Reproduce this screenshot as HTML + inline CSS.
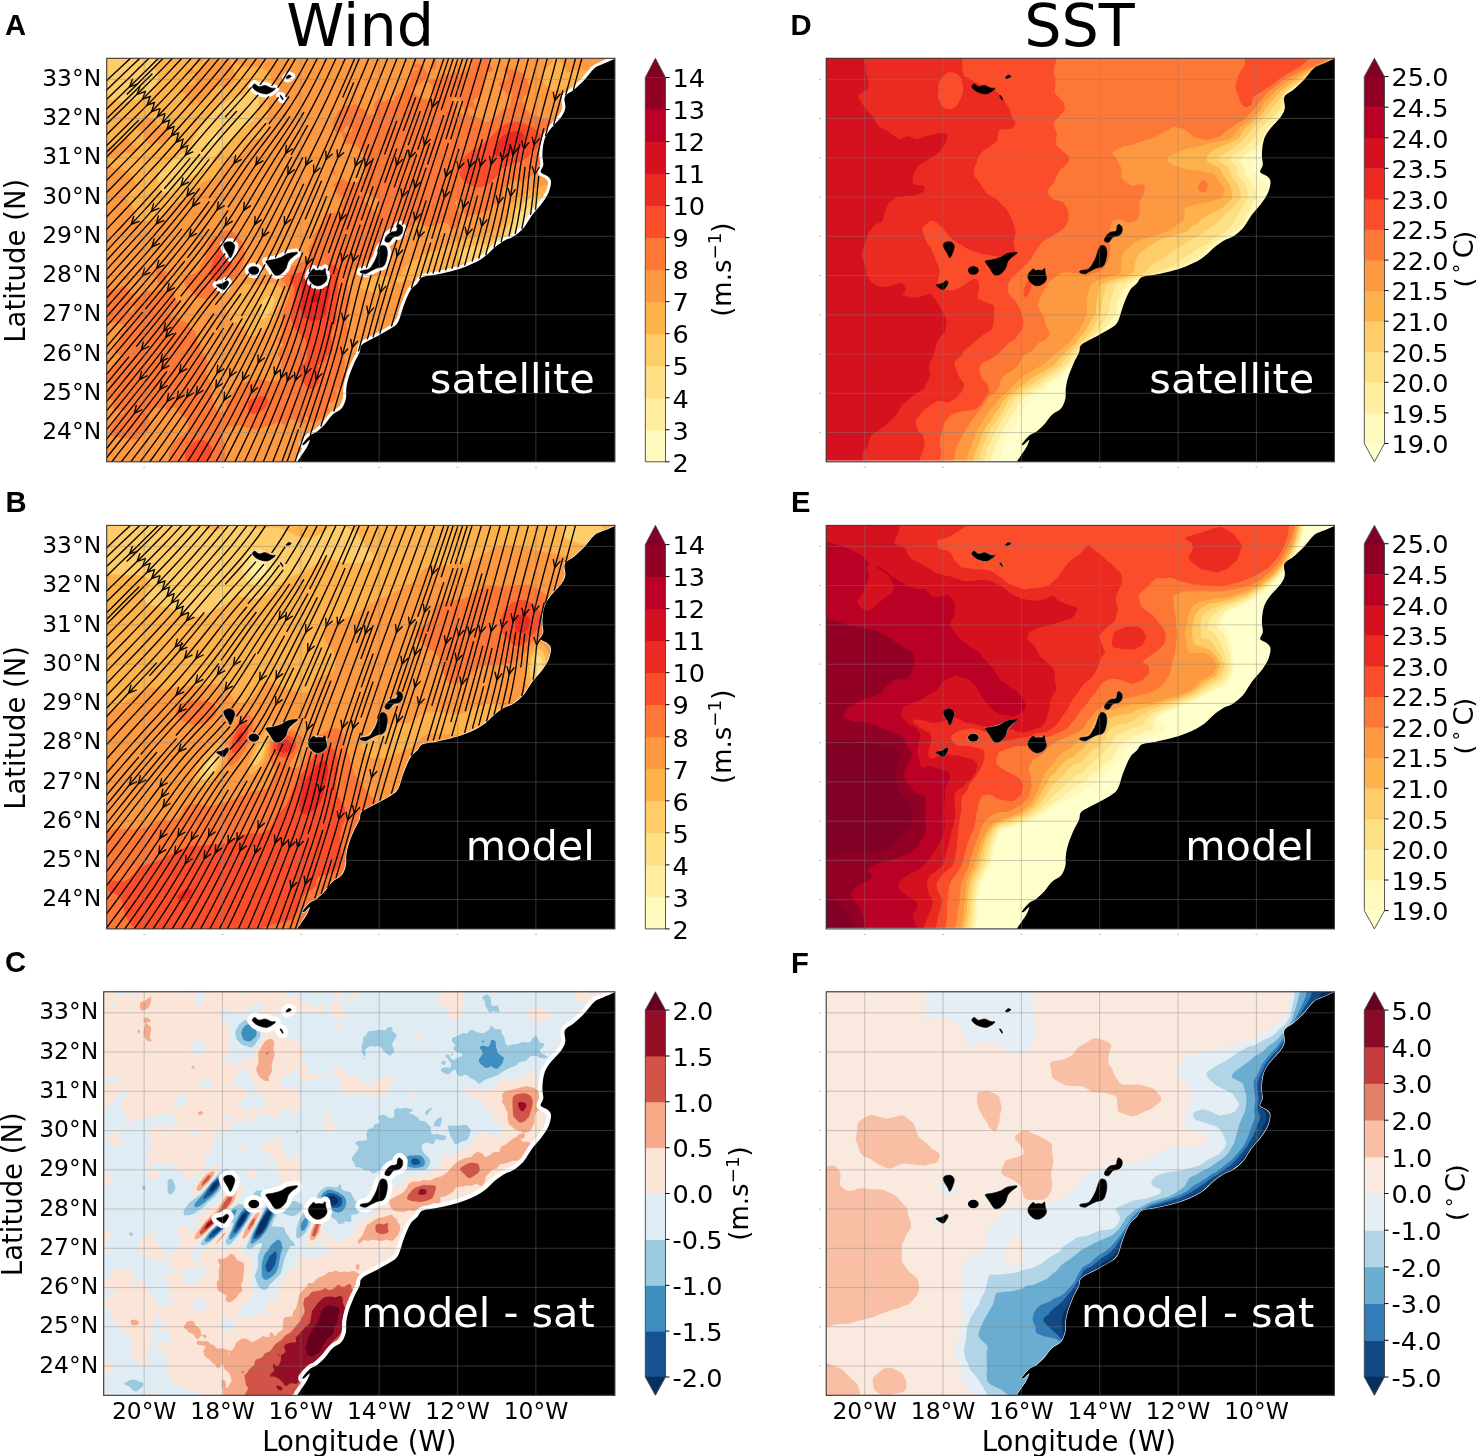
<!DOCTYPE html><html><head><meta charset="utf-8"><title>Wind and SST</title><style>html,body{margin:0;padding:0;background:#fff}svg{display:block}</style></head><body><svg width="1476" height="1456" viewBox="0 0 1476 1456">
<rect width="1476" height="1456" fill="#fff"/>
<clipPath id="cpA"><rect x="0.0" y="0" width="508.2" height="403.5"/></clipPath>
<g transform="translate(106.7,58.3)">
<g clip-path="url(#cpA)">
<rect x="0.0" y="0" width="508.2" height="403.5" fill="#fff9be"/>
<path fill="#ffeda0" fill-rule="evenodd" d="M-8.5 -5.5L514.5 -5.5L514.5 409.5L-8.5 409.5Z"/><path fill="#fee084" fill-rule="evenodd" d="M-8.5 -5.5L514.5 -5.5L514.5 409.5L-8.5 409.5Z"/><path fill="#fecc68" fill-rule="evenodd" d="M-8.5 -5.5L514.5 -5.5L514.5 409.5L-8.5 409.5ZM110.1 74.5L108.5 73.8L106.4 74.5L103.8 79.5L101.0 82.5L100.5 83.5L100.8 84.5L102.5 85.0L105.3 84.5L107.7 83.5L110.3 81.5L111.3 79.5ZM426.5 148.8L423.5 148.1L420.5 149.2L415.3 153.5L412.5 156.6L409.4 161.5L406.3 170.5L401.3 177.5L400.8 179.5L401.6 181.5L403.5 181.9L406.5 180.7L410.5 177.2L416.5 172.9L421.5 168.0L423.0 165.5L427.8 154.5L428.0 151.5Z"/><path fill="#feb24c" fill-rule="evenodd" d="M-8.5 38.0L-2.5 38.0L0.5 40.7L5.5 41.7L9.5 43.2L13.5 42.8L18.5 43.5L30.5 41.6L34.5 39.0L38.5 40.2L40.9 39.5L48.0 31.5L50.4 24.5L51.6 16.5L51.0 14.5L48.2 11.5L47.7 9.5L48.5 7.7L51.5 4.5L51.3 -5.5L514.5 -5.5L514.5 409.5L-8.5 409.5ZM148.5 30.5L146.5 29.6L140.7 31.5L135.5 36.4L125.5 39.9L113.5 47.1L109.5 51.2L104.5 54.3L101.3 59.5L97.2 63.5L95.0 68.5L91.7 72.5L89.5 77.4L86.8 80.5L84.5 86.7L81.5 89.4L79.5 92.5L65.5 101.9L58.5 104.9L51.9 111.5L50.8 113.5L51.5 117.5L50.9 121.5L52.7 125.5L53.2 129.5L55.5 133.5L57.5 134.5L63.7 134.5L65.3 133.5L67.5 130.7L74.5 127.6L78.2 123.5L83.0 119.5L100.5 109.0L102.5 107.0L108.5 97.6L111.5 94.6L114.2 90.5L123.2 83.5L126.7 78.5L131.2 74.5L133.5 71.4L138.5 69.3L141.6 65.5L146.6 62.5L147.9 60.5L149.2 54.5L151.5 49.1L152.5 41.5L151.5 38.6L147.4 36.5L146.9 35.5L148.5 32.4ZM165.5 237.5L163.5 237.3L160.0 238.5L157.5 240.7L155.7 243.5L154.0 248.5L152.9 256.5L153.4 259.5L154.5 260.6L156.5 260.6L159.5 259.0L164.5 252.5L167.6 242.5L167.3 239.5ZM434.8 138.5L432.5 136.8L429.5 137.2L419.5 142.0L414.5 146.1L410.5 148.5L408.8 150.5L405.9 157.5L400.5 168.2L397.5 172.5L392.5 177.8L381.5 185.9L372.5 186.3L362.5 188.6L357.3 190.5L350.2 196.5L349.5 198.5L350.5 202.2L352.0 203.5L358.5 206.0L364.5 206.2L370.5 204.7L374.5 205.2L376.1 204.5L386.5 196.1L398.5 194.4L404.5 192.1L407.5 190.3L410.7 187.5L415.8 181.5L421.5 176.5L426.9 169.5L429.5 163.6L433.0 158.5L435.2 153.5L436.1 149.5L436.4 143.5Z"/><path fill="#fd9941" fill-rule="evenodd" d="M96.0 -5.5L96.4 2.5L91.5 5.7L89.5 6.1L88.6 4.5L89.9 0.5L89.9 -5.5ZM-8.5 88.4L-2.5 88.4L0.5 89.3L2.5 88.7L6.5 86.1L7.5 86.1L9.5 88.6L10.5 89.4L11.5 89.3L12.5 88.5L13.6 84.5L20.5 79.2L21.5 79.6L24.5 85.8L28.5 87.9L29.5 89.0L30.3 91.5L29.8 92.5L24.5 94.9L18.5 94.2L15.1 96.5L12.5 100.1L11.5 100.4L7.5 98.5L2.5 98.6L1.1 100.5L1.1 102.5L2.6 106.5L6.5 109.9L8.5 110.0L11.5 108.0L12.5 108.6L14.5 111.6L15.5 112.1L20.5 111.9L27.2 119.5L28.0 123.5L29.5 126.5L29.3 127.5L27.4 129.5L20.8 133.5L19.3 135.5L19.1 137.5L19.7 139.5L23.0 145.5L26.5 149.5L28.9 153.5L29.2 155.5L27.7 160.5L29.5 162.3L31.5 162.9L44.5 162.4L53.5 158.7L62.9 150.5L65.5 145.4L77.5 141.6L84.5 136.9L86.5 135.0L89.5 129.7L94.5 125.3L98.5 122.5L101.5 121.3L106.5 120.9L109.0 119.5L113.5 114.7L115.5 106.5L120.1 100.5L124.5 98.0L130.5 97.7L137.6 94.5L137.5 93.5L135.7 90.5L136.4 88.5L141.5 84.7L145.5 83.1L148.5 80.8L153.5 79.9L155.5 78.9L160.8 72.5L159.8 67.5L161.3 53.5L161.7 43.5L162.5 38.5L164.1 34.5L164.0 30.5L165.5 25.8L165.6 23.5L164.5 19.4L161.5 14.3L155.5 9.6L149.5 8.2L137.5 9.0L133.5 6.2L129.5 4.9L125.5 1.1L124.5 1.5L123.9 4.5L124.5 6.0L126.8 8.5L126.9 13.5L128.9 16.5L129.6 18.5L128.9 20.5L122.5 28.3L121.5 28.5L117.5 27.7L110.5 28.3L107.5 31.0L102.5 33.3L98.8 40.5L95.5 44.2L92.5 45.0L91.5 44.5L90.5 42.1L89.5 41.3L88.2 42.5L88.0 45.5L86.5 46.8L84.5 46.0L80.8 42.5L79.5 37.1L78.5 35.1L77.5 34.3L74.5 34.7L73.5 34.3L73.5 32.7L76.5 31.0L77.9 28.5L79.5 27.1L86.5 26.8L88.5 25.5L88.5 20.5L89.1 18.5L88.5 15.8L87.5 15.0L81.5 16.2L80.5 15.9L78.9 14.5L78.8 13.5L79.5 12.5L84.5 10.6L86.5 11.4L88.5 14.5L91.8 13.5L92.8 12.5L94.6 7.5L97.5 4.4L100.5 3.2L102.3 1.5L102.7 -5.5L445.9 -5.5L445.8 3.5L444.3 5.5L439.5 9.6L435.1 16.5L435.1 18.5L437.0 24.5L439.0 27.5L445.5 32.4L446.5 32.7L450.5 32.0L453.5 32.6L456.8 30.5L459.5 29.8L461.5 30.5L462.5 33.8L463.5 34.1L469.5 32.9L471.9 31.5L474.4 27.5L478.5 23.0L482.0 20.5L482.6 19.5L482.4 16.5L481.5 14.5L479.5 12.5L476.5 11.2L472.5 11.7L468.5 11.5L463.5 13.9L461.5 14.0L460.0 13.5L457.5 10.6L457.1 6.5L452.3 0.5L452.3 -5.5L514.5 -5.5L514.5 409.5L-8.5 409.5L-8.5 149.6L-2.5 149.6L-1.5 148.6L0.5 148.5L0.2 147.5L-0.9 147.5L-1.5 148.1L-2.5 143.0L-8.5 143.0ZM155.0 6.5L155.5 8.0L156.5 7.9L157.1 6.5L156.5 6.0ZM284.3 226.5L282.3 223.5L281.5 218.5L280.8 217.5L277.5 216.5L271.5 217.2L267.5 218.3L263.5 217.9L261.5 218.5L255.3 223.5L254.0 226.5L253.8 228.5L255.1 230.5L257.5 232.3L263.5 233.2L268.5 234.8L270.5 234.5L281.5 230.0L283.6 228.5ZM284.5 276.5L282.6 279.5L282.1 281.5L284.5 283.6L286.7 286.5L288.2 287.5L290.5 287.9L293.5 287.0L294.7 285.5L295.0 283.5L292.1 278.5L286.5 275.8ZM444.6 128.5L442.8 127.5L438.5 126.4L433.5 128.0L429.5 128.5L416.8 136.5L410.6 139.5L404.1 146.5L399.8 155.5L398.9 160.5L397.0 164.5L393.5 168.9L389.5 171.7L376.5 176.7L372.5 177.3L367.5 179.3L356.5 181.3L351.5 183.2L346.5 184.3L330.5 192.4L324.5 193.1L319.5 195.2L315.5 195.8L311.0 200.5L304.7 203.5L298.5 208.1L297.3 209.5L295.5 214.7L294.5 215.8L290.5 217.9L286.4 216.5L286.2 217.5L288.5 220.1L289.2 224.5L293.5 224.6L299.5 221.9L301.5 221.7L307.5 223.2L313.5 226.8L315.5 227.2L318.5 225.5L323.1 220.5L327.5 218.7L332.5 215.1L339.5 212.9L346.5 213.7L351.5 213.5L356.5 214.3L367.5 213.3L375.5 214.9L378.5 214.9L380.5 213.9L383.5 211.0L389.1 207.5L395.5 205.2L405.5 200.5L415.5 192.3L420.5 185.5L427.5 181.4L431.6 175.5L434.5 168.1L440.5 159.9L442.1 155.5L443.5 148.5L443.5 143.5L445.2 133.5L445.3 130.5ZM170.5 226.4L165.5 224.6L158.5 226.4L146.5 227.3L144.5 226.9L141.5 225.1L138.5 225.6L134.5 227.7L132.6 229.5L129.5 235.8L123.0 244.5L119.5 248.3L119.0 250.5L119.5 252.5L122.5 259.0L126.5 263.8L129.5 264.7L131.5 267.7L137.8 269.5L138.5 270.6L139.5 274.5L142.5 277.9L144.5 278.5L146.5 278.1L158.1 271.5L165.5 263.2L167.5 260.2L170.9 251.5L174.9 243.5L176.7 235.5L176.4 232.5L175.4 230.5L173.5 228.5ZM275.5 281.1L268.5 283.2L267.0 284.5L266.4 286.5L267.2 288.5L269.1 290.5L271.5 295.4L272.6 296.5L274.5 297.1L280.5 294.8L281.5 293.8L281.8 292.5L281.5 288.5L280.2 283.5L279.4 282.5ZM305.5 253.0L302.7 254.5L301.4 256.5L301.3 257.5L303.5 259.6L306.5 260.1L308.5 258.5L308.7 256.5L307.5 253.5ZM374.5 259.5L373.8 261.5L374.8 264.5L374.9 268.5L375.8 269.5L381.5 271.4L386.5 274.5L390.5 274.9L392.5 273.9L393.5 271.5L394.4 265.5L393.5 263.5L390.5 260.3L383.2 258.5L378.5 258.1L376.5 258.4ZM276.5 307.1L275.4 307.5L275.5 309.7L276.5 309.6L277.2 308.5ZM33.1 62.5L34.5 61.7L38.5 61.1L42.5 59.1L48.5 61.3L49.4 62.5L49.5 65.8L50.5 67.1L53.5 68.1L57.5 67.7L59.5 68.9L61.5 71.0L62.8 73.5L63.2 75.5L61.9 80.5L55.5 86.0L53.5 85.9L51.5 84.2L49.5 83.5L43.5 86.5L40.5 85.5L37.8 80.5L37.8 76.5L37.2 74.5L35.5 72.9L31.5 71.9L30.4 70.5Z"/><path fill="#fd7836" fill-rule="evenodd" d="M329.7 -5.5L329.3 2.5L329.7 6.5L328.4 10.5L326.5 11.1L324.5 9.6L324.0 7.5L326.4 0.5L326.4 -5.5ZM416.5 15.1L420.3 21.5L423.1 30.5L422.4 33.5L420.6 35.5L416.5 38.3L415.1 41.5L415.2 42.5L417.5 44.9L418.2 48.5L420.1 52.5L425.5 56.8L429.5 57.4L434.5 60.1L441.5 61.3L443.5 62.5L447.5 67.9L450.9 69.5L453.4 73.5L458.4 77.5L462.5 84.5L466.5 86.4L467.5 87.4L468.7 90.5L468.5 93.7L467.5 94.8L466.5 95.0L463.5 94.4L460.6 92.5L458.5 89.0L453.9 86.5L451.5 86.7L449.1 89.5L449.5 94.6L445.5 98.1L442.5 99.0L441.5 99.9L438.5 108.3L435.5 110.7L432.3 114.5L429.5 116.2L424.5 118.0L417.5 122.7L413.5 123.1L408.5 121.9L405.5 122.9L402.5 126.5L398.5 128.4L396.7 130.5L396.2 132.5L396.3 138.5L395.4 140.5L389.5 145.4L385.5 147.2L381.5 152.0L372.5 155.9L366.5 156.0L361.5 158.9L359.5 157.8L356.5 153.9L355.5 153.2L354.9 153.5L355.5 155.5L353.3 160.5L353.3 165.5L351.5 168.2L349.5 169.5L345.5 170.7L343.6 170.5L341.5 165.7L337.5 164.2L335.5 164.2L327.5 167.7L323.5 168.3L318.5 167.4L312.5 163.8L310.5 163.4L308.5 163.9L305.9 165.5L302.6 169.5L301.5 170.1L297.5 169.5L294.5 171.7L280.5 175.3L278.4 176.5L275.5 182.3L273.2 184.5L269.4 190.5L268.9 192.5L269.1 195.5L268.4 197.5L265.0 199.5L257.5 202.1L253.5 207.0L245.5 211.4L240.6 222.5L240.4 227.5L241.5 234.8L243.1 239.5L243.6 246.5L241.5 251.5L240.2 256.5L240.7 263.5L239.5 267.5L240.9 274.5L237.8 282.5L237.0 289.5L236.9 297.5L238.6 305.5L236.8 314.5L237.5 316.6L241.5 318.2L241.5 319.5L236.9 323.5L233.5 329.2L230.5 330.5L229.6 332.5L229.9 337.5L229.1 340.5L226.5 343.5L222.5 344.4L221.6 345.5L221.3 347.5L222.0 350.5L221.8 352.5L215.8 359.5L206.5 365.1L203.8 364.5L201.2 359.5L199.5 357.9L198.5 357.9L197.7 358.5L197.7 359.5L199.2 363.5L198.5 365.3L191.5 364.3L187.5 361.8L184.5 361.2L182.5 362.0L180.5 365.1L178.5 366.5L176.5 366.2L173.5 363.4L171.5 363.3L166.5 366.8L161.5 366.8L154.5 370.4L147.5 371.0L136.5 368.1L130.5 367.3L125.5 368.3L121.5 368.4L118.7 369.5L117.7 370.5L115.4 378.5L117.8 384.5L118.9 391.5L118.5 396.5L119.0 409.5L64.2 409.5L64.2 403.5L62.3 399.5L62.0 397.5L64.3 388.5L69.5 381.7L78.5 374.5L81.3 370.5L81.7 368.5L81.0 364.5L78.5 359.8L72.3 354.5L70.8 350.5L68.5 349.2L66.5 349.3L63.5 351.9L61.5 352.4L57.5 349.6L56.5 349.5L53.5 350.5L48.5 349.5L46.5 350.1L43.5 353.0L41.5 353.0L40.7 354.5L42.6 362.5L41.2 367.5L41.5 371.9L40.2 373.5L34.5 376.5L32.5 379.6L30.5 381.0L26.5 381.4L20.5 379.5L15.5 379.7L11.5 378.6L6.5 378.2L4.5 376.7L3.4 374.5L3.2 371.5L8.1 362.5L9.5 360.8L11.7 359.5L14.2 356.5L17.5 354.6L18.0 353.5L17.5 352.4L13.5 350.7L9.5 352.1L7.5 351.4L6.5 349.5L6.4 347.5L8.6 342.5L5.5 341.9L2.5 340.4L-0.1 338.5L-1.1 336.5L-0.2 330.5L3.0 326.5L3.3 323.5L2.5 322.0L0.5 320.8L-0.5 321.0L-2.5 322.8L-8.5 322.8L-8.5 314.3L-0.5 314.5L1.5 313.6L7.9 308.5L9.2 306.5L10.3 302.5L14.2 300.5L14.6 298.5L13.7 296.5L12.5 295.6L9.5 294.9L8.0 293.5L6.8 287.5L7.5 285.8L10.5 284.1L12.5 281.6L13.3 278.5L12.5 275.5L16.9 273.5L18.3 270.5L18.5 268.5L17.5 267.1L15.5 265.7L8.5 263.9L4.5 265.0L-8.5 264.8L-8.5 227.2L-2.5 227.2L1.5 230.1L8.5 231.4L11.5 230.8L14.5 227.6L19.5 228.0L20.5 229.0L20.8 232.5L21.5 234.1L25.7 235.5L26.7 236.5L26.4 237.5L22.9 240.5L22.9 242.5L24.5 243.8L26.4 242.5L29.2 239.5L32.8 237.5L36.5 232.9L48.5 233.0L52.5 231.3L61.5 232.8L66.5 231.1L68.4 237.5L68.5 241.1L70.7 244.5L71.0 247.5L70.3 249.5L69.4 250.5L63.5 252.7L62.7 254.5L63.3 256.5L65.5 258.9L68.5 258.5L71.5 259.1L75.5 262.9L80.9 264.5L81.8 267.5L83.2 269.5L89.0 273.5L89.8 282.5L91.5 284.8L94.2 286.5L93.1 291.5L96.8 295.5L97.8 298.5L100.2 301.5L100.3 311.5L99.2 315.5L103.2 324.5L106.4 328.5L106.4 329.5L104.2 332.5L104.1 333.5L106.5 340.5L106.1 346.5L111.5 353.8L119.5 353.1L120.5 351.5L118.7 346.5L118.9 343.5L120.1 342.5L123.5 341.1L125.2 339.5L128.4 329.5L130.5 327.6L137.5 323.9L145.5 322.5L151.5 319.9L161.5 323.5L162.5 323.5L165.5 321.5L168.5 323.0L170.5 323.2L172.5 322.1L177.1 317.5L177.9 314.5L177.5 313.2L175.0 310.5L174.4 301.5L171.8 298.5L171.0 296.5L172.9 290.5L174.5 288.8L176.5 287.7L176.6 286.5L175.5 285.1L172.2 283.5L171.2 281.5L171.5 280.5L174.1 277.5L175.1 274.5L174.7 262.5L175.6 254.5L180.6 243.5L182.7 236.5L183.0 233.5L181.6 229.5L175.5 222.5L171.9 216.5L172.5 215.5L174.5 214.4L177.5 211.3L183.5 208.0L190.5 206.6L192.8 205.5L199.5 200.5L201.3 198.5L202.5 195.5L201.9 191.5L202.3 188.5L205.9 183.5L207.0 177.5L213.5 166.8L219.5 162.5L218.8 158.5L219.3 156.5L220.1 155.5L227.5 154.1L229.5 154.5L232.5 156.3L233.5 156.5L234.8 155.5L235.4 152.5L234.1 147.5L237.0 144.5L237.3 140.5L235.5 138.2L231.5 136.8L229.9 135.5L229.4 131.5L228.5 129.7L226.1 127.5L226.6 126.5L232.5 121.8L235.5 120.6L237.5 121.3L241.5 124.4L245.5 124.3L249.5 125.1L252.6 121.5L258.7 116.5L257.3 109.5L258.3 101.5L255.5 93.5L251.5 89.0L247.8 86.5L242.5 85.6L237.4 85.5L236.5 83.9L236.6 79.5L235.5 75.5L234.5 74.8L229.5 74.2L228.3 72.5L226.4 67.5L226.3 63.5L230.3 55.5L232.5 52.1L237.0 49.5L238.5 47.1L239.5 46.7L242.5 48.2L244.5 48.1L248.5 45.0L253.5 49.8L258.5 51.2L259.3 52.5L259.8 55.5L260.5 56.0L264.5 56.4L267.7 55.5L268.6 54.5L268.6 53.5L267.4 50.5L267.2 47.5L268.2 44.5L269.5 42.6L271.5 41.5L275.5 43.1L277.5 43.1L282.5 40.6L285.1 42.5L286.6 42.5L288.7 40.5L289.2 37.5L293.8 34.5L296.9 29.5L303.6 23.5L304.2 22.5L303.8 17.5L304.5 14.5L307.5 11.7L310.8 11.5L312.0 10.5L311.5 9.1L307.5 10.1L306.5 9.3L306.5 7.5L307.5 6.3L309.5 5.4L312.0 5.5L316.0 7.5L320.2 14.5L320.9 16.5L316.5 23.5L306.0 29.5L304.3 33.5L304.4 34.5L309.5 36.4L313.5 39.2L316.5 40.4L324.5 41.4L325.5 41.1L326.6 39.5L325.3 32.5L326.1 28.5L323.5 24.8L322.5 24.3L319.5 24.3L318.3 23.5L318.8 22.5L320.5 21.7L324.5 21.9L329.8 20.5L332.0 19.5L335.2 16.5L336.5 15.9L342.5 16.8L345.5 14.4L347.5 13.5L353.5 14.4L362.5 11.7L364.8 9.5L365.5 5.5L364.7 0.5L364.7 -5.5L382.2 -5.5L382.2 0.5L381.5 2.5L381.5 4.5L382.5 6.5L386.4 9.5L386.5 11.5L384.5 13.0L380.5 14.2L378.6 16.5L377.7 18.5L378.6 22.5L375.3 28.5L374.5 33.5L371.5 39.2L368.0 40.5L367.1 41.5L366.7 43.5L369.3 51.5L368.5 52.3L367.5 52.1L365.3 49.5L363.5 48.9L361.5 50.5L361.1 55.5L361.5 56.5L368.5 58.5L374.7 61.5L377.5 63.7L379.5 64.1L383.2 62.5L386.0 59.5L390.5 57.1L393.3 54.5L395.5 51.5L401.5 49.5L402.7 48.5L403.7 46.5L404.2 40.5L405.8 36.5L405.5 34.7L404.5 34.2L401.5 36.0L400.5 35.8L391.6 26.5L391.8 25.5L392.8 24.5L397.5 22.4L400.5 22.3L401.5 20.8L401.1 18.5L397.6 11.5L397.5 9.0L398.5 8.8L401.5 11.0L406.5 11.3L412.5 13.1ZM408.1 42.5L408.5 43.6L410.5 44.1L412.7 43.5L413.4 42.5L412.3 41.5L410.5 41.0L408.7 41.5ZM26.5 246.7L24.5 247.0L23.1 249.5L23.5 253.6L24.5 254.3L25.5 253.5L27.9 248.5L27.9 247.5ZM39.5 293.5L39.4 294.5L40.4 295.5L41.5 295.1L41.3 293.5L40.5 293.1ZM257.5 135.1L256.9 136.5L257.0 139.5L255.5 142.6L259.5 143.5L261.5 145.5L263.5 149.2L268.5 152.9L270.5 153.2L271.5 152.6L272.5 150.8L273.5 146.5L273.5 143.1L272.5 141.0L266.5 138.6L261.5 135.3ZM244.5 68.6L242.5 67.1L240.5 67.2L239.5 67.8L236.5 72.5L236.5 74.1L241.5 74.9L244.5 73.6L245.6 71.5ZM345.7 40.5L344.9 41.5L344.7 43.5L348.5 45.5L349.1 47.5L346.6 52.5L346.9 53.5L355.0 55.5L357.0 56.5L357.5 57.4L358.1 56.5L357.6 55.5L357.8 52.5L355.5 47.5L354.5 43.5L352.6 41.5L349.5 39.8L347.5 39.7ZM351.5 141.3L349.5 142.5L348.7 144.5L349.6 150.5L350.5 151.9L354.5 153.1L354.8 152.5L351.6 149.5L351.8 148.5L356.5 145.6L357.3 143.5L356.5 142.1ZM257.2 36.5L257.6 37.5L256.2 39.5L254.5 40.1L253.4 39.5L253.0 38.5L253.5 37.2L255.5 36.2ZM245.9 41.5L246.5 41.3L247.5 41.9L247.5 44.0L245.5 42.6ZM224.5 111.5L225.5 110.8L227.5 111.3L229.0 115.5L227.5 115.8L225.1 114.5L224.3 113.5ZM474.5 121.1L476.1 121.5L478.3 124.5L480.5 126.1L481.1 127.5L481.4 135.5L480.5 137.0L479.5 137.5L477.5 137.5L475.5 136.8L473.6 134.5L473.6 130.5L471.9 125.5L472.5 123.2ZM479.5 141.9L480.8 143.5L480.6 146.5L477.1 150.5L473.9 159.5L472.5 160.6L470.5 160.5L469.0 158.5L468.5 155.5L470.9 151.5L471.1 148.5L476.5 145.0ZM468.5 148.7L469.1 149.5L466.1 153.5L464.5 154.2L463.6 153.5L463.4 151.5L464.5 149.9ZM125.5 173.2L127.5 174.5L135.5 183.5L137.5 193.5L137.9 200.5L134.9 208.5L132.5 212.4L131.5 215.6L130.2 217.5L124.7 222.5L121.5 227.0L115.5 233.1L108.6 235.5L104.5 239.1L102.5 240.1L95.5 240.3L90.5 238.7L87.6 236.5L81.5 229.7L78.5 227.5L77.9 224.5L78.5 220.4L80.1 218.5L87.5 215.4L90.6 213.5L92.4 211.5L94.4 206.5L97.8 200.5L101.2 185.5L105.9 180.5L107.5 178.0L111.5 176.8L115.5 173.8L118.7 172.5L121.5 172.1ZM49.5 209.9L50.5 209.7L54.3 211.5L57.5 212.0L59.7 213.5L60.2 214.5L59.1 218.5L59.5 223.5L58.9 225.5L57.5 226.6L54.5 226.1L51.6 224.5L50.8 223.5L50.3 216.5L48.1 211.5ZM17.4 218.5L18.5 217.6L20.5 217.5L21.9 218.5L22.2 220.5L20.5 221.8L18.5 221.7L17.1 220.5Z"/><path fill="#fc4d2a" fill-rule="evenodd" d="M433.5 75.6L434.2 77.5L431.5 88.3L429.5 90.4L425.5 92.5L421.7 98.5L414.5 103.0L403.5 106.5L396.1 109.5L392.7 112.5L390.2 117.5L388.6 119.5L382.5 125.2L379.5 127.3L373.5 129.2L369.5 129.0L360.3 125.5L356.7 122.5L353.6 118.5L352.6 114.5L353.9 111.5L354.2 107.5L356.1 101.5L357.5 98.5L362.5 94.5L365.5 91.2L370.5 90.3L373.7 86.5L379.5 82.6L389.5 73.8L394.5 67.8L396.3 66.5L406.5 63.1L409.5 62.9L419.5 65.9L426.5 69.1ZM125.5 189.8L127.0 192.5L127.5 196.5L125.9 203.5L123.2 209.5L120.1 213.5L113.5 219.0L108.5 221.7L106.5 221.6L103.8 217.5L103.2 214.5L106.3 201.5L112.5 191.0L114.5 189.2L117.5 188.5ZM226.5 206.8L228.7 207.5L230.5 208.9L231.9 211.5L232.5 214.5L231.4 222.5L231.6 232.5L229.7 242.5L229.6 261.5L224.7 273.5L224.1 276.5L226.5 291.5L224.5 295.0L219.5 298.2L218.5 301.5L216.5 304.1L213.5 306.3L211.4 306.5L211.0 307.5L211.8 311.5L211.5 316.5L212.7 321.5L212.5 323.1L211.5 325.3L208.7 328.5L206.5 330.3L204.5 330.9L200.2 328.5L196.5 324.5L195.5 322.5L194.0 316.5L191.8 312.5L192.2 309.5L193.3 307.5L197.7 304.5L199.9 301.5L200.7 293.5L199.8 289.5L199.2 281.5L198.5 280.1L195.5 277.9L188.1 269.5L185.9 265.5L184.3 259.5L184.1 256.5L184.7 249.5L188.2 235.5L187.2 228.5L183.2 222.5L183.2 219.5L184.0 217.5L185.5 216.5L193.5 214.0L206.5 211.2L217.5 206.4L220.5 206.1ZM158.6 338.5L160.8 341.5L161.3 343.5L160.1 347.5L157.5 351.4L152.2 354.5L149.5 355.5L145.5 355.8L143.1 354.5L141.6 352.5L141.1 350.5L141.3 345.5L142.5 342.3L144.5 341.0L149.5 340.2L153.5 337.4L156.5 337.4ZM101.7 384.5L104.9 388.5L105.7 393.5L104.6 399.5L100.5 403.5L100.5 409.5L80.2 409.5L80.2 403.5L78.5 400.5L78.2 395.5L79.1 392.5L81.8 387.5L86.5 383.9L91.5 381.7L97.5 382.0Z"/><path fill="#eb2b21" fill-rule="evenodd" d="M417.5 76.4L417.9 79.5L416.2 86.5L413.8 89.5L407.5 94.8L402.5 97.6L397.5 98.9L390.5 98.1L387.8 96.5L386.6 92.5L387.6 88.5L396.0 77.5L403.5 73.9L409.5 72.5L413.9 73.5ZM213.5 218.3L220.5 220.5L221.9 221.5L222.8 223.5L223.3 230.5L222.7 237.5L219.8 249.5L219.7 255.5L218.6 257.5L212.5 261.7L205.5 262.5L202.5 262.2L199.5 260.6L196.5 257.5L193.6 249.5L195.1 232.5L194.4 222.5L196.3 220.5L198.5 219.9Z"/><path fill="#d6111f" fill-rule="evenodd" d="M210.5 234.6L211.5 236.5L211.1 241.5L210.5 242.6L207.5 244.8L205.5 244.7L203.8 242.5L204.4 238.5L207.5 235.4L209.5 234.5Z"/>
<path d="M509.3 0.0C506.0 1.8 499.8 4.0 496.2 5.7C492.6 7.4 490.7 7.3 487.5 10.1C484.3 12.8 480.6 18.6 477.2 22.2C473.8 25.8 470.0 29.0 466.8 31.7C463.6 34.4 459.6 35.6 458.2 38.6C456.8 41.6 459.2 46.5 458.6 49.8C458.0 53.1 457.4 54.6 454.7 58.4C452.0 62.1 445.5 68.3 442.6 72.3C439.7 76.3 438.5 78.6 437.4 82.6C436.2 86.6 435.8 92.5 435.7 96.5C435.6 100.5 436.9 103.9 436.6 106.8C436.3 109.7 433.3 111.8 434.0 113.7C434.7 115.6 439.2 116.4 440.9 118.0C442.6 119.6 444.1 120.5 444.3 123.2C444.5 126.0 443.5 130.6 441.8 134.5C440.1 138.4 436.8 142.9 434.0 146.6C431.2 150.3 428.2 153.0 425.3 156.9C422.4 160.8 419.9 166.3 416.7 169.9C413.5 173.5 409.3 176.5 406.3 178.5C403.3 180.5 401.9 180.0 398.9 181.7C395.9 183.4 392.5 185.4 388.5 188.6C384.5 191.8 380.4 197.1 374.7 200.7C368.9 204.3 361.5 207.6 354.0 210.2C346.5 212.8 336.1 214.9 329.8 216.3C323.5 217.7 319.2 217.4 316.0 218.8C312.8 220.2 312.8 222.7 310.8 224.9C308.8 227.1 306.2 228.1 303.9 231.8C301.6 235.6 299.0 242.2 297.0 247.4C295.0 252.6 293.8 259.2 291.8 262.9C289.8 266.6 288.4 267.4 284.9 269.8C281.4 272.2 275.9 274.9 271.0 277.6C266.1 280.3 258.5 283.5 255.5 286.2C252.5 288.9 254.3 290.7 252.9 294.0C251.5 297.3 248.8 301.8 246.9 306.1C245.0 310.4 242.9 315.9 241.7 319.9C240.5 323.9 240.0 326.9 239.6 330.3C239.2 333.8 239.9 337.3 239.1 340.6C238.3 343.9 237.0 347.6 234.8 350.2C232.6 352.8 229.0 353.5 226.1 356.2C223.2 358.9 220.4 363.6 217.5 366.6C214.6 369.6 211.2 372.6 208.9 374.3C206.6 376.0 205.7 375.1 203.5 377.0C201.3 378.9 197.0 383.9 196.0 385.5C195.0 387.1 196.3 387.2 197.5 386.5C198.7 385.8 202.6 381.1 203.0 381.5C203.4 381.9 201.8 386.0 200.2 389.0C198.6 392.0 194.9 396.8 193.3 399.4C191.7 402.0 191.9 400.2 190.7 404.5C189.5 408.8 124.4 421.6 186.0 425.0C247.6 428.4 497.7 500.0 560.0 425.0C622.3 350.0 567.3 46.7 560.0 -25.0C552.7 -96.7 524.5 -9.2 516.0 -5.0C507.6 -0.8 512.6 -1.8 509.3 0.0Z" fill="#fff" stroke="#fff" stroke-width="6.1" stroke-linejoin="round"/><polygon points="159.3,202.7 166.0,201.5 174.5,199.0 180.6,195.4 189.2,193.9 190.6,195.1 185.5,199.0 181.3,203.9 179.4,210.0 174.5,215.5 169.7,217.1 166.6,214.9 163.6,210.0 160.5,205.7" fill="#fff" stroke="#fff" stroke-width="7.6" stroke-linejoin="round"/><polygon points="206.9,210.6 209.0,212.2 212.3,211.8 216.0,212.0 218.4,210.0 219.1,214.9 220.3,219.7 218.4,224.0 213.6,227.1 208.7,227.1 203.8,223.4 201.7,218.5 203.2,214.3" fill="#fff" stroke="#fff" stroke-width="7.6" stroke-linejoin="round"/><polygon points="274.5,187.4 278.8,188.0 280.6,192.9 280.0,200.2 277.0,207.6 269.7,210.0 263.6,213.0 258.7,215.5 253.8,214.3 254.4,212.4 262.3,210.6 266.6,205.1 269.7,199.0 272.1,191.7" fill="#fff" stroke="#fff" stroke-width="7.6" stroke-linejoin="round"/><polygon points="292.8,166.1 295.9,169.1 295.3,174.6 291.6,177.7 286.7,178.9 282.5,183.8 278.2,182.6 280.0,177.7 284.3,174.0 289.8,172.8 291.0,167.9" fill="#fff" stroke="#fff" stroke-width="7.6" stroke-linejoin="round"/><polygon points="117.0,186.2 120.0,183.8 124.9,183.8 128.0,187.4 127.0,192.9 123.7,199.6 121.3,195.4 118.2,190.5" fill="#fff" stroke="#fff" stroke-width="7.6" stroke-linejoin="round"/><polygon points="109.9,226.5 115.8,225.2 120.0,222.4 121.9,224.6 118.8,230.1 116.4,231.3 112.1,228.9" fill="#fff" stroke="#fff" stroke-width="7.6" stroke-linejoin="round"/><polygon points="145.6,28.4 148.1,25.6 152.3,28.4 158.4,27.1 164.5,29.6 168.8,30.2 164.5,33.8 159.7,35.7 153.6,34.5 148.7,32.0" fill="#fff" stroke="#fff" stroke-width="7.6" stroke-linejoin="round"/><polygon points="179.4,19.2 182.2,16.8 184.7,18.0 182.8,19.5 180.4,20.2" fill="#fff" stroke="#fff" stroke-width="7.6" stroke-linejoin="round"/><polygon points="173.3,37.3 174.9,37.7 176.5,41.2 175.3,40.9" fill="#fff" stroke="#fff" stroke-width="7.6" stroke-linejoin="round"/><ellipse cx="147.1" cy="212.2" rx="8.9" ry="7.7" fill="#fff"/>
<path d="M24.1 -0.4L13.9 9.2L3.7 18.8L-0.6 23.0M33.5 -0.4L23.4 9.3L13.2 18.9L3.1 28.6L-1.2 32.7M42.8 -0.5L32.8 9.3L22.8 19.1L12.7 28.8L2.6 38.5L-0.3 41.2M52.2 -0.5L42.3 9.4L32.4 19.2L22.3 29.0L12.3 38.7L2.2 48.5L-0.7 51.3M56.9 -0.5L47.1 9.5L37.2 19.3L27.2 29.2L20.0 36.1M66.3 -0.6L56.6 9.6L46.8 19.6L36.9 29.5L27.0 39.3L17.0 49.1L7.0 58.9L-0.2 65.9M75.6 -0.6L66.1 9.7L56.5 19.8L46.7 29.9L36.9 39.8L27.0 49.7L17.0 59.5L7.0 69.4L-0.1 76.4M85.0 -0.6L75.7 9.8L66.2 20.1L56.5 30.2L46.8 40.3L37.0 50.3L27.1 60.2L17.2 70.1L7.3 80.0L-1.2 88.5M94.4 -0.7L85.2 9.9L75.8 20.3L66.4 30.6L56.8 40.8L47.1 50.9L37.4 61.0L27.5 71.0L17.7 80.9L7.8 90.8L-0.7 99.3M103.7 -0.7L94.7 10.0L85.5 20.5L76.2 31.0L66.7 41.3L57.2 51.5L47.5 61.7L37.8 71.8L28.1 81.8L18.2 91.8L8.4 101.7L-0.0 110.3M113.1 -0.8L104.2 10.1L95.2 20.7L85.9 31.3L76.6 41.7L67.2 52.1L57.7 62.3L48.1 72.5L38.4 82.7L28.7 92.7L18.9 102.8L9.1 112.8L-0.6 122.8M122.5 -0.8L113.7 10.2L104.8 20.9L95.7 31.5L86.4 42.0L77.1 52.5L67.7 62.9L58.2 73.2L48.7 83.5L39.1 93.6L29.4 103.8L19.7 113.8L10.0 123.9L0.2 133.9L-1.2 135.4M131.8 -0.8L123.3 10.2L114.4 21.1L105.3 31.7L96.1 42.3L86.9 52.8L77.6 63.2L68.2 73.7L58.8 84.1L49.4 94.4L39.8 104.6L30.2 114.8L20.5 124.9L10.8 135.0L1.1 145.1L-0.2 146.6M141.2 -0.9L132.8 10.3L124.1 21.3L115.0 32.0L105.8 42.5L96.6 53.0L87.3 63.5L78.1 74.0L68.8 84.5L59.5 95.0L50.1 105.4L40.6 115.6L31.0 125.9L21.4 136.0L11.8 146.2L2.1 156.3L-0.6 159.2M150.5 -0.9L142.4 10.4L133.8 21.5L124.8 32.2L115.6 42.8L106.3 53.2L97.0 63.7L87.8 74.3L78.7 84.9L69.5 95.5L60.2 106.0L50.9 116.4L41.5 126.8L32.0 137.0L22.4 147.2L12.8 157.4L3.2 167.6L-0.9 172.0M159.8 -1.0L151.9 10.6L143.5 21.8L134.7 32.6L125.5 43.1L116.1 53.6L106.8 64.0L97.6 74.6L88.5 85.2L79.5 95.9L70.4 106.6L61.2 117.1L52.0 127.6L42.6 138.0L33.1 148.4L23.6 158.6L14.1 168.9L4.5 179.1L-0.9 185.0M183.2 -1.1L176.0 10.9L168.4 22.6L164.9 27.5M201.8 -1.2L195.3 11.2L188.4 23.3L181.0 35.2L178.8 38.6M211.2 -1.2L204.9 11.3L198.3 23.6L191.4 35.8L184.0 47.7L176.1 59.2L167.8 70.5L159.3 81.7L150.9 92.8L142.6 104.1L134.6 115.6L126.8 127.2L119.0 138.9L111.1 150.4L103.1 161.9L94.9 173.2L86.5 184.4L77.8 195.5L69.1 206.4L60.2 217.2L51.3 228.0L42.3 238.8L33.3 249.4L24.2 260.1L15.1 270.7L6.0 281.3L-0.5 288.9M220.5 -1.3L214.5 11.4L208.2 23.9L201.8 36.3L194.9 48.5L187.6 60.5L180.0 72.2L172.2 83.8L164.3 95.4L156.5 107.0L149.0 118.8L141.6 130.7L134.2 142.6L126.7 154.5L119.2 166.2L111.3 177.8L103.1 189.2L94.6 200.3L85.9 211.2L77.1 222.1L68.3 233.0L59.6 244.0L50.8 254.9L41.9 265.7L33.0 276.5L24.0 287.2L15.0 298.0L6.0 308.7L-0.4 316.3M229.9 -1.3L224.0 11.4L218.1 24.1L211.9 36.7L205.5 49.1L198.8 61.4L191.9 73.6L184.7 85.6L177.5 97.6L170.3 109.6L163.3 121.7L156.3 133.9L149.4 146.0L142.4 158.2L135.2 170.2L127.8 182.1L126.7 183.7M239.2 -1.3L233.6 11.5L227.8 24.3L222.0 37.0L216.0 49.6L209.7 62.2L203.3 74.6L196.8 87.0L190.1 99.3L183.5 111.6L177.0 124.0L170.5 136.4L164.0 148.8L157.5 161.2L150.8 173.5L143.9 185.7L136.5 197.6L128.5 209.1L119.9 220.1L118.6 221.6M248.6 -1.3L243.1 11.5L237.5 24.4L231.9 37.2L226.2 50.0L220.3 62.7L214.4 75.4L208.3 88.0L202.2 100.6L196.0 113.2L189.9 125.7L183.8 138.4L177.7 151.0L171.6 163.5L165.4 176.1L159.0 188.5L152.3 200.8L149.3 206.0M253.3 -1.3L247.8 11.6L242.3 24.4L236.8 37.3L236.0 39.1M262.7 -1.3L257.3 11.6L252.0 24.5L246.6 37.4L241.2 50.4L235.7 63.3L230.2 76.1L224.7 89.0L219.1 101.8L213.5 114.7L207.9 127.5L202.3 140.3L196.7 153.1L191.0 166.0L185.4 178.7L179.7 191.5L178.0 195.2M272.1 -1.4L266.8 11.6L261.5 24.6L256.3 37.6L251.0 50.5L245.8 63.5L240.5 76.5L235.2 89.4L229.8 102.4L224.5 115.3L219.2 128.3L213.8 141.2L208.4 154.1L203.1 167.1L197.7 180.0L192.4 192.9M281.5 -1.4L276.3 11.6L271.1 24.6L266.0 37.7L260.8 50.7L255.7 63.7L250.5 76.7L245.4 89.8L240.3 102.8L235.1 115.8L230.0 128.8L224.8 141.8L219.7 154.9L214.6 167.9L209.4 180.9L204.4 194.0L199.6 207.1L195.0 220.4L190.7 233.7L186.5 247.0L182.1 260.3L177.4 273.5L172.4 286.6L167.0 299.5L161.5 312.4L155.8 325.2L150.0 337.9L144.1 350.6L138.0 363.2L131.9 375.8L125.6 388.3L119.2 400.8L117.3 404.3M290.9 -1.4L285.7 11.7L280.6 24.7L275.6 37.7L270.5 50.8L265.5 63.9L260.4 76.9L255.4 90.0L250.4 103.1L245.5 116.2L240.5 129.2L235.5 142.3L230.6 155.4L225.6 168.5L220.7 181.6L215.9 194.8L211.4 208.0L210.8 209.9M300.2 -1.4L295.2 11.7L290.2 24.7L285.1 37.8L280.2 50.9L275.2 64.0L270.3 77.1L265.3 90.2L260.4 103.3L255.6 116.4L250.7 129.6L245.9 142.7L241.1 155.9L236.3 169.0L231.6 182.2L226.9 195.4L222.6 208.7L221.4 212.5M309.6 -1.4L304.7 11.7L299.7 24.8L294.8 37.9L289.9 51.0L284.9 64.1L280.1 77.2L275.2 90.4L270.4 103.5L265.6 116.7L260.9 129.8L256.1 143.0L251.4 156.2L246.8 169.4L242.2 182.6L237.7 195.9L233.5 209.2L229.7 222.7L226.4 236.3L223.5 250.0L220.7 263.7L217.6 277.4L214.0 290.9L210.0 304.3L205.6 317.6L201.1 330.9L196.5 344.1L191.9 357.3L187.2 370.5L182.4 383.7L177.7 396.8L174.9 404.3M319.0 -1.4L314.2 11.7L309.4 24.9L304.6 38.0L299.7 51.2L294.9 64.3L290.1 77.4L285.3 90.6L280.5 103.8L275.8 116.9L271.1 130.1L266.4 143.3L261.8 156.6L257.2 169.8L252.7 183.0L248.3 196.3L244.1 209.7L240.3 223.2L237.0 236.7L234.0 250.4L231.1 264.1L228.0 277.8L224.5 291.3L220.7 304.8L216.5 318.2L212.3 331.5L207.9 344.8L203.5 358.1L199.1 371.4L194.6 384.7L190.1 397.9L188.2 403.6M328.4 -1.4L323.7 11.8L319.1 25.0L314.4 38.2L309.7 51.4L305.0 64.5L300.2 77.7L295.5 90.9L290.8 104.1L286.1 117.3L281.4 130.5L276.8 143.7L272.3 156.9L267.8 170.2L263.3 183.5L258.9 196.8L254.8 210.1M337.7 -1.4L333.2 11.8L328.7 25.1L324.2 38.3L319.6 51.5L315.0 64.8L310.4 78.0L305.8 91.2L301.2 104.4L296.6 117.6L292.0 130.9L287.4 144.1L282.9 157.4L278.4 170.6L274.0 183.9L270.9 193.4M342.4 -1.5L338.0 11.8L333.5 25.1L329.1 38.4L324.6 51.6L320.1 64.9L315.5 78.1L311.0 91.4M347.1 -1.5L342.7 11.8L338.4 25.1L334.0 38.4L329.5 51.7L325.1 65.0L320.6 78.3L316.2 91.5L311.7 104.8L307.2 118.1L302.7 131.3L298.2 144.6L293.7 157.8L289.9 169.2M351.8 -1.5L347.5 11.9L343.2 25.2L338.8 38.5L334.5 51.8M356.5 -1.5L352.2 11.9L348.0 25.2L343.7 38.5M361.2 -1.5L357.0 11.9L352.8 25.3L348.6 38.6M365.9 -1.5L361.7 11.9L357.6 25.3L353.5 38.7M375.2 -1.5L371.2 11.9L367.2 25.3L363.2 38.8L359.2 52.2L355.1 65.6L351.0 79.0L347.0 92.3L342.9 105.7L338.8 119.1L334.6 132.5L330.5 145.9L326.4 159.3L322.3 172.6L318.2 186.0L314.0 199.4L309.9 212.8L305.8 226.2L304.6 230.0M384.6 -1.5L380.7 12.0L376.9 25.4L373.0 38.9L369.0 52.3L365.1 65.7L361.1 79.2L357.2 92.6L353.2 106.0L349.2 119.4L345.2 132.9L341.2 146.3L337.2 159.7L333.2 173.1L329.2 186.5L325.2 199.9L321.2 213.3L320.6 215.3M394.0 -1.5L390.2 12.0L386.5 25.5L382.7 38.9L378.9 52.4L375.1 65.9L371.2 79.4L367.4 92.8L363.6 106.3L359.7 119.7L355.9 133.2L352.0 146.7L348.1 160.1L344.2 173.6L340.3 187.0L336.4 200.5L332.5 213.9M403.4 -1.5L399.7 12.0L396.1 25.5L392.4 39.0L388.7 52.5L385.0 66.0L381.3 79.5L377.6 93.0L374.0 106.6L370.3 120.1L366.7 133.6L362.9 147.1L359.2 160.6L355.4 174.1L351.6 187.5L347.8 201.0L345.1 210.6M412.8 -1.5L409.1 12.0L405.5 25.5L401.9 39.1L398.3 52.6L394.7 66.1L391.2 79.7L387.7 93.2L384.2 106.8L380.9 120.4L377.5 134.0L374.0 147.5L370.5 161.1L366.8 174.6L363.1 188.1L359.4 201.6L357.9 207.4M422.2 -1.5L418.6 12.0L414.9 25.5L411.3 39.1L407.7 52.6L404.2 66.1L400.7 79.7L397.4 93.3L394.3 107.0L391.4 120.6L388.5 134.3L385.4 148.0L382.1 161.6L378.6 175.1L375.0 188.7L372.0 200.3M431.6 -1.5L428.0 12.0L424.3 25.5L420.7 39.1L417.1 52.6L413.6 66.1L410.2 79.7L407.0 93.3L404.2 107.1L401.8 120.8L399.4 134.6L396.9 148.4L394.0 162.1L390.7 175.7L387.3 189.3M441.0 -1.5L437.4 12.0L433.8 25.5L430.1 39.1L426.5 52.6L423.0 66.1L419.6 79.7L416.5 93.4L413.9 107.1L412.0 121.0L410.2 134.9L408.2 148.7L405.7 162.5L402.7 176.2L402.2 178.1M450.4 -1.5L446.8 12.0L443.2 25.5L439.5 39.0L435.9 52.6L432.4 66.1L429.0 79.7L425.9 93.4L423.5 107.1L421.8 121.0L420.5 135.0L419.0 148.9L416.7 162.7L415.1 170.6M459.8 -1.5L456.2 12.0L452.6 25.5L448.9 39.0L445.3 52.6L441.7 66.1L438.8 77.7M469.2 -1.5L465.6 12.0L462.0 25.5L458.9 37.1M191.8 371.0L187.2 384.2L182.5 397.4L179.8 404.9M224.7 216.3L221.1 229.8L218.1 243.5L215.2 257.2L212.2 270.8L208.7 284.4L204.7 297.8L200.3 311.1L195.7 324.3L191.0 337.5L186.1 350.6L181.3 363.8L176.4 376.9L171.4 390.0L166.3 403.0L165.6 404.9M214.4 230.7L211.2 244.3L208.2 258.0L205.0 271.6L201.3 285.1L197.0 298.5L192.4 311.7L187.6 324.8L182.7 337.9L177.6 351.0L172.6 364.0L167.4 377.1L162.2 390.0L156.9 403.0L156.1 404.9M208.6 229.8L205.3 243.4L202.0 257.0L198.5 270.6L194.5 284.0L190.1 297.3L185.3 310.4L180.3 323.5L175.1 336.5L169.9 349.5L164.6 362.5L159.2 375.4L153.8 388.3L148.2 401.2L146.6 404.8M204.3 225.3L200.6 238.8L197.1 252.3L193.4 265.8L189.2 279.2L184.7 292.5L179.7 305.6L174.6 318.6L169.3 331.5L163.9 344.4L158.4 357.3L152.8 370.2L147.1 383.0L141.3 395.7L137.1 404.8M200.9 219.0L196.9 232.4L193.0 245.9L189.1 259.3L184.8 272.7L180.2 285.9L175.1 298.9L169.8 311.9L164.4 324.8L158.8 337.6L153.1 350.4L147.4 363.2L141.5 375.9L135.5 388.6L129.4 401.2L127.6 404.7M178.3 256.3L173.4 269.4L168.2 282.4L162.6 295.3L156.9 308.1L151.1 320.8L145.1 333.5L139.0 346.1L132.8 358.6L126.5 371.1L120.0 383.5L113.4 395.9L108.7 404.7M196.0 194.2L190.9 207.2L185.9 220.3L181.1 233.5L176.2 246.6L171.2 259.6L165.8 272.6L160.3 285.4L154.5 298.2L148.5 310.8L142.4 323.4L136.2 336.0L129.8 348.5L123.4 360.9L116.8 373.2L110.0 385.5L103.2 397.7L99.2 404.6M178.3 227.8L173.1 240.8L167.8 253.7L162.3 266.6L156.5 279.3L150.5 292.0L144.4 304.6L138.2 317.1L131.8 329.6L125.3 342.0L118.6 354.3L111.9 366.6L105.0 378.8L97.9 390.9L90.7 402.9L89.7 404.6M154.7 269.8L148.6 282.4L142.3 295.0L136.0 307.4L129.5 319.8L122.9 332.2L116.1 344.4L109.2 356.6L102.2 368.7L95.0 380.7L87.7 392.7L80.2 404.5M171.9 220.7L166.1 233.5L160.2 246.2L154.0 258.7L147.8 271.2L141.4 283.7L134.9 296.1L128.3 308.5L121.6 320.8L114.8 333.0L107.8 345.1L100.7 357.2L93.4 369.1L86.0 381.0L78.4 392.8L70.7 404.5M154.8 246.1L148.3 258.5L141.7 270.9L135.1 283.3L128.4 295.6L121.6 307.8L114.7 320.0L107.7 332.1L100.5 344.1L93.1 356.0L85.7 367.8L78.0 379.6L70.3 391.2L62.4 402.8L61.3 404.4M165.1 216.1L158.8 228.6L152.2 240.9L145.4 253.2L138.5 265.4L131.7 277.6L124.9 289.8L117.9 302.0L110.9 314.1L103.7 326.1L96.4 338.0L88.9 349.8L81.2 361.6L73.5 373.2L65.6 384.8L57.6 396.3L51.8 404.4M135.6 260.0L128.5 272.1L121.5 284.2L114.4 296.2L107.1 308.2L99.8 320.1L92.3 332.0L84.7 343.7L77.0 355.4L69.1 366.9L61.0 378.4L52.9 389.8L44.7 401.2L42.3 404.4M126.4 264.9L119.1 276.9L111.9 288.8L104.6 300.8L97.1 312.6L89.5 324.4L81.8 336.1L73.9 347.6L65.9 359.1L57.8 370.5L49.6 381.9L41.3 393.1L32.9 404.4M116.9 269.7L109.5 281.6L102.0 293.4L94.5 305.2L86.8 316.9L79.0 328.5L71.0 340.0L62.9 351.4L54.7 362.8L46.4 374.0L38.0 385.2L29.5 396.4L23.5 404.3M107.2 274.4L99.6 286.1L91.9 297.8L84.1 309.4L76.2 321.0L68.1 332.4L59.9 343.8L51.6 355.0L43.2 366.2L34.8 377.4L26.3 388.5L17.7 399.6L14.0 404.3M142.3 215.2L134.3 226.7L126.0 238.0L117.6 249.2L109.5 260.6L101.7 272.2L93.9 283.8L86.1 295.4L78.1 307.0L70.0 318.4L61.8 329.7L53.5 341.0L45.0 352.2L36.5 363.3L28.0 374.3L19.4 385.4L10.7 396.4L4.6 404.3M107.2 255.2L99.2 266.6L91.2 278.2L83.3 289.7L75.2 301.1L67.1 312.5L58.7 323.8L50.3 335.0L41.8 346.1L33.2 357.1L24.6 368.2L16.0 379.2L7.3 390.2L-0.1 399.6M60.2 313.0L51.8 324.2L43.2 335.3L34.6 346.3L26.0 357.3L17.3 368.3L8.6 379.2L-0.1 390.2M112.9 233.2L104.2 244.1L95.7 255.3L87.5 266.6L79.4 278.0L71.2 289.4L62.9 300.6L54.4 311.8L45.9 322.9L37.2 333.9L28.6 344.9L19.8 355.8L11.1 366.8L2.4 377.7L-0.1 380.8M110.2 229.3L101.4 240.1L92.8 251.2L84.5 262.4L76.2 273.8L67.9 285.0L59.5 296.2L51.0 307.3L42.4 318.4L33.7 329.3L24.9 340.3L16.1 351.2L7.4 362.1L-0.1 371.4M69.4 274.3L61.0 285.4L52.4 296.5L43.8 307.6L35.1 318.5L26.3 329.4L17.5 340.3L8.6 351.2L-0.2 362.0M121.9 199.3L113.3 210.4L104.4 221.1L95.4 231.9L86.7 242.9L78.2 254.0L69.7 265.1L61.2 276.3L52.6 287.3L44.0 298.3L35.2 309.2L26.4 320.1L17.5 331.0L8.7 341.8L-0.2 352.6M118.6 195.0L110.1 206.1L101.2 216.9L92.3 227.7L83.5 238.6L74.9 249.7L66.4 260.8L57.8 271.8L49.1 282.8L40.4 293.8L31.6 304.6L22.7 315.4L13.8 326.3L4.9 337.1L-0.2 343.3M74.1 242.2L65.5 253.2L56.8 264.2L48.1 275.2L39.3 286.1L30.4 296.9L21.5 307.7L12.6 318.5L3.6 329.2L-0.2 333.9M121.4 152.1L113.6 163.8L105.6 175.3L97.4 186.6L88.9 197.7L80.1 208.7L71.4 219.6L62.6 230.5L53.8 241.3L44.9 252.2L35.9 262.9L26.9 273.6L17.9 284.3L8.8 295.0L-0.2 305.7M36.1 253.7L27.0 264.3L17.9 275.0L8.8 285.6L-0.2 296.3M163.8 68.4L155.1 79.3L146.5 90.4L138.0 101.5L129.9 112.9L121.9 124.4L113.9 135.9L105.9 147.4L97.7 158.7L89.4 170.0L80.9 181.1L72.2 192.1L63.3 202.9L54.4 213.7L45.4 224.5L36.4 235.1L27.2 245.7L18.1 256.3L8.9 266.9L-0.3 277.5M102.6 143.1L94.4 154.4L86.0 165.6L77.4 176.6L68.6 187.6L59.8 198.4L50.8 209.1L41.7 219.8L32.6 230.4L23.4 241.0L14.2 251.5L5.0 262.1L-0.3 268.1M75.1 170.6L66.3 181.5L57.4 192.3L48.4 203.0L39.3 213.6L30.1 224.2L20.8 234.7L11.6 245.2L2.4 255.7L-0.3 258.7M171.9 38.9L163.5 50.1L154.6 60.9L145.4 71.5L136.3 82.2L127.5 93.0L118.9 104.1L110.5 115.3L102.2 126.5L93.8 137.7L85.3 148.8L76.6 159.9L67.8 170.8L58.9 181.5L49.9 192.2L40.7 202.8L31.5 213.4L22.2 223.9L13.0 234.3L3.7 244.8L-0.3 249.3M92.9 130.2L84.3 141.3L75.6 152.3L66.8 163.1L57.8 173.9L48.7 184.5L39.6 195.1L30.3 205.6L21.0 216.0L11.7 226.5L2.4 236.9L-0.3 239.9M162.2 38.1L153.4 48.9L144.2 59.5L134.9 69.9L125.7 80.5L116.7 91.2L108.0 102.2L99.4 113.3L90.8 124.3L82.2 135.3L73.4 146.2L64.5 157.0L55.4 167.7L46.3 178.3L37.1 188.8L27.7 199.3L18.4 209.7L9.0 220.1L-0.3 230.5M102.4 101.1L93.7 112.1L85.0 123.1L76.2 134.0L67.3 144.8L58.3 155.5L49.1 166.1L39.9 176.6L30.5 187.0L21.1 197.4L11.7 207.8L2.4 218.2L-0.3 221.1M151.5 36.4L142.4 47.1L133.1 57.5L123.7 67.9L114.5 78.4L105.5 89.1L96.6 100.0L87.9 110.9L79.0 121.8L70.1 132.6L61.1 143.3L51.9 153.8L42.7 164.3L33.3 174.8L23.9 185.1L14.5 195.5L5.0 205.8L-0.3 211.7M93.3 95.7L84.4 106.5L75.5 117.3L66.5 128.0L57.4 138.6L48.1 149.1L38.8 159.6L29.4 169.9L19.9 180.3L10.5 190.6L1.0 200.9L-0.3 202.4M55.0 132.4L45.7 142.9L36.3 153.3L26.8 163.6L17.3 173.9L7.8 184.1L-0.4 193.0M32.0 61.8L22.2 71.7L12.3 81.6L2.4 91.5L-0.5 94.3M172.4 -1.4L164.9 10.4L156.8 21.8L153.2 26.6M22.4 298.3L13.5 309.0L4.5 319.8L-0.6 325.9M45.7 15.5L35.7 25.3L25.8 35.2L15.7 44.9L5.7 54.7L-0.0 60.3M189.7 -1.3L182.7 10.9L175.4 22.8L170.9 29.4M475.5 -1.2L471.8 12.3L468.2 25.8L466.6 31.6M144.8 28.9L135.8 39.6L126.4 50.1L118.4 59.0M272.3 142.9L267.7 156.1L263.2 169.4L258.7 182.6L254.3 195.9L250.1 209.3L246.2 222.7L242.8 236.3L239.7 250.0L236.7 263.6L233.6 277.3L230.1 290.9L226.3 304.3L222.3 317.7L218.1 331.1L213.9 344.4L209.6 357.8L205.3 371.1L203.5 376.8M247.0 24.1L241.6 37.0L236.1 49.9L230.5 62.7L224.8 75.6L219.1 88.4L213.4 101.1L207.6 113.9L201.9 126.6L196.1 139.4L190.3 152.1L184.5 164.9L178.7 177.6L172.8 190.3L168.5 199.3M256.0 216.0L252.2 229.5L248.8 243.1L245.6 256.7L242.4 270.3L239.1 283.9L235.5 297.5L231.7 310.9L227.6 324.3L223.6 337.7L219.4 351.1L215.3 364.5L214.1 368.3M182.3 38.2L174.3 49.8L165.9 60.9L162.2 65.6M456.2 32.2L452.5 45.7L448.9 59.2L446.9 66.9M225.4 264.2L222.3 277.8L218.8 291.4L214.9 304.8L210.7 318.1L206.2 331.4L201.8 344.7L197.2 357.9L193.3 369.3M346.5 42.7L342.2 56.0L338.0 69.3L333.7 82.7L329.4 96.0L325.1 109.3L320.8 122.6L316.5 136.0L312.2 149.3L307.8 162.6L303.5 175.9L299.2 189.2L294.9 202.5L290.6 215.9L286.5 229.3L282.5 242.7L278.5 256.1L274.7 269.6L273.1 275.3M351.2 42.7L347.0 56.0L342.8 69.4L339.2 80.8M355.9 42.7L351.7 56.0L347.6 69.4L344.0 80.9M68.4 240.1L59.7 251.1L51.0 262.0L42.2 272.9L33.3 283.7L29.5 288.3M309.0 38.9L304.2 52.1L299.4 65.2L296.6 72.7M264.6 216.5L260.7 229.9L257.1 243.4L253.7 257.0L250.3 270.6L246.9 284.2L243.3 297.7L239.5 311.2L235.6 324.6L231.6 338.0L227.6 351.5L227.1 353.4M78.1 202.7L69.3 213.6L60.4 224.5L51.6 235.3L42.6 246.1L38.8 250.7M130.1 52.7L120.7 63.1L111.4 73.6L102.3 84.2L94.7 93.5M337.1 56.7L332.7 70.1L328.4 83.4L324.0 96.7L320.9 106.2M83.4 100.1L74.4 110.8L65.4 121.5L57.5 130.5M183.2 58.1L175.3 69.7L167.2 81.0L159.0 92.4L150.9 103.9L143.1 115.5L135.5 127.2L127.9 139.0L121.3 149.0M313.5 52.9L308.9 66.1L304.2 79.3L301.5 86.9M159.3 65.0L150.4 75.8L141.5 86.6L132.9 97.6L124.5 108.9L116.3 120.2L108.1 131.6L102.3 139.7M197.2 53.9L190.1 65.9L182.7 77.8L175.1 89.6L167.6 101.4L160.2 113.3L152.9 125.2L145.7 137.3L138.6 149.3L131.3 161.3L123.8 173.1L116.0 184.7L107.8 196.0L99.1 207.0L90.3 217.9L81.5 228.7L74.0 238.1M437.2 69.7L433.9 83.2L430.9 96.9L428.7 110.8L427.3 124.7L426.1 138.6L424.4 152.5L423.8 156.5M201.1 66.9L194.3 79.2L187.4 91.3L184.4 96.5M290.2 62.4L285.4 75.5L280.6 88.7L277.8 96.2M432.0 117.8L430.7 131.7L429.4 145.7L428.7 151.6M323.0 84.9L318.5 98.2L314.1 111.5L309.7 124.7L305.2 138.0L300.8 151.3L296.3 164.6L295.7 166.5M341.7 84.9L337.6 98.3L333.4 111.6L329.2 125.0L325.0 138.3L320.8 151.7L316.5 165.0L312.3 178.4L308.1 191.7L303.9 205.1L299.7 218.4L295.5 231.8L291.5 245.2L287.5 258.6L284.7 268.2M375.7 81.0L371.9 94.5L368.2 108.0L364.4 121.5L360.7 135.0L356.9 148.4L353.0 161.9L349.2 175.4L345.4 188.8L341.5 202.3L338.8 211.9M413.1 85.6L410.1 99.3L407.6 113.1L405.5 126.9L403.5 140.8L401.0 154.6L398.1 168.3L394.8 181.9L394.4 183.8M418.4 108.5L416.7 122.3L415.2 136.3L413.3 150.1L410.9 163.9L408.4 175.7M102.4 170.8L94.2 182.1L85.7 193.2L80.7 199.5M352.3 90.4L348.3 103.8L344.2 117.2L340.2 130.6L336.1 144.0L332.0 157.4L328.0 170.8L325.0 180.4M196.2 99.1L189.8 111.6L183.5 124.0L177.2 136.5L170.9 149.0L164.5 161.5L158.1 174.0L151.4 186.3L144.4 198.4L136.8 210.1L128.5 221.4L119.8 232.4L111.1 243.3L108.6 246.5M262.1 85.9L257.2 99.0L252.2 112.1L249.4 119.6M185.1 98.6L178.2 110.8L171.5 123.1L164.8 135.4L158.2 147.7L151.4 160.0L144.6 172.2L137.5 184.2L129.9 196.0L121.6 207.3L112.8 218.2L109.0 222.8M290.1 90.5L285.4 103.7L280.7 116.9L278.0 124.4M300.8 91.4L296.1 104.6L291.4 117.8L287.5 129.1M403.9 85.6L400.8 99.3L398.0 113.0L395.4 126.7L392.7 140.5L389.7 154.2L386.5 167.8L383.0 181.3L379.5 194.9L379.0 196.8M274.1 212.3L270.0 225.7L266.1 239.1L262.4 252.6L258.9 266.2L255.4 279.7L251.7 293.2M134.4 235.2L126.3 246.6L118.3 258.1L110.6 269.8L109.5 271.5M266.7 99.9L261.8 113.1L257.0 126.2L254.3 133.7M310.0 96.0L305.5 109.3L300.9 122.5L296.3 135.7L291.8 149.0L287.3 162.3L283.5 173.6M319.5 109.3L315.1 122.5L310.7 135.8L306.3 149.1L301.9 162.4L297.5 175.7L293.2 189.0L288.9 202.3L284.7 215.7L280.5 229.1L276.6 242.5L272.7 256.0L269.0 269.4L266.3 279.1M214.9 122.5L209.4 135.4L203.9 148.2L198.4 161.1M385.8 124.0L382.6 137.6L379.2 151.2L375.8 164.8L372.2 178.3L368.5 191.8L365.4 203.4M290.2 181.4L285.8 194.7L281.6 208.0L277.4 221.4L273.4 234.8L269.6 248.3L265.8 261.8L262.2 275.3L260.6 281.1M158.5 206.1L151.7 218.3L144.4 230.3L136.8 242.0L129.0 253.7L123.6 262.1M197.0 125.4L191.1 138.1L185.2 150.8L179.2 163.5L173.2 176.1L167.1 188.7L160.8 201.2M247.9 123.4L243.0 136.5L238.1 149.7L233.3 162.8L228.4 175.9L223.7 189.1L221.7 194.7M370.9 137.3L367.3 150.8L363.6 164.3L359.9 177.8L356.1 191.3L352.4 204.8L351.3 208.7M158.9 216.4L152.2 228.7L145.0 240.8L137.8 252.7L134.7 257.8M266.5 128.0L261.8 141.2L257.2 154.4L254.5 162.0M319.5 142.1L315.2 155.4L310.9 168.7L306.6 182.1M235.2 224.5L231.9 238.1L229.0 251.8L226.2 265.5M220.1 137.7L214.9 150.6L209.6 163.6L204.3 176.6L202.8 180.3M252.5 137.4L247.7 150.6L243.0 163.8L240.3 171.3M224.2 155.3L219.2 168.4L214.2 181.4L209.2 194.5L204.5 207.7L202.6 213.4M275.9 160.0L271.4 173.2L267.0 186.5L262.7 199.8L259.7 209.4M338.1 174.9L334.2 188.3L330.2 201.7L326.3 215.2M253.5 166.4L249.0 179.6L244.5 192.9L240.2 206.3L236.3 219.7M324.1 184.3L320.0 197.7L315.9 211.1L313.0 220.6M239.5 175.8L234.9 189.0L230.4 202.3L226.4 215.7" fill="none" stroke="#000" stroke-width="1.35"/><path d="M22.9 28.5 l7.7 -2.6M22.9 28.5 l2.8 -7.6M30.4 36.0 l7.7 -2.6M30.4 36.0 l2.7 -7.7M36.0 40.7 l7.7 -2.7M36.0 40.7 l2.7 -7.7M40.4 46.9 l7.6 -2.7M40.4 46.9 l2.6 -7.7M44.9 53.3 l7.6 -2.8M44.9 53.3 l2.5 -7.7M50.8 58.3 l7.6 -2.9M50.8 58.3 l2.5 -7.7M55.5 64.7 l7.6 -2.9M55.5 64.7 l2.4 -7.8M60.1 71.2 l7.5 -3.0M60.1 71.2 l2.3 -7.8M64.7 77.6 l7.5 -3.1M64.7 77.6 l2.3 -7.8M69.3 84.0 l7.5 -3.1M69.3 84.0 l2.2 -7.8M73.9 90.4 l7.5 -3.2M73.9 90.4 l2.1 -7.8M78.7 96.9 l7.4 -3.3M78.7 96.9 l2.0 -7.9M110.4 151.5 l7.1 -4.0M110.4 151.5 l1.2 -8.0M118.5 167.3 l7.0 -4.2M118.5 167.3 l1.1 -8.1M178.9 95.2 l6.8 -4.5M178.9 95.2 l0.7 -8.1M181.1 116.3 l6.5 -4.8M181.1 116.3 l0.3 -8.1M199.0 107.1 l6.4 -5.0M199.0 107.1 l0.0 -8.1M219.4 101.1 l6.2 -5.3M219.4 101.1 l-0.3 -8.1M230.9 99.8 l6.1 -5.4M230.9 99.8 l-0.5 -8.1M199.8 206.4 l5.8 -5.7M199.8 206.4 l-0.8 -8.1M248.6 108.0 l5.9 -5.6M248.6 108.0 l-0.7 -8.1M258.6 108.2 l5.9 -5.6M258.6 108.2 l-0.8 -8.1M235.4 202.8 l5.6 -5.9M235.4 202.8 l-1.1 -8.0M246.1 203.2 l5.6 -5.9M246.1 203.2 l-1.2 -8.0M289.7 107.1 l5.8 -5.7M289.7 107.1 l-0.9 -8.1M302.8 99.9 l5.8 -5.7M302.8 99.9 l-0.9 -8.1M325.5 49.0 l5.7 -5.8M325.5 49.0 l-1.0 -8.1M317.7 87.0 l5.7 -5.8M317.7 87.0 l-1.0 -8.1M339.0 118.4 l5.5 -6.0M339.0 118.4 l-1.2 -8.0M351.7 111.0 l5.5 -6.0M351.7 111.0 l-1.3 -8.0M362.7 109.4 l5.4 -6.1M362.7 109.4 l-1.4 -8.0M373.6 107.8 l5.3 -6.1M373.6 107.8 l-1.5 -8.0M384.4 106.1 l5.2 -6.2M384.4 106.1 l-1.6 -8.0M395.4 102.3 l5.1 -6.3M395.4 102.3 l-1.8 -7.9M406.3 96.5 l5.0 -6.4M406.3 96.5 l-1.9 -7.9M417.0 90.7 l5.1 -6.4M417.0 90.7 l-1.8 -7.9M427.3 86.8 l5.1 -6.3M427.3 86.8 l-1.8 -7.9M448.1 42.2 l5.3 -6.2M448.1 42.2 l-1.5 -8.0M198.6 316.1 l5.7 -5.8M198.6 316.1 l-1.0 -8.1M188.6 322.3 l5.8 -5.6M188.6 322.3 l-0.8 -8.1M180.6 322.8 l5.9 -5.6M180.6 322.8 l-0.7 -8.1M174.1 319.7 l6.0 -5.5M174.1 319.7 l-0.5 -8.1M167.8 316.7 l6.1 -5.4M167.8 316.7 l-0.4 -8.1M144.6 334.6 l6.3 -5.1M144.6 334.6 l-0.0 -8.1M151.4 304.7 l6.3 -5.1M151.4 304.7 l-0.1 -8.1M135.8 321.8 l6.5 -4.9M135.8 321.8 l0.2 -8.1M117.4 342.0 l6.6 -4.7M117.4 342.0 l0.4 -8.1M122.9 318.4 l6.6 -4.7M122.9 318.4 l0.4 -8.1M109.1 329.7 l6.7 -4.5M109.1 329.7 l0.6 -8.1M110.3 315.1 l6.8 -4.5M110.3 315.1 l0.7 -8.1M89.5 336.4 l6.9 -4.2M89.5 336.4 l1.0 -8.1M80.0 338.8 l7.0 -4.1M80.0 338.8 l1.1 -8.0M70.3 341.0 l7.1 -4.0M70.3 341.0 l1.3 -8.0M60.4 343.2 l7.2 -3.8M60.4 343.2 l1.4 -8.0M72.8 314.5 l7.1 -3.9M72.8 314.5 l1.3 -8.0M53.2 331.2 l7.2 -3.7M53.2 331.2 l1.6 -8.0M27.7 355.1 l7.3 -3.6M27.7 355.1 l1.8 -7.9M54.9 311.2 l7.2 -3.7M54.9 311.2 l1.6 -8.0M53.9 303.6 l7.3 -3.7M53.9 303.6 l1.6 -8.0M33.0 321.0 l7.3 -3.5M33.0 321.0 l1.8 -7.9M59.2 278.8 l7.3 -3.6M59.2 278.8 l1.7 -8.0M57.0 272.8 l7.3 -3.6M57.0 272.8 l1.7 -7.9M34.7 291.7 l7.4 -3.4M34.7 291.7 l1.9 -7.9M60.5 233.0 l7.3 -3.5M60.5 233.0 l1.9 -7.9M82.5 178.9 l7.3 -3.6M82.5 178.9 l1.7 -8.0M50.0 210.1 l7.4 -3.3M50.0 210.1 l2.0 -7.9M35.8 217.6 l7.5 -3.2M35.8 217.6 l2.1 -7.8M85.7 148.3 l7.3 -3.7M85.7 148.3 l1.7 -8.0M45.3 188.5 l7.5 -3.2M45.3 188.5 l2.1 -7.8M80.1 137.9 l7.3 -3.5M80.1 137.9 l1.8 -7.9M49.6 165.5 l7.5 -3.2M49.6 165.5 l2.1 -7.8M74.4 127.4 l7.4 -3.4M74.4 127.4 l1.9 -7.9M44.7 153.1 l7.5 -3.1M44.7 153.1 l2.2 -7.8M24.6 166.0 l7.6 -3.0M24.6 166.0 l2.4 -7.8M236.9 262.9 l5.0 -6.4M236.9 262.9 l-1.9 -7.9M207.1 115.0 l6.2 -5.2M207.1 115.0 l-0.2 -8.1M235.7 296.8 l5.3 -6.1M235.7 296.8 l-1.5 -8.0M209.6 321.2 l5.6 -5.9M209.6 321.2 l-1.1 -8.1M308.1 161.9 l5.6 -5.9M308.1 161.9 l-1.1 -8.1M245.6 289.2 l5.3 -6.2M245.6 289.2 l-1.6 -8.0M149.1 106.6 l7.1 -4.0M149.1 106.6 l1.2 -8.0M127.3 105.0 l7.2 -3.7M127.3 105.0 l1.6 -8.0M136.9 152.1 l6.8 -4.5M136.9 152.1 l0.7 -8.1M428.1 116.0 l4.4 -6.8M428.1 116.0 l-2.6 -7.7M308.0 129.7 l5.7 -5.8M308.0 129.7 l-1.0 -8.1M311.9 179.6 l5.6 -5.9M311.9 179.6 l-1.2 -8.0M356.5 149.6 l5.4 -6.1M356.5 149.6 l-1.4 -8.0M403.9 138.1 l4.6 -6.7M403.9 138.1 l-2.4 -7.8M337.5 139.5 l5.5 -6.0M337.5 139.5 l-1.3 -8.0M155.6 178.6 l6.5 -4.8M155.6 178.6 l0.3 -8.1M147.9 166.3 l6.6 -4.7M147.9 166.3 l0.5 -8.1M391.6 145.6 l4.9 -6.4M391.6 145.6 l-2.0 -7.9M261.6 255.8 l5.3 -6.2M261.6 255.8 l-1.5 -8.0M295.3 138.8 l5.7 -5.8M295.3 138.8 l-1.0 -8.1M290.3 197.8 l5.6 -5.9M290.3 197.8 l-1.1 -8.0M374.9 167.9 l5.3 -6.2M374.9 167.9 l-1.6 -8.0M273.6 234.1 l5.5 -6.0M273.6 234.1 l-1.3 -8.0M177.8 166.4 l6.3 -5.1M177.8 166.4 l-0.1 -8.1M233.5 162.1 l5.9 -5.6M233.5 162.1 l-0.8 -8.1M360.1 177.1 l5.4 -6.1M360.1 177.1 l-1.5 -8.0" fill="none" stroke="#000" stroke-width="1.35" stroke-linecap="round"/>
<path d="M509.3 0.0C506.0 1.8 499.8 4.0 496.2 5.7C492.6 7.4 490.7 7.3 487.5 10.1C484.3 12.8 480.6 18.6 477.2 22.2C473.8 25.8 470.0 29.0 466.8 31.7C463.6 34.4 459.6 35.6 458.2 38.6C456.8 41.6 459.2 46.5 458.6 49.8C458.0 53.1 457.4 54.6 454.7 58.4C452.0 62.1 445.5 68.3 442.6 72.3C439.7 76.3 438.5 78.6 437.4 82.6C436.2 86.6 435.8 92.5 435.7 96.5C435.6 100.5 436.9 103.9 436.6 106.8C436.3 109.7 433.3 111.8 434.0 113.7C434.7 115.6 439.2 116.4 440.9 118.0C442.6 119.6 444.1 120.5 444.3 123.2C444.5 126.0 443.5 130.6 441.8 134.5C440.1 138.4 436.8 142.9 434.0 146.6C431.2 150.3 428.2 153.0 425.3 156.9C422.4 160.8 419.9 166.3 416.7 169.9C413.5 173.5 409.3 176.5 406.3 178.5C403.3 180.5 401.9 180.0 398.9 181.7C395.9 183.4 392.5 185.4 388.5 188.6C384.5 191.8 380.4 197.1 374.7 200.7C368.9 204.3 361.5 207.6 354.0 210.2C346.5 212.8 336.1 214.9 329.8 216.3C323.5 217.7 319.2 217.4 316.0 218.8C312.8 220.2 312.8 222.7 310.8 224.9C308.8 227.1 306.2 228.1 303.9 231.8C301.6 235.6 299.0 242.2 297.0 247.4C295.0 252.6 293.8 259.2 291.8 262.9C289.8 266.6 288.4 267.4 284.9 269.8C281.4 272.2 275.9 274.9 271.0 277.6C266.1 280.3 258.5 283.5 255.5 286.2C252.5 288.9 254.3 290.7 252.9 294.0C251.5 297.3 248.8 301.8 246.9 306.1C245.0 310.4 242.9 315.9 241.7 319.9C240.5 323.9 240.0 326.9 239.6 330.3C239.2 333.8 239.9 337.3 239.1 340.6C238.3 343.9 237.0 347.6 234.8 350.2C232.6 352.8 229.0 353.5 226.1 356.2C223.2 358.9 220.4 363.6 217.5 366.6C214.6 369.6 211.2 372.6 208.9 374.3C206.6 376.0 205.7 375.1 203.5 377.0C201.3 378.9 197.0 383.9 196.0 385.5C195.0 387.1 196.3 387.2 197.5 386.5C198.7 385.8 202.6 381.1 203.0 381.5C203.4 381.9 201.8 386.0 200.2 389.0C198.6 392.0 194.9 396.8 193.3 399.4C191.7 402.0 191.9 400.2 190.7 404.5C189.5 408.8 124.4 421.6 186.0 425.0C247.6 428.4 497.7 500.0 560.0 425.0C622.3 350.0 567.3 46.7 560.0 -25.0C552.7 -96.7 524.5 -9.2 516.0 -5.0C507.6 -0.8 512.6 -1.8 509.3 0.0Z" fill="#000"/><path d="M159.3 202.7C160.2 202.0 163.5 202.1 166.0 201.5C168.5 200.9 172.1 200.0 174.5 199.0C176.9 198.0 178.2 196.2 180.6 195.4C183.0 194.6 187.5 194.0 189.2 193.9C190.9 193.8 191.2 194.2 190.6 195.1C190.0 195.9 187.1 197.5 185.5 199.0C183.9 200.5 182.3 202.1 181.3 203.9C180.3 205.7 180.5 208.1 179.4 210.0C178.3 211.9 176.1 214.3 174.5 215.5C172.9 216.7 171.0 217.2 169.7 217.1C168.4 217.0 167.6 216.1 166.6 214.9C165.6 213.7 164.6 211.5 163.6 210.0C162.6 208.5 161.2 206.9 160.5 205.7C159.8 204.5 158.4 203.4 159.3 202.7Z" fill="#000" stroke="#000" stroke-width="0.6" stroke-linejoin="round"/><path d="M206.9 210.6C207.9 210.2 208.1 212.0 209.0 212.2C209.9 212.4 211.1 211.8 212.3 211.8C213.5 211.8 215.0 212.3 216.0 212.0C217.0 211.7 217.9 209.5 218.4 210.0C218.9 210.5 218.8 213.3 219.1 214.9C219.4 216.5 220.4 218.2 220.3 219.7C220.2 221.2 219.5 222.8 218.4 224.0C217.3 225.2 215.2 226.6 213.6 227.1C212.0 227.6 210.3 227.7 208.7 227.1C207.1 226.5 205.0 224.8 203.8 223.4C202.6 222.0 201.8 220.0 201.7 218.5C201.6 217.0 202.3 215.6 203.2 214.3C204.1 213.0 205.9 210.9 206.9 210.6Z" fill="#000" stroke="#000" stroke-width="0.6" stroke-linejoin="round"/><path d="M274.5 187.4C275.6 186.8 277.8 187.1 278.8 188.0C279.8 188.9 280.4 190.9 280.6 192.9C280.8 194.9 280.6 197.8 280.0 200.2C279.4 202.6 278.7 206.0 277.0 207.6C275.3 209.2 271.9 209.1 269.7 210.0C267.5 210.9 265.4 212.1 263.6 213.0C261.8 213.9 260.3 215.3 258.7 215.5C257.1 215.7 254.5 214.8 253.8 214.3C253.1 213.8 253.0 213.0 254.4 212.4C255.8 211.8 260.3 211.8 262.3 210.6C264.3 209.4 265.4 207.0 266.6 205.1C267.8 203.2 268.8 201.2 269.7 199.0C270.6 196.8 271.3 193.6 272.1 191.7C272.9 189.8 273.4 188.0 274.5 187.4Z" fill="#000" stroke="#000" stroke-width="0.6" stroke-linejoin="round"/><path d="M292.8 166.1C293.6 166.3 295.5 167.7 295.9 169.1C296.3 170.5 296.0 173.2 295.3 174.6C294.6 176.0 293.0 177.0 291.6 177.7C290.2 178.4 288.2 177.9 286.7 178.9C285.2 179.9 283.9 183.2 282.5 183.8C281.1 184.4 278.6 183.6 278.2 182.6C277.8 181.6 279.0 179.1 280.0 177.7C281.0 176.3 282.7 174.8 284.3 174.0C285.9 173.2 288.7 173.8 289.8 172.8C290.9 171.8 290.5 169.0 291.0 167.9C291.5 166.8 292.0 165.9 292.8 166.1Z" fill="#000" stroke="#000" stroke-width="0.6" stroke-linejoin="round"/><path d="M117.0 186.2C117.3 185.1 118.7 184.2 120.0 183.8C121.3 183.4 123.6 183.2 124.9 183.8C126.2 184.4 127.7 185.9 128.0 187.4C128.3 188.9 127.7 190.9 127.0 192.9C126.3 194.9 124.7 199.2 123.7 199.6C122.8 200.0 122.2 196.9 121.3 195.4C120.4 193.9 118.9 192.0 118.2 190.5C117.5 189.0 116.7 187.3 117.0 186.2Z" fill="#000" stroke="#000" stroke-width="0.6" stroke-linejoin="round"/><path d="M109.9 226.5C110.5 225.9 114.1 225.9 115.8 225.2C117.5 224.5 119.0 222.5 120.0 222.4C121.0 222.3 122.1 223.3 121.9 224.6C121.7 225.9 119.7 229.0 118.8 230.1C117.9 231.2 117.5 231.5 116.4 231.3C115.3 231.1 113.2 229.7 112.1 228.9C111.0 228.1 109.3 227.1 109.9 226.5Z" fill="#000" stroke="#000" stroke-width="0.6" stroke-linejoin="round"/><path d="M145.6 28.4C145.5 27.3 147.0 25.6 148.1 25.6C149.2 25.6 150.6 28.1 152.3 28.4C154.0 28.6 156.4 26.9 158.4 27.1C160.4 27.3 162.8 29.1 164.5 29.6C166.2 30.1 168.8 29.5 168.8 30.2C168.8 30.9 166.0 32.9 164.5 33.8C163.0 34.7 161.5 35.6 159.7 35.7C157.9 35.8 155.4 35.1 153.6 34.5C151.8 33.9 150.0 33.0 148.7 32.0C147.4 31.0 145.7 29.5 145.6 28.4Z" fill="#000" stroke="#000" stroke-width="0.6" stroke-linejoin="round"/><path d="M179.4 19.2C179.7 18.6 181.3 17.0 182.2 16.8C183.1 16.6 184.6 17.6 184.7 18.0C184.8 18.4 183.5 19.1 182.8 19.5C182.1 19.9 181.0 20.2 180.4 20.2C179.8 20.1 179.1 19.8 179.4 19.2Z" fill="#000" stroke="#000" stroke-width="0.6" stroke-linejoin="round"/><path d="M173.3 37.3C173.2 36.8 174.4 37.1 174.9 37.7C175.4 38.4 176.4 40.7 176.5 41.2C176.6 41.7 175.8 41.5 175.3 40.9C174.8 40.2 173.4 37.8 173.3 37.3Z" fill="#000" stroke="#000" stroke-width="0.6" stroke-linejoin="round"/><ellipse cx="147.1" cy="212.2" rx="5.4" ry="4.2" fill="#000"/>
<g stroke="#808080" stroke-opacity="0.4" stroke-width="1" fill="none"><path d="M37.5 0V403.5"/><path d="M115.8 0V403.5"/><path d="M194.2 0V403.5"/><path d="M272.5 0V403.5"/><path d="M350.9 0V403.5"/><path d="M429.2 0V403.5"/><path d="M-5.0 21.0H508.2"/><path d="M-5.0 60.2H508.2"/><path d="M-5.0 99.5H508.2"/><path d="M-5.0 138.8H508.2"/><path d="M-5.0 178.0H508.2"/><path d="M-5.0 217.2H508.2"/><path d="M-5.0 256.5H508.2"/><path d="M-5.0 295.8H508.2"/><path d="M-5.0 335.0H508.2"/><path d="M-5.0 374.2H508.2"/></g>
</g>
<rect x="0.0" y="0" width="508.2" height="403.5" fill="none" stroke="#3a3a3a" stroke-width="1.1"/>
</g>
<clipPath id="cpB"><rect x="0.0" y="0" width="508.2" height="403.5"/></clipPath>
<g transform="translate(106.7,525.4)">
<g clip-path="url(#cpB)">
<rect x="0.0" y="0" width="508.2" height="403.5" fill="#fff9be"/>
<path fill="#ffeda0" fill-rule="evenodd" d="M-8.5 -5.5L514.5 -5.5L514.5 409.5L-8.5 409.5Z"/><path fill="#fee084" fill-rule="evenodd" d="M-8.5 -5.5L514.5 -5.5L514.5 409.5L-8.5 409.5ZM149.5 33.8L146.5 35.2L144.5 37.5L143.2 40.5L143.0 44.5L144.5 48.5L146.5 50.9L149.5 52.5L152.5 52.7L155.5 51.4L158.1 48.5L159.2 45.5L159.3 41.5L157.8 37.5L155.5 35.1L152.5 33.7Z"/><path fill="#fecc68" fill-rule="evenodd" d="M-8.5 -5.5L514.5 -5.5L514.5 409.5L-8.5 409.5ZM108.5 234.3L107.5 233.7L105.5 234.2L102.6 236.5L100.5 239.1L97.9 244.5L97.7 246.5L98.5 248.2L99.5 248.5L101.5 247.8L106.0 243.5L108.5 238.5L108.9 236.5ZM149.5 24.0L143.5 25.9L138.5 30.2L135.3 36.5L134.7 42.5L136.7 49.5L140.8 55.5L143.5 57.7L146.5 59.3L149.5 60.2L152.5 60.2L155.5 59.5L158.5 58.0L163.0 53.5L166.3 46.5L166.8 39.5L165.3 33.5L161.5 28.0L156.5 24.9L153.5 24.2ZM431.5 130.0L429.5 130.9L428.4 132.5L426.9 136.5L426.4 140.5L426.6 144.5L427.5 148.1L428.5 150.1L430.5 151.8L432.5 151.2L433.8 149.5L435.2 145.5L435.8 141.5L435.7 137.5L434.8 133.5L433.5 131.1ZM153.5 226.7L152.5 227.5L151.5 230.5L152.5 230.6L153.5 228.8Z"/><path fill="#feb24c" fill-rule="evenodd" d="M96.2 -5.5L118.5 -5.5L118.5 0.5L115.5 3.0L111.5 4.6L108.5 5.0L104.5 4.5L99.5 2.6L96.2 0.5ZM140.1 -5.5L225.8 -5.5L225.8 0.5L216.5 7.1L211.5 9.6L203.5 11.8L196.5 12.2L190.5 10.8L178.5 4.4L171.5 2.1L165.5 1.8L151.5 3.3L143.5 2.0L140.1 0.5ZM-8.5 49.6L5.5 48.9L18.5 49.8L29.5 49.6L34.5 50.2L39.1 51.5L43.1 54.5L43.9 57.5L42.8 61.5L37.4 71.5L37.5 74.5L39.7 77.5L42.5 79.2L45.5 80.1L59.5 81.3L82.5 89.9L87.5 91.1L91.5 91.2L98.5 89.3L115.5 81.0L129.5 71.1L132.5 70.8L141.5 73.2L146.5 73.8L152.5 73.0L157.5 71.2L164.5 66.8L173.5 58.3L178.5 54.6L191.5 48.2L202.5 43.7L211.5 37.0L216.5 34.4L219.5 33.8L223.5 33.9L235.5 37.1L242.5 37.9L256.5 37.3L260.5 36.7L263.6 35.5L266.5 32.5L266.7 30.5L265.8 28.5L259.5 21.9L253.1 11.5L249.7 7.5L244.5 3.8L236.2 0.5L236.2 -5.5L459.2 -5.5L459.2 0.5L456.8 3.5L455.6 6.5L455.9 9.5L457.2 11.5L461.5 14.5L466.8 16.5L475.5 18.6L482.5 19.2L487.5 18.6L492.5 16.8L496.5 14.0L499.0 10.5L499.5 7.5L498.9 5.5L497.4 3.5L493.6 0.5L493.6 -5.5L514.5 -5.5L514.5 409.5L-8.5 409.5ZM432.5 123.5L429.5 124.3L426.1 128.5L423.9 134.5L422.9 141.5L423.2 148.5L424.6 154.5L427.5 159.6L430.5 161.5L433.5 160.7L436.5 156.7L438.4 150.5L439.3 143.5L439.1 135.5L437.8 129.5L435.5 125.4ZM111.5 226.6L108.5 226.9L104.5 229.5L100.5 233.6L96.9 238.5L94.2 243.5L92.6 248.5L92.8 252.5L94.4 254.5L97.5 254.7L101.5 252.7L105.5 249.1L109.5 243.7L112.4 237.5L113.5 232.5L113.2 228.5ZM157.5 216.8L155.5 217.4L153.5 219.4L148.5 228.0L146.2 236.5L146.5 239.4L147.5 240.5L149.5 240.0L151.5 238.3L155.9 231.5L157.6 226.5L158.4 221.5L158.4 218.5Z"/><path fill="#fd9941" fill-rule="evenodd" d="M514.5 36.8L514.5 409.5L-8.5 409.5L-8.5 191.6L-2.5 191.6L13.5 180.6L26.4 170.5L38.5 163.7L43.5 162.0L46.5 162.1L53.5 163.9L58.5 164.3L79.5 160.5L95.5 160.0L106.5 158.4L111.5 158.8L115.5 160.1L119.5 162.9L122.5 166.5L128.5 175.9L130.5 177.7L133.5 178.6L138.5 176.9L145.0 172.5L149.7 167.5L155.5 158.2L157.5 156.6L159.5 156.1L164.5 156.8L176.5 162.3L193.5 166.9L198.5 167.7L201.5 167.2L203.5 166.0L205.5 163.7L208.9 155.5L210.5 153.4L213.6 151.5L224.5 147.3L226.8 145.5L228.4 142.5L229.0 135.5L227.9 128.5L225.3 123.5L218.4 114.5L216.8 110.5L216.9 106.5L219.5 102.5L222.0 100.5L227.4 97.5L250.5 87.5L269.5 74.9L282.7 69.5L302.5 59.5L308.7 54.5L317.4 43.5L322.5 40.8L326.5 40.1L338.5 40.0L363.5 36.4L370.5 33.3L387.5 22.4L392.5 20.7L398.5 20.1L408.5 20.3L416.5 21.1L436.5 26.7L459.5 31.0L475.5 32.9L481.3 34.5L493.5 39.3L497.5 40.3L502.5 39.9L508.5 36.8ZM432.5 117.8L429.5 118.8L427.5 120.4L422.9 127.5L419.4 137.5L418.1 147.5L419.1 157.5L422.1 166.5L424.5 170.4L426.5 172.4L428.5 173.6L431.5 174.2L433.5 173.9L436.5 172.3L439.2 169.5L441.0 166.5L443.1 159.5L444.1 146.5L443.7 135.5L442.8 130.5L441.1 125.5L438.8 121.5L437.0 119.5L434.5 118.0ZM114.5 213.4L112.5 213.7L110.5 214.9L103.5 221.8L95.7 231.5L90.2 240.5L87.2 247.5L86.0 253.5L86.8 258.5L89.5 261.2L91.5 261.7L94.5 261.5L97.5 260.4L101.5 258.0L108.3 251.5L112.9 244.5L116.1 236.5L117.5 227.5L116.8 217.5L115.5 214.2ZM167.5 195.2L166.5 194.8L165.5 195.2L162.5 198.6L150.0 218.5L145.8 226.5L143.0 234.5L141.7 241.5L141.9 246.5L143.5 248.5L146.5 248.0L150.5 244.7L154.6 239.5L157.4 234.5L159.4 228.5L163.0 211.5L167.7 198.5ZM392.7 180.5L391.3 178.5L389.5 177.5L386.5 176.9L382.5 177.3L372.7 180.5L358.5 187.2L352.5 188.8L347.5 188.8L337.5 187.0L331.5 186.5L323.5 186.8L317.5 187.9L313.5 189.7L306.5 195.4L303.5 197.1L299.5 197.9L290.5 197.7L286.5 198.2L262.5 206.9L258.5 209.6L255.3 213.5L254.1 217.5L254.6 221.5L257.1 226.5L261.5 230.6L266.5 232.6L273.5 233.2L279.5 232.5L285.5 230.8L303.5 222.5L307.5 219.9L316.1 211.5L319.5 209.7L323.9 208.5L330.5 208.1L349.5 209.3L354.5 210.9L364.5 216.1L368.5 216.7L371.5 216.1L374.8 214.5L384.1 207.5L387.9 203.5L389.1 200.5L390.6 192.5L392.9 184.5Z"/><path fill="#fd7836" fill-rule="evenodd" d="M444.4 75.5L448.0 80.5L450.0 84.5L451.6 89.5L452.4 94.5L452.2 99.5L451.1 103.5L448.6 108.5L446.5 111.1L443.5 112.1L436.5 110.9L431.5 111.9L428.5 113.8L425.5 116.7L416.5 129.8L411.5 134.6L406.5 136.8L397.5 139.2L380.5 140.0L373.5 141.6L367.5 145.0L356.5 155.3L350.5 158.1L347.5 158.5L344.5 158.0L341.7 156.5L339.8 154.5L336.7 148.5L333.4 135.5L331.3 130.5L328.5 127.4L320.5 122.2L316.2 118.5L311.1 112.5L309.3 108.5L309.4 106.5L310.6 104.5L319.5 98.3L323.5 94.5L325.9 90.5L329.5 81.4L332.7 77.5L337.5 75.6L351.5 74.4L357.5 73.1L362.5 70.6L372.2 63.5L378.5 61.0L384.5 60.5L397.5 61.7L415.5 59.8L424.5 60.7L429.5 62.4L433.5 64.8L438.5 69.1ZM69.3 185.5L71.1 181.5L73.1 179.5L76.2 177.5L82.5 175.3L90.5 174.6L99.5 175.5L105.2 177.5L108.6 180.5L109.7 182.5L110.1 185.5L109.5 188.5L108.4 190.5L103.5 195.1L96.5 198.4L89.5 199.5L82.5 198.7L75.3 195.5L72.5 193.2L70.4 190.5L69.3 187.5ZM142.5 189.7L144.5 190.9L145.5 192.5L146.6 197.5L146.0 205.5L143.7 213.5L139.0 223.5L132.5 234.0L126.5 239.8L124.5 240.7L122.5 240.4L121.5 239.1L120.9 236.5L121.1 225.5L122.3 216.5L124.8 208.5L128.7 200.5L133.1 194.5L138.5 190.4ZM234.5 205.0L236.3 208.5L239.3 222.5L248.2 249.5L260.5 266.5L271.5 277.8L273.9 282.5L275.3 288.5L275.2 295.5L272.0 307.5L271.4 313.5L272.8 322.5L276.7 330.5L277.7 333.5L276.1 349.5L273.5 357.6L264.3 374.5L262.4 380.5L260.0 392.5L257.6 396.5L255.5 397.4L253.5 397.6L238.5 395.9L234.5 396.0L231.5 396.7L228.5 398.7L226.8 401.5L226.5 409.5L-8.5 409.5L-8.5 306.2L-1.5 306.1L9.5 303.2L25.5 304.2L35.5 302.8L40.5 301.0L51.5 295.9L55.5 295.2L64.5 295.2L69.5 293.8L72.5 291.6L74.2 289.5L78.5 280.9L80.1 279.5L82.4 278.5L89.5 278.2L101.5 280.5L107.5 280.1L123.1 275.5L133.8 270.5L145.5 266.0L157.5 264.4L159.5 263.4L161.5 261.1L164.5 254.5L169.7 245.5L169.1 242.5L163.5 235.9L162.5 232.7L162.3 228.5L163.0 221.5L164.5 216.1L166.8 211.5L170.5 207.6L173.5 205.9L177.5 204.9L181.5 204.6L185.5 205.2L188.5 206.3L191.5 208.3L193.7 210.5L195.6 213.5L196.4 216.5L195.6 219.5L185.6 234.5L183.1 239.5L183.5 241.7L185.5 242.8L187.5 243.0L190.5 242.3L193.5 240.8L197.7 236.5L200.7 229.5L202.0 219.5L202.9 217.5L204.8 215.5L218.5 206.4L224.5 203.5L227.5 202.8L230.5 202.8L232.5 203.4Z"/><path fill="#fc4d2a" fill-rule="evenodd" d="M416.5 74.7L420.5 75.5L424.5 77.3L430.5 82.2L434.4 88.5L435.4 92.5L435.4 95.5L434.6 98.5L432.8 101.5L419.5 116.6L415.5 119.8L411.5 120.6L408.5 119.9L405.5 118.4L402.0 115.5L398.3 111.5L394.1 104.5L393.2 101.5L393.1 97.5L393.9 93.5L396.0 88.5L398.5 84.3L401.6 80.5L405.2 77.5L408.5 75.8L412.5 74.7ZM139.5 197.6L141.2 199.5L141.6 203.5L140.8 208.5L139.1 213.5L136.0 219.5L132.5 224.5L129.5 227.3L127.5 228.0L126.5 227.9L125.1 225.5L124.8 221.5L125.5 216.5L127.5 210.4L130.5 204.5L133.5 200.5L136.5 198.0ZM180.5 210.0L185.3 211.5L188.4 214.5L189.4 218.5L188.6 222.5L185.5 227.6L181.5 231.0L176.5 232.2L171.5 231.1L168.5 229.3L166.3 226.5L165.7 222.5L166.9 217.5L169.5 213.5L172.3 211.5L176.5 210.1ZM226.6 223.5L228.5 226.1L230.0 229.5L231.6 237.5L231.3 244.5L229.3 258.5L229.7 266.5L231.6 271.5L237.5 280.6L239.2 286.5L238.5 293.4L234.6 303.5L233.5 308.5L233.4 314.5L234.8 328.5L234.1 335.5L231.5 341.8L227.5 346.2L222.5 348.7L213.5 350.5L210.4 352.5L209.7 354.5L209.1 359.5L208.1 361.5L205.8 363.5L199.5 367.2L195.8 371.5L194.1 375.5L191.0 386.5L187.5 391.5L184.5 393.8L180.6 395.5L164.5 399.4L155.4 402.5L153.6 403.5L153.6 409.5L27.9 409.5L27.9 403.5L21.7 395.5L19.4 391.5L17.3 385.5L15.3 375.5L13.6 371.5L10.5 369.1L3.5 367.2L1.0 364.5L0.6 362.5L0.9 360.5L3.5 356.5L5.5 355.4L7.5 355.1L14.5 356.4L18.5 355.6L22.5 352.8L31.5 344.0L35.5 341.0L39.5 339.3L52.5 335.2L72.5 324.4L79.0 321.5L84.5 320.5L93.5 320.2L117.5 318.1L123.5 316.2L132.5 310.8L136.5 309.2L141.5 308.3L153.5 308.1L159.5 306.2L163.5 302.3L170.4 290.5L180.0 278.5L182.6 273.5L189.6 255.5L192.2 251.5L200.5 241.5L208.5 228.6L212.5 224.7L218.5 221.8L223.0 221.5Z"/><path fill="#eb2b21" fill-rule="evenodd" d="M416.5 88.7L419.5 89.4L422.1 91.5L423.5 94.5L423.7 97.5L422.5 101.4L420.5 104.6L417.5 107.2L414.5 107.9L411.5 106.7L409.5 104.5L408.3 101.5L408.1 97.5L408.9 94.5L410.7 91.5L413.5 89.3ZM135.5 206.1L136.5 207.5L135.5 212.4L132.5 217.3L130.5 218.3L129.6 216.5L130.5 212.1L132.5 208.3L134.5 206.3ZM178.5 214.1L181.5 214.7L184.0 216.5L184.9 218.5L184.8 221.5L183.5 224.1L181.5 226.1L178.5 227.3L175.5 227.2L173.5 226.5L171.1 224.5L170.1 222.5L170.2 219.5L171.5 217.2L173.5 215.5ZM218.5 235.6L220.5 237.5L221.3 239.5L221.7 245.5L216.5 269.5L214.5 275.9L211.5 280.8L206.5 285.3L200.5 288.1L197.5 288.6L195.5 288.2L194.3 287.5L193.0 285.5L192.2 278.5L193.4 268.5L196.2 259.5L200.5 251.9L209.5 239.5L214.5 235.6L216.5 235.2ZM84.5 364.3L85.3 366.5L84.8 368.5L82.5 372.1L79.9 374.5L77.5 375.6L74.5 375.8L72.5 375.2L70.7 373.5L70.5 371.5L71.5 369.5L76.5 364.9L79.5 363.3L81.5 363.0L83.5 363.4Z"/>
<path d="M509.3 0.0C506.0 1.8 499.8 4.0 496.2 5.7C492.6 7.4 490.7 7.3 487.5 10.1C484.3 12.8 480.6 18.6 477.2 22.2C473.8 25.8 470.0 29.0 466.8 31.7C463.6 34.4 459.6 35.6 458.2 38.6C456.8 41.6 459.2 46.5 458.6 49.8C458.0 53.1 457.4 54.6 454.7 58.4C452.0 62.1 445.5 68.3 442.6 72.3C439.7 76.3 438.5 78.6 437.4 82.6C436.2 86.6 435.8 92.5 435.7 96.5C435.6 100.5 436.9 103.9 436.6 106.8C436.3 109.7 433.3 111.8 434.0 113.7C434.7 115.6 439.2 116.4 440.9 118.0C442.6 119.6 444.1 120.5 444.3 123.2C444.5 126.0 443.5 130.6 441.8 134.5C440.1 138.4 436.8 142.9 434.0 146.6C431.2 150.3 428.2 153.0 425.3 156.9C422.4 160.8 419.9 166.3 416.7 169.9C413.5 173.5 409.3 176.5 406.3 178.5C403.3 180.5 401.9 180.0 398.9 181.7C395.9 183.4 392.5 185.4 388.5 188.6C384.5 191.8 380.4 197.1 374.7 200.7C368.9 204.3 361.5 207.6 354.0 210.2C346.5 212.8 336.1 214.9 329.8 216.3C323.5 217.7 319.2 217.4 316.0 218.8C312.8 220.2 312.8 222.7 310.8 224.9C308.8 227.1 306.2 228.1 303.9 231.8C301.6 235.6 299.0 242.2 297.0 247.4C295.0 252.6 293.8 259.2 291.8 262.9C289.8 266.6 288.4 267.4 284.9 269.8C281.4 272.2 275.9 274.9 271.0 277.6C266.1 280.3 258.5 283.5 255.5 286.2C252.5 288.9 254.3 290.7 252.9 294.0C251.5 297.3 248.8 301.8 246.9 306.1C245.0 310.4 242.9 315.9 241.7 319.9C240.5 323.9 240.0 326.9 239.6 330.3C239.2 333.8 239.9 337.3 239.1 340.6C238.3 343.9 237.0 347.6 234.8 350.2C232.6 352.8 229.0 353.5 226.1 356.2C223.2 358.9 220.4 363.6 217.5 366.6C214.6 369.6 211.2 372.6 208.9 374.3C206.6 376.0 205.7 375.1 203.5 377.0C201.3 378.9 197.0 383.9 196.0 385.5C195.0 387.1 196.3 387.2 197.5 386.5C198.7 385.8 202.6 381.1 203.0 381.5C203.4 381.9 201.8 386.0 200.2 389.0C198.6 392.0 194.9 396.8 193.3 399.4C191.7 402.0 191.9 400.2 190.7 404.5C189.5 408.8 124.4 421.6 186.0 425.0C247.6 428.4 497.7 500.0 560.0 425.0C622.3 350.0 567.3 46.7 560.0 -25.0C552.7 -96.7 524.5 -9.2 516.0 -5.0C507.6 -0.8 512.6 -1.8 509.3 0.0Z" fill="#fff" stroke="#fff" stroke-width="1.3" stroke-linejoin="round"/><polygon points="159.3,202.7 166.0,201.5 174.5,199.0 180.6,195.4 189.2,193.9 190.6,195.1 185.5,199.0 181.3,203.9 179.4,210.0 174.5,215.5 169.7,217.1 166.6,214.9 163.6,210.0 160.5,205.7" fill="#fff" stroke="#fff" stroke-width="1.6" stroke-linejoin="round"/><polygon points="206.9,210.6 209.0,212.2 212.3,211.8 216.0,212.0 218.4,210.0 219.1,214.9 220.3,219.7 218.4,224.0 213.6,227.1 208.7,227.1 203.8,223.4 201.7,218.5 203.2,214.3" fill="#fff" stroke="#fff" stroke-width="1.6" stroke-linejoin="round"/><polygon points="274.5,187.4 278.8,188.0 280.6,192.9 280.0,200.2 277.0,207.6 269.7,210.0 263.6,213.0 258.7,215.5 253.8,214.3 254.4,212.4 262.3,210.6 266.6,205.1 269.7,199.0 272.1,191.7" fill="#fff" stroke="#fff" stroke-width="1.6" stroke-linejoin="round"/><polygon points="292.8,166.1 295.9,169.1 295.3,174.6 291.6,177.7 286.7,178.9 282.5,183.8 278.2,182.6 280.0,177.7 284.3,174.0 289.8,172.8 291.0,167.9" fill="#fff" stroke="#fff" stroke-width="1.6" stroke-linejoin="round"/><polygon points="117.0,186.2 120.0,183.8 124.9,183.8 128.0,187.4 127.0,192.9 123.7,199.6 121.3,195.4 118.2,190.5" fill="#fff" stroke="#fff" stroke-width="1.6" stroke-linejoin="round"/><polygon points="109.9,226.5 115.8,225.2 120.0,222.4 121.9,224.6 118.8,230.1 116.4,231.3 112.1,228.9" fill="#fff" stroke="#fff" stroke-width="1.6" stroke-linejoin="round"/><polygon points="145.6,28.4 148.1,25.6 152.3,28.4 158.4,27.1 164.5,29.6 168.8,30.2 164.5,33.8 159.7,35.7 153.6,34.5 148.7,32.0" fill="#fff" stroke="#fff" stroke-width="1.6" stroke-linejoin="round"/><polygon points="179.4,19.2 182.2,16.8 184.7,18.0 182.8,19.5 180.4,20.2" fill="#fff" stroke="#fff" stroke-width="1.6" stroke-linejoin="round"/><polygon points="173.3,37.3 174.9,37.7 176.5,41.2 175.3,40.9" fill="#fff" stroke="#fff" stroke-width="1.6" stroke-linejoin="round"/><ellipse cx="147.1" cy="212.2" rx="5.9" ry="4.7" fill="#fff"/>
<path d="M24.1 -0.4L13.9 9.2L3.7 18.8L-0.6 23.0M33.5 -0.4L23.4 9.3L13.2 18.9L3.1 28.6L-1.2 32.7M42.8 -0.5L32.8 9.3L22.8 19.1L12.7 28.8L2.6 38.5L-0.3 41.2M52.2 -0.5L42.3 9.4L32.4 19.2L22.3 29.0L12.3 38.7L2.2 48.5L-0.7 51.3M56.9 -0.5L47.1 9.5L37.2 19.3L27.2 29.2L20.0 36.1M66.3 -0.6L56.6 9.6L46.8 19.6L36.9 29.5L27.0 39.3L17.0 49.1L7.0 58.9L-0.2 65.9M75.6 -0.6L66.1 9.7L56.5 19.8L46.7 29.9L36.9 39.8L27.0 49.7L17.0 59.5L7.0 69.4L-0.1 76.4M85.0 -0.6L75.7 9.8L66.2 20.1L56.5 30.2L46.8 40.3L37.0 50.3L27.1 60.2L17.2 70.1L7.3 80.0L-1.2 88.5M94.4 -0.7L85.2 9.9L75.8 20.3L66.4 30.6L56.8 40.8L47.1 50.9L37.4 61.0L27.5 70.9L17.7 80.9L7.8 90.8L-0.7 99.3M103.7 -0.7L94.7 10.0L85.5 20.5L76.2 31.0L66.7 41.3L57.2 51.5L47.5 61.7L37.8 71.8L28.1 81.8L18.2 91.8L8.4 101.7L-0.0 110.3M113.1 -0.8L104.2 10.1L95.2 20.7L85.9 31.3L76.6 41.7L67.2 52.1L57.7 62.3L48.1 72.5L38.4 82.7L28.7 92.7L18.9 102.8L9.1 112.7L-0.7 122.8M122.5 -0.8L113.7 10.2L104.8 20.9L95.7 31.5L86.4 42.0L77.1 52.5L67.7 62.9L58.2 73.2L48.7 83.4L39.1 93.6L29.4 103.7L19.7 113.8L9.9 123.8L0.2 133.9L-1.2 135.3M131.8 -0.8L123.3 10.2L114.4 21.1L105.3 31.7L96.1 42.3L86.9 52.8L77.6 63.2L68.2 73.7L58.8 84.1L49.4 94.4L39.8 104.6L30.1 114.7L20.4 124.8L10.7 134.9L1.0 145.0L-0.4 146.4M141.2 -0.9L132.8 10.3L124.1 21.3L115.0 32.0L105.8 42.5L96.6 53.0L87.3 63.5L78.1 74.0L68.8 84.5L59.5 95.0L50.0 105.3L40.5 115.6L30.9 125.8L21.3 135.9L11.6 146.0L1.9 156.1L-0.8 159.0M150.5 -0.9L142.4 10.4L133.8 21.5L124.8 32.2L115.6 42.8L106.3 53.2L97.0 63.7L87.8 74.3L78.7 84.9L69.5 95.4L60.2 105.9L50.8 116.3L41.3 126.6L31.7 136.8L22.1 147.0L12.5 157.1L2.8 167.3L-1.3 171.7M159.8 -1.0L151.9 10.6L143.5 21.8L134.7 32.6L125.5 43.1L116.1 53.6L106.8 64.0L97.6 74.6L88.5 85.2L79.4 95.9L70.3 106.5L61.1 117.0L51.7 127.5L42.3 137.8L32.7 148.0L23.1 158.2L13.5 168.4L3.9 178.6L-0.2 183.0M183.2 -1.1L176.0 10.9L168.4 22.6L164.9 27.5M201.8 -1.2L195.3 11.2L188.4 23.3L181.0 35.2L178.8 38.6M211.2 -1.2L204.9 11.3L198.3 23.6L191.4 35.8L184.0 47.7L176.1 59.2L167.8 70.5L159.3 81.6L150.9 92.8L142.6 104.1L134.6 115.6L126.6 127.1L118.6 138.6L110.3 149.9L101.8 161.0L92.9 171.8L83.7 182.3L74.3 192.7L64.8 203.0L55.5 213.5L46.2 224.0L37.1 234.6L28.1 245.3L19.1 256.0L10.2 266.8L1.3 277.7L-1.2 280.8M220.5 -1.3L214.5 11.4L208.2 23.9L201.8 36.3L194.9 48.5L187.6 60.5L180.0 72.2L172.2 83.8L164.3 95.4L156.5 107.0L148.9 118.8L141.4 130.6L133.8 142.4L126.0 154.0L117.9 165.4L109.3 176.5L100.3 187.2L90.9 197.6L81.4 207.8L72.0 218.2L62.8 228.7L53.8 239.5L45.0 250.3L36.2 261.3L27.5 272.2L18.9 283.3L10.3 294.3L1.7 305.3L-0.8 308.5M229.9 -1.3L224.0 11.4L218.1 24.1L211.9 36.7L205.5 49.1L198.8 61.4L191.9 73.6L184.7 85.6L177.5 97.6L170.3 109.6L163.2 121.7L156.2 133.8L149.1 145.9L141.9 157.8L134.3 169.6L126.2 181.1L125.0 182.7M239.2 -1.3L233.6 11.5L227.8 24.3L222.0 37.0L216.0 49.6L209.7 62.2L203.3 74.6L196.8 87.0L190.1 99.3L183.5 111.6L177.0 124.0L170.4 136.4L163.8 148.7L157.1 161.0L150.1 173.1L142.7 185.0L134.7 196.5L126.0 207.4L116.6 217.8L106.9 228.0L97.6 238.4L88.7 249.2L80.2 260.4L72.1 271.8L64.1 283.3L56.2 294.8L48.3 306.4L40.4 317.9L32.4 329.4L24.3 340.8L16.1 352.2L7.9 363.5L-0.5 374.7M248.6 -1.3L243.1 11.5L237.5 24.4L231.9 37.2L226.2 50.0L220.3 62.7L214.4 75.4L208.3 88.0L202.2 100.6L196.0 113.2L189.9 125.7L183.8 138.3L177.6 150.9L171.4 163.4L165.0 175.9L158.3 188.2L151.1 200.2L146.8 206.9M253.3 -1.3L247.8 11.6L242.3 24.4L236.8 37.3L236.0 39.1M262.7 -1.3L257.3 11.6L252.0 24.5L246.6 37.4L241.2 50.4L235.7 63.3L230.2 76.1L224.7 89.0L219.1 101.8L213.5 114.7L207.9 127.5L202.3 140.3L196.7 153.1L191.0 165.9L185.2 178.7L179.4 191.4L176.9 196.8M272.1 -1.4L266.8 11.6L261.5 24.6L256.3 37.6L251.0 50.5L245.8 63.5L240.5 76.5L235.2 89.4L229.8 102.4L224.5 115.3L219.2 128.3L213.8 141.2L208.4 154.1L203.0 167.0L197.6 179.9L192.2 192.9M281.5 -1.4L276.3 11.6L271.1 24.6L266.0 37.7L260.8 50.7L255.7 63.7L250.5 76.7L245.4 89.8L240.3 102.8L235.1 115.8L230.0 128.8L224.8 141.8L219.7 154.9L214.5 167.9L209.4 180.9L204.4 194.0L199.5 207.1L194.8 220.3L190.5 233.6L186.2 246.9L181.8 260.2L177.2 273.4L172.2 286.5L167.0 299.5L161.6 312.4L156.1 325.3L150.6 338.2L145.0 351.0L139.3 363.8L133.5 376.5L127.6 389.2L121.5 401.9L120.7 403.6M290.9 -1.4L285.7 11.7L280.6 24.7L275.6 37.7L270.5 50.8L265.5 63.9L260.4 76.9L255.4 90.0L250.4 103.1L245.5 116.2L240.5 129.2L235.5 142.3L230.6 155.4L225.6 168.5L220.7 181.6L215.9 194.8L211.3 208.0L210.7 209.9M300.2 -1.4L295.2 11.7L290.2 24.7L285.1 37.8L280.2 50.9L275.2 64.0L270.3 77.1L265.3 90.2L260.4 103.3L255.6 116.4L250.7 129.6L245.9 142.7L241.1 155.9L236.3 169.0L231.5 182.2L226.9 195.4L222.6 208.7L221.4 212.5M309.6 -1.4L304.7 11.7L299.7 24.8L294.8 37.9L289.9 51.0L284.9 64.1L280.1 77.2L275.2 90.4L270.4 103.5L265.6 116.7L260.9 129.8L256.1 143.0L251.4 156.2L246.8 169.4L242.2 182.6L237.7 195.9L233.5 209.2L229.7 222.7L226.4 236.3L223.5 250.0L220.7 263.7L217.6 277.4L214.0 290.9L210.0 304.3L205.8 317.7L201.3 330.9L196.8 344.2L192.2 357.4L187.6 370.6L182.9 383.8L178.2 397.0L175.5 404.5M319.0 -1.4L314.2 11.7L309.4 24.9L304.6 38.0L299.7 51.2L294.9 64.3L290.1 77.4L285.3 90.6L280.5 103.8L275.8 116.9L271.1 130.1L266.4 143.3L261.8 156.6L257.2 169.8L252.7 183.0L248.3 196.3L244.1 209.7L240.3 223.2L237.0 236.7L234.0 250.4L231.1 264.1L228.0 277.8L224.6 291.3L220.7 304.8L216.6 318.2L212.4 331.5L208.1 344.9L203.7 358.2L199.3 371.5L194.9 384.8L190.5 398.0L188.6 403.7M328.4 -1.4L323.7 11.8L319.1 25.0L314.4 38.2L309.7 51.4L305.0 64.5L300.2 77.7L295.5 90.9L290.8 104.1L286.1 117.3L281.4 130.5L276.8 143.7L272.3 156.9L267.8 170.2L263.3 183.5L258.9 196.8L254.8 210.1M337.7 -1.4L333.2 11.8L328.7 25.1L324.2 38.3L319.6 51.5L315.0 64.8L310.4 78.0L305.8 91.2L301.2 104.4L296.6 117.6L292.0 130.9L287.4 144.1L282.9 157.4L278.4 170.6L274.0 183.9L270.9 193.4M342.4 -1.5L338.0 11.8L333.5 25.1L329.1 38.4L324.6 51.6L320.1 64.9L315.5 78.1L311.0 91.4M347.1 -1.5L342.7 11.8L338.4 25.1L334.0 38.4L329.5 51.7L325.1 65.0L320.6 78.3L316.2 91.5L311.7 104.8L307.2 118.1L302.7 131.3L298.2 144.6L293.7 157.8L289.9 169.2M351.8 -1.5L347.5 11.9L343.2 25.2L338.8 38.5L334.5 51.8M356.5 -1.5L352.2 11.9L348.0 25.2L343.7 38.5M361.2 -1.5L357.0 11.9L352.8 25.3L348.6 38.6M365.9 -1.5L361.7 11.9L357.6 25.3L353.5 38.7M375.2 -1.5L371.2 11.9L367.2 25.3L363.2 38.8L359.2 52.2L355.1 65.6L351.0 79.0L347.0 92.3L342.9 105.7L338.8 119.1L334.6 132.5L330.5 145.9L326.4 159.3L322.3 172.6L318.2 186.0L314.0 199.4L309.9 212.8L305.8 226.2L304.6 230.0M384.6 -1.5L380.7 12.0L376.9 25.4L373.0 38.9L369.0 52.3L365.1 65.7L361.1 79.2L357.2 92.6L353.2 106.0L349.2 119.4L345.2 132.9L341.2 146.3L337.2 159.7L333.2 173.1L329.2 186.5L325.2 199.9L321.2 213.3L320.6 215.3M394.0 -1.5L390.2 12.0L386.5 25.5L382.7 38.9L378.9 52.4L375.1 65.9L371.2 79.4L367.4 92.8L363.6 106.3L359.7 119.7L355.9 133.2L352.0 146.7L348.1 160.1L344.2 173.6L340.3 187.0L336.4 200.5L332.5 213.9M403.4 -1.5L399.7 12.0L396.1 25.5L392.4 39.0L388.7 52.5L385.0 66.0L381.3 79.5L377.6 93.0L374.0 106.6L370.3 120.1L366.7 133.6L362.9 147.1L359.2 160.6L355.4 174.1L351.6 187.5L347.8 201.0L345.1 210.6M412.8 -1.5L409.1 12.0L405.5 25.5L401.9 39.1L398.3 52.6L394.7 66.1L391.2 79.7L387.7 93.2L384.2 106.8L380.9 120.4L377.5 134.0L374.0 147.5L370.5 161.1L366.8 174.6L363.1 188.1L359.4 201.6L357.9 207.4M422.2 -1.5L418.6 12.0L414.9 25.5L411.3 39.1L407.7 52.6L404.2 66.1L400.7 79.7L397.4 93.3L394.3 107.0L391.4 120.6L388.5 134.3L385.4 148.0L382.1 161.6L378.6 175.1L375.0 188.7L372.0 200.3M431.6 -1.5L428.0 12.0L424.3 25.5L420.7 39.1L417.1 52.6L413.6 66.1L410.2 79.7L407.0 93.3L404.2 107.1L401.8 120.8L399.4 134.6L396.9 148.4L394.0 162.1L390.7 175.7L387.3 189.3M441.0 -1.5L437.4 12.0L433.8 25.5L430.1 39.1L426.5 52.6L423.0 66.1L419.6 79.7L416.5 93.4L413.9 107.1L412.0 121.0L410.2 134.9L408.2 148.7L405.7 162.5L402.7 176.2L402.2 178.1M450.4 -1.5L446.8 12.0L443.2 25.5L439.5 39.0L435.9 52.6L432.4 66.1L429.0 79.7L425.9 93.4L423.5 107.1L421.8 121.0L420.5 135.0L419.0 148.9L416.7 162.7L415.1 170.6M459.8 -1.5L456.2 12.0L452.6 25.5L448.9 39.0L445.3 52.6L441.7 66.1L438.8 77.7M469.2 -1.5L465.6 12.0L462.0 25.5L458.9 37.1M202.0 312.6L197.4 325.9L192.8 339.1L188.1 352.3L183.4 365.5L178.6 378.6L173.8 391.8L168.9 404.9M216.5 228.2L213.3 241.8L210.3 255.5L207.2 269.1L203.6 282.7L199.6 296.0L195.2 309.3L190.5 322.5L185.7 335.7L180.9 348.8L176.0 361.9L171.0 375.0L166.0 388.1L160.9 401.2L159.5 404.9M209.9 229.1L206.6 242.7L203.4 256.3L200.0 269.9L196.1 283.3L191.8 296.7L187.1 309.9L182.3 323.0L177.3 336.1L172.3 349.2L167.2 362.2L162.1 375.2L156.8 388.2L151.5 401.2L150.0 404.8M204.7 226.3L201.1 239.8L197.6 253.4L193.9 266.9L189.9 280.3L185.4 293.5L180.5 306.7L175.5 319.7L170.4 332.8L165.2 345.8L160.0 358.8L154.6 371.7L149.2 384.6L143.7 397.5L140.5 404.8M200.5 221.8L196.5 235.2L192.6 248.7L188.7 262.1L184.4 275.4L179.8 288.6L174.8 301.7L169.6 314.7L164.4 327.7L159.0 340.6L153.6 353.5L148.1 366.4L142.5 379.3L136.8 392.1L131.0 404.8M183.0 241.6L178.4 254.8L173.5 267.9L168.4 281.0L163.0 293.9L157.5 306.8L151.9 319.6L146.2 332.4L140.5 345.2L134.7 357.9L128.8 370.6L122.8 383.2L116.6 395.8L112.1 404.7M196.2 192.6L191.0 205.6L186.0 218.7L181.0 231.7L176.0 244.8L170.9 257.9L165.6 270.8L160.1 283.7L154.4 296.5L148.7 309.3L142.9 322.0L137.1 334.7L131.2 347.4L125.2 360.1L119.0 372.7L112.8 385.2L106.3 397.6L102.6 404.7M173.4 237.0L168.0 249.9L162.4 262.7L156.7 275.5L150.8 288.2L144.9 300.9L139.0 313.6L133.0 326.2L127.0 338.9L120.9 351.5L114.6 364.0L108.3 376.5L101.8 388.9L95.1 401.2L93.1 404.6M176.2 218.4L170.5 231.2L164.7 244.0L158.8 256.6L152.7 269.3L146.6 281.9L140.5 294.5L134.4 307.1L128.3 319.7L122.1 332.2L115.9 344.8L109.5 357.2L103.1 369.7L96.4 382.0L89.6 394.2L83.6 404.6M168.7 223.9L162.6 236.5L156.4 249.0L150.0 261.5L143.6 273.9L137.3 286.4L131.0 298.9L124.7 311.4L118.4 323.9L112.0 336.4L105.6 348.8L99.0 361.2L92.3 373.5L85.4 385.7L78.3 397.7L74.2 404.6M154.4 241.6L147.6 253.9L140.9 266.2L134.2 278.5L127.7 290.9L121.2 303.3L114.8 315.7L108.3 328.1L101.7 340.5L95.1 352.8L88.3 365.1L81.3 377.2L74.2 389.2L66.8 401.2L64.7 404.5M140.5 255.2L133.5 267.3L126.6 279.5L119.9 291.8L113.3 304.1L106.7 316.5L100.0 328.8L93.3 341.1L86.4 353.3L79.5 365.4L72.3 377.4L64.9 389.4L57.4 401.2L55.2 404.5M161.5 210.5L154.6 222.7L147.3 234.6L139.8 246.4L132.3 258.2L125.0 270.1L118.0 282.3L111.1 294.5L104.3 306.7L97.5 319.0L90.7 331.2L83.8 343.4L76.8 355.5L69.6 367.5L62.2 379.4L54.6 391.2L46.9 402.8L45.8 404.5M121.7 264.5L114.4 276.4L107.3 288.5L100.3 300.6L93.3 312.8L86.4 324.9L79.3 337.0L72.2 349.1L64.9 361.0L57.5 372.9L49.8 384.6L42.0 396.2L36.3 404.4M147.7 218.3L139.7 229.8L131.3 241.1L123.1 252.4L115.2 263.9L107.7 275.7L100.4 287.7L93.3 299.8L86.2 311.8L79.1 323.9L71.9 335.9L64.6 347.9L57.1 359.7L49.5 371.5L41.7 383.1L33.8 394.6L26.8 404.4M121.5 245.6L113.2 256.8L105.3 268.4L97.8 280.2L90.5 292.1L83.2 304.1L75.9 316.1L68.6 328.0L61.2 339.9L53.7 351.7L46.1 363.4L38.2 375.0L30.2 386.5L22.1 397.9L17.4 404.4M140.4 214.2L131.8 225.2L122.8 235.9L113.9 246.7L105.5 257.9L97.5 269.5L89.9 281.2L82.5 293.0L75.1 304.9L67.6 316.8L60.2 328.6L52.6 340.4L44.9 352.1L37.1 363.7L29.1 375.2L21.0 386.6L12.7 397.9L8.0 404.4M107.4 246.3L98.8 257.4L90.8 268.8L83.1 280.5L75.5 292.3L67.9 304.0L60.3 315.8L52.7 327.5L45.0 339.2L37.1 350.8L29.2 362.3L21.1 373.8L12.8 385.1L4.5 396.3L-0.3 402.8M112.5 231.0L103.3 241.5L94.5 252.4L86.2 263.7L78.3 275.2L70.5 286.9L62.7 298.5L55.0 310.2L47.2 321.8L39.4 333.4L31.4 345.0L23.4 356.4L15.2 367.8L6.9 379.1L-0.3 388.7M123.4 201.1L114.0 211.5L104.3 221.6L94.8 231.9L85.7 242.5L77.0 253.5L68.6 264.7L60.5 276.1L52.4 287.5L44.3 299.0L36.2 310.4L28.1 321.8L19.9 333.2L11.7 344.5L3.3 355.7L-0.3 360.5M118.9 196.2L109.5 206.6L99.8 216.7L90.3 226.9L81.1 237.5L72.3 248.3L63.7 259.5L55.4 270.7L47.1 282.0L38.9 293.3L30.6 304.6L22.4 315.9L14.1 327.2L5.7 338.4L-0.3 346.5M115.4 189.5L106.1 200.0L96.5 210.2L86.9 220.4L77.6 230.8L68.7 241.6L59.9 252.5L51.4 263.6L43.0 274.8L34.6 286.0L26.2 297.2L17.8 308.4L9.4 319.6L0.9 330.8L-0.3 332.4M148.8 128.1L141.4 140.0L133.9 151.8L126.1 163.4L117.8 174.7L109.0 185.6L99.8 196.1L90.2 206.4L80.7 216.6L71.4 227.1L62.4 237.8L53.5 248.7L44.9 259.7L36.3 270.7L27.7 281.8L19.2 292.9L10.7 304.0L2.2 315.1L-0.3 318.3M69.9 213.0L60.6 223.5L51.5 234.1L42.5 244.9L33.7 255.7L24.9 266.6L16.2 277.6L7.5 288.5L-1.2 299.5M32.2 231.5L23.1 242.1L14.0 252.8L5.0 263.6L-0.1 269.7M176.5 44.4L168.1 55.6L159.4 66.6L150.6 77.4L141.7 88.3L133.1 99.3L124.7 110.6L116.5 121.9L108.2 133.1L99.7 144.2L90.9 155.2L81.9 165.9L72.6 176.4L63.2 186.7L53.8 197.1L44.4 207.4L35.1 217.9L25.8 228.4L16.6 239.0L7.5 249.6L-0.2 258.8M140.2 81.3L131.3 92.2L122.7 103.2L114.3 114.4L105.9 125.6L97.3 136.7L88.6 147.6L79.6 158.3L70.3 168.8L60.9 179.2L51.5 189.6L42.0 199.9L32.6 210.3L23.3 220.7L14.0 231.2L4.9 241.8L-0.4 247.8M178.5 21.3L170.8 32.9L162.4 44.1L153.4 54.9L144.2 65.4L135.0 76.0L125.9 86.6L117.1 97.5L108.5 108.6L99.9 119.6L91.3 130.6L82.4 141.5L73.4 152.1L64.1 162.6L54.7 173.0L45.2 183.3L35.7 193.6L26.3 203.9L16.9 214.3L7.6 224.8L-0.4 233.8M157.2 38.8L148.3 49.5L138.9 60.0L129.6 70.4L120.4 81.0L111.4 91.7L102.7 102.6L93.9 113.6L85.1 124.4L76.2 135.2L67.0 145.8L57.7 156.3L48.3 166.6L38.8 176.9L29.3 187.2L19.8 197.4L10.3 207.8L0.9 218.2L-0.4 219.7M149.2 36.2L140.0 46.8L130.7 57.2L121.3 67.6L112.1 78.2L103.0 88.9L94.1 99.7L85.3 110.5L76.3 121.3L67.2 131.9L57.9 142.4L48.5 152.8L39.0 163.0L29.5 173.3L19.9 183.5L10.4 193.8L0.9 204.1L-0.4 205.6M50.0 137.4L40.6 147.7L31.0 157.9L21.4 168.1L11.8 178.3L2.3 188.6L-0.4 191.5M32.5 61.3L22.6 71.2L12.7 81.1L2.8 91.0L-0.0 93.9M216.2 304.4L212.0 317.8L207.7 331.1L203.3 344.4L198.9 357.7L194.4 370.9L189.9 384.2L185.3 397.4L182.7 405.0M50.3 226.6L41.2 237.2L32.2 248.0L23.3 258.8L14.5 269.7L5.7 280.5L-0.5 288.3M144.8 28.9L135.8 39.6L126.4 50.1L118.4 59.0M253.8 207.3L249.8 220.7L246.2 234.3L243.0 247.9L240.0 261.5L236.9 275.2L233.5 288.8L229.8 302.3L225.8 315.7L221.7 329.1L217.6 342.5L213.4 355.8L209.2 369.2L208.0 373.0M220.0 29.8L213.9 42.4L207.6 54.9L202.9 63.7M112.1 138.1L103.7 149.3L95.0 160.2L86.0 170.9L76.7 181.4L67.3 191.8L57.9 202.1L48.5 212.5L39.2 223.0L34.0 229.1M238.4 42.7L232.9 55.6L227.3 68.4L221.6 81.2L215.8 94.0L210.0 106.7L204.2 119.5L198.5 132.2L192.7 145.0L186.8 157.7L180.9 170.4L174.8 183.0L168.6 195.5L165.9 200.9M346.5 42.7L342.2 56.0L338.0 69.3L333.7 82.7L329.4 96.0L325.1 109.3L320.8 122.6L316.5 136.0L312.2 149.3L307.8 162.6L303.5 175.9L299.2 189.2L294.9 202.5L290.6 215.9L286.5 229.3L282.5 242.7L278.5 256.1L274.7 269.6L273.1 275.3M351.2 42.7L347.0 56.0L342.8 69.4L339.2 80.8M355.9 42.7L351.7 56.0L347.6 69.4L344.0 80.9M260.5 218.1L256.7 231.6L253.2 245.1L249.9 258.7L246.6 272.4L243.2 285.9L239.6 299.5L235.8 312.9L231.9 326.4L227.9 339.8L223.8 353.2L221.0 362.8M225.0 334.1L220.9 347.5L216.8 360.8L214.5 368.5M172.8 39.7L164.4 50.8L155.5 61.7L146.4 72.3L141.2 78.4M97.6 87.0L88.7 97.8L79.7 108.5L70.6 119.2L61.4 129.7L52.1 140.1L42.6 150.5M337.1 56.7L332.7 70.1L328.4 83.4L324.0 96.7L320.9 106.2M456.2 32.4L452.6 45.9L449.0 59.5L447.5 65.3M266.9 215.6L262.9 229.0L259.2 242.5L255.7 256.1L252.3 269.7L248.9 283.3L245.3 296.8L241.6 310.3L237.7 323.7L233.8 337.2L229.8 350.6L229.3 352.5M183.1 58.4L175.2 69.9L167.0 81.3L158.9 92.7L150.8 104.1L142.9 115.7L135.2 127.4L127.4 139.0L119.4 150.5L111.1 161.8L102.4 172.7L93.4 183.4L84.0 193.8L74.5 204.1L69.2 210.1M201.4 68.0L194.6 80.3L187.8 92.5L180.9 104.7L179.9 106.4M197.2 53.9L190.1 65.9L182.7 77.8L175.1 89.6L167.6 101.4L160.1 113.2L152.8 125.2L150.7 128.6M437.6 77.1L434.4 90.7L431.8 104.5L430.1 118.4L428.8 132.3L427.5 146.2L426.4 154.2M210.7 72.0L204.4 84.6L198.1 97.0L191.7 109.5L185.4 122.0L179.1 134.5L172.7 147.0L166.3 159.4L159.7 171.8L152.8 183.9L145.4 195.8L137.3 207.3L128.5 218.1L123.2 224.1M381.1 63.9L377.4 77.4L373.6 90.9L369.9 104.4L367.8 112.1M323.0 84.9L318.5 98.2L314.1 111.5L309.7 124.7L305.2 138.0L300.8 151.3L296.3 164.6L295.7 166.5M341.7 84.9L337.6 98.3L333.4 111.6L329.2 125.0L325.0 138.3L320.8 151.7L316.5 165.0L312.3 178.4L308.1 191.7L303.9 205.1L299.7 218.4L295.5 231.8L291.5 245.2L287.5 258.6L284.7 268.2M261.9 85.9L256.9 99.0L252.0 112.1L249.9 117.7M418.1 108.3L416.4 122.2L414.9 136.1L414.1 142.0M375.3 48.1L371.4 61.6L367.5 75.1L363.6 88.5L359.7 101.9L355.8 115.4L351.9 128.8L348.0 142.3L344.0 155.7L340.1 169.1L336.1 182.6L332.2 196.0L328.2 209.4L326.5 215.2M149.7 86.6L141.2 97.7L132.9 108.9L124.8 120.3L116.7 131.7L114.3 135.0M409.1 106.3L406.9 120.1L404.9 134.0L402.7 147.8L400.0 161.6L396.9 175.2L394.5 184.9M224.4 217.2L220.9 230.8L217.9 244.5L215.0 258.2L212.0 271.8L208.5 285.4L204.5 298.8L201.4 308.3M266.5 99.9L261.7 113.1L256.9 126.2L254.1 133.7M310.1 96.1L305.5 109.3L300.9 122.6L296.4 135.8L291.8 149.1L287.4 162.3L283.6 173.7M177.9 110.3L171.1 122.5L164.3 134.8L157.5 147.0L150.6 159.1L143.3 171.1L135.6 182.8L129.8 190.9M319.7 108.4L315.3 121.7L310.9 134.9L306.5 148.2L302.1 161.5L297.7 174.8L293.3 188.1L289.0 201.4L284.8 214.8L280.7 228.2L276.7 241.6L272.8 255.0L269.1 268.5L266.4 278.2M352.4 93.0L348.4 106.4L344.4 119.8L340.3 133.2L339.8 135.2M399.8 106.3L397.2 120.1L394.6 133.8L391.8 147.6L388.7 161.2L385.3 174.8L381.8 188.4L379.8 196.1M277.0 210.7L272.9 224.1L268.9 237.5L265.2 251.0L261.6 264.5L258.0 278.1L255.9 285.8M385.4 122.4L382.2 136.0L378.8 149.6L376.8 157.4M224.4 128.2L219.1 141.1L213.8 154.1L208.5 167.1L203.3 180.0L198.0 193.0M266.5 128.1L261.8 141.3L257.1 154.5L254.5 162.0M376.2 120.2L372.7 133.7L369.1 147.2L365.4 160.8L361.7 174.3L358.5 185.8M377.0 160.8L373.5 174.3L369.8 187.8L366.2 201.3L365.7 203.3M338.4 136.5L334.4 149.9L330.3 163.3L326.2 176.7L325.1 180.5M225.3 263.1L222.3 276.8L218.8 290.4L216.7 298.1M235.0 223.3L231.7 236.9L228.8 250.6L226.0 264.3M187.0 142.4L181.0 155.0L174.9 167.6L168.6 180.1L162.1 192.5L155.2 204.7L152.0 209.8M366.9 115.9L363.2 129.4L359.4 142.9L355.6 156.3L351.8 169.8L347.9 183.3L344.1 196.7M215.0 122.2L209.5 135.1L203.9 148.0L198.4 160.8M224.2 155.3L219.2 168.4L214.1 181.4L209.2 194.5L204.5 207.7L201.9 215.3M266.4 156.2L261.9 169.4L257.4 182.7L254.2 192.2M253.6 166.5L249.0 179.7L244.6 193.0L240.3 206.3L236.4 219.8M290.8 180.6L286.5 193.9L282.2 207.3L278.6 218.7" fill="none" stroke="#000" stroke-width="1.35"/><path d="M22.9 28.5 l7.7 -2.6M22.9 28.5 l2.8 -7.6M30.4 36.0 l7.7 -2.6M30.4 36.0 l2.7 -7.7M36.0 40.7 l7.7 -2.7M36.0 40.7 l2.7 -7.7M40.4 46.9 l7.6 -2.7M40.4 46.9 l2.6 -7.7M44.9 53.3 l7.6 -2.8M44.9 53.3 l2.5 -7.7M50.8 58.3 l7.6 -2.9M50.8 58.3 l2.5 -7.7M55.5 64.7 l7.6 -2.9M55.5 64.7 l2.4 -7.8M60.1 71.2 l7.5 -3.0M60.1 71.2 l2.3 -7.8M64.7 77.6 l7.5 -3.1M64.7 77.6 l2.3 -7.8M69.3 84.0 l7.5 -3.1M69.3 84.0 l2.2 -7.8M73.9 90.4 l7.5 -3.2M73.9 90.4 l2.1 -7.8M79.9 95.3 l7.4 -3.3M79.9 95.3 l2.1 -7.9M110.8 149.3 l7.2 -3.8M110.8 149.3 l1.5 -8.0M118.4 164.8 l7.2 -3.8M118.4 164.8 l1.4 -8.0M178.9 95.2 l6.8 -4.4M178.9 95.2 l0.7 -8.1M132.8 199.1 l7.2 -3.8M132.8 199.1 l1.5 -8.0M199.0 107.1 l6.4 -5.0M199.0 107.1 l0.0 -8.1M219.4 101.1 l6.2 -5.3M219.4 101.1 l-0.3 -8.1M230.9 99.8 l6.1 -5.4M230.9 99.8 l-0.5 -8.1M200.4 204.5 l5.9 -5.6M200.4 204.5 l-0.8 -8.1M248.6 108.0 l5.9 -5.6M248.6 108.0 l-0.7 -8.1M258.6 108.2 l5.9 -5.6M258.6 108.2 l-0.8 -8.1M235.4 202.8 l5.6 -5.9M235.4 202.8 l-1.1 -8.0M246.1 203.2 l5.6 -5.9M246.1 203.2 l-1.2 -8.0M289.7 107.1 l5.8 -5.7M289.7 107.1 l-0.9 -8.1M302.8 99.9 l5.8 -5.7M302.8 99.9 l-0.9 -8.1M325.5 49.0 l5.7 -5.8M325.5 49.0 l-1.0 -8.1M317.7 87.0 l5.7 -5.8M317.7 87.0 l-1.0 -8.1M339.0 118.4 l5.5 -6.0M339.0 118.4 l-1.2 -8.0M351.7 111.0 l5.5 -6.0M351.7 111.0 l-1.3 -8.0M362.7 109.4 l5.4 -6.1M362.7 109.4 l-1.4 -8.0M373.6 107.8 l5.3 -6.1M373.6 107.8 l-1.5 -8.0M384.4 106.1 l5.2 -6.2M384.4 106.1 l-1.6 -8.0M395.4 102.3 l5.1 -6.3M395.4 102.3 l-1.8 -7.9M406.3 96.5 l5.0 -6.4M406.3 96.5 l-1.9 -7.9M417.0 90.7 l5.1 -6.4M417.0 90.7 l-1.8 -7.9M427.3 86.8 l5.1 -6.3M427.3 86.8 l-1.8 -7.9M448.1 42.2 l5.3 -6.2M448.1 42.2 l-1.5 -8.0M184.3 362.9 l5.8 -5.7M184.3 362.9 l-0.9 -8.1M190.7 321.8 l5.8 -5.7M190.7 321.8 l-0.9 -8.1M182.5 322.3 l5.9 -5.6M182.5 322.3 l-0.8 -8.1M175.1 320.9 l5.9 -5.5M175.1 320.9 l-0.6 -8.1M168.4 317.7 l6.0 -5.5M168.4 317.7 l-0.6 -8.1M148.1 328.0 l6.2 -5.3M148.1 328.0 l-0.3 -8.1M151.5 303.1 l6.2 -5.2M151.5 303.1 l-0.2 -8.1M133.3 325.6 l6.3 -5.1M133.3 325.6 l-0.1 -8.1M130.4 315.4 l6.4 -5.0M130.4 315.4 l0.0 -8.1M121.4 317.9 l6.4 -4.9M121.4 317.9 l0.1 -8.1M108.6 327.5 l6.5 -4.8M108.6 327.5 l0.3 -8.1M97.5 333.4 l6.6 -4.7M97.5 333.4 l0.4 -8.1M101.8 311.3 l6.6 -4.7M101.8 311.3 l0.5 -8.1M78.7 338.1 l6.7 -4.5M78.7 338.1 l0.6 -8.1M84.5 314.6 l6.8 -4.5M84.5 314.6 l0.7 -8.1M68.0 329.1 l6.8 -4.4M68.0 329.1 l0.8 -8.1M71.2 311.1 l6.9 -4.3M71.2 311.1 l0.9 -8.1M52.0 328.6 l7.0 -4.2M52.0 328.6 l1.0 -8.1M53.2 312.9 l7.0 -4.1M53.2 312.9 l1.1 -8.0M56.3 282.0 l7.1 -3.9M56.3 282.0 l1.4 -8.0M54.6 271.7 l7.2 -3.8M54.6 271.7 l1.5 -8.0M53.1 261.4 l7.3 -3.7M53.1 261.4 l1.7 -8.0M71.9 226.5 l7.5 -3.2M71.9 226.5 l2.2 -7.8M31.7 258.2 l7.4 -3.5M31.7 258.2 l1.9 -7.9M88.9 157.7 l7.4 -3.4M88.9 157.7 l1.9 -7.9M69.5 169.8 l7.5 -3.1M69.5 169.8 l2.2 -7.8M89.2 133.1 l7.3 -3.5M89.2 133.1 l1.8 -7.9M77.9 133.1 l7.4 -3.4M77.9 133.1 l2.0 -7.9M72.9 125.3 l7.4 -3.3M72.9 125.3 l2.0 -7.9M21.9 167.6 l7.6 -2.9M21.9 167.6 l2.4 -7.8M198.5 358.9 l5.7 -5.8M198.5 358.9 l-1.0 -8.1M22.6 259.8 l7.4 -3.4M22.6 259.8 l1.9 -7.9M232.1 293.9 l5.3 -6.2M232.1 293.9 l-1.5 -8.0M71.8 186.8 l7.5 -3.1M71.8 186.8 l2.3 -7.8M201.3 126.1 l6.2 -5.2M201.3 126.1 l-0.2 -8.1M308.1 161.9 l5.6 -5.9M308.1 161.9 l-1.1 -8.1M240.9 294.9 l5.3 -6.2M240.9 294.9 l-1.5 -8.0M68.5 121.6 l7.5 -3.2M68.5 121.6 l2.1 -7.9M247.6 288.3 l5.3 -6.2M247.6 288.3 l-1.6 -8.0M126.7 140.0 l7.0 -4.1M126.7 140.0 l1.2 -8.0M172.3 94.0 l6.9 -4.2M172.3 94.0 l1.0 -8.1M429.9 119.6 l4.3 -6.9M429.9 119.6 l-2.7 -7.7M169.4 153.4 l6.5 -4.9M169.4 153.4 l0.2 -8.1M308.0 129.7 l5.7 -5.8M308.0 129.7 l-1.0 -8.1M311.9 179.6 l5.6 -5.9M311.9 179.6 l-1.2 -8.0M349.9 135.8 l5.4 -6.0M349.9 135.8 l-1.3 -8.0M402.5 149.0 l4.7 -6.6M402.5 149.0 l-2.2 -7.8M213.1 267.2 l5.0 -6.4M213.1 267.2 l-1.9 -7.9M295.3 138.9 l5.7 -5.8M295.3 138.9 l-1.0 -8.1M152.9 155.0 l6.7 -4.6M152.9 155.0 l0.5 -8.1M290.5 196.9 l5.6 -5.9M290.5 196.9 l-1.1 -8.0M390.2 154.6 l5.0 -6.4M390.2 154.6 l-1.9 -7.9M264.8 252.2 l5.3 -6.1M264.8 252.2 l-1.5 -8.0M168.9 179.4 l6.5 -4.9M168.9 179.4 l0.2 -8.1M354.7 159.5 l5.4 -6.1M354.7 159.5 l-1.4 -8.0" fill="none" stroke="#000" stroke-width="1.35" stroke-linecap="round"/>
<path d="M509.3 0.0C506.0 1.8 499.8 4.0 496.2 5.7C492.6 7.4 490.7 7.3 487.5 10.1C484.3 12.8 480.6 18.6 477.2 22.2C473.8 25.8 470.0 29.0 466.8 31.7C463.6 34.4 459.6 35.6 458.2 38.6C456.8 41.6 459.2 46.5 458.6 49.8C458.0 53.1 457.4 54.6 454.7 58.4C452.0 62.1 445.5 68.3 442.6 72.3C439.7 76.3 438.5 78.6 437.4 82.6C436.2 86.6 435.8 92.5 435.7 96.5C435.6 100.5 436.9 103.9 436.6 106.8C436.3 109.7 433.3 111.8 434.0 113.7C434.7 115.6 439.2 116.4 440.9 118.0C442.6 119.6 444.1 120.5 444.3 123.2C444.5 126.0 443.5 130.6 441.8 134.5C440.1 138.4 436.8 142.9 434.0 146.6C431.2 150.3 428.2 153.0 425.3 156.9C422.4 160.8 419.9 166.3 416.7 169.9C413.5 173.5 409.3 176.5 406.3 178.5C403.3 180.5 401.9 180.0 398.9 181.7C395.9 183.4 392.5 185.4 388.5 188.6C384.5 191.8 380.4 197.1 374.7 200.7C368.9 204.3 361.5 207.6 354.0 210.2C346.5 212.8 336.1 214.9 329.8 216.3C323.5 217.7 319.2 217.4 316.0 218.8C312.8 220.2 312.8 222.7 310.8 224.9C308.8 227.1 306.2 228.1 303.9 231.8C301.6 235.6 299.0 242.2 297.0 247.4C295.0 252.6 293.8 259.2 291.8 262.9C289.8 266.6 288.4 267.4 284.9 269.8C281.4 272.2 275.9 274.9 271.0 277.6C266.1 280.3 258.5 283.5 255.5 286.2C252.5 288.9 254.3 290.7 252.9 294.0C251.5 297.3 248.8 301.8 246.9 306.1C245.0 310.4 242.9 315.9 241.7 319.9C240.5 323.9 240.0 326.9 239.6 330.3C239.2 333.8 239.9 337.3 239.1 340.6C238.3 343.9 237.0 347.6 234.8 350.2C232.6 352.8 229.0 353.5 226.1 356.2C223.2 358.9 220.4 363.6 217.5 366.6C214.6 369.6 211.2 372.6 208.9 374.3C206.6 376.0 205.7 375.1 203.5 377.0C201.3 378.9 197.0 383.9 196.0 385.5C195.0 387.1 196.3 387.2 197.5 386.5C198.7 385.8 202.6 381.1 203.0 381.5C203.4 381.9 201.8 386.0 200.2 389.0C198.6 392.0 194.9 396.8 193.3 399.4C191.7 402.0 191.9 400.2 190.7 404.5C189.5 408.8 124.4 421.6 186.0 425.0C247.6 428.4 497.7 500.0 560.0 425.0C622.3 350.0 567.3 46.7 560.0 -25.0C552.7 -96.7 524.5 -9.2 516.0 -5.0C507.6 -0.8 512.6 -1.8 509.3 0.0Z" fill="#000"/><path d="M159.3 202.7C160.2 202.0 163.5 202.1 166.0 201.5C168.5 200.9 172.1 200.0 174.5 199.0C176.9 198.0 178.2 196.2 180.6 195.4C183.0 194.6 187.5 194.0 189.2 193.9C190.9 193.8 191.2 194.2 190.6 195.1C190.0 195.9 187.1 197.5 185.5 199.0C183.9 200.5 182.3 202.1 181.3 203.9C180.3 205.7 180.5 208.1 179.4 210.0C178.3 211.9 176.1 214.3 174.5 215.5C172.9 216.7 171.0 217.2 169.7 217.1C168.4 217.0 167.6 216.1 166.6 214.9C165.6 213.7 164.6 211.5 163.6 210.0C162.6 208.5 161.2 206.9 160.5 205.7C159.8 204.5 158.4 203.4 159.3 202.7Z" fill="#000" stroke="#000" stroke-width="0.6" stroke-linejoin="round"/><path d="M206.9 210.6C207.9 210.2 208.1 212.0 209.0 212.2C209.9 212.4 211.1 211.8 212.3 211.8C213.5 211.8 215.0 212.3 216.0 212.0C217.0 211.7 217.9 209.5 218.4 210.0C218.9 210.5 218.8 213.3 219.1 214.9C219.4 216.5 220.4 218.2 220.3 219.7C220.2 221.2 219.5 222.8 218.4 224.0C217.3 225.2 215.2 226.6 213.6 227.1C212.0 227.6 210.3 227.7 208.7 227.1C207.1 226.5 205.0 224.8 203.8 223.4C202.6 222.0 201.8 220.0 201.7 218.5C201.6 217.0 202.3 215.6 203.2 214.3C204.1 213.0 205.9 210.9 206.9 210.6Z" fill="#000" stroke="#000" stroke-width="0.6" stroke-linejoin="round"/><path d="M274.5 187.4C275.6 186.8 277.8 187.1 278.8 188.0C279.8 188.9 280.4 190.9 280.6 192.9C280.8 194.9 280.6 197.8 280.0 200.2C279.4 202.6 278.7 206.0 277.0 207.6C275.3 209.2 271.9 209.1 269.7 210.0C267.5 210.9 265.4 212.1 263.6 213.0C261.8 213.9 260.3 215.3 258.7 215.5C257.1 215.7 254.5 214.8 253.8 214.3C253.1 213.8 253.0 213.0 254.4 212.4C255.8 211.8 260.3 211.8 262.3 210.6C264.3 209.4 265.4 207.0 266.6 205.1C267.8 203.2 268.8 201.2 269.7 199.0C270.6 196.8 271.3 193.6 272.1 191.7C272.9 189.8 273.4 188.0 274.5 187.4Z" fill="#000" stroke="#000" stroke-width="0.6" stroke-linejoin="round"/><path d="M292.8 166.1C293.6 166.3 295.5 167.7 295.9 169.1C296.3 170.5 296.0 173.2 295.3 174.6C294.6 176.0 293.0 177.0 291.6 177.7C290.2 178.4 288.2 177.9 286.7 178.9C285.2 179.9 283.9 183.2 282.5 183.8C281.1 184.4 278.6 183.6 278.2 182.6C277.8 181.6 279.0 179.1 280.0 177.7C281.0 176.3 282.7 174.8 284.3 174.0C285.9 173.2 288.7 173.8 289.8 172.8C290.9 171.8 290.5 169.0 291.0 167.9C291.5 166.8 292.0 165.9 292.8 166.1Z" fill="#000" stroke="#000" stroke-width="0.6" stroke-linejoin="round"/><path d="M117.0 186.2C117.3 185.1 118.7 184.2 120.0 183.8C121.3 183.4 123.6 183.2 124.9 183.8C126.2 184.4 127.7 185.9 128.0 187.4C128.3 188.9 127.7 190.9 127.0 192.9C126.3 194.9 124.7 199.2 123.7 199.6C122.8 200.0 122.2 196.9 121.3 195.4C120.4 193.9 118.9 192.0 118.2 190.5C117.5 189.0 116.7 187.3 117.0 186.2Z" fill="#000" stroke="#000" stroke-width="0.6" stroke-linejoin="round"/><path d="M109.9 226.5C110.5 225.9 114.1 225.9 115.8 225.2C117.5 224.5 119.0 222.5 120.0 222.4C121.0 222.3 122.1 223.3 121.9 224.6C121.7 225.9 119.7 229.0 118.8 230.1C117.9 231.2 117.5 231.5 116.4 231.3C115.3 231.1 113.2 229.7 112.1 228.9C111.0 228.1 109.3 227.1 109.9 226.5Z" fill="#000" stroke="#000" stroke-width="0.6" stroke-linejoin="round"/><path d="M145.6 28.4C145.5 27.3 147.0 25.6 148.1 25.6C149.2 25.6 150.6 28.1 152.3 28.4C154.0 28.6 156.4 26.9 158.4 27.1C160.4 27.3 162.8 29.1 164.5 29.6C166.2 30.1 168.8 29.5 168.8 30.2C168.8 30.9 166.0 32.9 164.5 33.8C163.0 34.7 161.5 35.6 159.7 35.7C157.9 35.8 155.4 35.1 153.6 34.5C151.8 33.9 150.0 33.0 148.7 32.0C147.4 31.0 145.7 29.5 145.6 28.4Z" fill="#000" stroke="#000" stroke-width="0.6" stroke-linejoin="round"/><path d="M179.4 19.2C179.7 18.6 181.3 17.0 182.2 16.8C183.1 16.6 184.6 17.6 184.7 18.0C184.8 18.4 183.5 19.1 182.8 19.5C182.1 19.9 181.0 20.2 180.4 20.2C179.8 20.1 179.1 19.8 179.4 19.2Z" fill="#000" stroke="#000" stroke-width="0.6" stroke-linejoin="round"/><path d="M173.3 37.3C173.2 36.8 174.4 37.1 174.9 37.7C175.4 38.4 176.4 40.7 176.5 41.2C176.6 41.7 175.8 41.5 175.3 40.9C174.8 40.2 173.4 37.8 173.3 37.3Z" fill="#000" stroke="#000" stroke-width="0.6" stroke-linejoin="round"/><ellipse cx="147.1" cy="212.2" rx="5.4" ry="4.2" fill="#000"/>
<g stroke="#808080" stroke-opacity="0.4" stroke-width="1" fill="none"><path d="M37.5 0V403.5"/><path d="M115.8 0V403.5"/><path d="M194.2 0V403.5"/><path d="M272.5 0V403.5"/><path d="M350.9 0V403.5"/><path d="M429.2 0V403.5"/><path d="M-5.0 21.0H508.2"/><path d="M-5.0 60.2H508.2"/><path d="M-5.0 99.5H508.2"/><path d="M-5.0 138.8H508.2"/><path d="M-5.0 178.0H508.2"/><path d="M-5.0 217.2H508.2"/><path d="M-5.0 256.5H508.2"/><path d="M-5.0 295.8H508.2"/><path d="M-5.0 335.0H508.2"/><path d="M-5.0 374.2H508.2"/></g>
</g>
<rect x="0.0" y="0" width="508.2" height="403.5" fill="none" stroke="#3a3a3a" stroke-width="1.1"/>
</g>
<clipPath id="cpC"><rect x="-3.0" y="0" width="511.2" height="403.5"/></clipPath>
<g transform="translate(106.7,991.8)">
<g clip-path="url(#cpC)">
<rect x="-3.0" y="0" width="511.2" height="403.5" fill="#053061"/>
<path fill="#175290" fill-rule="evenodd" d="M-8.5 -5.5L514.5 -5.5L514.5 409.5L-8.5 409.5ZM111.5 189.3L108.5 190.6L105.7 193.5L102.9 199.5L103.5 200.1L105.5 199.2L109.5 195.5L111.6 191.5ZM139.5 220.6L136.5 222.5L134.5 225.1L131.2 231.5L130.5 235.5L131.5 235.5L133.5 233.9L137.5 228.1L139.9 222.5ZM163.5 217.5L160.5 219.9L153.4 231.5L149.6 240.5L149.5 243.7L151.5 243.3L154.5 240.8L158.9 234.5L164.3 221.5L164.6 218.5ZM221.3 205.5L221.1 208.5L224.5 212.6L228.5 213.2L231.1 211.5L231.5 208.5L230.2 206.5L227.8 204.5L224.5 203.8ZM112.5 235.8L107.8 239.5L106.2 241.5L106.4 242.5L111.5 238.5L112.9 236.5Z"/><path fill="#3f8ec0" fill-rule="evenodd" d="M-8.5 -5.5L514.5 -5.5L514.5 409.5L-8.5 409.5ZM114.8 185.5L113.5 185.3L111.5 186.3L104.9 192.5L97.4 204.5L96.6 206.5L97.5 207.2L104.5 202.8L110.5 196.6L114.5 189.5L115.2 186.5ZM124.5 223.3L123.5 223.5L105.6 239.5L102.7 243.5L101.9 245.5L102.2 246.5L103.5 246.5L106.5 245.0L112.7 239.5L121.7 229.5L124.5 224.8ZM143.5 214.6L142.5 214.6L140.5 216.0L133.9 223.5L129.5 232.0L126.8 239.5L126.7 241.5L128.5 241.2L132.5 237.3L138.5 228.9L142.8 220.5L143.9 216.5ZM166.5 213.0L164.5 213.3L160.5 217.7L153.5 229.5L147.5 242.5L146.9 245.5L147.5 247.1L149.5 247.0L152.5 245.0L156.5 240.6L159.8 235.5L166.2 220.5L167.4 215.5ZM169.5 259.6L168.5 259.4L162.5 264.8L158.9 273.5L158.7 275.5L159.4 278.5L161.5 280.7L163.9 279.5L168.2 273.5L170.1 264.5ZM218.2 203.5L217.4 205.5L217.9 208.5L220.8 212.5L223.5 215.1L226.5 216.0L230.5 216.0L232.5 215.3L234.7 213.5L235.6 210.5L235.2 207.5L233.9 205.5L230.5 203.2L227.5 201.8L223.5 201.1L220.5 201.7ZM304.2 168.5L304.8 171.5L307.5 173.4L311.8 172.5L313.4 171.5L313.8 170.5L312.5 168.1L309.5 166.5L306.2 166.5Z"/><path fill="#9bc9e0" fill-rule="evenodd" d="M-8.5 -5.5L514.5 -5.5L514.5 409.5L-8.5 409.5ZM117.5 181.7L115.5 182.0L112.5 183.6L104.5 191.5L95.5 203.4L88.3 211.5L87.5 213.5L88.5 215.4L91.5 215.0L95.5 212.4L105.5 204.3L110.1 199.5L117.8 186.5L118.5 183.5ZM129.5 217.6L127.5 217.7L125.5 219.0L117.4 227.5L104.2 239.5L99.1 246.5L98.2 248.5L98.5 249.9L101.5 249.8L107.5 245.8L122.9 230.5L129.5 220.5L129.9 218.5ZM140.5 32.8L138.5 33.7L135.0 38.5L134.5 41.5L136.5 47.6L138.5 49.0L142.5 49.8L144.5 49.0L149.4 44.5L150.0 41.5L149.1 37.5L147.5 35.4L142.5 33.0ZM169.5 208.2L167.5 208.2L164.5 210.1L158.4 218.5L146.1 242.5L144.2 249.5L144.5 252.2L146.5 251.5L153.6 246.5L160.0 238.5L170.9 214.5L171.1 211.5ZM200.5 224.9L199.5 225.2L197.5 227.1L194.2 232.5L193.9 236.5L194.5 238.3L195.5 239.1L197.5 238.4L200.5 233.5L201.5 227.5ZM216.5 200.9L214.5 204.5L214.8 208.5L221.5 216.7L223.5 218.1L231.5 220.9L235.6 219.5L239.0 214.5L239.7 211.5L239.1 207.5L237.4 204.5L231.5 200.5L223.5 197.7L220.5 198.3ZM298.7 167.5L298.4 169.5L299.4 172.5L300.9 174.5L302.5 175.3L307.5 176.2L311.5 176.0L316.5 174.7L318.1 172.5L318.2 169.5L317.5 167.5L314.9 164.5L312.8 163.5L302.5 163.8L300.5 164.8ZM375.1 50.5L376.5 50.6L377.5 49.3L376.5 48.7L375.5 49.0ZM385.5 48.2L384.5 48.8L382.9 53.5L381.5 55.3L376.5 53.7L374.5 54.2L373.2 55.5L373.1 56.5L375.6 59.5L375.8 61.5L374.6 64.5L372.5 66.9L372.1 69.5L373.5 71.9L378.5 75.9L380.5 76.2L384.5 74.3L387.5 76.5L389.5 77.1L391.5 76.1L395.8 71.5L397.2 66.5L396.5 65.1L391.1 61.5L389.3 54.5L388.8 49.5L387.5 48.5ZM145.5 210.2L143.5 210.5L141.5 212.0L133.8 220.5L129.2 229.5L123.2 243.5L122.6 247.5L124.5 247.5L130.5 242.2L139.5 229.5L146.3 216.5L146.9 212.5L146.5 211.0ZM171.5 247.8L170.5 248.0L164.1 253.5L161.5 258.5L158.6 261.5L157.1 264.5L155.0 272.5L155.1 283.5L156.2 286.5L158.5 288.2L161.5 287.5L167.5 282.9L169.5 280.3L171.5 275.5L173.8 262.5L175.9 256.5L174.6 250.5L173.5 249.0Z"/><path fill="#e0ecf3" fill-rule="evenodd" d="M-8.5 -5.5L514.5 -5.5L514.5 409.5L-8.5 409.5ZM22.5 241.1L22.5 242.5L23.5 244.0L25.5 244.3L26.4 242.5L26.1 241.5L24.5 240.5ZM36.5 193.6L35.4 194.5L35.5 196.5L36.5 198.3L37.5 198.3L38.7 197.5L38.8 195.5L37.5 193.8ZM63.5 186.9L61.5 187.9L60.9 189.5L61.0 200.5L62.4 202.5L63.5 202.8L65.8 201.5L68.4 197.5L68.7 195.5L68.1 192.5L65.5 187.5ZM121.6 177.5L120.5 177.0L118.5 177.3L112.5 181.4L94.5 202.1L83.0 210.5L77.3 218.5L76.8 221.5L77.4 223.5L83.5 223.4L86.5 222.2L96.5 215.4L101.5 210.2L107.5 205.4L112.8 199.5L115.5 194.0L120.4 186.5L122.6 180.5L122.5 178.7ZM142.5 26.6L137.5 28.6L132.5 32.6L129.2 38.5L128.6 42.5L129.9 47.5L133.5 51.5L135.5 52.9L144.5 55.9L147.5 54.0L153.3 45.5L153.7 43.5L153.3 36.5L152.2 32.5L150.5 30.1ZM171.5 200.5L168.5 201.5L162.5 208.1L145.2 241.5L139.8 254.5L140.5 257.0L142.5 257.5L145.5 256.4L149.5 252.6L151.5 251.5L154.7 251.5L155.6 252.5L151.1 264.5L151.6 269.5L150.9 276.5L148.1 284.5L151.5 294.5L155.1 297.5L157.5 298.4L160.5 297.1L162.7 293.5L173.5 282.5L174.5 280.5L178.0 266.5L182.9 255.5L184.5 254.0L187.5 254.5L188.4 253.5L187.5 250.9L183.5 247.5L181.4 243.5L179.2 241.5L177.5 236.0L175.5 235.1L165.5 234.8L165.4 232.5L167.5 227.2L170.5 222.2L173.5 220.6L185.5 224.6L187.5 224.3L192.5 221.2L196.1 214.5L195.2 212.5L188.5 209.2L178.5 209.8L176.5 209.3L175.2 207.5L173.9 202.5ZM191.5 138.4L189.5 139.3L189.5 140.9L190.5 141.1L191.6 140.5L192.0 139.5ZM203.5 215.8L200.5 216.7L198.5 218.5L193.8 225.5L191.0 232.5L189.7 237.5L189.5 244.5L189.8 245.5L191.5 246.7L193.5 246.0L198.5 241.2L203.3 232.5L205.6 222.5L204.5 216.5ZM219.5 195.0L214.5 198.2L210.9 202.5L210.4 204.5L211.0 209.5L212.5 212.5L217.7 215.5L225.1 225.5L229.7 228.5L231.5 231.9L236.5 231.9L238.5 229.3L242.3 230.5L243.5 230.3L244.7 228.5L244.5 222.9L250.5 222.4L254.5 218.4L258.9 215.5L258.8 213.5L257.2 209.5L254.5 208.2L250.5 209.3L248.5 209.1L243.9 200.5L236.3 198.5L234.7 196.5L234.5 193.9L233.5 192.7L232.5 192.8L230.5 195.6L222.5 194.6ZM284.9 35.5L283.5 34.9L281.5 35.4L278.5 38.5L272.5 37.9L267.5 39.0L263.5 39.1L261.0 40.5L259.1 43.5L256.5 45.6L256.4 50.5L254.8 53.5L255.4 61.5L257.5 64.5L259.3 62.5L258.4 58.5L258.7 57.5L263.5 54.1L267.5 54.7L272.5 54.1L274.5 55.8L276.7 59.5L282.5 63.7L284.2 63.5L286.5 61.2L287.7 58.5L285.1 52.5L289.5 45.3L290.0 43.5L289.6 42.5L285.8 39.5L285.5 36.5ZM325.3 116.5L323.5 116.1L319.5 119.0L318.4 121.5L319.4 123.5L320.5 123.0L323.5 118.8L325.3 117.5ZM334.7 125.5L333.0 125.5L330.3 127.5L328.5 129.6L326.6 133.5L327.5 134.1L333.5 135.0L335.2 127.5ZM336.5 69.0L334.6 70.5L334.6 71.5L335.5 72.6L337.5 73.2L338.5 72.4L339.1 70.5L338.4 69.5ZM345.5 61.5L344.1 62.5L344.5 63.7L345.9 63.5L346.4 62.5ZM376.4 4.5L375.6 5.5L375.7 6.5L378.2 9.5L378.5 13.5L382.5 20.5L383.5 20.8L386.5 19.5L393.1 20.5L391.5 14.7L390.5 13.5L386.5 14.4L384.5 13.5L384.1 6.5L382.9 4.5L380.5 2.8L379.5 2.8ZM463.5 370.4L462.9 373.5L463.5 374.3L466.9 374.5L467.6 373.5L466.5 371.1L464.5 369.8ZM474.9 383.5L475.5 385.5L477.5 387.2L479.5 386.7L480.8 385.5L480.5 383.5L478.5 382.2L476.5 382.1ZM17.5 391.5L17.6 392.5L22.5 394.8L26.5 398.8L28.5 399.6L30.5 399.1L35.5 395.1L36.9 392.5L36.8 391.5L35.5 390.4L31.5 389.4L29.5 388.2L26.5 387.8L23.5 388.1ZM157.2 200.5L154.5 198.5L149.5 199.0L147.9 200.5L146.0 204.5L142.5 207.3L137.5 212.6L136.5 213.1L132.5 211.8L125.5 216.6L116.8 226.5L102.0 240.5L95.2 249.5L94.2 251.5L94.5 253.2L95.5 253.7L98.5 253.1L104.5 249.8L120.5 234.5L125.5 230.5L126.5 231.5L125.5 235.5L118.8 249.5L119.3 251.5L120.5 252.7L122.5 252.9L124.5 251.8L133.5 241.2L148.4 217.5L152.0 208.5L157.2 201.5ZM257.5 65.6L256.5 66.1L256.5 67.6L257.5 67.5ZM339.3 144.5L337.5 143.4L333.5 143.2L330.5 142.0L327.5 142.8L325.5 142.1L323.7 139.5L324.5 135.1L322.5 133.7L319.5 130.1L317.5 129.3L313.5 128.9L310.5 125.1L304.5 121.9L302.3 121.5L302.5 120.5L306.2 119.5L306.4 118.5L305.5 117.4L298.5 116.0L294.5 116.7L289.5 116.4L287.4 118.5L287.6 124.5L286.5 126.0L284.5 126.4L281.5 125.4L276.5 122.7L272.2 124.5L271.5 125.5L273.2 129.5L272.5 131.4L267.7 132.5L266.5 135.6L265.5 136.4L262.5 136.9L260.9 138.5L259.7 142.5L260.4 147.5L259.9 148.5L251.5 149.1L249.0 150.5L248.4 151.5L248.7 152.5L251.5 154.0L252.0 156.5L245.6 165.5L244.7 167.5L247.6 171.5L248.5 174.5L249.5 175.4L253.6 175.5L257.5 178.7L262.0 178.5L265.9 181.5L267.5 181.3L273.5 177.9L276.5 177.1L281.5 177.6L285.5 179.3L286.5 179.1L288.5 176.3L290.5 175.2L297.5 178.8L317.5 178.4L320.7 176.5L323.4 171.5L323.6 169.5L322.5 166.1L318.4 162.5L315.6 158.5L315.0 155.5L315.5 152.5L317.5 151.2L321.5 150.7L325.5 152.4L326.5 152.3L327.5 151.3L328.5 148.0L329.5 147.5L333.5 148.5L337.5 148.1L339.2 146.5ZM440.5 64.6L433.3 60.5L433.3 58.5L436.5 54.9L437.5 52.5L436.5 51.2L433.5 50.9L432.5 50.1L430.5 44.7L429.5 44.3L427.5 45.0L425.9 46.5L424.3 49.5L422.5 50.7L415.5 50.1L410.5 52.2L404.5 52.7L401.5 53.9L399.5 52.6L398.5 50.8L397.8 46.5L395.2 41.5L394.5 37.9L393.5 37.2L388.5 37.7L384.5 33.6L382.5 38.0L376.5 41.7L370.6 40.5L367.5 38.7L364.5 38.0L363.3 38.5L360.5 41.6L355.5 41.1L351.5 43.9L346.5 45.6L345.5 46.5L345.1 48.5L346.5 51.2L349.0 53.5L346.4 56.5L346.7 57.5L350.5 60.5L354.5 61.6L355.5 63.5L355.3 64.5L351.5 65.6L348.5 67.8L346.5 68.4L343.9 66.5L342.6 63.5L340.5 62.6L339.5 62.8L338.9 64.5L344.5 71.4L344.3 74.5L342.5 76.1L338.5 75.5L335.5 76.2L334.5 76.9L334.0 78.5L335.5 80.2L340.5 82.8L342.5 82.2L346.3 78.5L349.5 78.1L349.9 81.5L352.5 84.4L354.5 84.7L357.5 83.1L359.5 82.9L363.5 86.1L368.5 88.5L371.5 91.5L373.5 91.6L377.5 88.3L390.5 83.7L398.5 78.3L404.5 75.4L408.5 74.4L412.6 70.5L419.5 69.0L423.5 64.4L429.5 64.0L433.5 66.3L438.5 66.6L440.5 65.6ZM268.1 381.5L266.5 381.0L262.7 382.5L259.5 387.7L256.2 389.5L255.5 391.8L257.5 392.7L260.5 391.9L260.6 389.5L262.5 387.9L264.5 384.5L268.2 382.5ZM360.3 133.5L357.5 133.0L351.5 134.0L342.5 133.7L341.3 134.5L341.0 135.5L343.8 144.5L348.4 152.5L350.5 152.2L355.5 149.4L359.5 148.7L362.0 145.5L364.3 138.5Z"/><path fill="#fbe5d8" fill-rule="evenodd" d="M-8.5 -5.5L6.5 -5.5L6.5 0.5L7.9 2.5L10.5 3.3L14.5 3.1L19.5 1.5L23.5 3.0L28.5 2.0L32.5 2.8L33.5 1.5L33.6 -5.5L75.5 -5.5L75.5 0.5L78.5 0.9L82.5 2.7L85.0 0.5L85.0 -5.5L89.9 -5.5L89.9 0.5L91.2 3.5L88.4 6.5L87.5 11.5L88.3 12.5L92.5 14.0L94.5 15.4L95.6 10.5L98.3 5.5L97.5 1.5L97.6 -5.5L179.6 -5.5L179.4 2.5L180.5 5.0L182.5 5.5L187.5 3.2L191.5 3.1L192.6 4.5L191.6 8.5L192.8 10.5L196.5 10.7L200.5 12.6L204.5 12.8L211.5 15.3L213.5 14.9L215.9 11.5L217.5 11.2L219.9 15.5L219.5 17.0L216.4 20.5L209.5 22.5L207.5 19.2L205.5 18.8L200.5 19.2L197.5 20.5L194.5 19.8L188.5 23.3L185.6 20.5L183.5 20.0L182.2 20.5L179.5 23.7L178.5 23.8L174.5 21.1L172.5 20.5L169.5 21.6L167.8 23.5L169.0 27.5L168.0 35.5L169.5 38.4L179.5 47.2L191.5 48.5L193.1 52.5L196.5 55.9L197.9 60.5L197.0 62.5L194.9 64.5L194.5 66.5L195.4 68.5L199.4 71.5L201.5 75.5L201.7 77.5L199.8 79.5L199.8 81.5L201.5 82.5L204.5 81.9L208.5 83.1L211.5 81.3L213.5 80.9L215.1 81.5L215.4 83.5L213.5 85.3L209.5 86.1L206.5 89.1L202.5 89.5L199.5 87.1L195.5 86.6L191.4 84.5L191.0 82.5L192.0 78.5L191.0 77.5L189.5 77.1L180.5 83.9L175.5 83.8L174.7 84.5L174.2 86.5L174.9 92.5L176.2 96.5L177.5 98.5L178.5 98.9L179.5 98.5L180.9 96.5L182.7 95.5L191.6 95.5L191.7 99.5L189.9 103.5L190.7 105.5L194.8 107.5L195.6 108.5L194.2 111.5L195.6 114.5L195.5 115.5L191.5 117.0L187.0 121.5L188.0 124.5L187.3 125.5L185.5 125.7L184.5 124.5L184.7 121.5L183.5 118.0L182.5 117.2L174.5 118.8L173.3 120.5L175.2 124.5L167.5 126.5L161.5 122.6L159.5 122.1L155.5 122.4L152.5 119.5L149.4 123.5L143.5 129.1L136.5 129.9L132.5 127.9L130.8 128.5L127.9 131.5L127.1 133.5L123.5 134.3L121.1 138.5L119.5 139.6L117.5 140.0L112.5 135.1L110.5 134.8L107.6 142.5L108.3 147.5L107.5 149.2L105.2 151.5L106.2 156.5L105.9 158.5L104.0 161.5L99.5 162.9L97.7 164.5L97.3 166.5L99.4 170.5L94.0 181.5L92.5 182.9L88.5 183.2L85.3 186.5L83.5 187.4L79.5 187.5L76.5 183.5L75.5 179.3L74.5 177.9L69.2 177.5L68.9 176.5L69.5 175.6L72.5 174.8L72.6 173.5L71.0 172.5L66.5 171.7L62.5 169.6L60.4 170.5L59.7 173.5L58.5 174.5L56.5 174.1L51.5 170.9L48.5 170.5L44.5 171.7L40.5 176.2L38.5 175.2L38.6 173.5L42.4 169.5L40.4 162.5L43.5 159.1L45.8 154.5L43.2 150.5L42.8 145.5L41.8 142.5L43.8 134.5L45.5 133.2L50.5 134.3L53.5 133.9L56.1 134.5L56.7 140.5L57.5 141.9L61.9 138.5L61.0 136.5L58.2 133.5L59.5 130.6L60.6 130.5L61.6 133.5L63.5 134.9L65.5 133.8L67.5 131.0L70.6 130.5L70.5 129.2L67.5 127.5L66.2 125.5L66.6 123.5L68.9 121.5L68.7 120.5L62.5 121.9L57.5 120.3L53.5 122.7L49.5 122.9L44.5 126.8L38.5 125.6L31.7 127.5L29.5 130.1L28.9 129.5L29.4 127.5L29.1 126.5L27.5 125.1L26.5 125.3L24.1 130.5L20.5 133.1L19.5 132.6L18.7 130.5L19.0 126.5L18.3 120.5L16.8 117.5L13.9 114.5L13.4 112.5L14.1 109.5L19.5 102.9L22.2 98.5L19.5 97.6L13.7 100.5L13.2 101.5L10.5 103.2L9.5 104.7L8.7 108.5L4.4 110.5L1.2 115.5L-2.0 118.5L-2.5 122.0L-8.5 122.0L-8.5 91.4L-2.5 91.4L0.6 92.5L4.5 92.8L6.5 92.2L10.5 89.4L12.5 89.6L15.5 91.5L16.3 90.5L14.5 84.5L11.5 85.5L7.5 84.9L3.5 86.2L1.5 86.1L-2.5 88.6L-8.5 88.6ZM7.5 10.5L5.5 11.4L5.2 12.5L6.5 16.4L7.5 16.5L8.8 15.5L9.6 13.5L9.0 11.5ZM78.5 101.7L68.5 106.7L66.5 110.5L66.8 112.5L72.5 115.1L76.5 113.6L79.5 111.6L80.7 109.5L81.1 106.5ZM87.9 26.5L88.5 27.9L89.8 27.5L89.5 26.2L88.5 26.0ZM94.5 17.6L94.5 19.5L95.5 21.0L96.5 21.2L97.4 20.5L97.3 19.5ZM93.2 89.5L92.3 92.5L95.5 96.4L99.5 97.4L101.5 98.5L103.5 98.0L104.9 96.5L104.7 89.5L103.5 86.9L96.5 87.8ZM155.5 9.5L153.5 9.4L150.5 12.1L148.5 13.0L143.5 13.1L142.2 14.5L141.5 17.5L137.5 20.1L129.5 20.7L127.5 20.1L124.5 18.0L121.5 17.6L114.5 20.8L112.7 22.5L111.8 25.5L112.5 28.5L115.5 30.2L119.5 29.2L121.1 29.5L122.6 37.5L121.7 42.5L123.9 51.5L123.5 52.2L120.5 52.8L119.9 54.5L122.5 60.5L122.9 66.5L121.5 67.3L116.5 65.5L114.6 66.5L114.0 67.5L114.4 68.5L118.5 70.3L120.5 72.6L122.5 71.9L124.5 70.0L128.5 70.3L130.9 72.5L131.8 76.5L134.5 78.2L136.5 76.5L139.5 75.5L136.5 73.6L134.8 71.5L134.6 68.5L135.3 66.5L137.5 65.3L140.5 67.0L142.5 67.2L145.5 66.2L146.5 65.0L148.9 58.5L157.4 44.5L157.7 39.5L159.8 35.5L158.5 29.6L153.9 23.5L153.9 21.5L155.3 19.5L155.0 16.5L156.9 12.5L156.5 10.5ZM179.5 69.4L178.5 69.5L177.9 71.5L178.3 73.5L179.5 74.0L180.9 73.5L181.1 72.5ZM65.5 140.8L65.7 145.5L66.5 146.4L66.9 142.5L66.5 141.1ZM5.7 67.5L4.5 67.6L3.3 68.5L3.5 70.5L4.5 71.4L5.5 71.2L6.5 68.5ZM94.5 42.9L93.1 45.5L88.5 49.9L87.5 50.2L85.5 49.3L84.3 49.5L84.2 52.5L82.6 55.5L82.3 57.5L86.5 61.5L91.5 61.8L93.5 63.6L95.5 63.9L97.4 62.5L97.6 58.5L99.1 55.5L94.9 46.5L95.6 43.5ZM96.7 103.5L98.5 103.8L99.1 102.5L97.5 102.4ZM121.5 122.9L119.0 124.5L117.8 126.5L119.6 129.5L122.5 131.0L125.2 129.5L126.0 127.5L124.4 123.5ZM134.5 78.6L131.5 82.8L127.1 85.5L127.2 86.5L128.7 88.5L128.0 90.5L126.5 91.4L123.5 91.5L123.1 92.5L124.5 93.9L128.5 94.8L134.5 94.0L138.4 97.5L138.4 100.5L140.2 103.5L140.3 105.5L138.5 107.3L135.5 108.1L133.6 109.5L132.1 111.5L131.8 113.5L132.4 114.5L137.6 115.5L141.2 117.5L141.4 118.5L139.2 122.5L140.0 124.5L141.5 125.1L142.8 124.5L143.6 122.5L141.6 118.5L141.7 117.5L142.6 116.5L148.5 114.8L149.8 115.5L152.5 119.5L158.6 114.5L159.5 112.5L155.5 104.0L150.7 100.5L149.6 96.5L148.1 94.5L147.6 90.5L142.4 85.5L142.4 80.5L141.5 78.6L140.5 78.6L138.5 80.0ZM81.2 138.5L81.7 140.5L85.5 143.8L90.5 145.1L92.5 144.2L93.6 142.5L92.5 140.5L88.5 139.3L85.5 136.6L82.5 137.1ZM88.8 151.5L85.0 153.5L86.5 153.9L87.9 153.5L89.0 152.5ZM228.1 -5.5L233.2 -5.5L232.7 10.5L234.5 16.0L236.5 18.9L237.2 21.5L236.2 24.5L231.5 27.9L230.5 28.0L224.9 23.5L222.8 16.5L224.8 11.5L229.5 6.5L228.2 1.5ZM247.6 -5.5L247.6 0.5L253.5 3.1L253.8 4.5L250.5 5.3L246.5 5.1L245.2 9.5L242.5 10.0L237.2 5.5L238.5 4.4L241.5 5.4L245.0 4.5L245.6 1.5L247.4 0.5ZM336.0 -5.5L354.1 -5.5L354.1 0.5L357.1 3.5L357.8 5.5L357.1 8.5L357.7 11.5L355.5 13.2L353.7 17.5L355.5 24.5L354.5 26.8L350.2 26.5L348.5 29.3L343.5 27.8L342.3 26.5L342.5 21.5L341.5 19.4L336.5 14.5L335.5 14.0L332.5 15.0L330.2 13.5L329.6 11.5L332.0 4.5L336.0 0.5ZM470.1 -5.5L477.8 -5.5L477.7 1.5L478.5 2.4L484.5 2.1L487.5 0.9L492.4 0.5L492.4 -5.5L501.2 -5.5L500.9 3.5L501.5 4.7L503.5 4.8L507.5 3.8L514.5 4.3L514.5 27.7L508.5 27.7L505.5 26.4L503.5 27.2L499.5 27.2L499.0 28.5L499.3 32.5L496.5 35.9L494.5 36.2L490.5 33.7L486.9 29.5L486.5 26.5L489.5 22.0L492.5 21.0L493.2 19.5L487.5 14.2L485.5 13.8L482.5 15.0L480.7 11.5L478.5 9.7L476.5 9.2L470.5 9.6L468.4 8.5L468.0 2.5L470.1 0.5ZM497.5 15.6L496.8 18.5L497.1 19.5L499.5 20.0L502.5 21.8L505.0 21.5L505.1 20.5L504.3 19.5L500.5 18.8ZM419.0 24.5L424.5 16.2L428.5 16.3L433.5 15.1L436.5 15.9L440.5 19.2L445.5 20.6L446.4 22.5L445.8 25.5L444.5 26.6L442.5 26.6L439.5 24.2L438.6 25.5L439.1 28.5L437.5 29.4L431.5 29.0L425.5 27.2L421.5 27.5L419.8 26.5ZM365.5 20.6L366.5 20.9L366.9 22.5L365.5 23.6L364.2 22.5L364.5 21.3ZM230.5 30.1L233.5 32.4L237.3 33.5L237.0 35.5L234.5 37.7L232.5 38.3L231.4 37.5L231.0 34.5L229.4 32.5ZM305.5 43.5L306.5 42.8L309.5 44.3L312.5 43.9L314.5 45.5L315.7 48.5L311.5 48.1L306.5 45.7L305.5 44.7ZM506.5 44.1L508.5 44.8L514.5 44.8L514.5 51.5L508.5 51.5L505.5 48.5L505.3 46.5ZM452.4 50.5L454.5 48.8L458.1 47.5L461.5 44.9L463.5 44.9L469.1 46.5L471.3 49.5L471.9 53.5L474.7 57.5L473.2 60.5L473.8 64.5L470.5 65.1L467.5 64.2L462.5 63.9L454.9 60.5L451.9 58.5L451.4 57.5ZM316.5 48.9L318.5 49.1L320.5 51.0L321.3 52.5L320.5 54.9L319.5 55.3L317.7 53.5L316.0 49.5ZM307.7 53.5L308.5 52.1L309.5 52.2L310.2 53.5L309.5 54.3ZM514.5 53.7L514.5 62.2L508.5 62.2L507.0 65.5L505.5 66.4L497.7 64.5L499.5 62.0L504.5 60.4L505.4 56.5L508.5 53.7ZM226.5 59.1L227.8 59.5L228.1 60.5L227.5 61.6L226.5 60.5ZM478.7 63.5L479.3 64.5L478.4 66.5L476.5 66.8L474.9 65.5L475.1 64.5ZM224.6 79.5L228.5 74.3L233.5 74.8L236.2 77.5L236.5 80.6L241.5 84.4L243.5 84.5L247.5 83.3L251.5 84.3L252.8 85.5L254.2 89.5L255.5 91.0L259.5 91.6L263.5 94.2L264.5 94.1L265.5 93.1L266.7 89.5L268.5 87.6L270.5 87.0L273.5 87.5L276.5 87.1L282.5 83.4L283.5 83.5L284.5 84.9L285.2 89.5L281.1 101.5L279.0 103.5L277.5 103.5L273.5 102.0L267.5 104.0L259.5 104.0L257.5 102.9L255.5 100.2L254.5 99.8L250.5 102.2L245.5 103.3L241.5 102.3L234.5 101.8L233.6 100.5L234.6 94.5L232.9 91.5L233.1 88.5L232.6 86.5L230.5 84.0L224.5 80.7ZM493.8 77.5L495.5 77.1L497.5 80.5L501.4 80.5L502.4 81.5L502.1 82.5L499.5 83.9L497.5 80.5L494.2 79.5ZM488.0 78.5L489.5 78.2L489.9 79.5L488.5 80.1ZM514.5 178.1L514.5 196.1L503.5 196.0L503.3 192.5L502.5 191.7L499.5 190.9L498.0 189.5L497.4 186.5L495.3 181.5L495.0 176.5L493.3 173.5L490.5 172.5L482.5 174.3L480.5 174.0L477.3 171.5L473.5 164.7L472.5 163.8L471.5 163.8L469.2 165.5L469.6 167.5L471.5 169.6L472.3 171.5L472.0 174.5L470.7 176.5L469.5 176.9L466.5 175.6L464.5 175.8L463.4 176.5L461.3 180.5L457.5 184.4L452.5 187.8L449.5 186.6L447.5 186.8L443.4 191.5L440.5 192.0L436.6 189.5L435.7 187.5L440.5 184.2L442.5 184.9L443.7 184.5L443.6 180.5L444.6 177.5L444.3 175.5L443.5 174.3L440.2 172.5L437.9 169.5L435.5 169.0L431.0 169.5L427.0 171.5L426.9 172.5L428.5 175.5L428.7 177.5L423.5 180.2L422.5 183.5L418.8 180.5L416.5 179.7L415.4 180.5L412.1 186.5L407.6 189.5L405.5 191.9L399.5 192.7L395.5 192.1L393.5 195.8L385.5 199.5L381.5 204.7L375.6 205.5L374.9 207.5L375.3 211.5L374.5 212.7L371.8 212.5L370.5 208.6L369.5 208.2L367.5 209.8L365.1 214.5L358.5 215.6L355.5 216.8L354.5 216.4L354.5 211.5L354.0 209.5L350.5 206.5L348.5 205.6L347.5 205.9L346.5 207.5L346.7 211.5L343.7 213.5L343.6 216.5L342.6 220.5L340.5 222.2L336.5 223.5L334.5 227.9L331.5 228.3L328.5 229.9L323.5 229.8L321.5 230.8L320.5 230.7L318.9 228.5L319.5 226.9L321.4 225.5L321.3 224.5L318.5 223.0L316.7 223.5L313.5 226.8L308.5 227.7L307.6 228.5L307.2 231.5L306.5 232.4L301.5 234.8L300.0 236.5L300.5 238.7L303.5 240.0L305.1 241.5L305.7 243.5L305.5 247.7L306.5 247.9L310.5 245.6L315.5 246.6L321.8 246.5L323.0 245.5L325.0 241.5L323.4 238.5L323.5 237.0L324.5 236.6L327.5 236.5L325.6 241.5L329.5 243.0L330.4 242.5L330.4 238.5L329.5 236.8L328.6 236.5L328.6 235.5L331.5 234.3L335.5 234.3L340.5 232.8L342.5 233.4L343.7 235.5L341.6 241.5L340.5 242.7L337.5 243.8L330.5 243.0L329.6 245.5L326.5 247.5L325.5 252.3L322.5 253.5L321.8 254.5L321.6 257.5L320.8 258.5L311.5 256.9L307.5 254.8L303.5 256.7L296.5 256.8L294.3 259.5L289.3 270.5L288.4 273.5L288.2 278.5L285.5 281.6L284.4 281.5L282.5 278.0L278.5 278.2L273.5 275.7L271.5 276.0L270.5 277.5L271.1 281.5L274.5 286.1L278.5 287.3L283.5 286.8L289.5 288.3L290.8 289.5L291.5 293.5L291.0 295.5L286.5 299.0L283.8 295.5L277.5 293.4L272.5 298.2L271.8 300.5L274.5 305.5L279.5 309.0L281.5 307.8L282.5 304.2L285.5 300.9L287.3 303.5L291.5 304.6L295.5 307.3L298.4 312.5L303.5 314.5L306.5 319.6L307.5 320.3L310.6 319.5L311.7 321.5L313.1 330.5L316.2 332.5L317.0 336.5L318.9 340.5L318.6 342.5L316.6 346.5L318.6 348.5L319.5 350.5L317.5 356.5L314.5 358.9L310.5 358.0L307.5 359.2L302.5 357.8L299.5 359.3L297.8 358.5L295.5 355.9L288.5 356.9L287.9 356.5L288.5 353.5L288.0 352.5L286.5 351.7L283.5 351.5L280.5 353.0L277.7 352.5L276.7 350.5L279.4 348.5L280.5 346.5L283.5 346.6L284.5 346.1L287.5 341.5L282.6 337.5L282.3 335.5L282.8 334.5L284.5 333.4L286.5 334.0L288.6 337.5L288.5 341.0L289.5 340.7L292.2 335.5L296.1 330.5L296.3 328.5L293.5 325.6L285.5 327.3L283.5 326.8L281.6 325.5L281.2 322.5L283.9 317.5L283.5 315.7L282.5 315.0L279.5 315.1L277.3 317.5L274.5 317.9L273.8 318.5L272.8 322.5L271.5 323.3L269.5 322.9L267.5 319.3L265.5 319.7L263.2 324.5L263.2 327.5L264.7 330.5L267.5 333.3L269.5 333.9L272.5 333.7L274.5 335.1L276.6 341.5L274.8 346.5L275.9 349.5L274.5 350.8L266.5 352.4L263.5 354.8L259.5 355.6L255.5 360.3L253.5 360.5L251.5 359.6L249.6 362.5L244.3 367.5L243.9 368.5L244.5 371.5L243.5 372.0L240.9 371.5L240.0 370.5L241.1 368.5L240.8 367.5L238.7 367.5L238.9 370.5L237.7 376.5L240.2 381.5L243.5 394.5L243.0 396.5L239.5 401.7L236.1 403.5L236.1 409.5L95.1 409.5L95.1 403.5L94.6 402.5L91.5 402.9L90.5 402.4L87.5 397.6L84.5 396.9L81.7 398.5L80.5 398.5L73.8 396.5L73.7 395.5L75.0 393.5L74.9 392.5L73.5 392.1L71.9 392.5L71.4 395.5L69.5 395.8L68.5 395.2L66.3 390.5L63.1 386.5L60.9 378.5L61.5 373.5L59.9 364.5L56.5 360.6L53.5 360.5L52.5 359.7L52.5 358.2L54.5 357.7L54.9 356.5L50.5 352.9L47.5 354.2L44.5 353.0L42.7 353.5L42.8 359.5L40.3 366.5L40.9 370.5L39.5 372.5L36.5 373.9L34.5 373.6L33.5 368.5L30.5 366.7L30.0 367.5L30.4 369.5L29.7 370.5L28.0 370.5L24.3 363.5L24.2 360.5L25.8 357.5L26.0 354.5L24.5 349.5L22.6 346.5L21.8 342.5L18.5 340.1L17.1 337.5L12.5 336.6L11.5 335.8L11.3 332.5L10.6 331.5L8.3 330.5L5.5 326.7L2.8 324.5L2.4 320.5L1.5 318.5L-2.5 315.8L-8.5 315.8L-8.5 308.3L-1.5 308.5L0.5 306.5L4.5 304.5L7.5 300.4L11.2 298.5L10.8 297.5L9.5 297.1L5.5 298.5L-0.5 298.1L-1.3 296.5L-1.0 292.5L-2.3 289.5L-2.1 288.5L2.5 285.5L4.5 281.1L8.5 277.7L10.1 277.5L12.5 279.5L14.5 279.8L19.5 275.1L21.5 275.8L23.9 278.5L25.0 280.5L25.6 283.5L26.6 284.5L34.5 287.8L36.2 289.5L37.5 293.0L40.5 294.5L44.3 305.5L48.5 307.1L50.0 308.5L50.2 310.5L49.2 313.5L50.0 314.5L54.5 316.2L56.5 315.5L58.5 313.5L62.5 312.8L65.5 310.0L68.5 311.5L70.7 311.5L71.7 309.5L70.5 307.3L68.5 306.8L65.5 308.3L63.5 306.5L61.9 300.5L62.4 298.5L64.5 295.5L64.3 294.5L60.3 291.5L59.0 289.5L61.5 280.0L62.5 279.2L66.5 280.9L67.6 280.5L69.1 278.5L68.9 276.5L67.5 275.6L63.5 276.1L62.8 275.5L61.5 272.6L59.5 270.5L60.0 268.5L63.5 262.5L65.5 260.9L69.5 259.8L71.1 258.5L72.3 256.5L73.4 252.5L75.2 249.5L74.5 247.5L72.6 245.5L72.7 242.5L70.7 238.5L70.5 236.5L71.7 235.5L74.5 234.8L84.5 235.4L84.8 236.5L81.5 237.8L80.9 238.5L80.6 240.5L81.5 242.5L82.5 242.7L84.5 241.8L87.5 237.2L93.5 231.5L94.4 229.5L93.5 228.7L92.5 229.1L90.5 231.2L88.5 231.9L88.1 230.5L88.9 228.5L95.9 222.5L98.8 218.5L105.2 213.5L109.5 213.6L110.5 212.7L112.2 208.5L116.5 203.1L118.7 195.5L121.5 192.3L125.0 185.5L126.5 184.6L128.3 188.5L133.7 191.5L135.3 193.5L136.4 198.5L134.5 204.0L132.1 206.5L129.6 210.5L123.5 216.1L115.2 226.5L89.9 251.5L87.2 259.5L85.1 262.5L85.1 269.5L90.5 270.0L92.5 270.8L94.5 269.8L94.9 267.5L92.5 265.7L92.0 264.5L93.1 261.5L97.5 258.5L99.8 255.5L105.5 250.9L116.5 239.9L122.5 235.2L123.5 235.5L122.5 239.0L114.8 250.5L112.2 256.5L113.5 257.8L120.5 257.5L127.5 254.0L130.0 251.5L131.6 247.5L138.5 235.5L146.5 222.9L155.5 212.8L156.5 213.5L154.5 221.5L148.5 233.6L140.5 247.1L134.5 254.5L133.8 256.5L137.5 262.9L139.5 263.8L144.5 264.1L145.2 265.5L146.7 272.5L143.3 284.5L144.4 287.5L144.1 292.5L145.5 296.5L146.2 302.5L143.8 309.5L136.1 312.5L135.0 314.5L135.0 317.5L130.0 320.5L129.4 321.5L129.5 322.5L130.8 323.5L136.5 324.0L140.5 326.2L145.5 326.1L148.5 323.0L150.5 321.9L159.5 323.8L160.5 322.9L160.8 321.5L159.2 318.5L160.8 314.5L159.7 311.5L160.2 309.5L163.5 307.2L167.5 307.6L169.5 306.5L173.9 290.5L177.5 286.6L178.5 284.1L183.5 277.0L187.7 275.5L190.2 273.5L190.8 268.5L194.6 263.5L196.5 262.4L197.6 262.5L198.3 263.5L196.7 267.5L196.7 268.5L197.5 268.9L199.0 268.5L201.5 265.9L203.5 265.0L210.4 265.5L211.5 263.0L212.5 262.2L214.5 262.5L216.5 265.3L218.5 265.7L220.6 262.5L224.5 260.0L224.5 257.6L220.5 255.0L216.5 254.6L215.6 253.5L215.0 251.5L215.2 247.5L214.5 247.1L212.5 247.5L209.5 249.7L206.7 253.5L204.5 258.0L202.5 258.0L201.0 256.5L199.4 249.5L199.8 244.5L205.1 233.5L207.2 227.5L211.9 219.5L215.5 218.1L217.4 219.5L218.2 221.5L217.6 229.5L215.5 236.5L215.5 239.8L216.5 240.9L219.5 240.4L221.5 240.9L224.5 243.3L227.5 247.4L231.5 250.0L232.5 249.9L238.5 245.5L243.5 244.9L245.5 243.7L249.5 236.5L249.2 232.5L250.2 230.5L253.5 229.7L258.5 226.9L262.5 225.9L272.7 217.5L273.2 213.5L275.3 210.5L274.6 206.5L274.5 200.5L275.4 196.5L273.9 193.5L274.5 192.1L276.5 193.2L280.5 193.4L282.5 195.1L285.5 192.8L287.5 192.7L289.0 193.5L290.0 195.5L292.5 195.7L295.5 192.9L298.2 187.5L300.5 185.8L309.5 183.5L319.5 182.9L325.5 179.4L330.5 177.9L334.7 170.5L334.1 167.5L335.8 162.5L338.5 161.9L343.5 164.4L348.5 163.8L351.5 159.7L356.5 158.4L363.3 154.5L365.0 149.5L369.4 146.5L373.5 141.3L380.5 140.4L385.5 144.1L391.5 145.3L393.5 144.8L395.1 143.5L395.1 139.5L392.4 136.5L392.5 136.0L395.5 136.3L395.9 135.5L395.5 133.7L391.5 130.1L387.5 130.5L386.5 129.9L386.1 124.5L384.4 119.5L382.5 118.1L379.5 118.1L378.5 117.5L376.8 111.5L372.8 107.5L367.5 106.8L360.5 103.7L358.5 96.5L359.5 94.8L361.5 93.9L364.3 94.5L365.2 96.5L365.2 98.5L366.5 99.2L369.5 98.7L372.5 97.3L377.5 98.0L381.5 96.4L386.5 97.1L391.5 90.8L395.5 87.0L398.5 86.9L402.5 90.0L404.5 90.8L409.5 87.7L423.5 80.7L428.5 81.1L429.4 83.5L428.8 87.5L433.5 90.6L438.5 92.5L443.5 91.0L449.6 92.5L449.3 96.5L452.0 99.5L451.3 102.5L453.6 108.5L452.6 112.5L450.6 115.5L450.9 118.5L449.4 121.5L449.9 122.5L452.5 123.4L454.2 120.5L455.4 120.5L457.5 123.9L462.5 125.7L463.5 125.1L465.5 121.3L466.5 120.4L467.5 120.6L468.5 125.8L469.5 126.7L473.8 127.5L475.2 130.5L474.9 131.5L473.5 132.5L470.5 133.0L468.5 134.3L465.6 139.5L464.5 140.4L462.5 140.3L460.2 138.5L458.5 138.0L455.2 139.5L451.4 146.5L451.1 149.5L451.5 151.6L454.5 154.5L454.8 156.5L453.5 158.2L450.5 159.3L449.5 160.5L447.3 166.5L448.1 169.5L449.5 170.1L451.5 168.9L452.7 166.5L453.5 162.5L457.5 160.0L463.9 152.5L465.5 152.3L467.5 153.4L469.5 153.6L473.5 151.5L475.1 152.5L476.5 156.5L486.5 153.8L488.5 154.5L489.1 156.5L488.8 160.5L489.5 162.0L496.5 163.6L497.4 164.5L496.5 167.5L496.9 168.5L501.5 171.5L508.5 178.1ZM451.5 130.7L449.5 131.4L448.8 132.5L449.2 134.5L450.5 135.3L451.5 135.2L452.5 133.5ZM295.5 351.2L295.2 353.5L296.5 355.1L297.0 352.5L296.5 351.3ZM23.8 303.5L22.5 302.3L21.0 303.5L22.5 303.9ZM25.3 291.5L25.9 293.5L30.5 296.6L33.0 296.5L34.8 294.5L29.5 290.2L26.5 290.2ZM48.9 322.5L48.1 324.5L48.5 328.5L45.5 331.4L44.7 336.5L46.2 340.5L43.7 344.5L44.5 347.9L49.5 351.7L54.5 349.5L58.5 350.6L62.5 349.0L65.5 349.9L65.5 346.8L62.7 344.5L62.7 341.5L61.5 339.6L57.5 337.9L53.5 339.2L50.2 336.5L50.5 334.8L52.5 334.0L54.5 334.3L57.5 336.3L58.5 336.0L59.7 333.5L58.5 331.2L54.5 330.4L54.1 325.5L52.9 323.5L50.5 322.1ZM101.2 279.5L98.2 276.5L93.5 273.5L83.5 277.1L79.5 277.5L74.5 276.4L72.5 277.5L73.5 280.9L76.9 284.5L75.5 290.5L75.8 291.5L77.5 292.8L82.5 291.1L92.5 290.1L95.4 286.5L101.1 282.5ZM127.5 327.8L124.5 328.0L120.5 326.5L116.5 328.9L113.5 329.7L112.7 330.5L112.9 331.5L115.5 335.5L113.5 341.7L114.5 341.8L117.5 339.6L120.8 339.5L122.5 336.9L124.5 336.4L127.5 338.2L128.2 337.5L129.1 334.5L128.2 331.5L128.1 328.5ZM212.6 400.5L214.5 403.5L218.5 401.1L219.5 399.5L218.5 398.0L215.5 397.7L213.4 398.5ZM222.5 243.7L220.5 244.0L217.7 246.5L217.4 248.5L218.3 249.5L220.5 249.2L223.2 246.5L223.4 244.5ZM261.5 333.2L261.5 335.4L262.5 335.6L263.1 334.5L262.7 333.5ZM270.8 260.5L270.5 261.5L271.5 264.1L274.5 264.1L276.0 262.5L275.6 260.5L274.5 259.9L272.5 259.7ZM32.5 351.1L32.0 352.5L32.5 353.6L35.5 353.5L36.2 352.5L34.5 350.5ZM99.0 306.5L95.5 306.1L88.3 308.5L87.8 309.5L88.2 311.5L85.3 315.5L86.1 317.5L89.5 319.7L94.5 317.8L98.5 317.6L100.2 316.5L100.5 314.5L99.1 311.5L99.7 307.5ZM97.5 397.1L96.5 397.6L96.5 399.9L97.9 399.5L98.4 398.5ZM499.5 90.5L501.5 90.5L503.1 92.5L504.3 95.5L504.3 96.5L503.3 97.5L501.5 97.7L500.4 96.5ZM451.5 91.5L452.5 90.8L453.5 91.9L452.5 92.6ZM303.5 97.2L305.5 99.1L308.9 100.5L309.1 102.5L307.3 105.5L305.5 105.7L304.2 104.5L304.4 99.5L303.5 98.5ZM508.5 96.8L514.5 96.8L514.5 110.3L508.5 110.3L504.5 110.7L503.7 109.5L503.8 102.5L506.5 98.3ZM508.0 111.5L508.5 111.0L514.5 111.0L514.5 113.9L508.5 113.9ZM493.5 115.3L495.5 115.2L497.4 116.5L497.6 118.5L496.5 120.2L495.5 120.2L493.5 118.5L492.9 116.5ZM223.5 116.1L224.5 117.1L224.5 119.5L223.5 122.2L221.6 124.5L221.9 127.5L223.5 129.2L227.5 130.3L228.6 132.5L225.5 139.5L224.5 140.6L222.5 141.5L220.5 140.8L219.5 139.5L219.4 130.5L217.3 125.5L217.4 124.5L219.5 123.3L222.5 116.6ZM214.5 120.3L215.7 121.5L215.5 123.4L214.5 123.1L213.6 121.5ZM365.2 121.5L365.5 120.5L366.5 120.0L367.9 120.5L367.5 121.7ZM202.5 122.8L204.5 123.6L205.4 125.5L204.5 127.7L203.5 128.0L202.1 126.5L201.8 123.5ZM189.7 130.5L189.7 129.5L190.5 128.6L192.7 129.5L192.4 130.5L191.5 130.9ZM36.9 131.5L38.5 131.2L40.0 132.5L38.5 133.4L37.0 132.5ZM6.5 136.8L8.5 136.4L12.3 137.5L13.1 139.5L12.5 141.9L8.5 141.0L6.5 141.2L6.0 138.5ZM115.5 140.5L116.5 141.0L116.6 143.5L115.5 146.6L114.5 146.9L113.5 145.1L113.1 141.5L113.5 140.8ZM1.5 142.6L6.5 141.6L8.4 143.5L11.5 144.5L12.7 147.5L15.5 151.4L15.5 152.8L13.5 153.7L6.5 153.3L0.8 146.5L0.5 144.5ZM171.5 143.5L174.0 144.5L173.4 148.5L177.8 160.5L178.2 165.5L183.5 166.7L186.5 166.4L188.0 165.5L189.5 163.0L192.5 162.5L192.8 163.5L191.3 167.5L191.6 170.5L192.5 172.0L195.9 174.5L193.5 179.3L190.5 178.7L189.3 179.5L189.8 182.5L190.5 183.1L194.5 182.5L195.7 183.5L196.1 185.5L189.8 194.5L190.8 198.5L184.5 203.9L182.4 203.5L178.9 194.5L175.2 191.5L173.8 189.5L173.0 184.5L170.5 180.5L169.6 177.5L170.0 175.5L171.9 173.5L172.1 172.5L171.5 171.5L167.3 169.5L166.9 167.5L167.4 164.5L163.5 161.3L160.5 161.9L157.5 161.4L156.2 160.5L155.3 158.5L155.6 154.5L158.5 152.8L161.5 149.4L162.5 149.2L165.5 150.4L166.5 149.8L170.0 144.5ZM184.9 195.5L186.5 195.5L186.6 194.5L185.3 194.5ZM458.0 145.5L458.6 145.5L459.2 146.5L458.5 147.1L457.5 146.5ZM131.7 156.5L133.7 152.5L134.7 151.5L136.5 151.1L139.5 152.0L141.4 155.5L140.5 156.6L136.5 156.1L133.5 158.1L132.1 157.5ZM157.5 166.2L159.5 167.0L159.8 168.5L159.2 170.5L157.5 171.5L156.2 170.5L155.8 168.5L156.5 166.7ZM112.5 172.5L113.3 174.5L109.5 182.5L97.5 197.0L91.5 202.0L87.5 203.3L85.5 202.8L85.1 199.5L87.0 194.5L92.5 186.0L96.8 180.5L103.5 176.3L111.5 172.5ZM163.5 174.3L165.3 174.5L165.9 175.5L165.8 176.5L164.5 177.9L162.5 177.6L161.6 176.5L161.8 175.5ZM147.5 177.1L148.9 178.5L147.9 185.5L146.5 186.9L144.5 187.0L143.3 185.5L143.0 178.5L144.5 177.2ZM38.6 180.5L40.5 177.9L41.5 177.5L48.5 177.9L51.5 180.3L52.1 181.5L51.9 186.5L50.5 187.5L45.5 188.7L43.5 185.8L39.1 183.5L38.3 182.5ZM-8.5 179.5L-2.5 179.5L0.9 180.5L3.5 184.9L6.5 188.2L9.9 189.5L10.7 190.5L10.7 191.5L8.5 192.1L5.5 188.4L3.6 190.5L2.5 193.7L-2.5 194.6L-8.5 194.6ZM216.5 179.0L217.3 179.5L217.1 180.5L216.4 180.5L215.9 179.5ZM415.0 186.5L415.5 185.8L416.5 185.7L417.6 186.5L417.4 187.5L416.5 187.9L415.3 187.5ZM500.5 201.4L502.5 202.4L504.0 205.5L502.5 207.8L500.5 208.5L498.5 208.3L497.1 207.5L496.7 205.5L498.5 202.5ZM434.0 206.5L434.6 205.5L436.0 205.5L435.4 206.5ZM485.1 207.5L486.5 206.8L489.5 208.5L489.6 209.5L487.5 210.0L485.9 209.5L485.0 208.5ZM454.7 211.5L457.5 209.6L465.5 211.1L472.5 209.3L474.1 209.5L481.4 219.5L482.0 222.5L485.5 224.8L486.0 224.5L485.1 219.5L485.7 218.5L489.1 216.5L492.5 216.5L493.1 221.5L496.1 225.5L495.6 227.5L493.2 230.5L493.3 231.5L495.3 233.5L494.7 234.5L493.5 234.5L491.5 231.9L489.5 231.4L484.5 234.6L479.5 234.6L475.5 239.0L472.5 238.8L470.8 236.5L471.0 231.5L471.8 229.5L477.3 222.5L476.9 221.5L474.8 220.5L471.5 220.6L468.5 217.7L467.5 217.5L462.5 219.9L457.5 219.8L456.3 218.5L454.5 214.1ZM405.3 222.5L407.5 222.4L413.5 223.9L418.5 223.9L422.2 225.5L423.1 227.5L421.1 235.5L419.5 236.4L416.9 233.5L413.5 232.1L408.3 232.5L407.5 231.5L407.4 227.5L404.6 223.5ZM436.5 234.6L439.6 236.5L440.9 238.5L440.9 239.5L438.2 245.5L437.6 250.5L438.2 254.5L437.5 255.4L433.5 255.7L432.5 255.3L432.5 253.2L433.5 251.9L436.3 250.5L436.3 249.5L431.1 246.5L431.1 245.5L435.3 241.5L435.5 240.5L432.9 236.5ZM349.5 241.2L353.5 242.6L361.5 242.1L363.5 240.9L365.5 237.9L366.5 237.6L371.5 237.5L373.5 238.4L373.9 240.5L373.5 242.1L369.8 246.5L368.5 253.0L365.8 256.5L362.0 265.5L362.5 266.6L368.5 267.3L372.5 265.7L374.5 265.9L376.2 268.5L375.5 270.4L370.5 270.2L367.5 271.6L357.5 267.8L356.1 263.5L353.5 261.5L353.2 260.5L354.9 257.5L354.5 251.5L350.5 252.1L348.5 253.1L345.5 251.8L342.5 253.1L342.0 252.5L342.5 251.9L346.5 251.2L349.1 248.5L348.9 243.5ZM1.5 238.4L3.3 240.5L3.8 244.5L2.8 248.5L-0.5 254.2L-8.5 254.0L-8.5 249.9L-2.5 249.9L-2.1 248.5L-2.5 247.1L-8.5 247.1L-8.5 239.6L-2.5 239.6L-0.5 238.3ZM45.5 239.4L46.5 239.5L47.6 240.5L49.5 244.5L48.3 248.5L49.2 251.5L52.5 254.2L54.6 257.5L59.9 263.5L59.5 264.5L55.6 266.5L53.5 269.8L52.5 269.7L47.5 266.5L41.5 265.7L38.5 263.6L32.6 261.5L31.9 260.5L32.2 254.5L33.9 249.5L37.5 245.3L43.0 242.5ZM503.5 241.3L504.5 240.9L505.4 241.5L505.8 243.5L504.5 243.6L503.5 242.7ZM507.1 243.5L508.5 240.9L514.5 240.9L514.5 245.4L508.5 245.4ZM327.5 253.1L328.5 252.9L329.5 253.7L330.2 255.5L329.5 256.9L327.5 256.3L327.1 254.5ZM0.5 255.3L2.5 256.7L3.2 258.5L2.5 260.6L0.5 261.7L-0.5 260.3L-0.8 257.5L-0.5 255.9ZM444.2 256.5L444.7 258.5L443.8 260.5L439.5 260.5L438.6 261.5L438.3 265.5L437.5 266.4L434.5 265.8L432.5 266.3L429.5 272.0L427.5 272.3L424.5 269.1L421.3 268.5L422.5 262.3L423.5 260.6L428.5 261.1L431.5 259.9L433.5 260.9L437.5 260.4L438.3 259.5L438.5 256.4L439.5 255.5L442.5 255.4ZM464.3 255.5L465.5 255.4L466.5 256.2L466.5 258.3L464.1 257.5L463.7 256.5ZM503.5 258.6L504.5 256.8L505.5 257.4L504.5 258.9ZM410.5 262.0L411.2 263.5L410.5 266.1L409.3 263.5ZM500.5 267.6L501.5 269.5L502.2 276.5L500.5 280.3L496.5 280.9L490.2 278.5L489.6 276.5L490.5 271.4L492.5 270.0L496.5 269.4L499.5 267.5ZM420.5 269.1L419.5 276.0L418.5 278.0L417.5 278.0L414.1 275.5L412.9 273.5L413.3 272.5ZM-8.5 272.5L-2.5 272.5L-2.5 274.6L-8.5 274.6ZM376.4 276.5L377.6 274.5L380.5 273.6L384.0 274.5L385.0 276.5L383.5 278.5L380.5 279.3L377.4 278.5ZM92.5 280.8L93.5 281.1L93.8 282.5L92.5 283.8L91.6 282.5ZM395.1 282.5L396.5 281.7L399.5 281.6L404.5 282.7L408.1 282.5L408.6 283.5L409.1 291.5L408.4 292.5L405.5 293.8L403.5 293.9L401.5 293.0L400.2 291.5L398.9 287.5L395.4 284.5ZM493.0 291.5L493.4 290.5L494.5 289.9L496.2 290.5L495.7 291.5L494.5 292.0ZM473.0 293.5L479.5 294.6L482.5 293.1L484.8 293.5L485.5 294.5L485.3 297.5L486.5 303.5L486.1 305.5L484.5 306.1L483.5 305.8L479.5 299.6L475.5 298.5L472.6 294.5ZM375.3 300.5L376.5 299.4L381.5 300.0L385.2 301.5L387.2 303.5L382.5 308.9L379.5 308.5L378.5 307.7L377.5 305.1L375.5 302.5ZM367.5 304.6L367.9 305.5L367.5 306.7L366.4 305.5ZM473.5 307.4L475.5 308.7L476.1 310.5L475.5 312.6L473.5 313.9L471.5 312.8L471.2 311.5L471.5 309.5ZM385.1 310.5L387.5 309.3L388.5 309.4L389.1 310.5L388.7 311.5L387.5 311.9L385.8 311.5ZM152.9 318.5L155.5 317.8L156.8 318.5L156.7 319.5L154.5 320.2L152.9 319.5ZM414.5 321.4L415.5 321.4L416.4 322.5L416.5 323.5L415.5 324.4L414.3 322.5ZM422.4 325.5L422.4 324.5L423.5 323.3L426.5 322.7L426.8 323.5L424.9 325.5L423.5 326.2ZM476.7 325.5L477.3 326.5L474.4 332.5L468.5 334.9L466.5 334.8L463.5 333.4L461.5 333.5L460.7 334.5L460.9 338.5L460.5 339.1L458.5 339.0L454.5 337.4L452.5 338.0L451.0 341.5L452.1 345.5L448.5 348.3L447.0 353.5L447.8 356.5L447.5 358.0L446.5 358.6L445.5 358.1L444.1 355.5L439.5 355.5L439.3 356.5L440.1 358.5L437.7 361.5L434.5 362.6L429.5 363.0L421.5 370.2L415.7 371.5L415.3 372.5L416.5 373.4L420.5 372.2L423.5 373.1L427.9 377.5L434.0 380.5L435.5 383.5L435.6 386.5L434.7 390.5L431.5 393.6L430.5 394.0L427.5 392.4L424.5 392.0L423.5 390.4L421.5 389.4L417.5 389.8L412.5 392.2L405.5 391.0L400.5 392.9L397.5 394.9L395.5 394.8L394.9 392.5L399.2 388.5L405.5 389.1L408.5 382.7L411.3 379.5L411.7 372.5L405.5 369.0L404.5 369.3L399.5 374.3L393.2 378.5L391.2 380.5L388.5 381.8L385.5 382.3L379.5 386.1L378.5 386.2L377.7 385.5L379.7 383.5L380.3 379.5L381.5 377.6L385.5 376.1L385.9 371.5L387.1 369.5L393.5 367.6L397.5 368.9L403.1 365.5L406.5 361.5L407.5 361.2L409.4 363.5L410.5 363.9L413.5 361.3L414.3 358.5L412.3 354.5L415.7 350.5L417.5 344.5L416.5 342.4L411.5 342.9L409.5 342.5L406.5 338.6L405.3 334.5L407.1 331.5L409.3 329.5L413.4 328.5L415.5 326.9L416.5 326.9L419.5 330.8L422.2 332.5L422.6 333.5L422.3 334.5L417.7 337.5L417.2 339.5L417.5 340.2L421.5 340.0L425.5 342.7L428.5 343.4L433.5 342.8L435.0 340.5L435.4 337.5L435.0 336.5L430.5 335.9L429.3 334.5L429.6 332.5L431.5 331.1L433.5 332.1L436.5 335.5L439.5 335.8L442.5 335.0L450.9 334.5L452.9 329.5L458.5 325.4L462.5 325.5L464.5 324.2L466.5 323.9L468.5 327.5L471.5 328.3L473.4 327.5L475.5 325.2ZM489.3 325.5L490.3 326.5L490.4 328.5L487.5 330.9L484.4 331.5L483.2 329.5L484.0 326.5L486.5 324.9ZM357.5 329.9L359.7 331.5L360.3 333.5L360.1 335.5L357.9 339.5L357.6 341.5L361.4 347.5L362.3 355.5L363.6 358.5L363.4 359.5L361.5 360.9L352.5 363.5L350.5 363.6L347.9 361.5L345.5 360.5L344.8 359.5L345.5 356.1L348.6 353.5L348.9 352.5L346.4 350.5L345.9 348.5L346.6 346.5L350.2 342.5L348.7 339.5L348.6 337.5L350.5 336.0L355.5 336.4L356.2 334.5L355.8 330.5L356.5 329.7ZM286.5 362.2L287.8 363.5L286.6 369.5L285.5 371.2L282.5 372.9L281.8 371.5L282.2 369.5L284.9 363.5ZM295.4 363.5L297.3 364.5L297.9 365.5L297.5 367.2L296.5 367.8L295.4 367.5L294.5 366.0L294.5 364.0ZM323.5 362.7L324.5 362.7L326.5 364.8L328.4 368.5L328.6 371.5L332.5 375.3L334.5 378.9L340.5 381.1L341.5 381.0L341.7 378.5L342.5 377.2L344.5 377.0L346.7 378.5L347.2 380.5L345.2 384.5L346.8 387.5L345.4 391.5L345.5 394.5L346.4 396.5L349.5 398.9L353.0 403.5L353.0 409.5L336.4 409.5L336.4 403.5L339.6 399.5L335.2 390.5L329.5 387.9L320.5 385.8L319.1 384.5L318.7 382.5L322.3 379.5L320.5 377.6L317.5 377.2L316.8 375.5L318.2 373.5L322.5 370.5L321.2 366.5L322.5 363.5ZM6.7 372.5L7.3 374.5L6.9 376.5L2.5 382.4L0.5 382.9L-2.5 381.5L-8.5 381.5L-8.5 369.7L3.5 369.6L5.1 370.5ZM514.5 370.8L514.5 380.4L508.5 380.4L502.5 384.5L500.8 387.5L499.5 388.4L495.5 389.4L493.9 388.5L494.7 385.5L494.6 381.5L497.6 379.5L496.4 376.5L497.5 374.6L501.5 373.7L506.5 371.1ZM281.5 373.3L281.9 376.5L281.5 377.6L279.5 375.5L279.8 374.5ZM305.0 389.5L304.9 392.5L303.5 394.3L302.5 394.7L298.5 393.6L295.3 395.5L292.5 395.7L289.1 394.5L288.1 393.5L288.5 391.1L290.6 388.5L289.5 387.8L286.5 387.7L285.7 386.5L285.7 384.5L286.5 382.8L287.5 382.7L292.7 384.5L295.5 386.3L296.7 385.5L296.5 383.5L297.2 381.5L298.5 381.1L300.1 382.5L302.5 387.2ZM436.5 392.5L437.5 392.4L438.3 393.5L437.9 394.5L436.6 393.5ZM459.5 393.3L460.8 393.5L461.6 394.5L462.5 400.5L461.5 402.6L459.9 402.5L459.1 401.5L458.2 394.5ZM502.2 399.5L502.6 400.5L501.4 403.5L501.4 409.5L495.4 409.5L495.4 403.5L500.5 399.3ZM47.5 400.6L49.0 401.5L48.7 409.5L45.4 409.5L45.0 402.5L45.3 401.5ZM438.6 401.5L439.5 401.0L439.9 402.5L438.9 402.5ZM472.5 402.1L474.5 401.3L477.6 402.5L477.9 409.5L471.2 409.5L471.2 403.5ZM69.5 402.7L70.6 403.5L70.6 409.5L67.7 409.5L67.7 403.5Z"/><path fill="#f5aa89" fill-rule="evenodd" d="M45.9 -5.5L45.9 0.5L45.5 0.7L45.4 -5.5ZM44.5 5.0L44.4 9.5L41.6 16.5L36.5 18.8L34.5 18.5L33.2 16.5L33.5 10.5L37.5 9.5L41.5 6.4ZM39.5 25.6L41.5 26.2L44.5 29.5L41.5 30.2L39.7 31.5L43.5 34.5L44.7 36.5L43.1 44.5L43.4 46.5L44.9 48.5L44.6 49.5L43.5 49.9L39.5 48.2L36.9 43.5L36.8 40.5L38.1 33.5L39.2 31.5L36.8 29.5L36.5 28.5L37.9 26.5ZM32.5 37.5L33.4 39.5L32.5 42.0L31.5 41.7L30.7 39.5L31.5 37.9ZM163.5 46.6L165.5 47.5L167.7 50.5L166.7 56.5L168.0 62.5L164.9 73.5L165.5 79.5L162.2 84.5L161.7 86.5L162.4 88.5L161.5 89.6L157.5 88.7L154.5 86.7L151.5 83.2L149.3 77.5L151.7 71.5L152.0 67.5L151.3 63.5L152.3 59.5L157.5 50.5L159.5 48.6ZM86.5 73.6L87.5 73.9L87.9 75.5L87.3 76.5L85.5 77.0L84.8 76.5L84.8 75.5ZM433.1 100.5L435.2 106.5L434.4 110.5L436.4 114.5L436.3 115.5L434.5 117.4L430.5 119.6L428.5 122.1L427.6 125.5L428.0 130.5L423.4 139.5L416.6 141.5L417.5 141.7L418.3 143.5L418.1 145.5L413.9 147.5L415.1 149.5L416.5 150.2L421.5 149.9L427.5 154.5L428.4 156.5L428.5 159.7L421.5 161.3L418.5 164.4L410.5 169.0L405.5 169.0L397.5 172.2L393.3 172.5L390.5 176.5L385.5 178.3L379.5 184.2L377.8 190.5L375.5 194.0L373.5 194.3L371.5 192.8L369.5 192.3L364.5 193.9L360.5 193.6L355.5 195.0L351.5 195.0L349.5 195.7L346.7 199.5L344.5 201.3L339.5 204.1L334.2 205.5L333.6 206.5L334.0 209.5L332.5 211.6L327.5 211.0L325.5 211.4L321.5 214.1L306.5 219.5L302.5 218.5L296.5 220.1L289.5 219.7L286.5 218.1L284.5 216.0L282.5 211.5L282.8 208.5L284.5 207.1L296.5 200.6L300.0 196.5L301.7 192.5L303.5 190.9L306.5 189.8L312.5 189.8L316.5 188.2L323.5 188.8L329.5 185.7L334.5 184.7L340.5 180.7L346.5 173.7L350.5 170.2L357.5 166.5L364.1 165.5L369.5 160.5L371.5 160.3L375.5 161.6L377.7 164.5L379.5 165.4L387.5 160.3L392.5 160.5L393.7 156.5L395.1 154.5L399.5 152.4L406.5 146.7L409.5 145.5L412.5 142.1L416.4 141.5L416.0 140.5L414.4 139.5L411.5 139.0L408.5 137.6L403.5 133.5L402.0 131.5L401.1 128.5L400.9 120.5L398.9 117.5L398.1 114.5L395.2 110.5L396.0 106.5L395.2 103.5L396.0 101.5L398.5 99.8L419.5 94.3L427.5 96.0ZM95.1 119.5L96.5 120.5L96.0 121.5L93.5 123.6L92.5 123.4L91.1 121.5L91.3 120.5L93.5 119.4ZM107.5 179.9L107.5 182.8L102.5 189.6L94.5 197.9L92.5 199.0L90.5 199.0L89.8 197.5L90.7 194.5L94.5 188.5L99.5 182.7L104.5 179.7L106.5 179.4ZM129.5 198.4L129.8 200.5L127.4 209.5L117.1 221.5L114.5 225.5L95.5 244.3L91.5 247.0L88.5 247.4L87.8 246.5L88.1 244.5L91.0 239.5L98.5 229.8L105.5 222.4L110.5 218.5L115.0 210.5L121.2 201.5L125.5 198.5L128.5 198.0ZM152.5 220.3L152.5 222.5L146.5 234.9L139.5 244.9L136.5 247.3L135.5 246.8L138.3 238.5L144.0 228.5L148.5 222.6L151.5 220.2ZM290.4 227.5L291.0 230.5L293.2 233.5L293.5 238.5L291.8 242.5L286.5 248.6L283.5 249.0L280.5 247.6L274.5 249.1L265.5 247.8L261.5 249.1L257.5 248.2L256.3 248.5L253.5 251.6L251.5 251.6L250.7 250.5L251.5 248.5L253.6 246.5L256.5 241.9L260.0 233.5L270.5 226.4L275.5 225.6L284.5 222.6L285.5 222.8L286.5 224.6ZM214.5 224.0L215.3 226.5L215.3 229.5L211.9 241.5L208.8 246.5L206.5 248.1L204.5 248.6L203.5 247.4L203.0 244.5L205.1 237.5L210.5 226.3L213.5 223.7ZM118.8 240.5L118.5 242.5L110.5 250.9L108.5 251.7L116.5 242.1ZM124.5 261.9L127.3 263.5L130.6 268.5L136.5 270.7L137.6 273.5L136.5 287.7L134.2 293.5L135.9 298.5L134.5 300.3L132.3 301.5L130.1 305.5L125.4 309.5L122.5 310.7L120.5 309.9L118.6 307.5L120.0 304.5L119.4 303.5L111.0 298.5L109.9 291.5L112.3 286.5L111.8 279.5L113.3 273.5L111.1 269.5L111.5 267.7L112.5 267.0L116.5 266.9L120.5 265.5L123.5 262.2ZM250.5 272.3L252.5 273.1L253.0 274.5L252.5 276.7L251.5 278.0L250.5 278.2L249.5 277.2L248.9 274.5L249.5 273.0ZM254.5 283.6L257.9 287.5L258.8 289.5L257.6 296.5L255.9 299.5L256.2 303.5L257.7 306.5L257.7 312.5L256.5 315.1L251.7 317.5L250.3 319.5L250.7 323.5L249.8 328.5L247.3 332.5L245.7 336.5L246.5 343.5L245.9 346.5L243.5 350.3L239.5 352.0L238.5 353.1L236.5 360.9L233.3 363.5L232.3 367.5L228.5 370.5L226.6 377.5L226.3 381.5L224.6 384.5L221.5 387.1L213.5 391.3L208.0 395.5L203.0 400.5L203.4 409.5L116.8 409.5L116.5 397.5L114.8 394.5L115.1 388.5L116.5 387.9L118.5 388.7L119.6 393.5L119.0 395.5L119.5 396.2L120.5 396.0L121.5 395.2L125.0 388.5L123.2 382.5L121.7 380.5L117.8 377.5L116.5 372.6L115.0 372.5L113.6 373.5L112.6 376.5L111.5 376.8L110.5 376.4L109.0 373.5L105.5 370.9L102.5 367.6L99.5 365.8L97.5 363.2L96.5 359.5L98.8 355.5L98.5 354.5L96.5 353.4L92.5 353.3L90.2 352.5L89.8 351.5L90.5 349.2L91.5 348.7L95.5 349.8L99.5 349.1L101.5 350.0L104.5 352.7L107.5 353.1L108.7 355.5L110.5 356.7L116.5 356.7L123.5 358.9L125.5 358.1L127.3 356.5L129.6 350.5L135.5 346.8L140.5 347.0L144.5 350.3L145.5 350.3L149.5 348.6L156.5 344.3L160.5 345.4L162.5 345.0L163.5 340.6L164.5 340.3L166.4 341.5L167.5 344.3L168.5 344.3L170.9 341.5L176.3 337.5L175.9 334.5L176.5 328.5L177.5 326.0L179.5 325.1L185.5 324.5L186.5 319.6L189.5 316.5L192.7 302.5L195.5 298.7L199.8 295.5L201.5 291.2L206.5 291.3L209.5 287.5L212.1 285.5L217.5 283.6L221.5 280.4L225.5 280.1L228.5 278.8L233.5 280.5L237.5 279.8L241.5 280.3L245.5 279.2L247.5 279.3ZM122.5 360.4L121.3 361.5L121.5 362.7L122.9 361.5ZM23.7 329.5L24.1 328.5L25.5 327.9L29.5 328.0L31.4 329.5L32.5 331.5L29.8 333.5L26.5 333.7L24.5 332.5ZM79.5 330.6L80.5 329.8L84.5 328.9L87.3 329.5L88.6 333.5L93.6 337.5L94.5 342.8L95.5 343.4L97.5 342.8L99.5 343.5L99.9 344.5L99.5 346.2L98.5 346.7L95.5 343.6L94.5 343.8L91.5 347.0L90.5 347.3L89.5 346.6L86.5 342.2L81.8 340.5L79.9 337.5L77.3 336.5L77.2 334.5Z"/><path fill="#d05548" fill-rule="evenodd" d="M160.5 60.1L161.5 60.4L161.6 61.5L160.5 62.9L159.5 61.5ZM420.5 101.9L423.5 103.8L425.4 106.5L426.2 110.5L425.0 116.5L422.6 124.5L421.5 126.0L417.5 129.8L414.5 130.7L412.5 130.6L406.5 124.5L405.7 111.5L406.1 105.5L408.1 103.5L410.5 102.3L416.5 101.5ZM370.5 171.8L371.6 172.5L372.5 174.5L373.2 177.5L372.7 179.5L371.2 181.5L364.5 186.0L361.5 186.1L353.5 178.5L353.5 177.0L354.6 175.5L361.4 171.5L365.5 170.8ZM104.1 183.5L103.7 185.5L101.5 188.7L95.5 193.9L94.6 193.5L96.5 189.5L100.5 184.6L102.5 183.3ZM329.1 194.5L329.4 196.5L326.4 205.5L324.5 207.1L318.5 209.5L313.5 210.1L304.5 209.3L300.7 207.5L300.4 205.5L301.9 202.5L306.1 197.5L309.5 195.4L316.5 193.2L326.5 193.5ZM125.5 203.1L125.7 206.5L124.5 209.5L118.7 217.5L114.9 221.5L110.5 228.5L97.5 240.8L94.5 242.7L92.9 242.5L93.4 239.5L98.9 231.5L107.5 223.3L112.4 219.5L117.5 210.5L122.5 203.8L124.5 202.6ZM148.5 226.2L148.5 227.7L146.5 232.5L141.2 238.5L141.4 236.5L144.5 230.1L146.5 227.5ZM212.5 229.1L212.6 232.5L210.5 239.7L208.5 243.9L206.5 244.9L205.4 243.5L206.5 238.6L209.5 231.9L211.5 229.2ZM281.4 231.5L281.0 235.5L282.0 239.5L280.6 241.5L275.5 242.4L270.5 241.0L269.0 239.5L268.6 235.5L269.3 233.5L270.5 232.3L272.5 231.7L276.5 232.7L280.5 231.1ZM243.8 292.5L244.6 293.5L244.8 296.5L246.9 298.5L247.1 300.5L245.0 309.5L245.8 315.5L241.6 328.5L242.1 331.5L240.9 336.5L241.3 342.5L237.1 345.5L234.5 350.8L224.5 360.9L212.8 380.5L211.7 384.5L208.5 387.5L206.6 391.5L203.5 393.6L197.1 395.5L193.6 398.5L192.5 401.2L188.5 402.3L188.0 403.5L188.0 409.5L137.8 409.5L137.8 403.5L141.6 396.5L139.4 393.5L137.7 383.5L140.5 380.9L142.5 377.5L147.3 373.5L148.2 369.5L149.5 367.8L154.5 365.9L156.3 364.5L158.3 361.5L163.4 359.5L168.5 352.4L175.4 347.5L178.5 343.7L184.1 340.5L193.2 329.5L197.9 320.5L197.9 317.5L196.5 312.5L197.8 306.5L201.5 304.4L204.5 300.8L206.5 299.8L213.5 298.6L218.5 296.2L221.5 298.0L224.5 298.1L227.3 296.5L231.5 292.6L234.1 294.5L236.5 294.9L238.7 294.5L241.5 292.4ZM135.5 378.9L136.5 379.3L137.2 380.5L136.8 381.5L135.2 380.5Z"/><path fill="#930e26" fill-rule="evenodd" d="M412.5 110.3L417.5 110.4L419.5 112.5L419.4 115.5L416.5 119.4L414.5 119.2L412.5 116.5L411.1 112.5L411.5 111.0ZM311.5 201.5L312.5 198.5L314.5 197.3L318.5 197.5L320.1 199.5L319.5 201.8L317.5 202.9L312.5 203.0ZM110.5 224.5L110.1 226.5L107.8 229.5L102.5 234.7L98.5 237.2L97.9 236.5L100.5 231.8L108.5 225.0ZM235.5 305.3L236.2 307.5L236.0 311.5L239.0 317.5L235.1 335.5L234.6 340.5L230.7 345.5L227.5 348.0L224.6 351.5L218.5 362.7L211.1 369.5L207.6 375.5L205.8 381.5L202.0 385.5L200.1 388.5L198.5 389.5L193.5 388.9L189.5 392.1L183.5 391.3L181.1 393.5L179.5 394.1L177.5 393.3L176.0 390.5L171.5 386.4L167.5 384.7L163.5 384.6L163.7 382.5L167.5 379.1L167.5 377.5L166.0 374.5L166.5 372.5L167.5 372.2L169.5 374.5L172.2 373.5L174.3 368.5L174.1 363.5L179.2 360.5L177.4 355.5L178.0 353.5L179.5 352.3L183.5 351.0L189.1 350.5L189.5 349.5L188.8 346.5L189.3 345.5L192.6 342.5L193.6 340.5L196.5 338.1L198.5 335.3L201.5 333.3L203.5 330.8L205.2 319.5L211.8 310.5L216.5 306.1L218.5 305.2L224.5 304.6L228.5 305.6L232.5 304.2L234.5 304.5ZM170.9 363.5L171.5 362.4L173.4 363.5L171.5 364.0ZM169.5 394.5L170.5 393.4L175.4 395.5L175.7 397.5L174.5 398.7L172.5 398.4L170.1 396.5Z"/><path fill="#67001f" fill-rule="evenodd" d="M230.9 315.5L232.5 317.5L232.7 320.5L231.4 324.5L230.7 330.5L226.9 337.5L227.1 340.5L226.5 342.2L224.0 344.5L220.5 346.5L218.9 350.5L215.7 353.5L214.5 358.2L212.7 360.5L205.5 364.7L202.5 364.3L200.6 362.5L198.5 355.5L200.1 352.5L200.9 347.5L206.5 336.5L211.7 330.5L214.9 318.5L218.5 315.1L221.5 313.8L224.5 313.9Z"/>
<path d="M509.3 0.0C506.0 1.8 499.8 4.0 496.2 5.7C492.6 7.4 490.7 7.3 487.5 10.1C484.3 12.8 480.6 18.6 477.2 22.2C473.8 25.8 470.0 29.0 466.8 31.7C463.6 34.4 459.6 35.6 458.2 38.6C456.8 41.6 459.2 46.5 458.6 49.8C458.0 53.1 457.4 54.6 454.7 58.4C452.0 62.1 445.5 68.3 442.6 72.3C439.7 76.3 438.5 78.6 437.4 82.6C436.2 86.6 435.8 92.5 435.7 96.5C435.6 100.5 436.9 103.9 436.6 106.8C436.3 109.7 433.3 111.8 434.0 113.7C434.7 115.6 439.2 116.4 440.9 118.0C442.6 119.6 444.1 120.5 444.3 123.2C444.5 126.0 443.5 130.6 441.8 134.5C440.1 138.4 436.8 142.9 434.0 146.6C431.2 150.3 428.2 153.0 425.3 156.9C422.4 160.8 419.9 166.3 416.7 169.9C413.5 173.5 409.3 176.5 406.3 178.5C403.3 180.5 401.9 180.0 398.9 181.7C395.9 183.4 392.5 185.4 388.5 188.6C384.5 191.8 380.4 197.1 374.7 200.7C368.9 204.3 361.5 207.6 354.0 210.2C346.5 212.8 336.1 214.9 329.8 216.3C323.5 217.7 319.2 217.4 316.0 218.8C312.8 220.2 312.8 222.7 310.8 224.9C308.8 227.1 306.2 228.1 303.9 231.8C301.6 235.6 299.0 242.2 297.0 247.4C295.0 252.6 293.8 259.2 291.8 262.9C289.8 266.6 288.4 267.4 284.9 269.8C281.4 272.2 275.9 274.9 271.0 277.6C266.1 280.3 258.5 283.5 255.5 286.2C252.5 288.9 254.3 290.7 252.9 294.0C251.5 297.3 248.8 301.8 246.9 306.1C245.0 310.4 242.9 315.9 241.7 319.9C240.5 323.9 240.0 326.9 239.6 330.3C239.2 333.8 239.9 337.3 239.1 340.6C238.3 343.9 237.0 347.6 234.8 350.2C232.6 352.8 229.0 353.5 226.1 356.2C223.2 358.9 220.4 363.6 217.5 366.6C214.6 369.6 211.2 372.6 208.9 374.3C206.6 376.0 205.7 375.1 203.5 377.0C201.3 378.9 197.0 383.9 196.0 385.5C195.0 387.1 196.3 387.2 197.5 386.5C198.7 385.8 202.6 381.1 203.0 381.5C203.4 381.9 201.8 386.0 200.2 389.0C198.6 392.0 194.9 396.8 193.3 399.4C191.7 402.0 191.9 400.2 190.7 404.5C189.5 408.8 124.4 421.6 186.0 425.0C247.6 428.4 497.7 500.0 560.0 425.0C622.3 350.0 567.3 46.7 560.0 -25.0C552.7 -96.7 524.5 -9.2 516.0 -5.0C507.6 -0.8 512.6 -1.8 509.3 0.0Z" fill="#fff" stroke="#fff" stroke-width="8.3" stroke-linejoin="round"/><polygon points="159.3,202.7 166.0,201.5 174.5,199.0 180.6,195.4 189.2,193.9 190.6,195.1 185.5,199.0 181.3,203.9 179.4,210.0 174.5,215.5 169.7,217.1 166.6,214.9 163.6,210.0 160.5,205.7" fill="#fff" stroke="#fff" stroke-width="10.4" stroke-linejoin="round"/><polygon points="206.9,210.6 209.0,212.2 212.3,211.8 216.0,212.0 218.4,210.0 219.1,214.9 220.3,219.7 218.4,224.0 213.6,227.1 208.7,227.1 203.8,223.4 201.7,218.5 203.2,214.3" fill="#fff" stroke="#fff" stroke-width="10.4" stroke-linejoin="round"/><polygon points="274.5,187.4 278.8,188.0 280.6,192.9 280.0,200.2 277.0,207.6 269.7,210.0 263.6,213.0 258.7,215.5 253.8,214.3 254.4,212.4 262.3,210.6 266.6,205.1 269.7,199.0 272.1,191.7" fill="#fff" stroke="#fff" stroke-width="10.4" stroke-linejoin="round"/><polygon points="292.8,166.1 295.9,169.1 295.3,174.6 291.6,177.7 286.7,178.9 282.5,183.8 278.2,182.6 280.0,177.7 284.3,174.0 289.8,172.8 291.0,167.9" fill="#fff" stroke="#fff" stroke-width="10.4" stroke-linejoin="round"/><polygon points="117.0,186.2 120.0,183.8 124.9,183.8 128.0,187.4 127.0,192.9 123.7,199.6 121.3,195.4 118.2,190.5" fill="#fff" stroke="#fff" stroke-width="10.4" stroke-linejoin="round"/><polygon points="109.9,226.5 115.8,225.2 120.0,222.4 121.9,224.6 118.8,230.1 116.4,231.3 112.1,228.9" fill="#fff" stroke="#fff" stroke-width="10.4" stroke-linejoin="round"/><polygon points="145.6,28.4 148.1,25.6 152.3,28.4 158.4,27.1 164.5,29.6 168.8,30.2 164.5,33.8 159.7,35.7 153.6,34.5 148.7,32.0" fill="#fff" stroke="#fff" stroke-width="10.4" stroke-linejoin="round"/><polygon points="179.4,19.2 182.2,16.8 184.7,18.0 182.8,19.5 180.4,20.2" fill="#fff" stroke="#fff" stroke-width="10.4" stroke-linejoin="round"/><polygon points="173.3,37.3 174.9,37.7 176.5,41.2 175.3,40.9" fill="#fff" stroke="#fff" stroke-width="10.4" stroke-linejoin="round"/><ellipse cx="147.1" cy="212.2" rx="10.3" ry="9.1" fill="#fff"/>

<path d="M509.3 0.0C506.0 1.8 499.8 4.0 496.2 5.7C492.6 7.4 490.7 7.3 487.5 10.1C484.3 12.8 480.6 18.6 477.2 22.2C473.8 25.8 470.0 29.0 466.8 31.7C463.6 34.4 459.6 35.6 458.2 38.6C456.8 41.6 459.2 46.5 458.6 49.8C458.0 53.1 457.4 54.6 454.7 58.4C452.0 62.1 445.5 68.3 442.6 72.3C439.7 76.3 438.5 78.6 437.4 82.6C436.2 86.6 435.8 92.5 435.7 96.5C435.6 100.5 436.9 103.9 436.6 106.8C436.3 109.7 433.3 111.8 434.0 113.7C434.7 115.6 439.2 116.4 440.9 118.0C442.6 119.6 444.1 120.5 444.3 123.2C444.5 126.0 443.5 130.6 441.8 134.5C440.1 138.4 436.8 142.9 434.0 146.6C431.2 150.3 428.2 153.0 425.3 156.9C422.4 160.8 419.9 166.3 416.7 169.9C413.5 173.5 409.3 176.5 406.3 178.5C403.3 180.5 401.9 180.0 398.9 181.7C395.9 183.4 392.5 185.4 388.5 188.6C384.5 191.8 380.4 197.1 374.7 200.7C368.9 204.3 361.5 207.6 354.0 210.2C346.5 212.8 336.1 214.9 329.8 216.3C323.5 217.7 319.2 217.4 316.0 218.8C312.8 220.2 312.8 222.7 310.8 224.9C308.8 227.1 306.2 228.1 303.9 231.8C301.6 235.6 299.0 242.2 297.0 247.4C295.0 252.6 293.8 259.2 291.8 262.9C289.8 266.6 288.4 267.4 284.9 269.8C281.4 272.2 275.9 274.9 271.0 277.6C266.1 280.3 258.5 283.5 255.5 286.2C252.5 288.9 254.3 290.7 252.9 294.0C251.5 297.3 248.8 301.8 246.9 306.1C245.0 310.4 242.9 315.9 241.7 319.9C240.5 323.9 240.0 326.9 239.6 330.3C239.2 333.8 239.9 337.3 239.1 340.6C238.3 343.9 237.0 347.6 234.8 350.2C232.6 352.8 229.0 353.5 226.1 356.2C223.2 358.9 220.4 363.6 217.5 366.6C214.6 369.6 211.2 372.6 208.9 374.3C206.6 376.0 205.7 375.1 203.5 377.0C201.3 378.9 197.0 383.9 196.0 385.5C195.0 387.1 196.3 387.2 197.5 386.5C198.7 385.8 202.6 381.1 203.0 381.5C203.4 381.9 201.8 386.0 200.2 389.0C198.6 392.0 194.9 396.8 193.3 399.4C191.7 402.0 191.9 400.2 190.7 404.5C189.5 408.8 124.4 421.6 186.0 425.0C247.6 428.4 497.7 500.0 560.0 425.0C622.3 350.0 567.3 46.7 560.0 -25.0C552.7 -96.7 524.5 -9.2 516.0 -5.0C507.6 -0.8 512.6 -1.8 509.3 0.0Z" fill="#000"/><path d="M159.3 202.7C160.2 202.0 163.5 202.1 166.0 201.5C168.5 200.9 172.1 200.0 174.5 199.0C176.9 198.0 178.2 196.2 180.6 195.4C183.0 194.6 187.5 194.0 189.2 193.9C190.9 193.8 191.2 194.2 190.6 195.1C190.0 195.9 187.1 197.5 185.5 199.0C183.9 200.5 182.3 202.1 181.3 203.9C180.3 205.7 180.5 208.1 179.4 210.0C178.3 211.9 176.1 214.3 174.5 215.5C172.9 216.7 171.0 217.2 169.7 217.1C168.4 217.0 167.6 216.1 166.6 214.9C165.6 213.7 164.6 211.5 163.6 210.0C162.6 208.5 161.2 206.9 160.5 205.7C159.8 204.5 158.4 203.4 159.3 202.7Z" fill="#000" stroke="#000" stroke-width="0.6" stroke-linejoin="round"/><path d="M206.9 210.6C207.9 210.2 208.1 212.0 209.0 212.2C209.9 212.4 211.1 211.8 212.3 211.8C213.5 211.8 215.0 212.3 216.0 212.0C217.0 211.7 217.9 209.5 218.4 210.0C218.9 210.5 218.8 213.3 219.1 214.9C219.4 216.5 220.4 218.2 220.3 219.7C220.2 221.2 219.5 222.8 218.4 224.0C217.3 225.2 215.2 226.6 213.6 227.1C212.0 227.6 210.3 227.7 208.7 227.1C207.1 226.5 205.0 224.8 203.8 223.4C202.6 222.0 201.8 220.0 201.7 218.5C201.6 217.0 202.3 215.6 203.2 214.3C204.1 213.0 205.9 210.9 206.9 210.6Z" fill="#000" stroke="#000" stroke-width="0.6" stroke-linejoin="round"/><path d="M274.5 187.4C275.6 186.8 277.8 187.1 278.8 188.0C279.8 188.9 280.4 190.9 280.6 192.9C280.8 194.9 280.6 197.8 280.0 200.2C279.4 202.6 278.7 206.0 277.0 207.6C275.3 209.2 271.9 209.1 269.7 210.0C267.5 210.9 265.4 212.1 263.6 213.0C261.8 213.9 260.3 215.3 258.7 215.5C257.1 215.7 254.5 214.8 253.8 214.3C253.1 213.8 253.0 213.0 254.4 212.4C255.8 211.8 260.3 211.8 262.3 210.6C264.3 209.4 265.4 207.0 266.6 205.1C267.8 203.2 268.8 201.2 269.7 199.0C270.6 196.8 271.3 193.6 272.1 191.7C272.9 189.8 273.4 188.0 274.5 187.4Z" fill="#000" stroke="#000" stroke-width="0.6" stroke-linejoin="round"/><path d="M292.8 166.1C293.6 166.3 295.5 167.7 295.9 169.1C296.3 170.5 296.0 173.2 295.3 174.6C294.6 176.0 293.0 177.0 291.6 177.7C290.2 178.4 288.2 177.9 286.7 178.9C285.2 179.9 283.9 183.2 282.5 183.8C281.1 184.4 278.6 183.6 278.2 182.6C277.8 181.6 279.0 179.1 280.0 177.7C281.0 176.3 282.7 174.8 284.3 174.0C285.9 173.2 288.7 173.8 289.8 172.8C290.9 171.8 290.5 169.0 291.0 167.9C291.5 166.8 292.0 165.9 292.8 166.1Z" fill="#000" stroke="#000" stroke-width="0.6" stroke-linejoin="round"/><path d="M117.0 186.2C117.3 185.1 118.7 184.2 120.0 183.8C121.3 183.4 123.6 183.2 124.9 183.8C126.2 184.4 127.7 185.9 128.0 187.4C128.3 188.9 127.7 190.9 127.0 192.9C126.3 194.9 124.7 199.2 123.7 199.6C122.8 200.0 122.2 196.9 121.3 195.4C120.4 193.9 118.9 192.0 118.2 190.5C117.5 189.0 116.7 187.3 117.0 186.2Z" fill="#000" stroke="#000" stroke-width="0.6" stroke-linejoin="round"/><path d="M109.9 226.5C110.5 225.9 114.1 225.9 115.8 225.2C117.5 224.5 119.0 222.5 120.0 222.4C121.0 222.3 122.1 223.3 121.9 224.6C121.7 225.9 119.7 229.0 118.8 230.1C117.9 231.2 117.5 231.5 116.4 231.3C115.3 231.1 113.2 229.7 112.1 228.9C111.0 228.1 109.3 227.1 109.9 226.5Z" fill="#000" stroke="#000" stroke-width="0.6" stroke-linejoin="round"/><path d="M145.6 28.4C145.5 27.3 147.0 25.6 148.1 25.6C149.2 25.6 150.6 28.1 152.3 28.4C154.0 28.6 156.4 26.9 158.4 27.1C160.4 27.3 162.8 29.1 164.5 29.6C166.2 30.1 168.8 29.5 168.8 30.2C168.8 30.9 166.0 32.9 164.5 33.8C163.0 34.7 161.5 35.6 159.7 35.7C157.9 35.8 155.4 35.1 153.6 34.5C151.8 33.9 150.0 33.0 148.7 32.0C147.4 31.0 145.7 29.5 145.6 28.4Z" fill="#000" stroke="#000" stroke-width="0.6" stroke-linejoin="round"/><path d="M179.4 19.2C179.7 18.6 181.3 17.0 182.2 16.8C183.1 16.6 184.6 17.6 184.7 18.0C184.8 18.4 183.5 19.1 182.8 19.5C182.1 19.9 181.0 20.2 180.4 20.2C179.8 20.1 179.1 19.8 179.4 19.2Z" fill="#000" stroke="#000" stroke-width="0.6" stroke-linejoin="round"/><path d="M173.3 37.3C173.2 36.8 174.4 37.1 174.9 37.7C175.4 38.4 176.4 40.7 176.5 41.2C176.6 41.7 175.8 41.5 175.3 40.9C174.8 40.2 173.4 37.8 173.3 37.3Z" fill="#000" stroke="#000" stroke-width="0.6" stroke-linejoin="round"/><ellipse cx="147.1" cy="212.2" rx="5.4" ry="4.2" fill="#000"/>
<g stroke="#808080" stroke-opacity="0.4" stroke-width="1" fill="none"><path d="M37.5 0V403.5"/><path d="M115.8 0V403.5"/><path d="M194.2 0V403.5"/><path d="M272.5 0V403.5"/><path d="M350.9 0V403.5"/><path d="M429.2 0V403.5"/><path d="M-5.0 21.0H508.2"/><path d="M-5.0 60.2H508.2"/><path d="M-5.0 99.5H508.2"/><path d="M-5.0 138.8H508.2"/><path d="M-5.0 178.0H508.2"/><path d="M-5.0 217.2H508.2"/><path d="M-5.0 256.5H508.2"/><path d="M-5.0 295.8H508.2"/><path d="M-5.0 335.0H508.2"/><path d="M-5.0 374.2H508.2"/></g>
</g>
<rect x="-3.0" y="0" width="511.2" height="403.5" fill="none" stroke="#3a3a3a" stroke-width="1.1"/>
</g>
<clipPath id="cpD"><rect x="0.0" y="0" width="508.2" height="403.5"/></clipPath>
<g transform="translate(826.2,58.3)">
<g clip-path="url(#cpD)">
<rect x="0.0" y="0" width="508.2" height="403.5" fill="#ffffcc"/>
<path fill="#fff9be" fill-rule="evenodd" d="M-8.5 409.5L-8.5 -5.5L514.5 -5.5L514.5 3.8L508.5 3.8L491.5 12.3L483.6 18.5L476.5 25.2L462.1 35.5L460.6 39.5L459.3 49.5L456.0 58.5L451.5 63.2L446.2 67.5L443.5 70.9L440.5 76.6L435.2 91.5L432.5 94.2L426.5 97.2L425.4 98.5L427.7 103.5L425.9 109.5L427.4 113.5L435.5 120.3L442.8 128.5L443.1 130.5L440.5 140.6L430.6 150.5L426.9 157.5L418.2 168.5L411.5 175.0L393.0 184.5L387.5 189.8L378.0 197.5L362.5 207.8L338.5 216.1L324.5 219.3L319.5 219.9L312.5 223.5L308.5 226.5L303.4 235.5L301.5 242.5L296.8 253.5L294.1 257.5L289.5 262.6L278.5 273.0L261.4 285.5L257.5 291.0L249.5 304.5L238.3 316.5L235.3 318.5L232.5 321.4L217.5 331.9L213.5 334.0L204.2 340.5L202.0 345.5L198.0 350.5L188.8 367.5L184.5 372.8L182.9 377.5L176.8 388.5L172.2 403.5L172.2 409.5Z"/><path fill="#ffeda0" fill-rule="evenodd" d="M-8.5 409.5L-8.5 -5.5L514.5 -5.5L514.5 2.5L508.5 2.5L490.5 11.5L482.9 17.5L476.5 23.5L461.1 34.5L459.2 38.5L457.3 48.5L454.0 57.5L442.6 68.5L439.2 73.5L434.5 82.8L428.9 90.5L417.5 97.4L414.9 100.5L414.2 103.5L417.6 109.5L418.5 115.5L421.1 119.5L424.9 123.5L427.8 128.5L429.8 134.5L430.2 137.5L429.5 141.5L426.3 145.5L419.1 161.5L413.5 169.4L408.8 173.5L390.5 183.2L385.0 188.5L379.5 192.3L376.3 195.5L370.5 199.8L365.5 201.9L360.5 206.1L337.5 214.2L318.5 218.5L304.8 224.5L300.5 227.5L297.2 231.5L295.1 236.5L291.4 241.5L290.7 251.5L289.5 256.6L288.3 258.5L285.0 261.5L279.0 269.5L275.8 272.5L259.9 284.5L246.5 303.6L243.1 307.5L235.5 314.3L231.5 316.8L226.5 321.4L221.5 324.2L214.7 329.5L209.5 331.9L197.5 339.4L193.3 344.5L186.8 355.5L183.8 359.5L181.0 365.5L178.2 369.5L169.4 387.5L164.4 402.5L164.3 409.5Z"/><path fill="#fee084" fill-rule="evenodd" d="M-8.5 409.5L-8.5 -5.5L514.5 -5.5L514.5 1.7L508.5 1.7L490.6 10.5L482.5 16.6L476.1 22.5L460.5 33.5L457.8 38.5L454.8 48.5L449.7 56.5L435.5 68.4L429.5 77.5L421.5 86.2L414.5 91.9L408.5 95.8L405.0 99.5L404.5 101.5L405.2 103.5L410.5 108.2L411.3 109.5L410.1 113.5L410.3 115.5L420.1 127.5L421.9 135.5L421.5 139.7L420.5 142.5L416.4 148.5L407.5 163.6L402.0 171.5L396.5 175.8L391.5 178.0L384.4 182.5L381.2 185.5L371.5 190.5L349.5 206.0L333.5 213.4L318.5 216.9L304.5 221.2L297.5 223.9L292.5 225.1L289.9 226.5L288.2 229.5L284.5 242.5L282.2 254.5L278.6 261.5L274.7 266.5L272.1 271.5L258.6 283.5L247.2 296.5L240.5 305.4L233.5 311.4L221.5 318.9L216.5 323.8L205.5 330.1L200.5 332.4L191.5 338.4L187.9 342.5L173.1 366.5L169.0 374.5L166.2 378.5L165.3 382.5L161.4 389.5L158.1 403.5L158.1 409.5Z"/><path fill="#fecc68" fill-rule="evenodd" d="M-8.5 409.5L-8.5 -5.5L514.5 -5.5L514.5 1.0L508.5 1.0L490.5 9.7L481.1 16.5L475.5 21.4L459.6 32.5L443.1 54.5L428.5 67.9L415.3 83.5L400.5 94.1L393.5 98.3L392.9 101.5L394.0 103.5L401.5 108.1L402.9 109.5L403.4 114.5L406.0 119.5L411.6 126.5L414.4 134.5L414.9 137.5L413.9 140.5L408.3 147.5L403.5 152.5L398.2 156.5L394.6 161.5L391.5 163.4L388.5 166.6L371.5 177.9L366.5 180.1L351.1 190.5L346.5 192.9L337.5 200.3L333.5 201.8L328.9 204.5L324.0 208.5L320.8 212.5L318.5 214.4L313.5 216.5L294.5 221.2L280.5 226.5L279.4 228.5L279.0 233.5L276.0 241.5L275.8 246.5L273.7 256.5L266.4 270.5L261.0 277.5L243.8 294.5L233.3 307.5L220.5 315.5L215.5 319.7L212.5 321.0L207.5 324.8L197.5 330.5L183.6 340.5L180.5 345.1L177.3 352.5L168.5 365.4L164.9 369.5L155.3 390.5L153.5 397.5L153.3 409.5Z"/><path fill="#feb24c" fill-rule="evenodd" d="M-8.5 409.5L-8.5 -5.5L507.8 -5.5L507.8 0.5L489.5 9.4L465.7 24.5L453.9 33.5L440.5 48.7L434.5 57.0L426.5 64.2L419.4 69.5L412.0 80.5L387.5 91.7L381.5 96.9L380.1 99.5L380.5 102.5L381.5 103.7L387.5 107.1L393.4 109.5L397.4 117.5L403.8 126.5L406.2 136.5L406.1 138.5L405.3 140.5L397.5 148.4L390.5 152.4L384.5 155.0L380.5 158.1L375.7 160.5L370.5 165.6L365.5 168.3L360.5 173.1L334.5 181.1L323.5 186.9L317.5 191.9L314.5 193.6L312.5 196.0L309.1 203.5L308.1 212.5L306.9 214.5L300.5 217.5L281.5 222.6L274.5 226.7L272.2 231.5L271.4 238.5L270.0 244.5L269.5 255.5L264.9 262.5L258.3 274.5L252.5 280.3L250.0 284.5L244.5 288.7L232.1 301.5L227.5 307.4L221.5 310.4L216.5 314.0L209.5 317.0L196.5 326.6L189.5 332.5L182.5 336.6L177.1 342.5L173.5 349.5L168.9 354.5L165.9 360.5L161.3 366.5L155.5 377.3L147.4 399.5L147.4 409.5Z"/><path fill="#fd9941" fill-rule="evenodd" d="M-8.5 409.5L-8.5 -5.5L505.9 -5.5L505.9 0.5L475.1 15.5L467.5 20.1L462.3 22.5L457.5 26.7L450.6 31.5L438.4 44.5L432.8 53.5L425.5 60.7L420.5 64.7L414.4 68.5L409.5 74.9L404.5 79.9L395.5 82.6L384.5 84.3L376.5 87.7L372.5 88.1L358.5 91.3L341.8 98.5L340.9 100.5L341.5 102.9L349.5 108.0L361.5 111.5L366.5 111.6L375.5 112.8L380.5 114.2L384.5 114.3L387.5 115.9L389.2 117.5L395.5 126.5L397.7 128.5L398.2 131.5L396.5 138.8L394.5 140.5L390.5 141.2L381.5 144.0L365.5 147.3L359.5 149.3L358.4 151.5L358.4 159.5L357.6 161.5L344.6 171.5L332.5 176.1L316.5 180.8L308.5 183.9L298.0 193.5L296.5 196.2L295.3 201.5L294.9 213.5L293.6 215.5L270.5 222.1L264.5 226.3L263.1 229.5L260.6 242.5L260.6 256.5L258.5 260.5L257.3 264.5L254.7 268.5L253.1 272.5L248.8 276.5L247.2 279.5L243.1 284.5L228.5 296.1L218.2 305.5L214.5 308.1L210.5 309.7L206.5 312.6L198.5 316.8L191.5 322.5L183.5 331.4L177.5 336.3L172.4 341.5L168.2 347.5L164.8 350.5L158.5 359.6L156.8 363.5L150.9 371.5L149.4 374.5L141.2 398.5L140.1 403.5L140.1 409.5Z"/><path fill="#fd7836" fill-rule="evenodd" d="M-8.5 409.5L-8.5 -5.5L503.5 -5.5L503.5 0.5L485.5 8.6L474.5 12.6L465.5 17.8L459.5 20.4L454.8 23.5L445.5 31.2L441.5 33.6L427.5 51.5L418.5 60.8L416.2 62.5L409.5 65.9L404.5 69.9L400.1 72.5L397.2 75.5L392.5 78.8L381.5 81.7L376.5 81.1L366.5 77.9L361.5 73.3L354.5 69.8L347.5 68.4L340.5 72.8L328.5 78.7L318.5 82.5L311.5 84.3L307.5 86.2L301.5 87.4L297.5 87.6L286.5 93.8L286.0 95.5L290.2 100.5L295.6 110.5L294.8 118.5L295.5 120.0L299.5 123.6L304.5 127.0L307.5 127.4L313.5 125.8L317.5 126.2L319.0 127.5L317.5 136.1L312.7 144.5L314.0 154.5L311.8 160.5L309.5 162.7L302.5 164.3L300.5 164.0L292.5 160.7L286.9 162.5L285.6 163.5L284.2 169.5L284.2 190.5L283.0 196.5L282.9 200.5L278.5 209.1L277.1 210.5L270.5 214.2L259.5 217.3L250.5 214.7L245.5 214.7L241.5 213.7L235.5 214.5L232.5 215.8L221.9 224.5L213.5 240.5L211.7 247.5L212.7 250.5L216.1 255.5L219.2 263.5L219.7 267.5L222.8 273.5L223.1 275.5L222.1 278.5L219.5 281.6L212.5 284.8L206.5 292.2L198.5 296.1L196.6 298.5L191.9 307.5L182.7 314.5L179.5 316.3L176.1 319.5L174.2 322.5L173.3 327.5L171.6 331.5L169.5 333.8L162.2 339.5L157.0 347.5L146.5 360.6L135.9 377.5L129.3 391.5L127.8 400.5L127.8 409.5ZM376.5 121.9L378.5 122.0L380.4 123.5L381.5 126.5L381.5 129.5L380.5 132.5L379.5 133.5L375.5 134.1L373.5 133.0L372.5 131.6L372.0 128.5L373.5 124.5Z"/><path fill="#fc4d2a" fill-rule="evenodd" d="M-8.5 -5.5L230.8 -5.5L230.8 0.5L229.3 4.5L227.5 12.5L227.6 14.5L229.2 20.5L229.1 28.5L228.2 33.5L230.0 36.5L237.5 44.3L238.8 50.5L238.0 52.5L227.9 63.5L227.1 66.5L230.6 74.5L230.7 76.5L229.7 81.5L230.1 86.5L231.6 88.5L241.7 97.5L242.8 99.5L242.8 101.5L242.2 103.5L240.8 105.5L233.2 112.5L230.9 116.5L228.4 123.5L222.4 130.5L221.4 133.5L222.5 136.1L225.5 140.3L229.5 141.9L235.5 143.2L237.5 144.5L240.6 149.5L242.5 154.5L242.2 162.5L238.1 169.5L236.5 171.2L224.9 178.5L215.8 183.5L212.8 188.5L209.5 192.6L205.1 200.5L200.5 205.8L185.8 219.5L182.5 224.5L181.8 226.5L181.4 231.5L182.0 234.5L184.0 237.5L189.0 242.5L193.0 248.5L196.6 259.5L197.3 264.5L196.2 271.5L192.5 275.4L188.5 281.2L182.9 284.5L176.6 290.5L172.4 295.5L162.5 301.8L156.5 304.5L154.4 306.5L153.0 311.5L154.5 317.5L156.5 321.3L161.2 325.5L162.7 332.5L162.3 334.5L154.7 346.5L151.5 349.6L148.5 351.3L131.5 354.0L125.5 356.1L123.5 357.8L118.8 363.5L117.2 367.5L114.0 380.5L113.9 384.5L115.2 393.5L114.0 400.5L114.0 409.5L-8.5 409.5ZM414.9 45.5L409.1 29.5L411.6 18.5L413.9 13.5L417.5 9.2L418.7 6.5L418.4 -5.5L483.4 -5.5L483.4 0.5L474.5 7.9L467.5 11.6L451.5 21.6L445.5 27.1L440.5 29.6L436.5 32.8L428.5 37.4L426.3 40.5L426.0 44.5L424.5 46.9L421.5 48.8L419.5 49.0L417.5 48.2ZM204.5 221.7L205.4 222.5L205.6 223.5L204.8 230.5L201.5 237.1L199.9 238.5L198.5 238.6L197.1 236.5L197.8 230.5L201.2 223.5L202.5 222.3Z"/><path fill="#eb2b21" fill-rule="evenodd" d="M-8.5 -5.5L136.0 -5.5L136.0 9.5L137.6 17.5L152.5 25.4L156.5 26.6L170.5 32.9L174.5 38.3L177.7 41.5L180.5 46.5L182.8 49.5L185.9 59.5L188.9 63.5L188.7 66.5L186.5 69.8L183.5 70.7L174.5 71.2L172.5 72.5L172.0 77.5L170.5 82.9L167.6 85.5L156.5 93.0L152.3 98.5L148.2 110.5L147.4 115.5L147.8 117.5L152.2 122.5L153.8 125.5L160.5 135.1L169.5 140.2L172.5 142.9L175.5 146.8L179.5 149.7L181.3 152.5L186.3 162.5L189.4 173.5L189.0 177.5L187.0 184.5L188.9 190.5L188.8 192.5L188.1 193.5L172.5 198.8L167.5 197.5L154.5 195.8L150.5 193.7L146.5 192.9L142.5 191.1L128.5 182.9L121.5 176.5L118.7 172.5L111.5 164.9L106.5 162.7L104.5 162.4L97.9 167.5L96.3 169.5L96.3 172.5L99.4 181.5L100.8 184.5L104.6 189.5L105.4 192.5L108.6 198.5L110.0 203.5L112.8 208.5L113.4 213.5L112.2 220.5L110.4 226.5L110.9 228.5L113.5 230.1L118.5 231.7L128.5 231.6L135.3 228.5L143.5 222.6L147.5 220.8L150.5 220.8L152.0 222.5L152.9 227.5L152.7 233.5L151.1 237.5L151.5 240.2L153.5 241.5L162.5 245.2L166.5 246.1L167.6 247.5L168.1 250.5L167.4 255.5L167.8 261.5L166.9 267.5L165.4 271.5L163.5 273.1L156.5 276.6L144.4 287.5L139.5 290.8L138.0 292.5L135.7 297.5L130.5 300.6L128.3 303.5L128.2 305.5L131.5 315.5L133.9 320.5L138.1 325.5L137.9 328.5L135.5 333.5L129.5 340.0L122.5 344.0L120.5 344.1L117.5 343.2L111.5 342.8L109.5 343.5L97.5 351.8L89.8 361.5L89.4 364.5L91.4 371.5L92.5 373.1L96.6 376.5L98.1 382.5L98.2 388.5L94.3 398.5L93.4 403.5L93.4 409.5L-8.5 409.5ZM123.5 13.8L120.5 14.9L114.9 20.5L112.8 23.5L112.1 25.5L112.4 30.5L111.6 37.5L112.3 40.5L116.1 48.5L119.5 50.4L124.5 51.0L129.5 48.7L130.8 47.5L135.5 38.2L137.0 33.5L137.1 29.5L135.0 20.5L133.5 17.9L129.5 14.6Z"/><path fill="#d6111f" fill-rule="evenodd" d="M-8.5 -5.5L38.0 -5.5L38.0 0.5L39.7 10.5L39.7 14.5L40.9 17.5L42.6 28.5L41.5 30.5L39.5 32.3L32.6 36.5L32.0 38.5L35.5 45.2L37.7 47.5L40.1 51.5L46.7 58.5L49.3 63.5L53.5 69.1L58.5 70.9L65.5 75.6L68.9 78.5L73.5 81.1L75.5 80.7L80.5 78.0L83.5 78.4L89.5 80.5L91.5 80.6L99.5 77.9L115.5 74.4L120.5 75.3L121.6 76.5L121.2 79.5L118.5 86.1L114.5 91.6L110.5 95.8L100.5 102.5L93.5 106.2L89.9 111.5L86.9 117.5L86.4 123.5L87.0 125.5L89.5 126.7L95.5 127.0L97.5 127.8L98.6 129.5L97.5 133.1L95.5 134.4L87.5 137.6L82.5 137.4L69.5 139.3L62.5 145.3L61.1 147.5L58.1 155.5L56.5 162.7L55.5 163.8L51.5 165.1L47.5 167.2L42.5 174.5L36.9 189.5L36.4 193.5L35.1 196.5L35.4 198.5L37.4 202.5L39.6 209.5L39.8 215.5L44.5 222.9L49.5 226.6L54.5 228.8L62.5 228.1L73.5 224.6L75.5 224.9L78.1 227.5L79.6 230.5L79.1 232.5L76.2 235.5L76.3 236.5L83.5 239.2L90.5 238.9L96.5 237.6L102.5 235.5L104.5 236.0L109.3 241.5L114.9 250.5L120.1 261.5L120.5 263.5L118.7 273.5L117.5 275.0L114.5 277.1L110.7 284.5L107.1 297.5L103.7 304.5L102.9 310.5L104.1 314.5L104.0 317.5L98.9 328.5L96.5 331.2L87.5 337.0L80.5 343.3L76.5 345.5L75.0 347.5L72.3 353.5L64.4 362.5L51.5 372.9L47.5 375.0L44.4 378.5L43.4 380.5L43.1 383.5L41.0 389.5L37.3 392.5L36.3 394.5L36.1 409.5L-8.5 409.5Z"/>

<rect x="0" y="402.3" width="195" height="1.3" fill="#fff"/>
<path d="M509.3 0.0C506.0 1.8 499.8 4.0 496.2 5.7C492.6 7.4 490.7 7.3 487.5 10.1C484.3 12.8 480.6 18.6 477.2 22.2C473.8 25.8 470.0 29.0 466.8 31.7C463.6 34.4 459.6 35.6 458.2 38.6C456.8 41.6 459.2 46.5 458.6 49.8C458.0 53.1 457.4 54.6 454.7 58.4C452.0 62.1 445.5 68.3 442.6 72.3C439.7 76.3 438.5 78.6 437.4 82.6C436.2 86.6 435.8 92.5 435.7 96.5C435.6 100.5 436.9 103.9 436.6 106.8C436.3 109.7 433.3 111.8 434.0 113.7C434.7 115.6 439.2 116.4 440.9 118.0C442.6 119.6 444.1 120.5 444.3 123.2C444.5 126.0 443.5 130.6 441.8 134.5C440.1 138.4 436.8 142.9 434.0 146.6C431.2 150.3 428.2 153.0 425.3 156.9C422.4 160.8 419.9 166.3 416.7 169.9C413.5 173.5 409.3 176.5 406.3 178.5C403.3 180.5 401.9 180.0 398.9 181.7C395.9 183.4 392.5 185.4 388.5 188.6C384.5 191.8 380.4 197.1 374.7 200.7C368.9 204.3 361.5 207.6 354.0 210.2C346.5 212.8 336.1 214.9 329.8 216.3C323.5 217.7 319.2 217.4 316.0 218.8C312.8 220.2 312.8 222.7 310.8 224.9C308.8 227.1 306.2 228.1 303.9 231.8C301.6 235.6 299.0 242.2 297.0 247.4C295.0 252.6 293.8 259.2 291.8 262.9C289.8 266.6 288.4 267.4 284.9 269.8C281.4 272.2 275.9 274.9 271.0 277.6C266.1 280.3 258.5 283.5 255.5 286.2C252.5 288.9 254.3 290.7 252.9 294.0C251.5 297.3 248.8 301.8 246.9 306.1C245.0 310.4 242.9 315.9 241.7 319.9C240.5 323.9 240.0 326.9 239.6 330.3C239.2 333.8 239.9 337.3 239.1 340.6C238.3 343.9 237.0 347.6 234.8 350.2C232.6 352.8 229.0 353.5 226.1 356.2C223.2 358.9 220.4 363.6 217.5 366.6C214.6 369.6 211.2 372.6 208.9 374.3C206.6 376.0 205.7 375.1 203.5 377.0C201.3 378.9 197.0 383.9 196.0 385.5C195.0 387.1 196.3 387.2 197.5 386.5C198.7 385.8 202.6 381.1 203.0 381.5C203.4 381.9 201.8 386.0 200.2 389.0C198.6 392.0 194.9 396.8 193.3 399.4C191.7 402.0 191.9 400.2 190.7 404.5C189.5 408.8 124.4 421.6 186.0 425.0C247.6 428.4 497.7 500.0 560.0 425.0C622.3 350.0 567.3 46.7 560.0 -25.0C552.7 -96.7 524.5 -9.2 516.0 -5.0C507.6 -0.8 512.6 -1.8 509.3 0.0Z" fill="#000"/><path d="M159.3 202.7C160.2 202.0 163.5 202.1 166.0 201.5C168.5 200.9 172.1 200.0 174.5 199.0C176.9 198.0 178.2 196.2 180.6 195.4C183.0 194.6 187.5 194.0 189.2 193.9C190.9 193.8 191.2 194.2 190.6 195.1C190.0 195.9 187.1 197.5 185.5 199.0C183.9 200.5 182.3 202.1 181.3 203.9C180.3 205.7 180.5 208.1 179.4 210.0C178.3 211.9 176.1 214.3 174.5 215.5C172.9 216.7 171.0 217.2 169.7 217.1C168.4 217.0 167.6 216.1 166.6 214.9C165.6 213.7 164.6 211.5 163.6 210.0C162.6 208.5 161.2 206.9 160.5 205.7C159.8 204.5 158.4 203.4 159.3 202.7Z" fill="#000" stroke="#000" stroke-width="0.6" stroke-linejoin="round"/><path d="M206.9 210.6C207.9 210.2 208.1 212.0 209.0 212.2C209.9 212.4 211.1 211.8 212.3 211.8C213.5 211.8 215.0 212.3 216.0 212.0C217.0 211.7 217.9 209.5 218.4 210.0C218.9 210.5 218.8 213.3 219.1 214.9C219.4 216.5 220.4 218.2 220.3 219.7C220.2 221.2 219.5 222.8 218.4 224.0C217.3 225.2 215.2 226.6 213.6 227.1C212.0 227.6 210.3 227.7 208.7 227.1C207.1 226.5 205.0 224.8 203.8 223.4C202.6 222.0 201.8 220.0 201.7 218.5C201.6 217.0 202.3 215.6 203.2 214.3C204.1 213.0 205.9 210.9 206.9 210.6Z" fill="#000" stroke="#000" stroke-width="0.6" stroke-linejoin="round"/><path d="M274.5 187.4C275.6 186.8 277.8 187.1 278.8 188.0C279.8 188.9 280.4 190.9 280.6 192.9C280.8 194.9 280.6 197.8 280.0 200.2C279.4 202.6 278.7 206.0 277.0 207.6C275.3 209.2 271.9 209.1 269.7 210.0C267.5 210.9 265.4 212.1 263.6 213.0C261.8 213.9 260.3 215.3 258.7 215.5C257.1 215.7 254.5 214.8 253.8 214.3C253.1 213.8 253.0 213.0 254.4 212.4C255.8 211.8 260.3 211.8 262.3 210.6C264.3 209.4 265.4 207.0 266.6 205.1C267.8 203.2 268.8 201.2 269.7 199.0C270.6 196.8 271.3 193.6 272.1 191.7C272.9 189.8 273.4 188.0 274.5 187.4Z" fill="#000" stroke="#000" stroke-width="0.6" stroke-linejoin="round"/><path d="M292.8 166.1C293.6 166.3 295.5 167.7 295.9 169.1C296.3 170.5 296.0 173.2 295.3 174.6C294.6 176.0 293.0 177.0 291.6 177.7C290.2 178.4 288.2 177.9 286.7 178.9C285.2 179.9 283.9 183.2 282.5 183.8C281.1 184.4 278.6 183.6 278.2 182.6C277.8 181.6 279.0 179.1 280.0 177.7C281.0 176.3 282.7 174.8 284.3 174.0C285.9 173.2 288.7 173.8 289.8 172.8C290.9 171.8 290.5 169.0 291.0 167.9C291.5 166.8 292.0 165.9 292.8 166.1Z" fill="#000" stroke="#000" stroke-width="0.6" stroke-linejoin="round"/><path d="M117.0 186.2C117.3 185.1 118.7 184.2 120.0 183.8C121.3 183.4 123.6 183.2 124.9 183.8C126.2 184.4 127.7 185.9 128.0 187.4C128.3 188.9 127.7 190.9 127.0 192.9C126.3 194.9 124.7 199.2 123.7 199.6C122.8 200.0 122.2 196.9 121.3 195.4C120.4 193.9 118.9 192.0 118.2 190.5C117.5 189.0 116.7 187.3 117.0 186.2Z" fill="#000" stroke="#000" stroke-width="0.6" stroke-linejoin="round"/><path d="M109.9 226.5C110.5 225.9 114.1 225.9 115.8 225.2C117.5 224.5 119.0 222.5 120.0 222.4C121.0 222.3 122.1 223.3 121.9 224.6C121.7 225.9 119.7 229.0 118.8 230.1C117.9 231.2 117.5 231.5 116.4 231.3C115.3 231.1 113.2 229.7 112.1 228.9C111.0 228.1 109.3 227.1 109.9 226.5Z" fill="#000" stroke="#000" stroke-width="0.6" stroke-linejoin="round"/><path d="M145.6 28.4C145.5 27.3 147.0 25.6 148.1 25.6C149.2 25.6 150.6 28.1 152.3 28.4C154.0 28.6 156.4 26.9 158.4 27.1C160.4 27.3 162.8 29.1 164.5 29.6C166.2 30.1 168.8 29.5 168.8 30.2C168.8 30.9 166.0 32.9 164.5 33.8C163.0 34.7 161.5 35.6 159.7 35.7C157.9 35.8 155.4 35.1 153.6 34.5C151.8 33.9 150.0 33.0 148.7 32.0C147.4 31.0 145.7 29.5 145.6 28.4Z" fill="#000" stroke="#000" stroke-width="0.6" stroke-linejoin="round"/><path d="M179.4 19.2C179.7 18.6 181.3 17.0 182.2 16.8C183.1 16.6 184.6 17.6 184.7 18.0C184.8 18.4 183.5 19.1 182.8 19.5C182.1 19.9 181.0 20.2 180.4 20.2C179.8 20.1 179.1 19.8 179.4 19.2Z" fill="#000" stroke="#000" stroke-width="0.6" stroke-linejoin="round"/><path d="M173.3 37.3C173.2 36.8 174.4 37.1 174.9 37.7C175.4 38.4 176.4 40.7 176.5 41.2C176.6 41.7 175.8 41.5 175.3 40.9C174.8 40.2 173.4 37.8 173.3 37.3Z" fill="#000" stroke="#000" stroke-width="0.6" stroke-linejoin="round"/><ellipse cx="147.1" cy="212.2" rx="5.4" ry="4.2" fill="#000"/>
<g stroke="#808080" stroke-opacity="0.4" stroke-width="1" fill="none"><path d="M38.5 0V403.5"/><path d="M116.8 0V403.5"/><path d="M195.2 0V403.5"/><path d="M273.5 0V403.5"/><path d="M351.9 0V403.5"/><path d="M430.2 0V403.5"/><path d="M-5.0 21.0H508.2"/><path d="M-5.0 60.2H508.2"/><path d="M-5.0 99.5H508.2"/><path d="M-5.0 138.8H508.2"/><path d="M-5.0 178.0H508.2"/><path d="M-5.0 217.2H508.2"/><path d="M-5.0 256.5H508.2"/><path d="M-5.0 295.8H508.2"/><path d="M-5.0 335.0H508.2"/><path d="M-5.0 374.2H508.2"/></g>
</g>
<rect x="0.0" y="0" width="508.2" height="403.5" fill="none" stroke="#3a3a3a" stroke-width="1.1"/>
</g>
<clipPath id="cpE"><rect x="0.0" y="0" width="508.2" height="403.5"/></clipPath>
<g transform="translate(826.2,525.4)">
<g clip-path="url(#cpE)">
<rect x="0.0" y="0" width="508.2" height="403.5" fill="#ffffcc"/>
<path fill="#fff9be" fill-rule="evenodd" d="M-8.5 409.5L-8.5 -5.5L478.9 -5.5L478.7 1.5L475.1 15.5L472.0 23.5L465.1 36.5L458.6 45.5L452.5 52.5L437.5 66.9L423.5 76.5L400.5 87.9L398.5 90.0L396.0 94.5L395.6 96.5L396.2 98.5L400.5 103.8L403.5 110.5L405.3 117.5L405.4 121.5L406.5 125.5L407.5 134.5L408.6 139.5L408.7 143.5L406.9 150.5L401.6 158.5L395.5 162.4L363.5 178.1L342.5 186.4L334.5 190.6L332.4 192.5L331.6 194.5L332.5 195.8L340.5 200.2L340.9 201.5L340.4 202.5L331.8 207.5L323.5 210.6L313.3 216.5L307.5 218.9L300.5 223.5L297.8 226.5L294.5 232.5L288.3 240.5L284.0 243.5L273.5 253.5L269.9 255.5L266.7 259.5L259.5 263.3L255.5 266.9L246.5 270.8L209.5 293.7L202.5 296.9L191.5 300.7L175.5 304.8L173.5 306.4L168.1 325.5L165.9 338.5L157.0 353.5L154.0 360.5L151.9 373.5L151.7 391.5L149.6 402.5L149.6 409.5Z"/><path fill="#ffeda0" fill-rule="evenodd" d="M-8.5 409.5L-8.5 -5.5L477.2 -5.5L477.2 0.5L473.7 14.5L470.7 22.5L463.4 36.5L452.4 50.5L437.5 64.7L426.3 72.5L421.5 75.4L398.5 85.9L391.4 94.5L390.6 97.5L390.9 100.5L392.5 103.3L396.5 107.0L399.5 112.5L402.6 123.5L405.9 140.5L405.9 143.5L404.4 148.5L399.2 156.5L393.0 160.5L379.5 167.1L372.5 171.5L363.5 175.9L341.5 184.3L331.5 189.5L329.1 191.5L327.5 194.5L327.3 197.5L328.6 201.5L326.9 203.5L324.5 205.0L319.5 205.8L315.5 207.9L310.5 209.6L303.5 213.9L299.5 215.3L296.5 217.1L292.1 221.5L288.8 228.5L285.5 233.4L275.5 241.6L271.5 245.9L266.5 247.6L258.5 256.1L252.5 258.8L249.1 261.5L244.5 264.0L234.5 273.6L227.5 277.5L219.5 283.6L216.5 286.6L202.3 294.5L185.0 300.5L174.5 303.0L172.4 304.5L169.5 311.5L165.5 325.5L163.2 337.5L156.8 348.5L151.7 359.5L149.6 373.5L149.1 391.5L147.4 401.5L147.3 409.5Z"/><path fill="#fee084" fill-rule="evenodd" d="M-8.5 409.5L-8.5 -5.5L475.5 -5.5L475.0 3.5L472.2 14.5L469.5 21.9L461.8 36.5L450.5 50.8L437.5 62.5L421.5 72.9L394.5 83.7L388.5 88.1L383.4 94.5L381.6 99.5L381.8 103.5L382.5 104.8L386.5 106.7L390.2 110.5L392.1 114.5L395.6 119.5L401.8 138.5L402.1 142.5L401.4 145.5L396.5 153.7L388.5 159.2L379.5 163.5L371.5 169.4L362.5 173.9L341.5 181.5L324.5 188.9L319.2 194.5L317.9 198.5L316.5 199.5L310.5 201.8L304.5 203.0L296.7 207.5L290.5 209.3L287.9 212.5L284.5 219.5L281.5 222.0L275.0 230.5L271.5 233.7L266.5 236.3L263.5 240.5L260.5 242.5L256.5 247.0L248.5 250.6L245.5 254.0L240.7 257.5L237.5 261.6L234.5 263.5L231.5 266.8L225.5 271.8L222.5 275.8L218.6 278.5L213.5 284.1L201.5 291.6L195.5 294.4L183.5 298.6L173.5 301.2L170.6 303.5L166.5 311.5L162.4 324.5L160.8 332.5L158.6 339.5L153.9 347.5L148.9 358.5L148.4 365.5L147.1 372.5L146.5 388.5L144.6 400.5L144.4 409.5Z"/><path fill="#fecc68" fill-rule="evenodd" d="M-8.5 409.5L-8.5 -5.5L473.9 -5.5L473.4 3.5L471.0 13.5L468.1 21.5L458.9 38.5L448.5 51.0L436.5 61.2L421.5 70.3L408.5 75.5L392.5 80.4L387.5 82.7L383.5 85.4L378.5 87.5L375.7 90.5L375.1 95.5L373.7 99.5L375.1 106.5L374.6 109.5L375.2 111.5L376.5 112.5L381.5 113.3L385.5 116.5L394.9 130.5L398.0 138.5L398.2 142.5L393.5 151.2L388.5 155.1L377.5 160.8L369.8 167.5L362.5 171.1L350.5 176.1L343.5 177.9L324.5 184.4L319.5 187.6L314.5 189.8L308.5 194.7L298.5 198.5L294.5 198.6L291.2 199.5L284.7 202.5L279.8 208.5L279.4 209.5L279.7 213.5L276.5 215.7L273.5 220.7L271.5 222.3L267.5 223.5L265.5 224.7L260.4 231.5L253.5 237.5L247.5 239.4L241.1 244.5L236.7 251.5L228.5 256.9L219.5 270.8L207.1 284.5L199.5 289.6L194.5 292.1L184.5 295.9L172.5 299.4L167.9 303.5L163.4 311.5L159.3 322.5L157.2 332.5L154.7 339.5L150.1 348.5L145.9 358.5L144.1 373.5L143.7 387.5L142.4 391.5L141.0 403.5L141.0 409.5Z"/><path fill="#feb24c" fill-rule="evenodd" d="M-8.5 409.5L-8.5 -5.5L472.3 -5.5L472.0 2.5L469.7 12.5L466.6 21.5L458.0 37.5L447.1 50.5L435.5 59.8L421.5 67.9L407.5 72.9L397.5 75.7L389.5 77.4L384.5 77.9L374.5 82.6L369.3 88.5L367.6 93.5L366.1 102.5L365.8 108.5L366.9 115.5L368.2 118.5L369.5 119.8L374.5 121.0L378.5 123.0L381.5 123.5L383.5 124.4L388.8 129.5L391.1 132.5L393.5 137.5L393.9 141.5L390.8 148.5L389.3 150.5L375.2 158.5L367.5 166.1L350.5 173.5L319.5 181.9L315.3 182.5L308.1 185.5L304.5 188.2L296.5 189.2L279.7 193.5L277.2 196.5L273.1 205.5L270.5 208.7L267.5 211.1L265.5 213.9L261.5 217.3L256.5 224.4L251.5 226.8L248.2 230.5L240.6 234.5L233.0 241.5L229.6 246.5L223.5 251.6L222.3 253.5L221.0 258.5L217.9 262.5L214.1 269.5L207.5 279.5L205.6 281.5L195.5 289.0L182.5 294.2L171.5 297.5L168.8 299.5L165.0 303.5L161.3 309.5L157.3 318.5L153.3 333.5L149.5 343.5L146.7 348.5L143.1 357.5L141.7 368.5L140.6 386.5L137.8 402.5L137.7 409.5Z"/><path fill="#fd9941" fill-rule="evenodd" d="M-8.5 409.5L-8.5 -5.5L470.7 -5.5L470.5 1.5L467.5 14.1L464.6 21.5L456.0 37.5L445.7 49.5L431.0 60.5L420.5 65.7L402.5 71.5L398.5 71.8L395.5 72.9L390.5 73.1L373.5 76.2L366.9 80.5L364.2 84.5L361.2 92.5L360.1 102.5L358.4 107.5L361.5 125.7L362.5 127.3L363.5 127.7L378.5 127.7L382.9 129.5L387.5 134.4L390.2 139.5L390.3 141.5L389.6 143.5L386.5 148.2L382.5 151.3L373.5 156.0L366.5 163.9L351.5 170.5L333.5 175.6L316.5 178.5L305.5 178.9L298.5 181.7L292.5 182.1L288.5 183.7L281.5 184.8L272.5 189.1L270.3 191.5L263.0 207.5L246.9 220.5L243.5 224.0L236.5 226.8L232.8 230.5L225.1 240.5L219.5 246.7L215.9 253.5L211.9 264.5L204.4 278.5L195.4 286.5L181.3 292.5L170.5 295.7L167.5 297.6L161.6 303.5L154.5 317.5L151.6 328.5L147.5 340.7L140.0 356.5L139.8 363.5L138.9 368.5L138.8 375.5L137.8 380.5L137.8 384.5L136.6 393.5L134.7 402.5L134.7 409.5Z"/><path fill="#fd7836" fill-rule="evenodd" d="M-8.5 409.5L-8.5 -5.5L468.6 -5.5L468.6 0.5L464.5 14.4L456.9 30.5L452.6 37.5L448.4 41.5L445.5 45.3L439.8 49.5L435.6 53.5L431.5 56.2L424.5 59.7L411.5 63.4L397.5 65.8L385.5 66.3L379.5 65.8L358.5 66.1L350.5 68.4L347.3 70.5L346.6 72.5L347.5 76.5L347.8 84.5L349.9 94.5L349.6 101.5L351.0 106.5L351.1 111.5L349.1 122.5L349.0 126.5L346.0 137.5L345.1 143.5L342.5 150.5L337.5 158.9L330.5 164.1L325.5 166.6L306.5 171.9L301.5 172.3L281.5 178.0L278.5 179.3L269.8 185.5L265.5 191.3L261.5 195.7L256.5 203.7L250.5 207.4L245.5 209.1L240.5 211.9L229.5 216.4L221.5 222.3L216.5 229.0L206.5 234.1L202.4 242.5L203.0 246.5L205.1 252.5L205.1 256.5L205.8 260.5L202.7 271.5L193.4 280.5L184.5 285.3L179.5 286.9L174.5 286.7L170.5 287.5L163.5 291.1L158.8 295.5L155.0 302.5L150.7 315.5L148.0 321.5L144.2 334.5L143.0 340.5L139.2 347.5L135.6 356.5L134.2 364.5L133.5 376.5L131.8 382.5L131.1 393.5L129.1 401.5L128.9 409.5Z"/><path fill="#fc4d2a" fill-rule="evenodd" d="M-8.5 409.5L-8.5 -5.5L462.9 -5.5L462.9 0.5L461.5 10.9L458.1 20.5L454.2 27.5L448.6 35.5L444.6 39.5L442.5 42.5L435.5 46.0L430.5 49.6L413.5 56.8L400.5 59.9L393.5 61.0L383.5 60.0L375.5 59.9L371.5 59.0L367.5 59.1L354.5 55.8L344.5 52.2L335.5 53.0L331.5 52.6L329.5 53.3L315.5 66.5L312.5 70.2L312.2 71.5L315.2 81.5L327.5 90.5L338.0 104.5L339.8 109.5L338.5 117.5L335.5 121.5L331.5 125.0L317.1 135.5L316.8 136.5L317.3 137.5L321.5 139.9L322.7 141.5L323.1 147.5L321.7 149.5L316.5 154.3L306.5 158.8L297.5 155.4L292.5 154.0L287.5 153.4L282.5 154.2L277.6 156.5L274.5 159.0L268.5 168.5L264.5 172.5L260.6 178.5L255.0 184.5L249.8 192.5L241.4 202.5L233.5 207.1L222.0 211.5L219.5 211.7L214.5 210.9L211.5 211.5L204.5 215.5L201.8 219.5L200.5 220.5L190.5 220.7L180.5 223.8L172.5 226.9L170.0 234.5L170.2 238.5L175.5 243.1L192.8 252.5L196.9 259.5L195.9 266.5L193.5 270.9L188.5 274.9L186.5 275.8L178.5 275.1L171.5 273.6L169.5 272.7L166.5 270.3L162.5 269.0L160.5 269.1L156.5 270.4L154.5 272.5L152.0 279.5L150.9 286.5L149.7 289.5L149.6 294.5L147.7 302.5L141.9 316.5L135.8 339.5L132.4 345.5L125.6 354.5L122.9 360.5L120.6 381.5L121.1 388.5L119.3 403.5L119.3 409.5Z"/><path fill="#eb2b21" fill-rule="evenodd" d="M-8.5 -5.5L140.1 -5.5L140.1 0.5L125.5 9.9L119.5 12.6L112.5 14.3L110.9 15.5L111.3 20.5L112.2 22.5L114.5 23.8L121.5 25.3L123.5 26.5L125.5 29.3L127.9 34.5L135.5 42.0L143.5 42.8L147.5 44.2L153.5 43.9L164.5 45.3L174.5 51.8L179.5 56.5L188.5 60.8L198.5 64.1L204.5 62.8L209.5 63.1L220.5 60.8L222.5 60.0L231.5 52.0L240.9 38.5L247.7 32.5L253.7 28.5L261.5 19.8L263.5 20.1L268.5 25.3L273.5 28.2L281.5 36.1L285.5 38.7L290.0 43.5L293.5 46.4L295.5 49.6L295.9 57.5L289.4 71.5L289.7 76.5L291.8 83.5L289.1 94.5L287.9 96.5L281.5 101.0L278.5 103.8L274.5 108.6L273.6 110.5L275.1 117.5L278.7 125.5L278.8 127.5L275.2 131.5L271.3 142.5L267.5 149.7L263.5 154.2L258.5 157.7L256.2 160.5L251.5 167.6L243.9 177.5L242.0 183.5L236.8 189.5L233.2 195.5L229.2 200.5L221.5 205.8L219.5 206.5L211.5 207.5L204.5 210.5L198.5 212.0L192.5 212.7L184.5 214.6L173.5 215.8L169.5 215.3L160.5 207.2L153.5 204.3L146.5 202.8L144.5 202.7L140.5 204.0L136.5 204.1L128.5 207.5L126.2 209.5L124.9 212.5L124.9 214.5L130.5 220.2L144.5 220.9L156.5 223.6L157.9 225.5L158.4 229.5L158.0 234.5L154.4 243.5L149.3 251.5L142.9 259.5L140.5 266.3L137.2 269.5L136.0 271.5L135.0 278.5L135.3 285.5L133.8 290.5L129.9 326.5L128.8 329.5L128.5 334.5L127.4 338.5L126.0 340.5L115.5 350.1L110.4 357.5L111.1 364.5L115.5 373.5L115.9 375.5L114.0 384.5L111.4 392.5L110.9 396.5L109.3 402.5L109.2 409.5L-8.5 409.5ZM360.0 11.5L379.5 5.8L389.5 2.1L394.5 1.5L399.5 3.5L406.5 7.8L414.5 17.5L415.5 19.5L415.7 21.5L410.9 34.5L409.5 36.4L406.5 38.3L400.5 44.2L396.5 45.1L392.5 46.9L389.5 47.2L382.5 45.0L378.5 44.7L374.5 43.6L363.1 34.5L362.1 31.5L366.2 24.5L367.0 21.5L365.5 17.8L359.5 13.5L359.3 12.5ZM287.7 107.5L289.8 105.5L298.5 101.8L301.5 101.1L310.5 101.2L313.5 102.1L317.3 105.5L319.4 109.5L319.9 112.5L316.5 119.5L309.0 123.5L306.5 124.1L296.5 123.9L287.5 121.8L286.2 120.5L285.6 116.5Z"/><path fill="#d6111f" fill-rule="evenodd" d="M-8.5 -5.5L73.9 -5.5L73.5 2.5L71.7 8.5L68.3 15.5L68.3 17.5L71.5 19.9L76.5 21.3L78.5 22.7L80.1 24.5L82.6 30.5L84.1 32.5L88.5 35.4L95.5 38.6L110.5 47.8L118.5 50.1L124.5 51.1L138.5 56.0L148.5 55.3L154.5 54.3L163.5 55.1L176.5 61.7L184.5 67.8L191.5 71.6L196.5 73.7L208.5 75.6L218.5 73.8L226.5 70.1L227.5 70.5L232.7 75.5L243.5 79.9L249.5 81.6L251.1 83.5L251.0 84.5L247.6 90.5L245.5 92.9L223.5 99.7L213.5 102.0L206.5 104.7L203.5 106.8L201.0 111.5L200.8 113.5L201.3 114.5L204.5 116.7L208.5 120.5L213.5 130.5L226.8 142.5L227.7 144.5L228.8 150.5L228.8 156.5L230.5 163.5L229.5 165.9L226.5 169.6L224.5 173.5L223.5 178.5L223.4 182.5L221.2 190.5L218.5 197.5L215.2 201.5L196.5 207.7L191.5 206.3L186.5 203.9L175.5 203.1L169.5 201.7L157.5 200.9L151.5 199.7L146.5 198.0L140.5 197.7L138.5 197.0L133.5 193.8L127.5 191.4L116.5 196.3L111.5 196.5L107.5 197.5L104.5 197.1L100.5 195.5L89.5 193.8L87.5 194.5L86.8 195.5L87.2 197.5L94.5 202.9L103.5 207.2L104.7 208.5L105.1 214.5L102.0 227.5L103.5 232.7L105.5 233.2L114.5 230.3L122.5 228.9L127.5 230.0L131.5 230.0L146.5 233.8L149.7 236.5L151.5 240.5L149.5 247.0L145.5 253.1L136.4 261.5L131.3 264.5L129.7 266.5L128.5 269.5L128.2 276.5L129.4 286.5L127.6 299.5L125.6 304.5L124.7 310.5L122.9 315.5L122.4 319.5L120.6 324.5L116.8 339.5L109.3 346.5L104.5 349.2L102.3 352.5L100.7 356.5L101.2 363.5L103.5 370.5L106.4 374.5L106.9 376.5L104.6 384.5L97.3 401.5L96.9 409.5L-8.5 409.5Z"/><path fill="#bb0026" fill-rule="evenodd" d="M-8.5 16.0L-1.5 16.1L16.5 20.7L34.5 29.2L42.3 36.5L42.6 38.5L41.5 40.5L41.3 42.5L42.8 50.5L41.2 57.5L35.6 69.5L31.6 74.5L30.9 76.5L33.2 80.5L37.5 84.3L41.5 85.7L43.5 85.4L57.5 73.2L65.3 67.5L67.2 64.5L67.7 61.5L67.5 58.9L63.2 51.5L61.5 49.6L50.9 42.5L49.7 40.5L50.5 40.2L54.0 41.5L59.7 45.5L66.6 51.5L81.5 60.3L90.5 63.8L97.5 63.3L99.5 64.0L105.3 70.5L107.5 72.0L112.5 71.9L120.5 69.6L122.5 70.0L127.4 75.5L128.7 79.5L128.5 89.5L125.5 93.9L123.6 98.5L125.5 103.0L131.5 111.0L137.6 116.5L143.5 120.9L153.9 127.5L156.6 132.5L161.0 136.5L165.5 141.7L174.0 154.5L178.5 157.2L183.2 161.5L190.0 165.5L196.5 172.3L198.7 176.5L199.6 180.5L199.4 182.5L195.5 186.5L189.5 190.2L186.5 190.8L172.5 188.6L166.5 184.0L156.9 173.5L150.5 162.2L147.5 158.3L141.5 153.2L136.5 152.3L129.5 149.8L117.5 155.4L115.5 157.5L111.5 163.5L109.5 165.4L101.5 169.8L96.5 173.3L80.5 180.0L77.5 181.8L76.3 183.5L75.1 189.5L75.9 192.5L82.5 199.2L90.5 203.2L94.1 208.5L94.3 210.5L92.3 217.5L92.0 222.5L90.7 226.5L94.0 238.5L95.4 241.5L97.5 242.1L102.5 240.5L104.5 240.6L121.5 246.6L123.4 248.5L124.0 250.5L123.3 253.5L119.4 262.5L118.6 266.5L118.8 272.5L118.1 278.5L117.1 282.5L119.0 298.5L117.3 305.5L117.3 309.5L116.6 311.5L109.2 324.5L100.7 336.5L93.5 343.3L84.7 347.5L74.9 354.5L73.5 356.1L72.1 359.5L72.3 362.5L75.7 366.5L82.5 371.4L88.5 374.5L90.7 377.5L91.3 381.5L87.2 387.5L86.4 389.5L88.2 397.5L90.8 401.5L91.4 403.5L91.4 409.5L-8.5 409.5Z"/><path fill="#930026" fill-rule="evenodd" d="M-8.5 92.2L-1.5 92.5L5.5 95.2L14.5 97.3L21.5 99.6L45.5 103.8L52.5 106.1L68.5 115.9L77.5 122.1L84.5 125.7L86.6 127.5L88.2 131.5L87.6 139.5L82.9 151.5L81.5 153.3L76.5 154.1L70.5 153.7L66.4 155.5L58.3 162.5L55.5 167.5L54.5 168.4L45.5 171.8L39.5 173.0L28.5 178.2L24.8 180.5L21.5 183.5L17.3 188.5L17.4 190.5L18.5 192.0L25.5 195.8L28.5 196.3L33.5 196.0L37.5 197.1L41.5 197.3L55.5 201.8L60.5 204.5L70.5 208.3L77.5 212.4L81.6 221.5L85.4 226.5L86.0 228.5L83.9 235.5L79.5 242.5L77.9 248.5L78.1 251.5L82.5 259.5L87.5 265.3L93.7 269.5L98.5 271.3L99.8 273.5L99.9 276.5L98.9 281.5L100.0 303.5L98.2 309.5L92.4 319.5L85.0 326.5L81.5 328.8L64.5 334.7L50.5 338.0L42.0 343.5L41.2 344.5L41.3 345.5L46.8 350.5L47.0 351.5L46.5 352.3L40.5 356.0L33.5 359.0L24.2 367.5L24.5 369.5L28.1 375.5L32.9 381.5L35.6 386.5L39.6 402.5L39.8 409.5L-8.5 409.5Z"/><path fill="#800026" fill-rule="evenodd" d="M71.5 224.2L73.7 226.5L74.2 228.5L73.7 232.5L71.9 237.5L69.8 249.5L69.9 252.5L70.9 255.5L72.0 263.5L78.1 272.5L81.9 276.5L86.8 287.5L85.0 297.5L83.6 300.5L80.1 305.5L73.5 311.7L70.9 315.5L66.5 319.5L58.5 323.6L52.5 326.0L43.5 327.0L38.5 326.6L34.5 327.2L28.5 326.0L24.5 326.1L21.5 327.1L16.5 329.7L9.5 330.9L5.5 332.1L-1.5 333.0L-8.5 333.0L-8.5 215.6L0.5 215.8L11.5 214.0L21.5 215.1L34.5 217.9L43.5 218.1L55.5 219.6L64.5 221.5ZM-8.5 368.4L-2.5 368.4L7.4 372.5L12.9 377.5L14.8 380.5L20.5 386.8L23.4 391.5L25.9 398.5L26.7 403.5L26.7 409.5L-8.5 409.5Z"/>
<path d="M509.3 0.0C506.0 1.8 499.8 4.0 496.2 5.7C492.6 7.4 490.7 7.3 487.5 10.1C484.3 12.8 480.6 18.6 477.2 22.2C473.8 25.8 470.0 29.0 466.8 31.7C463.6 34.4 459.6 35.6 458.2 38.6C456.8 41.6 459.2 46.5 458.6 49.8C458.0 53.1 457.4 54.6 454.7 58.4C452.0 62.1 445.5 68.3 442.6 72.3C439.7 76.3 438.5 78.6 437.4 82.6C436.2 86.6 435.8 92.5 435.7 96.5C435.6 100.5 436.9 103.9 436.6 106.8C436.3 109.7 433.3 111.8 434.0 113.7C434.7 115.6 439.2 116.4 440.9 118.0C442.6 119.6 444.1 120.5 444.3 123.2C444.5 126.0 443.5 130.6 441.8 134.5C440.1 138.4 436.8 142.9 434.0 146.6C431.2 150.3 428.2 153.0 425.3 156.9C422.4 160.8 419.9 166.3 416.7 169.9C413.5 173.5 409.3 176.5 406.3 178.5C403.3 180.5 401.9 180.0 398.9 181.7C395.9 183.4 392.5 185.4 388.5 188.6C384.5 191.8 380.4 197.1 374.7 200.7C368.9 204.3 361.5 207.6 354.0 210.2C346.5 212.8 336.1 214.9 329.8 216.3C323.5 217.7 319.2 217.4 316.0 218.8C312.8 220.2 312.8 222.7 310.8 224.9C308.8 227.1 306.2 228.1 303.9 231.8C301.6 235.6 299.0 242.2 297.0 247.4C295.0 252.6 293.8 259.2 291.8 262.9C289.8 266.6 288.4 267.4 284.9 269.8C281.4 272.2 275.9 274.9 271.0 277.6C266.1 280.3 258.5 283.5 255.5 286.2C252.5 288.9 254.3 290.7 252.9 294.0C251.5 297.3 248.8 301.8 246.9 306.1C245.0 310.4 242.9 315.9 241.7 319.9C240.5 323.9 240.0 326.9 239.6 330.3C239.2 333.8 239.9 337.3 239.1 340.6C238.3 343.9 237.0 347.6 234.8 350.2C232.6 352.8 229.0 353.5 226.1 356.2C223.2 358.9 220.4 363.6 217.5 366.6C214.6 369.6 211.2 372.6 208.9 374.3C206.6 376.0 205.7 375.1 203.5 377.0C201.3 378.9 197.0 383.9 196.0 385.5C195.0 387.1 196.3 387.2 197.5 386.5C198.7 385.8 202.6 381.1 203.0 381.5C203.4 381.9 201.8 386.0 200.2 389.0C198.6 392.0 194.9 396.8 193.3 399.4C191.7 402.0 191.9 400.2 190.7 404.5C189.5 408.8 124.4 421.6 186.0 425.0C247.6 428.4 497.7 500.0 560.0 425.0C622.3 350.0 567.3 46.7 560.0 -25.0C552.7 -96.7 524.5 -9.2 516.0 -5.0C507.6 -0.8 512.6 -1.8 509.3 0.0Z" fill="#fff" stroke="#fff" stroke-width="0.8" stroke-linejoin="round"/><polygon points="159.3,202.7 166.0,201.5 174.5,199.0 180.6,195.4 189.2,193.9 190.6,195.1 185.5,199.0 181.3,203.9 179.4,210.0 174.5,215.5 169.7,217.1 166.6,214.9 163.6,210.0 160.5,205.7" fill="#fff" stroke="#fff" stroke-width="1.0" stroke-linejoin="round"/><polygon points="206.9,210.6 209.0,212.2 212.3,211.8 216.0,212.0 218.4,210.0 219.1,214.9 220.3,219.7 218.4,224.0 213.6,227.1 208.7,227.1 203.8,223.4 201.7,218.5 203.2,214.3" fill="#fff" stroke="#fff" stroke-width="1.0" stroke-linejoin="round"/><polygon points="274.5,187.4 278.8,188.0 280.6,192.9 280.0,200.2 277.0,207.6 269.7,210.0 263.6,213.0 258.7,215.5 253.8,214.3 254.4,212.4 262.3,210.6 266.6,205.1 269.7,199.0 272.1,191.7" fill="#fff" stroke="#fff" stroke-width="1.0" stroke-linejoin="round"/><polygon points="292.8,166.1 295.9,169.1 295.3,174.6 291.6,177.7 286.7,178.9 282.5,183.8 278.2,182.6 280.0,177.7 284.3,174.0 289.8,172.8 291.0,167.9" fill="#fff" stroke="#fff" stroke-width="1.0" stroke-linejoin="round"/><polygon points="117.0,186.2 120.0,183.8 124.9,183.8 128.0,187.4 127.0,192.9 123.7,199.6 121.3,195.4 118.2,190.5" fill="#fff" stroke="#fff" stroke-width="1.0" stroke-linejoin="round"/><polygon points="109.9,226.5 115.8,225.2 120.0,222.4 121.9,224.6 118.8,230.1 116.4,231.3 112.1,228.9" fill="#fff" stroke="#fff" stroke-width="1.0" stroke-linejoin="round"/><polygon points="145.6,28.4 148.1,25.6 152.3,28.4 158.4,27.1 164.5,29.6 168.8,30.2 164.5,33.8 159.7,35.7 153.6,34.5 148.7,32.0" fill="#fff" stroke="#fff" stroke-width="1.0" stroke-linejoin="round"/><polygon points="179.4,19.2 182.2,16.8 184.7,18.0 182.8,19.5 180.4,20.2" fill="#fff" stroke="#fff" stroke-width="1.0" stroke-linejoin="round"/><polygon points="173.3,37.3 174.9,37.7 176.5,41.2 175.3,40.9" fill="#fff" stroke="#fff" stroke-width="1.0" stroke-linejoin="round"/><ellipse cx="147.1" cy="212.2" rx="5.6" ry="4.4" fill="#fff"/>
<rect x="0" y="402.5" width="195" height="1.1" fill="#fff"/>
<path d="M509.3 0.0C506.0 1.8 499.8 4.0 496.2 5.7C492.6 7.4 490.7 7.3 487.5 10.1C484.3 12.8 480.6 18.6 477.2 22.2C473.8 25.8 470.0 29.0 466.8 31.7C463.6 34.4 459.6 35.6 458.2 38.6C456.8 41.6 459.2 46.5 458.6 49.8C458.0 53.1 457.4 54.6 454.7 58.4C452.0 62.1 445.5 68.3 442.6 72.3C439.7 76.3 438.5 78.6 437.4 82.6C436.2 86.6 435.8 92.5 435.7 96.5C435.6 100.5 436.9 103.9 436.6 106.8C436.3 109.7 433.3 111.8 434.0 113.7C434.7 115.6 439.2 116.4 440.9 118.0C442.6 119.6 444.1 120.5 444.3 123.2C444.5 126.0 443.5 130.6 441.8 134.5C440.1 138.4 436.8 142.9 434.0 146.6C431.2 150.3 428.2 153.0 425.3 156.9C422.4 160.8 419.9 166.3 416.7 169.9C413.5 173.5 409.3 176.5 406.3 178.5C403.3 180.5 401.9 180.0 398.9 181.7C395.9 183.4 392.5 185.4 388.5 188.6C384.5 191.8 380.4 197.1 374.7 200.7C368.9 204.3 361.5 207.6 354.0 210.2C346.5 212.8 336.1 214.9 329.8 216.3C323.5 217.7 319.2 217.4 316.0 218.8C312.8 220.2 312.8 222.7 310.8 224.9C308.8 227.1 306.2 228.1 303.9 231.8C301.6 235.6 299.0 242.2 297.0 247.4C295.0 252.6 293.8 259.2 291.8 262.9C289.8 266.6 288.4 267.4 284.9 269.8C281.4 272.2 275.9 274.9 271.0 277.6C266.1 280.3 258.5 283.5 255.5 286.2C252.5 288.9 254.3 290.7 252.9 294.0C251.5 297.3 248.8 301.8 246.9 306.1C245.0 310.4 242.9 315.9 241.7 319.9C240.5 323.9 240.0 326.9 239.6 330.3C239.2 333.8 239.9 337.3 239.1 340.6C238.3 343.9 237.0 347.6 234.8 350.2C232.6 352.8 229.0 353.5 226.1 356.2C223.2 358.9 220.4 363.6 217.5 366.6C214.6 369.6 211.2 372.6 208.9 374.3C206.6 376.0 205.7 375.1 203.5 377.0C201.3 378.9 197.0 383.9 196.0 385.5C195.0 387.1 196.3 387.2 197.5 386.5C198.7 385.8 202.6 381.1 203.0 381.5C203.4 381.9 201.8 386.0 200.2 389.0C198.6 392.0 194.9 396.8 193.3 399.4C191.7 402.0 191.9 400.2 190.7 404.5C189.5 408.8 124.4 421.6 186.0 425.0C247.6 428.4 497.7 500.0 560.0 425.0C622.3 350.0 567.3 46.7 560.0 -25.0C552.7 -96.7 524.5 -9.2 516.0 -5.0C507.6 -0.8 512.6 -1.8 509.3 0.0Z" fill="#000"/><path d="M159.3 202.7C160.2 202.0 163.5 202.1 166.0 201.5C168.5 200.9 172.1 200.0 174.5 199.0C176.9 198.0 178.2 196.2 180.6 195.4C183.0 194.6 187.5 194.0 189.2 193.9C190.9 193.8 191.2 194.2 190.6 195.1C190.0 195.9 187.1 197.5 185.5 199.0C183.9 200.5 182.3 202.1 181.3 203.9C180.3 205.7 180.5 208.1 179.4 210.0C178.3 211.9 176.1 214.3 174.5 215.5C172.9 216.7 171.0 217.2 169.7 217.1C168.4 217.0 167.6 216.1 166.6 214.9C165.6 213.7 164.6 211.5 163.6 210.0C162.6 208.5 161.2 206.9 160.5 205.7C159.8 204.5 158.4 203.4 159.3 202.7Z" fill="#000" stroke="#000" stroke-width="0.6" stroke-linejoin="round"/><path d="M206.9 210.6C207.9 210.2 208.1 212.0 209.0 212.2C209.9 212.4 211.1 211.8 212.3 211.8C213.5 211.8 215.0 212.3 216.0 212.0C217.0 211.7 217.9 209.5 218.4 210.0C218.9 210.5 218.8 213.3 219.1 214.9C219.4 216.5 220.4 218.2 220.3 219.7C220.2 221.2 219.5 222.8 218.4 224.0C217.3 225.2 215.2 226.6 213.6 227.1C212.0 227.6 210.3 227.7 208.7 227.1C207.1 226.5 205.0 224.8 203.8 223.4C202.6 222.0 201.8 220.0 201.7 218.5C201.6 217.0 202.3 215.6 203.2 214.3C204.1 213.0 205.9 210.9 206.9 210.6Z" fill="#000" stroke="#000" stroke-width="0.6" stroke-linejoin="round"/><path d="M274.5 187.4C275.6 186.8 277.8 187.1 278.8 188.0C279.8 188.9 280.4 190.9 280.6 192.9C280.8 194.9 280.6 197.8 280.0 200.2C279.4 202.6 278.7 206.0 277.0 207.6C275.3 209.2 271.9 209.1 269.7 210.0C267.5 210.9 265.4 212.1 263.6 213.0C261.8 213.9 260.3 215.3 258.7 215.5C257.1 215.7 254.5 214.8 253.8 214.3C253.1 213.8 253.0 213.0 254.4 212.4C255.8 211.8 260.3 211.8 262.3 210.6C264.3 209.4 265.4 207.0 266.6 205.1C267.8 203.2 268.8 201.2 269.7 199.0C270.6 196.8 271.3 193.6 272.1 191.7C272.9 189.8 273.4 188.0 274.5 187.4Z" fill="#000" stroke="#000" stroke-width="0.6" stroke-linejoin="round"/><path d="M292.8 166.1C293.6 166.3 295.5 167.7 295.9 169.1C296.3 170.5 296.0 173.2 295.3 174.6C294.6 176.0 293.0 177.0 291.6 177.7C290.2 178.4 288.2 177.9 286.7 178.9C285.2 179.9 283.9 183.2 282.5 183.8C281.1 184.4 278.6 183.6 278.2 182.6C277.8 181.6 279.0 179.1 280.0 177.7C281.0 176.3 282.7 174.8 284.3 174.0C285.9 173.2 288.7 173.8 289.8 172.8C290.9 171.8 290.5 169.0 291.0 167.9C291.5 166.8 292.0 165.9 292.8 166.1Z" fill="#000" stroke="#000" stroke-width="0.6" stroke-linejoin="round"/><path d="M117.0 186.2C117.3 185.1 118.7 184.2 120.0 183.8C121.3 183.4 123.6 183.2 124.9 183.8C126.2 184.4 127.7 185.9 128.0 187.4C128.3 188.9 127.7 190.9 127.0 192.9C126.3 194.9 124.7 199.2 123.7 199.6C122.8 200.0 122.2 196.9 121.3 195.4C120.4 193.9 118.9 192.0 118.2 190.5C117.5 189.0 116.7 187.3 117.0 186.2Z" fill="#000" stroke="#000" stroke-width="0.6" stroke-linejoin="round"/><path d="M109.9 226.5C110.5 225.9 114.1 225.9 115.8 225.2C117.5 224.5 119.0 222.5 120.0 222.4C121.0 222.3 122.1 223.3 121.9 224.6C121.7 225.9 119.7 229.0 118.8 230.1C117.9 231.2 117.5 231.5 116.4 231.3C115.3 231.1 113.2 229.7 112.1 228.9C111.0 228.1 109.3 227.1 109.9 226.5Z" fill="#000" stroke="#000" stroke-width="0.6" stroke-linejoin="round"/><path d="M145.6 28.4C145.5 27.3 147.0 25.6 148.1 25.6C149.2 25.6 150.6 28.1 152.3 28.4C154.0 28.6 156.4 26.9 158.4 27.1C160.4 27.3 162.8 29.1 164.5 29.6C166.2 30.1 168.8 29.5 168.8 30.2C168.8 30.9 166.0 32.9 164.5 33.8C163.0 34.7 161.5 35.6 159.7 35.7C157.9 35.8 155.4 35.1 153.6 34.5C151.8 33.9 150.0 33.0 148.7 32.0C147.4 31.0 145.7 29.5 145.6 28.4Z" fill="#000" stroke="#000" stroke-width="0.6" stroke-linejoin="round"/><path d="M179.4 19.2C179.7 18.6 181.3 17.0 182.2 16.8C183.1 16.6 184.6 17.6 184.7 18.0C184.8 18.4 183.5 19.1 182.8 19.5C182.1 19.9 181.0 20.2 180.4 20.2C179.8 20.1 179.1 19.8 179.4 19.2Z" fill="#000" stroke="#000" stroke-width="0.6" stroke-linejoin="round"/><path d="M173.3 37.3C173.2 36.8 174.4 37.1 174.9 37.7C175.4 38.4 176.4 40.7 176.5 41.2C176.6 41.7 175.8 41.5 175.3 40.9C174.8 40.2 173.4 37.8 173.3 37.3Z" fill="#000" stroke="#000" stroke-width="0.6" stroke-linejoin="round"/><ellipse cx="147.1" cy="212.2" rx="5.4" ry="4.2" fill="#000"/>
<g stroke="#808080" stroke-opacity="0.4" stroke-width="1" fill="none"><path d="M38.5 0V403.5"/><path d="M116.8 0V403.5"/><path d="M195.2 0V403.5"/><path d="M273.5 0V403.5"/><path d="M351.9 0V403.5"/><path d="M430.2 0V403.5"/><path d="M-5.0 21.0H508.2"/><path d="M-5.0 60.2H508.2"/><path d="M-5.0 99.5H508.2"/><path d="M-5.0 138.8H508.2"/><path d="M-5.0 178.0H508.2"/><path d="M-5.0 217.2H508.2"/><path d="M-5.0 256.5H508.2"/><path d="M-5.0 295.8H508.2"/><path d="M-5.0 335.0H508.2"/><path d="M-5.0 374.2H508.2"/></g>
</g>
<rect x="0.0" y="0" width="508.2" height="403.5" fill="none" stroke="#3a3a3a" stroke-width="1.1"/>
</g>
<clipPath id="cpF"><rect x="0.0" y="0" width="508.2" height="403.5"/></clipPath>
<g transform="translate(826.2,991.8)">
<g clip-path="url(#cpF)">
<rect x="0.0" y="0" width="508.2" height="403.5" fill="#053061"/>
<path fill="#124984" fill-rule="evenodd" d="M-8.5 409.5L-8.5 -5.5L495.9 -5.5L495.9 0.5L493.8 4.5L492.0 6.5L484.2 12.5L477.5 20.9L472.2 29.5L464.4 40.5L460.0 49.5L454.3 58.5L442.5 72.9L437.5 81.1L434.6 96.5L434.6 100.5L436.0 106.5L434.1 114.5L434.5 115.8L439.5 121.5L440.3 124.5L439.2 129.5L431.5 147.5L418.5 163.2L414.8 168.5L408.4 175.5L398.7 181.5L393.5 186.0L387.5 188.6L374.5 199.2L355.5 209.1L346.5 211.8L336.5 213.5L331.5 215.3L326.2 216.5L321.1 218.5L315.5 221.7L311.5 225.5L306.5 231.8L297.5 247.0L295.3 252.5L288.1 263.5L277.4 270.5L267.5 278.1L261.5 280.5L259.5 282.0L256.5 285.9L253.1 292.5L248.5 299.4L236.4 323.5L235.4 331.5L236.7 339.5L236.7 343.5L237.5 345.9L241.0 349.5L240.6 352.5L237.5 356.4L230.3 362.5L222.3 371.5L215.5 377.8L210.2 385.5L195.6 403.5L195.6 409.5Z"/><path fill="#327cb7" fill-rule="evenodd" d="M-8.5 409.5L-8.5 -5.5L485.6 -5.5L485.4 2.5L483.3 7.5L462.3 40.5L457.3 49.5L451.8 57.5L445.5 64.3L439.5 72.0L434.7 81.5L431.8 89.5L431.2 93.5L431.5 100.5L432.6 106.5L431.2 116.5L431.5 118.5L433.6 123.5L433.8 127.5L431.5 132.0L427.3 143.5L420.9 154.5L410.5 167.5L404.5 173.6L399.5 176.7L391.5 183.0L386.2 185.5L378.7 191.5L363.5 201.3L354.5 205.7L324.5 214.7L313.8 220.5L305.5 229.2L293.0 249.5L288.9 255.5L284.5 260.3L281.9 262.5L274.5 266.9L265.5 274.5L259.5 277.3L257.5 279.0L249.9 292.5L243.5 300.9L235.5 310.1L224.4 319.5L222.5 322.5L218.5 325.2L217.1 327.5L217.5 329.6L221.5 334.4L230.5 342.1L235.4 347.5L238.3 349.5L238.9 350.5L238.5 352.5L235.5 355.9L228.5 361.7L220.5 370.6L215.3 375.5L208.5 384.7L195.4 400.5L193.5 403.5L193.5 409.5Z"/><path fill="#6bacd1" fill-rule="evenodd" d="M-8.5 409.5L-8.5 -5.5L480.2 -5.5L480.2 1.5L479.5 4.7L475.5 14.5L468.5 27.8L455.5 48.7L449.5 56.2L443.5 62.6L435.9 72.5L431.5 82.4L427.8 88.5L427.3 93.5L429.3 107.5L427.9 117.5L428.8 125.5L421.8 145.5L417.2 154.5L406.5 167.1L401.4 171.5L389.5 180.5L384.5 182.9L378.5 187.5L366.5 194.4L361.5 198.9L354.5 202.6L344.9 206.5L324.5 212.8L311.5 219.9L305.0 226.5L298.5 237.4L291.5 247.2L284.5 255.2L278.5 260.0L274.5 262.2L269.5 265.9L264.5 270.6L256.3 275.5L253.0 280.5L248.1 290.5L238.1 301.5L234.5 304.2L228.5 306.4L222.5 310.1L214.5 313.2L210.5 316.5L207.2 322.5L206.4 327.5L207.0 330.5L209.1 334.5L209.5 339.5L210.4 341.5L217.8 344.5L229.5 346.9L235.5 350.4L236.3 351.5L234.5 354.3L228.5 359.0L219.5 368.8L213.5 374.5L207.5 382.7L193.1 400.5L191.4 403.5L191.4 409.5Z"/><path fill="#b1d5e7" fill-rule="evenodd" d="M-8.5 409.5L-8.5 -5.5L473.8 -5.5L473.8 0.5L472.2 5.5L471.3 10.5L465.5 28.5L462.5 33.6L454.5 43.9L449.5 49.2L441.8 54.5L436.5 60.2L427.5 65.3L422.5 69.8L408.5 79.7L405.7 83.5L405.7 85.5L406.6 86.5L415.1 90.5L417.0 92.5L420.2 104.5L420.1 111.5L418.8 119.5L413.2 132.5L407.8 151.5L401.5 162.5L398.1 165.5L382.5 176.2L375.4 179.5L370.5 182.7L363.9 185.5L362.2 187.5L358.5 194.5L350.7 200.5L343.5 204.4L325.5 209.8L309.5 217.8L300.5 225.3L293.4 236.5L287.4 242.5L284.5 244.3L269.5 250.8L254.5 258.7L246.4 265.5L236.1 272.5L228.8 280.5L225.5 282.7L220.5 287.3L206.5 293.1L199.5 294.3L196.5 296.6L194.5 297.4L184.5 299.8L179.5 299.6L172.5 300.6L170.5 301.2L169.5 302.3L166.9 312.5L157.1 329.5L152.9 339.5L152.3 343.5L153.5 346.5L160.5 353.3L161.6 355.5L160.3 362.5L160.8 378.5L160.3 383.5L161.0 389.5L163.5 392.1L169.7 395.5L174.5 397.4L181.0 402.5L181.7 403.5L181.7 409.5Z"/><path fill="#e4eef4" fill-rule="evenodd" d="M-8.5 409.5L-8.5 -5.5L468.8 -5.5L468.8 0.5L465.4 18.5L462.5 27.5L458.5 33.0L454.1 36.5L446.5 44.1L436.5 48.7L428.5 53.3L421.5 55.3L410.5 61.7L398.5 69.9L390.9 73.5L381.5 79.7L380.1 81.5L380.4 83.5L382.0 86.5L389.5 93.5L406.5 102.0L412.8 111.5L412.5 113.8L408.9 119.5L404.5 121.7L393.5 123.6L382.5 118.9L376.5 117.4L369.5 119.6L367.5 121.0L366.7 122.5L367.4 125.5L369.5 127.9L389.5 134.4L392.5 136.5L395.9 140.5L399.7 149.5L400.0 151.5L398.5 156.0L393.5 161.6L391.5 163.0L381.5 167.9L374.5 173.2L357.5 178.2L338.5 181.2L329.0 184.5L325.4 189.5L325.0 192.5L327.2 194.5L334.5 197.5L335.1 199.5L333.8 201.5L330.8 203.5L325.5 204.7L320.5 206.7L307.5 208.8L290.5 216.0L289.3 217.5L289.4 218.5L293.6 224.5L293.7 227.5L292.1 231.5L289.5 234.6L287.5 236.1L283.5 237.8L273.5 238.7L259.5 244.4L254.5 244.7L249.5 246.3L246.5 248.9L239.5 253.0L236.5 255.6L232.5 260.5L224.5 264.8L215.5 271.7L205.5 276.4L197.5 278.2L190.5 280.8L172.5 283.0L164.5 282.8L162.5 283.9L158.5 300.5L154.7 306.5L152.5 313.3L145.0 324.5L141.2 334.5L140.2 340.5L139.9 348.5L138.6 352.5L137.8 359.5L139.4 367.5L141.6 371.5L144.2 378.5L149.9 384.5L156.4 394.5L161.2 403.5L161.2 409.5Z"/><path fill="#fae9df" fill-rule="evenodd" d="M-8.5 409.5L-8.5 -5.5L107.2 -5.5L107.2 0.5L99.5 5.9L98.1 8.5L99.9 24.5L100.5 26.7L101.5 27.9L103.5 28.3L113.5 25.6L116.5 25.7L123.5 27.3L132.9 32.5L134.5 34.5L137.5 42.5L139.1 51.5L142.5 55.2L144.5 55.2L150.2 51.5L153.5 50.2L167.5 50.1L171.5 51.5L175.5 55.1L181.5 58.7L195.5 62.0L198.5 61.5L201.9 58.5L207.5 49.5L208.9 44.5L209.1 31.5L205.5 14.5L208.0 1.5L208.1 -5.5L465.1 -5.5L464.5 6.5L460.5 20.3L457.2 25.5L443.4 38.5L434.5 44.4L414.5 51.6L407.5 53.0L394.5 56.7L384.5 57.5L372.5 60.6L361.1 65.5L358.5 67.0L357.1 68.5L352.7 78.5L352.4 80.5L353.3 82.5L357.5 87.6L361.7 94.5L364.8 101.5L366.0 106.5L364.7 111.5L360.7 117.5L359.4 120.5L358.8 129.5L359.2 133.5L360.4 135.5L361.9 136.5L367.5 138.7L373.5 140.0L378.5 142.8L379.9 144.5L381.6 149.5L381.3 151.5L380.5 152.4L374.5 154.0L360.5 155.7L353.5 155.7L348.5 154.7L345.5 154.9L338.5 158.7L329.5 162.0L324.5 165.5L318.5 168.6L308.5 170.6L296.5 174.3L284.5 172.7L280.5 172.9L275.5 174.2L260.8 181.5L254.7 188.5L248.6 194.5L245.5 199.3L237.4 206.5L230.5 209.0L225.5 211.4L221.5 214.1L219.5 214.7L210.5 213.9L192.5 216.6L186.5 218.2L180.5 218.6L176.5 220.4L173.5 222.5L163.5 234.5L161.2 239.5L160.2 245.5L158.5 250.9L157.8 257.5L156.8 259.5L154.5 261.0L148.5 261.1L144.9 262.5L141.3 266.5L136.5 273.4L135.9 275.5L136.7 279.5L136.1 284.5L137.4 290.5L135.5 298.5L135.5 304.5L134.0 313.5L136.1 321.5L136.7 329.5L135.2 336.5L131.8 344.5L130.7 352.5L128.2 358.5L128.0 363.5L128.6 366.5L132.0 372.5L134.2 378.5L136.0 390.5L137.2 392.5L146.5 402.8L146.9 409.5ZM106.5 225.5L105.7 227.5L106.1 229.5L108.0 231.5L110.5 232.6L112.9 232.5L115.1 231.5L118.3 227.5L117.5 225.0L114.4 223.5L109.5 223.7ZM120.5 185.6L118.2 186.5L115.5 188.9L114.1 191.5L113.7 194.5L114.5 197.7L116.9 200.5L117.3 203.5L118.5 204.5L120.5 204.9L124.5 203.9L127.0 202.5L128.9 199.5L129.3 196.5L128.9 193.5L128.0 191.5L123.5 186.6ZM142.9 213.5L143.1 214.5L144.5 215.7L149.5 215.8L151.5 215.3L152.4 214.5L152.9 212.5L151.5 210.2L148.5 209.6L145.5 210.6L143.3 212.5ZM192.5 243.5L194.5 244.4L195.1 245.5L196.0 252.5L197.7 257.5L197.6 261.5L195.9 268.5L193.7 272.5L191.5 274.2L188.5 274.6L182.5 273.6L180.9 272.5L179.5 269.5L178.3 263.5L176.3 257.5L176.3 255.5L177.6 253.5L190.5 244.0Z"/><path fill="#f8bfa4" fill-rule="evenodd" d="M224.0 71.5L226.5 69.5L235.5 68.2L243.5 65.0L246.8 62.5L249.5 58.5L253.5 54.5L259.2 51.5L265.5 47.1L269.5 46.3L278.5 48.8L283.5 51.4L285.1 53.5L285.0 55.5L283.4 59.5L282.3 65.5L282.1 70.5L283.3 73.5L286.0 77.5L289.1 84.5L293.5 91.3L295.4 92.5L297.5 92.9L313.5 92.7L326.5 96.5L328.5 97.8L334.2 104.5L335.2 106.5L335.0 108.5L332.5 111.5L324.5 117.5L319.0 119.5L310.5 123.6L305.5 124.5L302.5 123.8L292.5 120.0L291.5 119.1L290.9 106.5L290.5 105.4L288.5 104.0L277.5 100.8L266.5 100.4L257.5 94.7L239.5 93.7L226.4 86.5L225.6 84.5L224.8 77.5L223.7 73.5ZM152.5 100.4L158.5 99.5L162.5 99.5L171.5 103.4L173.4 105.5L173.7 109.5L175.3 113.5L175.5 116.5L173.9 122.5L172.9 131.5L170.6 137.5L169.5 138.9L168.5 139.3L166.5 138.7L163.5 136.1L160.1 129.5L157.0 125.5L152.3 116.5L150.8 108.5L151.0 102.5ZM31.5 131.5L32.9 129.5L36.5 126.9L43.5 123.2L46.5 123.2L55.5 125.6L61.5 126.6L68.5 125.3L74.5 123.4L77.5 123.8L87.5 131.5L91.5 143.5L92.7 145.5L100.5 151.4L105.5 156.6L113.1 161.5L113.6 163.5L112.3 168.5L111.5 169.9L109.5 171.1L97.5 173.7L77.5 171.7L73.5 172.6L67.8 175.5L63.5 176.7L61.5 176.6L51.5 172.2L43.5 166.8L37.5 164.8L34.5 161.8L29.6 148.5ZM197.5 138.2L201.5 138.9L205.5 141.4L209.5 142.7L218.5 147.2L224.5 151.0L225.9 153.5L225.9 160.5L227.3 170.5L224.6 183.5L225.9 189.5L225.5 198.5L221.9 204.5L217.5 208.0L203.5 208.3L199.5 207.1L197.9 205.5L196.9 203.5L195.5 196.5L193.9 193.5L187.5 188.3L178.7 184.5L176.3 182.5L175.0 180.5L175.1 178.5L178.3 170.5L179.5 169.0L181.5 167.9L193.5 164.4L196.5 162.9L197.5 161.8L197.7 159.5L196.5 156.8L189.1 147.5L188.6 145.5L189.5 143.8L191.5 141.9ZM6.5 173.4L9.5 174.7L13.5 179.7L14.5 183.5L13.5 192.5L14.8 194.5L19.5 198.2L21.5 199.1L24.5 199.3L32.5 196.8L36.5 196.4L45.5 197.4L53.5 197.4L58.5 198.4L69.5 203.9L73.1 207.5L76.1 211.5L80.5 215.5L81.6 218.5L81.9 223.5L84.5 230.8L85.0 234.5L84.4 236.5L80.5 242.5L75.8 253.5L75.4 255.5L75.6 268.5L77.1 272.5L82.5 279.5L89.5 285.5L91.2 287.5L92.5 292.5L92.9 298.5L90.5 304.0L83.9 311.5L81.5 312.9L76.5 314.5L72.5 316.4L64.5 318.1L60.5 320.1L51.5 323.1L46.5 325.5L31.5 329.2L24.5 331.4L20.5 332.3L15.5 332.0L8.5 332.8L-2.5 336.2L-8.5 336.2L-8.5 174.9L0.5 174.9ZM-8.5 371.2L-2.5 371.2L1.5 371.8L13.5 376.2L16.9 378.5L25.6 387.5L29.5 390.5L31.5 393.3L34.1 402.5L34.3 409.5L-8.5 409.5ZM60.5 375.8L66.5 376.5L74.8 380.5L76.7 382.5L80.6 390.5L79.9 396.5L78.5 399.3L76.5 400.5L71.5 401.8L66.5 402.5L63.1 403.5L63.1 409.5L58.1 409.5L58.1 403.5L53.5 402.1L48.5 398.5L47.4 396.5L46.4 388.5L46.6 386.5L47.5 385.2L56.7 377.5Z"/>
<path d="M509.3 0.0C506.0 1.8 499.8 4.0 496.2 5.7C492.6 7.4 490.7 7.3 487.5 10.1C484.3 12.8 480.6 18.6 477.2 22.2C473.8 25.8 470.0 29.0 466.8 31.7C463.6 34.4 459.6 35.6 458.2 38.6C456.8 41.6 459.2 46.5 458.6 49.8C458.0 53.1 457.4 54.6 454.7 58.4C452.0 62.1 445.5 68.3 442.6 72.3C439.7 76.3 438.5 78.6 437.4 82.6C436.2 86.6 435.8 92.5 435.7 96.5C435.6 100.5 436.9 103.9 436.6 106.8C436.3 109.7 433.3 111.8 434.0 113.7C434.7 115.6 439.2 116.4 440.9 118.0C442.6 119.6 444.1 120.5 444.3 123.2C444.5 126.0 443.5 130.6 441.8 134.5C440.1 138.4 436.8 142.9 434.0 146.6C431.2 150.3 428.2 153.0 425.3 156.9C422.4 160.8 419.9 166.3 416.7 169.9C413.5 173.5 409.3 176.5 406.3 178.5C403.3 180.5 401.9 180.0 398.9 181.7C395.9 183.4 392.5 185.4 388.5 188.6C384.5 191.8 380.4 197.1 374.7 200.7C368.9 204.3 361.5 207.6 354.0 210.2C346.5 212.8 336.1 214.9 329.8 216.3C323.5 217.7 319.2 217.4 316.0 218.8C312.8 220.2 312.8 222.7 310.8 224.9C308.8 227.1 306.2 228.1 303.9 231.8C301.6 235.6 299.0 242.2 297.0 247.4C295.0 252.6 293.8 259.2 291.8 262.9C289.8 266.6 288.4 267.4 284.9 269.8C281.4 272.2 275.9 274.9 271.0 277.6C266.1 280.3 258.5 283.5 255.5 286.2C252.5 288.9 254.3 290.7 252.9 294.0C251.5 297.3 248.8 301.8 246.9 306.1C245.0 310.4 242.9 315.9 241.7 319.9C240.5 323.9 240.0 326.9 239.6 330.3C239.2 333.8 239.9 337.3 239.1 340.6C238.3 343.9 237.0 347.6 234.8 350.2C232.6 352.8 229.0 353.5 226.1 356.2C223.2 358.9 220.4 363.6 217.5 366.6C214.6 369.6 211.2 372.6 208.9 374.3C206.6 376.0 205.7 375.1 203.5 377.0C201.3 378.9 197.0 383.9 196.0 385.5C195.0 387.1 196.3 387.2 197.5 386.5C198.7 385.8 202.6 381.1 203.0 381.5C203.4 381.9 201.8 386.0 200.2 389.0C198.6 392.0 194.9 396.8 193.3 399.4C191.7 402.0 191.9 400.2 190.7 404.5C189.5 408.8 124.4 421.6 186.0 425.0C247.6 428.4 497.7 500.0 560.0 425.0C622.3 350.0 567.3 46.7 560.0 -25.0C552.7 -96.7 524.5 -9.2 516.0 -5.0C507.6 -0.8 512.6 -1.8 509.3 0.0Z" fill="#fff" stroke="#fff" stroke-width="1.1" stroke-linejoin="round"/><polygon points="159.3,202.7 166.0,201.5 174.5,199.0 180.6,195.4 189.2,193.9 190.6,195.1 185.5,199.0 181.3,203.9 179.4,210.0 174.5,215.5 169.7,217.1 166.6,214.9 163.6,210.0 160.5,205.7" fill="#fff" stroke="#fff" stroke-width="1.4" stroke-linejoin="round"/><polygon points="206.9,210.6 209.0,212.2 212.3,211.8 216.0,212.0 218.4,210.0 219.1,214.9 220.3,219.7 218.4,224.0 213.6,227.1 208.7,227.1 203.8,223.4 201.7,218.5 203.2,214.3" fill="#fff" stroke="#fff" stroke-width="1.4" stroke-linejoin="round"/><polygon points="274.5,187.4 278.8,188.0 280.6,192.9 280.0,200.2 277.0,207.6 269.7,210.0 263.6,213.0 258.7,215.5 253.8,214.3 254.4,212.4 262.3,210.6 266.6,205.1 269.7,199.0 272.1,191.7" fill="#fff" stroke="#fff" stroke-width="1.4" stroke-linejoin="round"/><polygon points="292.8,166.1 295.9,169.1 295.3,174.6 291.6,177.7 286.7,178.9 282.5,183.8 278.2,182.6 280.0,177.7 284.3,174.0 289.8,172.8 291.0,167.9" fill="#fff" stroke="#fff" stroke-width="1.4" stroke-linejoin="round"/><polygon points="117.0,186.2 120.0,183.8 124.9,183.8 128.0,187.4 127.0,192.9 123.7,199.6 121.3,195.4 118.2,190.5" fill="#fff" stroke="#fff" stroke-width="1.4" stroke-linejoin="round"/><polygon points="109.9,226.5 115.8,225.2 120.0,222.4 121.9,224.6 118.8,230.1 116.4,231.3 112.1,228.9" fill="#fff" stroke="#fff" stroke-width="1.4" stroke-linejoin="round"/><polygon points="145.6,28.4 148.1,25.6 152.3,28.4 158.4,27.1 164.5,29.6 168.8,30.2 164.5,33.8 159.7,35.7 153.6,34.5 148.7,32.0" fill="#fff" stroke="#fff" stroke-width="1.4" stroke-linejoin="round"/><polygon points="179.4,19.2 182.2,16.8 184.7,18.0 182.8,19.5 180.4,20.2" fill="#fff" stroke="#fff" stroke-width="1.4" stroke-linejoin="round"/><polygon points="173.3,37.3 174.9,37.7 176.5,41.2 175.3,40.9" fill="#fff" stroke="#fff" stroke-width="1.4" stroke-linejoin="round"/><ellipse cx="147.1" cy="212.2" rx="5.8" ry="4.6" fill="#fff"/>

<path d="M509.3 0.0C506.0 1.8 499.8 4.0 496.2 5.7C492.6 7.4 490.7 7.3 487.5 10.1C484.3 12.8 480.6 18.6 477.2 22.2C473.8 25.8 470.0 29.0 466.8 31.7C463.6 34.4 459.6 35.6 458.2 38.6C456.8 41.6 459.2 46.5 458.6 49.8C458.0 53.1 457.4 54.6 454.7 58.4C452.0 62.1 445.5 68.3 442.6 72.3C439.7 76.3 438.5 78.6 437.4 82.6C436.2 86.6 435.8 92.5 435.7 96.5C435.6 100.5 436.9 103.9 436.6 106.8C436.3 109.7 433.3 111.8 434.0 113.7C434.7 115.6 439.2 116.4 440.9 118.0C442.6 119.6 444.1 120.5 444.3 123.2C444.5 126.0 443.5 130.6 441.8 134.5C440.1 138.4 436.8 142.9 434.0 146.6C431.2 150.3 428.2 153.0 425.3 156.9C422.4 160.8 419.9 166.3 416.7 169.9C413.5 173.5 409.3 176.5 406.3 178.5C403.3 180.5 401.9 180.0 398.9 181.7C395.9 183.4 392.5 185.4 388.5 188.6C384.5 191.8 380.4 197.1 374.7 200.7C368.9 204.3 361.5 207.6 354.0 210.2C346.5 212.8 336.1 214.9 329.8 216.3C323.5 217.7 319.2 217.4 316.0 218.8C312.8 220.2 312.8 222.7 310.8 224.9C308.8 227.1 306.2 228.1 303.9 231.8C301.6 235.6 299.0 242.2 297.0 247.4C295.0 252.6 293.8 259.2 291.8 262.9C289.8 266.6 288.4 267.4 284.9 269.8C281.4 272.2 275.9 274.9 271.0 277.6C266.1 280.3 258.5 283.5 255.5 286.2C252.5 288.9 254.3 290.7 252.9 294.0C251.5 297.3 248.8 301.8 246.9 306.1C245.0 310.4 242.9 315.9 241.7 319.9C240.5 323.9 240.0 326.9 239.6 330.3C239.2 333.8 239.9 337.3 239.1 340.6C238.3 343.9 237.0 347.6 234.8 350.2C232.6 352.8 229.0 353.5 226.1 356.2C223.2 358.9 220.4 363.6 217.5 366.6C214.6 369.6 211.2 372.6 208.9 374.3C206.6 376.0 205.7 375.1 203.5 377.0C201.3 378.9 197.0 383.9 196.0 385.5C195.0 387.1 196.3 387.2 197.5 386.5C198.7 385.8 202.6 381.1 203.0 381.5C203.4 381.9 201.8 386.0 200.2 389.0C198.6 392.0 194.9 396.8 193.3 399.4C191.7 402.0 191.9 400.2 190.7 404.5C189.5 408.8 124.4 421.6 186.0 425.0C247.6 428.4 497.7 500.0 560.0 425.0C622.3 350.0 567.3 46.7 560.0 -25.0C552.7 -96.7 524.5 -9.2 516.0 -5.0C507.6 -0.8 512.6 -1.8 509.3 0.0Z" fill="#000"/><path d="M159.3 202.7C160.2 202.0 163.5 202.1 166.0 201.5C168.5 200.9 172.1 200.0 174.5 199.0C176.9 198.0 178.2 196.2 180.6 195.4C183.0 194.6 187.5 194.0 189.2 193.9C190.9 193.8 191.2 194.2 190.6 195.1C190.0 195.9 187.1 197.5 185.5 199.0C183.9 200.5 182.3 202.1 181.3 203.9C180.3 205.7 180.5 208.1 179.4 210.0C178.3 211.9 176.1 214.3 174.5 215.5C172.9 216.7 171.0 217.2 169.7 217.1C168.4 217.0 167.6 216.1 166.6 214.9C165.6 213.7 164.6 211.5 163.6 210.0C162.6 208.5 161.2 206.9 160.5 205.7C159.8 204.5 158.4 203.4 159.3 202.7Z" fill="#000" stroke="#000" stroke-width="0.6" stroke-linejoin="round"/><path d="M206.9 210.6C207.9 210.2 208.1 212.0 209.0 212.2C209.9 212.4 211.1 211.8 212.3 211.8C213.5 211.8 215.0 212.3 216.0 212.0C217.0 211.7 217.9 209.5 218.4 210.0C218.9 210.5 218.8 213.3 219.1 214.9C219.4 216.5 220.4 218.2 220.3 219.7C220.2 221.2 219.5 222.8 218.4 224.0C217.3 225.2 215.2 226.6 213.6 227.1C212.0 227.6 210.3 227.7 208.7 227.1C207.1 226.5 205.0 224.8 203.8 223.4C202.6 222.0 201.8 220.0 201.7 218.5C201.6 217.0 202.3 215.6 203.2 214.3C204.1 213.0 205.9 210.9 206.9 210.6Z" fill="#000" stroke="#000" stroke-width="0.6" stroke-linejoin="round"/><path d="M274.5 187.4C275.6 186.8 277.8 187.1 278.8 188.0C279.8 188.9 280.4 190.9 280.6 192.9C280.8 194.9 280.6 197.8 280.0 200.2C279.4 202.6 278.7 206.0 277.0 207.6C275.3 209.2 271.9 209.1 269.7 210.0C267.5 210.9 265.4 212.1 263.6 213.0C261.8 213.9 260.3 215.3 258.7 215.5C257.1 215.7 254.5 214.8 253.8 214.3C253.1 213.8 253.0 213.0 254.4 212.4C255.8 211.8 260.3 211.8 262.3 210.6C264.3 209.4 265.4 207.0 266.6 205.1C267.8 203.2 268.8 201.2 269.7 199.0C270.6 196.8 271.3 193.6 272.1 191.7C272.9 189.8 273.4 188.0 274.5 187.4Z" fill="#000" stroke="#000" stroke-width="0.6" stroke-linejoin="round"/><path d="M292.8 166.1C293.6 166.3 295.5 167.7 295.9 169.1C296.3 170.5 296.0 173.2 295.3 174.6C294.6 176.0 293.0 177.0 291.6 177.7C290.2 178.4 288.2 177.9 286.7 178.9C285.2 179.9 283.9 183.2 282.5 183.8C281.1 184.4 278.6 183.6 278.2 182.6C277.8 181.6 279.0 179.1 280.0 177.7C281.0 176.3 282.7 174.8 284.3 174.0C285.9 173.2 288.7 173.8 289.8 172.8C290.9 171.8 290.5 169.0 291.0 167.9C291.5 166.8 292.0 165.9 292.8 166.1Z" fill="#000" stroke="#000" stroke-width="0.6" stroke-linejoin="round"/><path d="M117.0 186.2C117.3 185.1 118.7 184.2 120.0 183.8C121.3 183.4 123.6 183.2 124.9 183.8C126.2 184.4 127.7 185.9 128.0 187.4C128.3 188.9 127.7 190.9 127.0 192.9C126.3 194.9 124.7 199.2 123.7 199.6C122.8 200.0 122.2 196.9 121.3 195.4C120.4 193.9 118.9 192.0 118.2 190.5C117.5 189.0 116.7 187.3 117.0 186.2Z" fill="#000" stroke="#000" stroke-width="0.6" stroke-linejoin="round"/><path d="M109.9 226.5C110.5 225.9 114.1 225.9 115.8 225.2C117.5 224.5 119.0 222.5 120.0 222.4C121.0 222.3 122.1 223.3 121.9 224.6C121.7 225.9 119.7 229.0 118.8 230.1C117.9 231.2 117.5 231.5 116.4 231.3C115.3 231.1 113.2 229.7 112.1 228.9C111.0 228.1 109.3 227.1 109.9 226.5Z" fill="#000" stroke="#000" stroke-width="0.6" stroke-linejoin="round"/><path d="M145.6 28.4C145.5 27.3 147.0 25.6 148.1 25.6C149.2 25.6 150.6 28.1 152.3 28.4C154.0 28.6 156.4 26.9 158.4 27.1C160.4 27.3 162.8 29.1 164.5 29.6C166.2 30.1 168.8 29.5 168.8 30.2C168.8 30.9 166.0 32.9 164.5 33.8C163.0 34.7 161.5 35.6 159.7 35.7C157.9 35.8 155.4 35.1 153.6 34.5C151.8 33.9 150.0 33.0 148.7 32.0C147.4 31.0 145.7 29.5 145.6 28.4Z" fill="#000" stroke="#000" stroke-width="0.6" stroke-linejoin="round"/><path d="M179.4 19.2C179.7 18.6 181.3 17.0 182.2 16.8C183.1 16.6 184.6 17.6 184.7 18.0C184.8 18.4 183.5 19.1 182.8 19.5C182.1 19.9 181.0 20.2 180.4 20.2C179.8 20.1 179.1 19.8 179.4 19.2Z" fill="#000" stroke="#000" stroke-width="0.6" stroke-linejoin="round"/><path d="M173.3 37.3C173.2 36.8 174.4 37.1 174.9 37.7C175.4 38.4 176.4 40.7 176.5 41.2C176.6 41.7 175.8 41.5 175.3 40.9C174.8 40.2 173.4 37.8 173.3 37.3Z" fill="#000" stroke="#000" stroke-width="0.6" stroke-linejoin="round"/><ellipse cx="147.1" cy="212.2" rx="5.4" ry="4.2" fill="#000"/>
<g stroke="#808080" stroke-opacity="0.4" stroke-width="1" fill="none"><path d="M38.5 0V403.5"/><path d="M116.8 0V403.5"/><path d="M195.2 0V403.5"/><path d="M273.5 0V403.5"/><path d="M351.9 0V403.5"/><path d="M430.2 0V403.5"/><path d="M-5.0 21.0H508.2"/><path d="M-5.0 60.2H508.2"/><path d="M-5.0 99.5H508.2"/><path d="M-5.0 138.8H508.2"/><path d="M-5.0 178.0H508.2"/><path d="M-5.0 217.2H508.2"/><path d="M-5.0 256.5H508.2"/><path d="M-5.0 295.8H508.2"/><path d="M-5.0 335.0H508.2"/><path d="M-5.0 374.2H508.2"/></g>
</g>
<rect x="0.0" y="0" width="508.2" height="403.5" fill="none" stroke="#3a3a3a" stroke-width="1.1"/>
</g>
<text x="360.1" y="46.1" font-size="58.8" text-anchor="middle" fill="#000" font-family='"DejaVu Sans","Liberation Sans",sans-serif' font-weight="normal" >Wind</text>
<text x="1079.5" y="46.1" font-size="58.8" text-anchor="middle" fill="#000" font-family='"DejaVu Sans","Liberation Sans",sans-serif' font-weight="normal" >SST</text>
<text x="5.0" y="35.0" font-size="29.2" text-anchor="start" fill="#000" font-family='"Liberation Sans","DejaVu Sans",sans-serif' font-weight="bold" >A</text>
<text x="5.5" y="511.5" font-size="29.2" text-anchor="start" fill="#000" font-family='"Liberation Sans","DejaVu Sans",sans-serif' font-weight="bold" >B</text>
<text x="5.0" y="972.0" font-size="29.2" text-anchor="start" fill="#000" font-family='"Liberation Sans","DejaVu Sans",sans-serif' font-weight="bold" >C</text>
<text x="790.5" y="34.7" font-size="29.2" text-anchor="start" fill="#000" font-family='"Liberation Sans","DejaVu Sans",sans-serif' font-weight="bold" >D</text>
<text x="791.0" y="511.5" font-size="29.2" text-anchor="start" fill="#000" font-family='"Liberation Sans","DejaVu Sans",sans-serif' font-weight="bold" >E</text>
<text x="791.0" y="972.5" font-size="29.2" text-anchor="start" fill="#000" font-family='"Liberation Sans","DejaVu Sans",sans-serif' font-weight="bold" >F</text>
<text x="594.7" y="393.3" font-size="41.4" text-anchor="end" fill="#fff" font-family='"DejaVu Sans","Liberation Sans",sans-serif' font-weight="normal" >satellite</text>
<text x="594.7" y="860.4" font-size="41.4" text-anchor="end" fill="#fff" font-family='"DejaVu Sans","Liberation Sans",sans-serif' font-weight="normal" >model</text>
<text x="594.7" y="1326.8" font-size="41.4" text-anchor="end" fill="#fff" font-family='"DejaVu Sans","Liberation Sans",sans-serif' font-weight="normal" >model - sat</text>
<text x="1314.2" y="393.3" font-size="41.4" text-anchor="end" fill="#fff" font-family='"DejaVu Sans","Liberation Sans",sans-serif' font-weight="normal" >satellite</text>
<text x="1314.2" y="860.4" font-size="41.4" text-anchor="end" fill="#fff" font-family='"DejaVu Sans","Liberation Sans",sans-serif' font-weight="normal" >model</text>
<text x="1314.2" y="1326.8" font-size="41.4" text-anchor="end" fill="#fff" font-family='"DejaVu Sans","Liberation Sans",sans-serif' font-weight="normal" >model - sat</text>
<text x="101.2" y="85.9" font-size="23.4" text-anchor="end" fill="#000" font-family='"DejaVu Sans","Liberation Sans",sans-serif' font-weight="normal" >33°N</text>
<text x="101.2" y="125.1" font-size="23.4" text-anchor="end" fill="#000" font-family='"DejaVu Sans","Liberation Sans",sans-serif' font-weight="normal" >32°N</text>
<text x="101.2" y="164.4" font-size="23.4" text-anchor="end" fill="#000" font-family='"DejaVu Sans","Liberation Sans",sans-serif' font-weight="normal" >31°N</text>
<text x="101.2" y="203.7" font-size="23.4" text-anchor="end" fill="#000" font-family='"DejaVu Sans","Liberation Sans",sans-serif' font-weight="normal" >30°N</text>
<text x="101.2" y="242.9" font-size="23.4" text-anchor="end" fill="#000" font-family='"DejaVu Sans","Liberation Sans",sans-serif' font-weight="normal" >29°N</text>
<text x="101.2" y="282.2" font-size="23.4" text-anchor="end" fill="#000" font-family='"DejaVu Sans","Liberation Sans",sans-serif' font-weight="normal" >28°N</text>
<text x="101.2" y="321.4" font-size="23.4" text-anchor="end" fill="#000" font-family='"DejaVu Sans","Liberation Sans",sans-serif' font-weight="normal" >27°N</text>
<text x="101.2" y="360.7" font-size="23.4" text-anchor="end" fill="#000" font-family='"DejaVu Sans","Liberation Sans",sans-serif' font-weight="normal" >26°N</text>
<text x="101.2" y="399.9" font-size="23.4" text-anchor="end" fill="#000" font-family='"DejaVu Sans","Liberation Sans",sans-serif' font-weight="normal" >25°N</text>
<text x="101.2" y="439.2" font-size="23.4" text-anchor="end" fill="#000" font-family='"DejaVu Sans","Liberation Sans",sans-serif' font-weight="normal" >24°N</text>
<text transform="translate(25.0,260.8) rotate(-90)" font-size="27.5" text-anchor="middle" font-family='"DejaVu Sans","Liberation Sans",sans-serif'>Latitude (N)</text>
<text x="101.2" y="553.0" font-size="23.4" text-anchor="end" fill="#000" font-family='"DejaVu Sans","Liberation Sans",sans-serif' font-weight="normal" >33°N</text>
<text x="101.2" y="592.2" font-size="23.4" text-anchor="end" fill="#000" font-family='"DejaVu Sans","Liberation Sans",sans-serif' font-weight="normal" >32°N</text>
<text x="101.2" y="631.5" font-size="23.4" text-anchor="end" fill="#000" font-family='"DejaVu Sans","Liberation Sans",sans-serif' font-weight="normal" >31°N</text>
<text x="101.2" y="670.8" font-size="23.4" text-anchor="end" fill="#000" font-family='"DejaVu Sans","Liberation Sans",sans-serif' font-weight="normal" >30°N</text>
<text x="101.2" y="710.0" font-size="23.4" text-anchor="end" fill="#000" font-family='"DejaVu Sans","Liberation Sans",sans-serif' font-weight="normal" >29°N</text>
<text x="101.2" y="749.2" font-size="23.4" text-anchor="end" fill="#000" font-family='"DejaVu Sans","Liberation Sans",sans-serif' font-weight="normal" >28°N</text>
<text x="101.2" y="788.5" font-size="23.4" text-anchor="end" fill="#000" font-family='"DejaVu Sans","Liberation Sans",sans-serif' font-weight="normal" >27°N</text>
<text x="101.2" y="827.8" font-size="23.4" text-anchor="end" fill="#000" font-family='"DejaVu Sans","Liberation Sans",sans-serif' font-weight="normal" >26°N</text>
<text x="101.2" y="867.0" font-size="23.4" text-anchor="end" fill="#000" font-family='"DejaVu Sans","Liberation Sans",sans-serif' font-weight="normal" >25°N</text>
<text x="101.2" y="906.2" font-size="23.4" text-anchor="end" fill="#000" font-family='"DejaVu Sans","Liberation Sans",sans-serif' font-weight="normal" >24°N</text>
<text transform="translate(25.0,727.9) rotate(-90)" font-size="27.5" text-anchor="middle" font-family='"DejaVu Sans","Liberation Sans",sans-serif'>Latitude (N)</text>
<text x="98.2" y="1019.4" font-size="23.4" text-anchor="end" fill="#000" font-family='"DejaVu Sans","Liberation Sans",sans-serif' font-weight="normal" >33°N</text>
<text x="98.2" y="1058.6" font-size="23.4" text-anchor="end" fill="#000" font-family='"DejaVu Sans","Liberation Sans",sans-serif' font-weight="normal" >32°N</text>
<text x="98.2" y="1097.9" font-size="23.4" text-anchor="end" fill="#000" font-family='"DejaVu Sans","Liberation Sans",sans-serif' font-weight="normal" >31°N</text>
<text x="98.2" y="1137.1" font-size="23.4" text-anchor="end" fill="#000" font-family='"DejaVu Sans","Liberation Sans",sans-serif' font-weight="normal" >30°N</text>
<text x="98.2" y="1176.4" font-size="23.4" text-anchor="end" fill="#000" font-family='"DejaVu Sans","Liberation Sans",sans-serif' font-weight="normal" >29°N</text>
<text x="98.2" y="1215.6" font-size="23.4" text-anchor="end" fill="#000" font-family='"DejaVu Sans","Liberation Sans",sans-serif' font-weight="normal" >28°N</text>
<text x="98.2" y="1254.9" font-size="23.4" text-anchor="end" fill="#000" font-family='"DejaVu Sans","Liberation Sans",sans-serif' font-weight="normal" >27°N</text>
<text x="98.2" y="1294.1" font-size="23.4" text-anchor="end" fill="#000" font-family='"DejaVu Sans","Liberation Sans",sans-serif' font-weight="normal" >26°N</text>
<text x="98.2" y="1333.4" font-size="23.4" text-anchor="end" fill="#000" font-family='"DejaVu Sans","Liberation Sans",sans-serif' font-weight="normal" >25°N</text>
<text x="98.2" y="1372.6" font-size="23.4" text-anchor="end" fill="#000" font-family='"DejaVu Sans","Liberation Sans",sans-serif' font-weight="normal" >24°N</text>
<text transform="translate(22.0,1194.2) rotate(-90)" font-size="27.5" text-anchor="middle" font-family='"DejaVu Sans","Liberation Sans",sans-serif'>Latitude (N)</text>
<text x="144.2" y="1418.5" font-size="23.4" text-anchor="middle" fill="#000" font-family='"DejaVu Sans","Liberation Sans",sans-serif' font-weight="normal" >20°W</text>
<text x="222.6" y="1418.5" font-size="23.4" text-anchor="middle" fill="#000" font-family='"DejaVu Sans","Liberation Sans",sans-serif' font-weight="normal" >18°W</text>
<text x="300.9" y="1418.5" font-size="23.4" text-anchor="middle" fill="#000" font-family='"DejaVu Sans","Liberation Sans",sans-serif' font-weight="normal" >16°W</text>
<text x="379.2" y="1418.5" font-size="23.4" text-anchor="middle" fill="#000" font-family='"DejaVu Sans","Liberation Sans",sans-serif' font-weight="normal" >14°W</text>
<text x="457.6" y="1418.5" font-size="23.4" text-anchor="middle" fill="#000" font-family='"DejaVu Sans","Liberation Sans",sans-serif' font-weight="normal" >12°W</text>
<text x="536.0" y="1418.5" font-size="23.4" text-anchor="middle" fill="#000" font-family='"DejaVu Sans","Liberation Sans",sans-serif' font-weight="normal" >10°W</text>
<text x="359.3" y="1450.6" font-size="27.5" text-anchor="middle" fill="#000" font-family='"DejaVu Sans","Liberation Sans",sans-serif' font-weight="normal" >Longitude (W)</text>
<text x="864.7" y="1418.5" font-size="23.4" text-anchor="middle" fill="#000" font-family='"DejaVu Sans","Liberation Sans",sans-serif' font-weight="normal" >20°W</text>
<text x="943.1" y="1418.5" font-size="23.4" text-anchor="middle" fill="#000" font-family='"DejaVu Sans","Liberation Sans",sans-serif' font-weight="normal" >18°W</text>
<text x="1021.4" y="1418.5" font-size="23.4" text-anchor="middle" fill="#000" font-family='"DejaVu Sans","Liberation Sans",sans-serif' font-weight="normal" >16°W</text>
<text x="1099.8" y="1418.5" font-size="23.4" text-anchor="middle" fill="#000" font-family='"DejaVu Sans","Liberation Sans",sans-serif' font-weight="normal" >14°W</text>
<text x="1178.1" y="1418.5" font-size="23.4" text-anchor="middle" fill="#000" font-family='"DejaVu Sans","Liberation Sans",sans-serif' font-weight="normal" >12°W</text>
<text x="1256.5" y="1418.5" font-size="23.4" text-anchor="middle" fill="#000" font-family='"DejaVu Sans","Liberation Sans",sans-serif' font-weight="normal" >10°W</text>
<text x="1078.8" y="1450.6" font-size="27.5" text-anchor="middle" fill="#000" font-family='"DejaVu Sans","Liberation Sans",sans-serif' font-weight="normal" >Longitude (W)</text>
<rect x="143.2" y="466.8" width="2" height="1" fill="#bbb"/>
<rect x="221.6" y="466.8" width="2" height="1" fill="#bbb"/>
<rect x="299.9" y="466.8" width="2" height="1" fill="#bbb"/>
<rect x="378.2" y="466.8" width="2" height="1" fill="#bbb"/>
<rect x="456.6" y="466.8" width="2" height="1" fill="#bbb"/>
<rect x="535.0" y="466.8" width="2" height="1" fill="#bbb"/>
<rect x="143.2" y="933.9" width="2" height="1" fill="#bbb"/>
<rect x="221.6" y="933.9" width="2" height="1" fill="#bbb"/>
<rect x="299.9" y="933.9" width="2" height="1" fill="#bbb"/>
<rect x="378.2" y="933.9" width="2" height="1" fill="#bbb"/>
<rect x="456.6" y="933.9" width="2" height="1" fill="#bbb"/>
<rect x="535.0" y="933.9" width="2" height="1" fill="#bbb"/>
<rect x="863.7" y="466.8" width="2" height="1" fill="#bbb"/>
<rect x="942.1" y="466.8" width="2" height="1" fill="#bbb"/>
<rect x="1020.4" y="466.8" width="2" height="1" fill="#bbb"/>
<rect x="1098.8" y="466.8" width="2" height="1" fill="#bbb"/>
<rect x="1177.1" y="466.8" width="2" height="1" fill="#bbb"/>
<rect x="1255.5" y="466.8" width="2" height="1" fill="#bbb"/>
<rect x="863.7" y="933.9" width="2" height="1" fill="#bbb"/>
<rect x="942.1" y="933.9" width="2" height="1" fill="#bbb"/>
<rect x="1020.4" y="933.9" width="2" height="1" fill="#bbb"/>
<rect x="1098.8" y="933.9" width="2" height="1" fill="#bbb"/>
<rect x="1177.1" y="933.9" width="2" height="1" fill="#bbb"/>
<rect x="1255.5" y="933.9" width="2" height="1" fill="#bbb"/>
<rect x="819.2" y="78.8" width="2" height="1" fill="#bbb"/>
<rect x="819.2" y="118.0" width="2" height="1" fill="#bbb"/>
<rect x="819.2" y="157.3" width="2" height="1" fill="#bbb"/>
<rect x="819.2" y="196.6" width="2" height="1" fill="#bbb"/>
<rect x="819.2" y="235.8" width="2" height="1" fill="#bbb"/>
<rect x="819.2" y="275.1" width="2" height="1" fill="#bbb"/>
<rect x="819.2" y="314.3" width="2" height="1" fill="#bbb"/>
<rect x="819.2" y="353.6" width="2" height="1" fill="#bbb"/>
<rect x="819.2" y="392.8" width="2" height="1" fill="#bbb"/>
<rect x="819.2" y="432.1" width="2" height="1" fill="#bbb"/>
<rect x="819.2" y="545.9" width="2" height="1" fill="#bbb"/>
<rect x="819.2" y="585.1" width="2" height="1" fill="#bbb"/>
<rect x="819.2" y="624.4" width="2" height="1" fill="#bbb"/>
<rect x="819.2" y="663.6" width="2" height="1" fill="#bbb"/>
<rect x="819.2" y="702.9" width="2" height="1" fill="#bbb"/>
<rect x="819.2" y="742.1" width="2" height="1" fill="#bbb"/>
<rect x="819.2" y="781.4" width="2" height="1" fill="#bbb"/>
<rect x="819.2" y="820.6" width="2" height="1" fill="#bbb"/>
<rect x="819.2" y="859.9" width="2" height="1" fill="#bbb"/>
<rect x="819.2" y="899.1" width="2" height="1" fill="#bbb"/>
<rect x="819.2" y="1012.3" width="2" height="1" fill="#bbb"/>
<rect x="819.2" y="1051.5" width="2" height="1" fill="#bbb"/>
<rect x="819.2" y="1090.8" width="2" height="1" fill="#bbb"/>
<rect x="819.2" y="1130.0" width="2" height="1" fill="#bbb"/>
<rect x="819.2" y="1169.3" width="2" height="1" fill="#bbb"/>
<rect x="819.2" y="1208.5" width="2" height="1" fill="#bbb"/>
<rect x="819.2" y="1247.8" width="2" height="1" fill="#bbb"/>
<rect x="819.2" y="1287.0" width="2" height="1" fill="#bbb"/>
<rect x="819.2" y="1326.3" width="2" height="1" fill="#bbb"/>
<rect x="819.2" y="1365.5" width="2" height="1" fill="#bbb"/>
<rect x="645.3" y="429.78" width="20.2" height="32.42" fill="#fff9be"/>
<rect x="645.3" y="397.75" width="20.2" height="32.42" fill="#ffeda0"/>
<rect x="645.3" y="365.73" width="20.2" height="32.42" fill="#fee084"/>
<rect x="645.3" y="333.70" width="20.2" height="32.42" fill="#fecc68"/>
<rect x="645.3" y="301.68" width="20.2" height="32.42" fill="#feb24c"/>
<rect x="645.3" y="269.66" width="20.2" height="32.42" fill="#fd9941"/>
<rect x="645.3" y="237.63" width="20.2" height="32.42" fill="#fd7836"/>
<rect x="645.3" y="205.61" width="20.2" height="32.42" fill="#fc4d2a"/>
<rect x="645.3" y="173.59" width="20.2" height="32.42" fill="#eb2b21"/>
<rect x="645.3" y="141.56" width="20.2" height="32.42" fill="#d6111f"/>
<rect x="645.3" y="109.54" width="20.2" height="32.42" fill="#bb0026"/>
<rect x="645.3" y="77.51" width="20.2" height="32.42" fill="#930026"/>
<polygon points="645.3,77.8 655.4,58.3 665.5,77.8" fill="#800026"/>
<polygon points="645.3,77.5 655.4,58.3 665.5,77.5 665.5,461.8 645.3,461.8" fill="none" stroke="#444" stroke-width="0.9"/>
<path d="M665.5 461.8h4" stroke="#000" stroke-width="1"/>
<text x="672.5" y="471.5" font-size="25.6" text-anchor="start" fill="#000" font-family='"DejaVu Sans","Liberation Sans",sans-serif' font-weight="normal" >2</text>
<path d="M665.5 429.8h4" stroke="#000" stroke-width="1"/>
<text x="672.5" y="439.5" font-size="25.6" text-anchor="start" fill="#000" font-family='"DejaVu Sans","Liberation Sans",sans-serif' font-weight="normal" >3</text>
<path d="M665.5 397.8h4" stroke="#000" stroke-width="1"/>
<text x="672.5" y="407.5" font-size="25.6" text-anchor="start" fill="#000" font-family='"DejaVu Sans","Liberation Sans",sans-serif' font-weight="normal" >4</text>
<path d="M665.5 365.7h4" stroke="#000" stroke-width="1"/>
<text x="672.5" y="375.4" font-size="25.6" text-anchor="start" fill="#000" font-family='"DejaVu Sans","Liberation Sans",sans-serif' font-weight="normal" >5</text>
<path d="M665.5 333.7h4" stroke="#000" stroke-width="1"/>
<text x="672.5" y="343.4" font-size="25.6" text-anchor="start" fill="#000" font-family='"DejaVu Sans","Liberation Sans",sans-serif' font-weight="normal" >6</text>
<path d="M665.5 301.7h4" stroke="#000" stroke-width="1"/>
<text x="672.5" y="311.4" font-size="25.6" text-anchor="start" fill="#000" font-family='"DejaVu Sans","Liberation Sans",sans-serif' font-weight="normal" >7</text>
<path d="M665.5 269.7h4" stroke="#000" stroke-width="1"/>
<text x="672.5" y="279.4" font-size="25.6" text-anchor="start" fill="#000" font-family='"DejaVu Sans","Liberation Sans",sans-serif' font-weight="normal" >8</text>
<path d="M665.5 237.6h4" stroke="#000" stroke-width="1"/>
<text x="672.5" y="247.3" font-size="25.6" text-anchor="start" fill="#000" font-family='"DejaVu Sans","Liberation Sans",sans-serif' font-weight="normal" >9</text>
<path d="M665.5 205.6h4" stroke="#000" stroke-width="1"/>
<text x="672.5" y="215.3" font-size="25.6" text-anchor="start" fill="#000" font-family='"DejaVu Sans","Liberation Sans",sans-serif' font-weight="normal" >10</text>
<path d="M665.5 173.6h4" stroke="#000" stroke-width="1"/>
<text x="672.5" y="183.3" font-size="25.6" text-anchor="start" fill="#000" font-family='"DejaVu Sans","Liberation Sans",sans-serif' font-weight="normal" >11</text>
<path d="M665.5 141.6h4" stroke="#000" stroke-width="1"/>
<text x="672.5" y="151.3" font-size="25.6" text-anchor="start" fill="#000" font-family='"DejaVu Sans","Liberation Sans",sans-serif' font-weight="normal" >12</text>
<path d="M665.5 109.5h4" stroke="#000" stroke-width="1"/>
<text x="672.5" y="119.2" font-size="25.6" text-anchor="start" fill="#000" font-family='"DejaVu Sans","Liberation Sans",sans-serif' font-weight="normal" >13</text>
<path d="M665.5 77.5h4" stroke="#000" stroke-width="1"/>
<text x="672.5" y="87.2" font-size="25.6" text-anchor="start" fill="#000" font-family='"DejaVu Sans","Liberation Sans",sans-serif' font-weight="normal" >14</text>
<text transform="translate(730.7,269.7) rotate(-90)" font-size="26" text-anchor="middle" font-family='"DejaVu Sans","Liberation Sans",sans-serif'>(m.s<tspan dy="-9.5" font-size="18.2">−1</tspan><tspan dy="9.5">)</tspan></text>
<rect x="645.3" y="896.88" width="20.2" height="32.42" fill="#fff9be"/>
<rect x="645.3" y="864.85" width="20.2" height="32.42" fill="#ffeda0"/>
<rect x="645.3" y="832.83" width="20.2" height="32.42" fill="#fee084"/>
<rect x="645.3" y="800.80" width="20.2" height="32.42" fill="#fecc68"/>
<rect x="645.3" y="768.78" width="20.2" height="32.42" fill="#feb24c"/>
<rect x="645.3" y="736.76" width="20.2" height="32.42" fill="#fd9941"/>
<rect x="645.3" y="704.73" width="20.2" height="32.42" fill="#fd7836"/>
<rect x="645.3" y="672.71" width="20.2" height="32.42" fill="#fc4d2a"/>
<rect x="645.3" y="640.69" width="20.2" height="32.42" fill="#eb2b21"/>
<rect x="645.3" y="608.66" width="20.2" height="32.42" fill="#d6111f"/>
<rect x="645.3" y="576.64" width="20.2" height="32.42" fill="#bb0026"/>
<rect x="645.3" y="544.61" width="20.2" height="32.42" fill="#930026"/>
<polygon points="645.3,544.9 655.4,525.4 665.5,544.9" fill="#800026"/>
<polygon points="645.3,544.6 655.4,525.4 665.5,544.6 665.5,928.9 645.3,928.9" fill="none" stroke="#444" stroke-width="0.9"/>
<path d="M665.5 928.9h4" stroke="#000" stroke-width="1"/>
<text x="672.5" y="938.6" font-size="25.6" text-anchor="start" fill="#000" font-family='"DejaVu Sans","Liberation Sans",sans-serif' font-weight="normal" >2</text>
<path d="M665.5 896.9h4" stroke="#000" stroke-width="1"/>
<text x="672.5" y="906.6" font-size="25.6" text-anchor="start" fill="#000" font-family='"DejaVu Sans","Liberation Sans",sans-serif' font-weight="normal" >3</text>
<path d="M665.5 864.9h4" stroke="#000" stroke-width="1"/>
<text x="672.5" y="874.6" font-size="25.6" text-anchor="start" fill="#000" font-family='"DejaVu Sans","Liberation Sans",sans-serif' font-weight="normal" >4</text>
<path d="M665.5 832.8h4" stroke="#000" stroke-width="1"/>
<text x="672.5" y="842.5" font-size="25.6" text-anchor="start" fill="#000" font-family='"DejaVu Sans","Liberation Sans",sans-serif' font-weight="normal" >5</text>
<path d="M665.5 800.8h4" stroke="#000" stroke-width="1"/>
<text x="672.5" y="810.5" font-size="25.6" text-anchor="start" fill="#000" font-family='"DejaVu Sans","Liberation Sans",sans-serif' font-weight="normal" >6</text>
<path d="M665.5 768.8h4" stroke="#000" stroke-width="1"/>
<text x="672.5" y="778.5" font-size="25.6" text-anchor="start" fill="#000" font-family='"DejaVu Sans","Liberation Sans",sans-serif' font-weight="normal" >7</text>
<path d="M665.5 736.8h4" stroke="#000" stroke-width="1"/>
<text x="672.5" y="746.5" font-size="25.6" text-anchor="start" fill="#000" font-family='"DejaVu Sans","Liberation Sans",sans-serif' font-weight="normal" >8</text>
<path d="M665.5 704.7h4" stroke="#000" stroke-width="1"/>
<text x="672.5" y="714.4" font-size="25.6" text-anchor="start" fill="#000" font-family='"DejaVu Sans","Liberation Sans",sans-serif' font-weight="normal" >9</text>
<path d="M665.5 672.7h4" stroke="#000" stroke-width="1"/>
<text x="672.5" y="682.4" font-size="25.6" text-anchor="start" fill="#000" font-family='"DejaVu Sans","Liberation Sans",sans-serif' font-weight="normal" >10</text>
<path d="M665.5 640.7h4" stroke="#000" stroke-width="1"/>
<text x="672.5" y="650.4" font-size="25.6" text-anchor="start" fill="#000" font-family='"DejaVu Sans","Liberation Sans",sans-serif' font-weight="normal" >11</text>
<path d="M665.5 608.7h4" stroke="#000" stroke-width="1"/>
<text x="672.5" y="618.4" font-size="25.6" text-anchor="start" fill="#000" font-family='"DejaVu Sans","Liberation Sans",sans-serif' font-weight="normal" >12</text>
<path d="M665.5 576.6h4" stroke="#000" stroke-width="1"/>
<text x="672.5" y="586.3" font-size="25.6" text-anchor="start" fill="#000" font-family='"DejaVu Sans","Liberation Sans",sans-serif' font-weight="normal" >13</text>
<path d="M665.5 544.6h4" stroke="#000" stroke-width="1"/>
<text x="672.5" y="554.3" font-size="25.6" text-anchor="start" fill="#000" font-family='"DejaVu Sans","Liberation Sans",sans-serif' font-weight="normal" >14</text>
<text transform="translate(730.7,736.8) rotate(-90)" font-size="26" text-anchor="middle" font-family='"DejaVu Sans","Liberation Sans",sans-serif'>(m.s<tspan dy="-9.5" font-size="18.2">−1</tspan><tspan dy="9.5">)</tspan></text>
<rect x="645.3" y="1331.11" width="20.2" height="46.25" fill="#175290"/>
<rect x="645.3" y="1285.25" width="20.2" height="46.25" fill="#3f8ec0"/>
<rect x="645.3" y="1239.40" width="20.2" height="46.25" fill="#9bc9e0"/>
<rect x="645.3" y="1193.55" width="20.2" height="46.25" fill="#e0ecf3"/>
<rect x="645.3" y="1147.70" width="20.2" height="46.25" fill="#fbe5d8"/>
<rect x="645.3" y="1101.85" width="20.2" height="46.25" fill="#f5aa89"/>
<rect x="645.3" y="1055.99" width="20.2" height="46.25" fill="#d05548"/>
<rect x="645.3" y="1010.14" width="20.2" height="46.25" fill="#930e26"/>
<polygon points="645.3,1010.4 655.4,991.8 665.5,1010.4" fill="#67001f"/>
<polygon points="645.3,1376.7 655.4,1395.3 665.5,1376.7" fill="#053061"/>
<polygon points="645.3,1010.1 655.4,991.8 665.5,1010.1 665.5,1377.0 655.4,1395.3 645.3,1377.0" fill="none" stroke="#444" stroke-width="0.9"/>
<path d="M665.5 1377.0h4" stroke="#000" stroke-width="1"/>
<text x="672.5" y="1386.7" font-size="25.6" text-anchor="start" fill="#000" font-family='"DejaVu Sans","Liberation Sans",sans-serif' font-weight="normal" >-2.0</text>
<path d="M665.5 1331.1h4" stroke="#000" stroke-width="1"/>
<text x="672.5" y="1340.8" font-size="25.6" text-anchor="start" fill="#000" font-family='"DejaVu Sans","Liberation Sans",sans-serif' font-weight="normal" >-1.5</text>
<path d="M665.5 1285.3h4" stroke="#000" stroke-width="1"/>
<text x="672.5" y="1295.0" font-size="25.6" text-anchor="start" fill="#000" font-family='"DejaVu Sans","Liberation Sans",sans-serif' font-weight="normal" >-1.0</text>
<path d="M665.5 1239.4h4" stroke="#000" stroke-width="1"/>
<text x="672.5" y="1249.1" font-size="25.6" text-anchor="start" fill="#000" font-family='"DejaVu Sans","Liberation Sans",sans-serif' font-weight="normal" >-0.5</text>
<path d="M665.5 1193.5h4" stroke="#000" stroke-width="1"/>
<text x="672.5" y="1203.2" font-size="25.6" text-anchor="start" fill="#000" font-family='"DejaVu Sans","Liberation Sans",sans-serif' font-weight="normal" >0.0</text>
<path d="M665.5 1147.7h4" stroke="#000" stroke-width="1"/>
<text x="672.5" y="1157.4" font-size="25.6" text-anchor="start" fill="#000" font-family='"DejaVu Sans","Liberation Sans",sans-serif' font-weight="normal" >0.5</text>
<path d="M665.5 1101.8h4" stroke="#000" stroke-width="1"/>
<text x="672.5" y="1111.5" font-size="25.6" text-anchor="start" fill="#000" font-family='"DejaVu Sans","Liberation Sans",sans-serif' font-weight="normal" >1.0</text>
<path d="M665.5 1056.0h4" stroke="#000" stroke-width="1"/>
<text x="672.5" y="1065.7" font-size="25.6" text-anchor="start" fill="#000" font-family='"DejaVu Sans","Liberation Sans",sans-serif' font-weight="normal" >1.5</text>
<path d="M665.5 1010.1h4" stroke="#000" stroke-width="1"/>
<text x="672.5" y="1019.8" font-size="25.6" text-anchor="start" fill="#000" font-family='"DejaVu Sans","Liberation Sans",sans-serif' font-weight="normal" >2.0</text>
<text transform="translate(748.0,1193.5) rotate(-90)" font-size="26" text-anchor="middle" font-family='"DejaVu Sans","Liberation Sans",sans-serif'>(m.s<tspan dy="-9.5" font-size="18.2">−1</tspan><tspan dy="9.5">)</tspan></text>
<rect x="1364.3" y="412.89" width="20.2" height="30.97" fill="#fff9be"/>
<rect x="1364.3" y="382.32" width="20.2" height="30.97" fill="#ffeda0"/>
<rect x="1364.3" y="351.75" width="20.2" height="30.97" fill="#fee084"/>
<rect x="1364.3" y="321.19" width="20.2" height="30.97" fill="#fecc68"/>
<rect x="1364.3" y="290.62" width="20.2" height="30.97" fill="#feb24c"/>
<rect x="1364.3" y="260.05" width="20.2" height="30.97" fill="#fd9941"/>
<rect x="1364.3" y="229.48" width="20.2" height="30.97" fill="#fd7836"/>
<rect x="1364.3" y="198.91" width="20.2" height="30.97" fill="#fc4d2a"/>
<rect x="1364.3" y="168.35" width="20.2" height="30.97" fill="#eb2b21"/>
<rect x="1364.3" y="137.78" width="20.2" height="30.97" fill="#d6111f"/>
<rect x="1364.3" y="107.21" width="20.2" height="30.97" fill="#bb0026"/>
<rect x="1364.3" y="76.64" width="20.2" height="30.97" fill="#930026"/>
<polygon points="1364.3,76.9 1374.4,58.3 1384.5,76.9" fill="#800026"/>
<polygon points="1364.3,443.2 1374.4,461.8 1384.5,443.2" fill="#ffffcc"/>
<polygon points="1364.3,76.6 1374.4,58.3 1384.5,76.6 1384.5,443.5 1374.4,461.8 1364.3,443.5" fill="none" stroke="#444" stroke-width="0.9"/>
<path d="M1384.5 443.5h4" stroke="#000" stroke-width="1"/>
<text x="1391.5" y="453.2" font-size="25.6" text-anchor="start" fill="#000" font-family='"DejaVu Sans","Liberation Sans",sans-serif' font-weight="normal" >19.0</text>
<path d="M1384.5 412.9h4" stroke="#000" stroke-width="1"/>
<text x="1391.5" y="422.6" font-size="25.6" text-anchor="start" fill="#000" font-family='"DejaVu Sans","Liberation Sans",sans-serif' font-weight="normal" >19.5</text>
<path d="M1384.5 382.3h4" stroke="#000" stroke-width="1"/>
<text x="1391.5" y="392.0" font-size="25.6" text-anchor="start" fill="#000" font-family='"DejaVu Sans","Liberation Sans",sans-serif' font-weight="normal" >20.0</text>
<path d="M1384.5 351.8h4" stroke="#000" stroke-width="1"/>
<text x="1391.5" y="361.5" font-size="25.6" text-anchor="start" fill="#000" font-family='"DejaVu Sans","Liberation Sans",sans-serif' font-weight="normal" >20.5</text>
<path d="M1384.5 321.2h4" stroke="#000" stroke-width="1"/>
<text x="1391.5" y="330.9" font-size="25.6" text-anchor="start" fill="#000" font-family='"DejaVu Sans","Liberation Sans",sans-serif' font-weight="normal" >21.0</text>
<path d="M1384.5 290.6h4" stroke="#000" stroke-width="1"/>
<text x="1391.5" y="300.3" font-size="25.6" text-anchor="start" fill="#000" font-family='"DejaVu Sans","Liberation Sans",sans-serif' font-weight="normal" >21.5</text>
<path d="M1384.5 260.1h4" stroke="#000" stroke-width="1"/>
<text x="1391.5" y="269.8" font-size="25.6" text-anchor="start" fill="#000" font-family='"DejaVu Sans","Liberation Sans",sans-serif' font-weight="normal" >22.0</text>
<path d="M1384.5 229.5h4" stroke="#000" stroke-width="1"/>
<text x="1391.5" y="239.2" font-size="25.6" text-anchor="start" fill="#000" font-family='"DejaVu Sans","Liberation Sans",sans-serif' font-weight="normal" >22.5</text>
<path d="M1384.5 198.9h4" stroke="#000" stroke-width="1"/>
<text x="1391.5" y="208.6" font-size="25.6" text-anchor="start" fill="#000" font-family='"DejaVu Sans","Liberation Sans",sans-serif' font-weight="normal" >23.0</text>
<path d="M1384.5 168.3h4" stroke="#000" stroke-width="1"/>
<text x="1391.5" y="178.0" font-size="25.6" text-anchor="start" fill="#000" font-family='"DejaVu Sans","Liberation Sans",sans-serif' font-weight="normal" >23.5</text>
<path d="M1384.5 137.8h4" stroke="#000" stroke-width="1"/>
<text x="1391.5" y="147.5" font-size="25.6" text-anchor="start" fill="#000" font-family='"DejaVu Sans","Liberation Sans",sans-serif' font-weight="normal" >24.0</text>
<path d="M1384.5 107.2h4" stroke="#000" stroke-width="1"/>
<text x="1391.5" y="116.9" font-size="25.6" text-anchor="start" fill="#000" font-family='"DejaVu Sans","Liberation Sans",sans-serif' font-weight="normal" >24.5</text>
<path d="M1384.5 76.6h4" stroke="#000" stroke-width="1"/>
<text x="1391.5" y="86.3" font-size="25.6" text-anchor="start" fill="#000" font-family='"DejaVu Sans","Liberation Sans",sans-serif' font-weight="normal" >25.0</text>
<text transform="translate(1473.0,285.4) rotate(-90)" font-size="27" font-family='"DejaVu Sans","Liberation Sans",sans-serif'><tspan x="-2.1" font-size="25.5">(</tspan><tspan x="12.1" dy="-4.8" font-size="19">°</tspan><tspan x="27.1" dy="4.8">C</tspan><tspan x="44.7" font-size="25.5">)</tspan></text>
<rect x="1364.3" y="879.99" width="20.2" height="30.97" fill="#fff9be"/>
<rect x="1364.3" y="849.42" width="20.2" height="30.97" fill="#ffeda0"/>
<rect x="1364.3" y="818.85" width="20.2" height="30.97" fill="#fee084"/>
<rect x="1364.3" y="788.29" width="20.2" height="30.97" fill="#fecc68"/>
<rect x="1364.3" y="757.72" width="20.2" height="30.97" fill="#feb24c"/>
<rect x="1364.3" y="727.15" width="20.2" height="30.97" fill="#fd9941"/>
<rect x="1364.3" y="696.58" width="20.2" height="30.97" fill="#fd7836"/>
<rect x="1364.3" y="666.01" width="20.2" height="30.97" fill="#fc4d2a"/>
<rect x="1364.3" y="635.45" width="20.2" height="30.97" fill="#eb2b21"/>
<rect x="1364.3" y="604.88" width="20.2" height="30.97" fill="#d6111f"/>
<rect x="1364.3" y="574.31" width="20.2" height="30.97" fill="#bb0026"/>
<rect x="1364.3" y="543.74" width="20.2" height="30.97" fill="#930026"/>
<polygon points="1364.3,544.0 1374.4,525.4 1384.5,544.0" fill="#800026"/>
<polygon points="1364.3,910.3 1374.4,928.9 1384.5,910.3" fill="#ffffcc"/>
<polygon points="1364.3,543.7 1374.4,525.4 1384.5,543.7 1384.5,910.6 1374.4,928.9 1364.3,910.6" fill="none" stroke="#444" stroke-width="0.9"/>
<path d="M1384.5 910.6h4" stroke="#000" stroke-width="1"/>
<text x="1391.5" y="920.3" font-size="25.6" text-anchor="start" fill="#000" font-family='"DejaVu Sans","Liberation Sans",sans-serif' font-weight="normal" >19.0</text>
<path d="M1384.5 880.0h4" stroke="#000" stroke-width="1"/>
<text x="1391.5" y="889.7" font-size="25.6" text-anchor="start" fill="#000" font-family='"DejaVu Sans","Liberation Sans",sans-serif' font-weight="normal" >19.5</text>
<path d="M1384.5 849.4h4" stroke="#000" stroke-width="1"/>
<text x="1391.5" y="859.1" font-size="25.6" text-anchor="start" fill="#000" font-family='"DejaVu Sans","Liberation Sans",sans-serif' font-weight="normal" >20.0</text>
<path d="M1384.5 818.9h4" stroke="#000" stroke-width="1"/>
<text x="1391.5" y="828.6" font-size="25.6" text-anchor="start" fill="#000" font-family='"DejaVu Sans","Liberation Sans",sans-serif' font-weight="normal" >20.5</text>
<path d="M1384.5 788.3h4" stroke="#000" stroke-width="1"/>
<text x="1391.5" y="798.0" font-size="25.6" text-anchor="start" fill="#000" font-family='"DejaVu Sans","Liberation Sans",sans-serif' font-weight="normal" >21.0</text>
<path d="M1384.5 757.7h4" stroke="#000" stroke-width="1"/>
<text x="1391.5" y="767.4" font-size="25.6" text-anchor="start" fill="#000" font-family='"DejaVu Sans","Liberation Sans",sans-serif' font-weight="normal" >21.5</text>
<path d="M1384.5 727.1h4" stroke="#000" stroke-width="1"/>
<text x="1391.5" y="736.9" font-size="25.6" text-anchor="start" fill="#000" font-family='"DejaVu Sans","Liberation Sans",sans-serif' font-weight="normal" >22.0</text>
<path d="M1384.5 696.6h4" stroke="#000" stroke-width="1"/>
<text x="1391.5" y="706.3" font-size="25.6" text-anchor="start" fill="#000" font-family='"DejaVu Sans","Liberation Sans",sans-serif' font-weight="normal" >22.5</text>
<path d="M1384.5 666.0h4" stroke="#000" stroke-width="1"/>
<text x="1391.5" y="675.7" font-size="25.6" text-anchor="start" fill="#000" font-family='"DejaVu Sans","Liberation Sans",sans-serif' font-weight="normal" >23.0</text>
<path d="M1384.5 635.4h4" stroke="#000" stroke-width="1"/>
<text x="1391.5" y="645.1" font-size="25.6" text-anchor="start" fill="#000" font-family='"DejaVu Sans","Liberation Sans",sans-serif' font-weight="normal" >23.5</text>
<path d="M1384.5 604.9h4" stroke="#000" stroke-width="1"/>
<text x="1391.5" y="614.6" font-size="25.6" text-anchor="start" fill="#000" font-family='"DejaVu Sans","Liberation Sans",sans-serif' font-weight="normal" >24.0</text>
<path d="M1384.5 574.3h4" stroke="#000" stroke-width="1"/>
<text x="1391.5" y="584.0" font-size="25.6" text-anchor="start" fill="#000" font-family='"DejaVu Sans","Liberation Sans",sans-serif' font-weight="normal" >24.5</text>
<path d="M1384.5 543.7h4" stroke="#000" stroke-width="1"/>
<text x="1391.5" y="553.4" font-size="25.6" text-anchor="start" fill="#000" font-family='"DejaVu Sans","Liberation Sans",sans-serif' font-weight="normal" >25.0</text>
<text transform="translate(1473.0,752.5) rotate(-90)" font-size="27" font-family='"DejaVu Sans","Liberation Sans",sans-serif'><tspan x="-2.1" font-size="25.5">(</tspan><tspan x="12.1" dy="-4.8" font-size="19">°</tspan><tspan x="27.1" dy="4.8">C</tspan><tspan x="44.7" font-size="25.5">)</tspan></text>
<rect x="1364.3" y="1340.28" width="20.2" height="37.08" fill="#124984"/>
<rect x="1364.3" y="1303.60" width="20.2" height="37.08" fill="#327cb7"/>
<rect x="1364.3" y="1266.91" width="20.2" height="37.08" fill="#6bacd1"/>
<rect x="1364.3" y="1230.23" width="20.2" height="37.08" fill="#b1d5e7"/>
<rect x="1364.3" y="1193.55" width="20.2" height="37.08" fill="#e4eef4"/>
<rect x="1364.3" y="1156.87" width="20.2" height="37.08" fill="#fae9df"/>
<rect x="1364.3" y="1120.19" width="20.2" height="37.08" fill="#f8bfa4"/>
<rect x="1364.3" y="1083.50" width="20.2" height="37.08" fill="#e48066"/>
<rect x="1364.3" y="1046.82" width="20.2" height="37.08" fill="#c43b3c"/>
<rect x="1364.3" y="1010.14" width="20.2" height="37.08" fill="#8a0b25"/>
<polygon points="1364.3,1010.4 1374.4,991.8 1384.5,1010.4" fill="#67001f"/>
<polygon points="1364.3,1376.7 1374.4,1395.3 1384.5,1376.7" fill="#053061"/>
<polygon points="1364.3,1010.1 1374.4,991.8 1384.5,1010.1 1384.5,1377.0 1374.4,1395.3 1364.3,1377.0" fill="none" stroke="#444" stroke-width="0.9"/>
<path d="M1384.5 1377.0h4" stroke="#000" stroke-width="1"/>
<text x="1391.5" y="1386.7" font-size="25.6" text-anchor="start" fill="#000" font-family='"DejaVu Sans","Liberation Sans",sans-serif' font-weight="normal" >-5.0</text>
<path d="M1384.5 1340.3h4" stroke="#000" stroke-width="1"/>
<text x="1391.5" y="1350.0" font-size="25.6" text-anchor="start" fill="#000" font-family='"DejaVu Sans","Liberation Sans",sans-serif' font-weight="normal" >-4.0</text>
<path d="M1384.5 1303.6h4" stroke="#000" stroke-width="1"/>
<text x="1391.5" y="1313.3" font-size="25.6" text-anchor="start" fill="#000" font-family='"DejaVu Sans","Liberation Sans",sans-serif' font-weight="normal" >-3.0</text>
<path d="M1384.5 1266.9h4" stroke="#000" stroke-width="1"/>
<text x="1391.5" y="1276.6" font-size="25.6" text-anchor="start" fill="#000" font-family='"DejaVu Sans","Liberation Sans",sans-serif' font-weight="normal" >-2.0</text>
<path d="M1384.5 1230.2h4" stroke="#000" stroke-width="1"/>
<text x="1391.5" y="1239.9" font-size="25.6" text-anchor="start" fill="#000" font-family='"DejaVu Sans","Liberation Sans",sans-serif' font-weight="normal" >-1.0</text>
<path d="M1384.5 1193.5h4" stroke="#000" stroke-width="1"/>
<text x="1391.5" y="1203.2" font-size="25.6" text-anchor="start" fill="#000" font-family='"DejaVu Sans","Liberation Sans",sans-serif' font-weight="normal" >0.0</text>
<path d="M1384.5 1156.9h4" stroke="#000" stroke-width="1"/>
<text x="1391.5" y="1166.6" font-size="25.6" text-anchor="start" fill="#000" font-family='"DejaVu Sans","Liberation Sans",sans-serif' font-weight="normal" >1.0</text>
<path d="M1384.5 1120.2h4" stroke="#000" stroke-width="1"/>
<text x="1391.5" y="1129.9" font-size="25.6" text-anchor="start" fill="#000" font-family='"DejaVu Sans","Liberation Sans",sans-serif' font-weight="normal" >2.0</text>
<path d="M1384.5 1083.5h4" stroke="#000" stroke-width="1"/>
<text x="1391.5" y="1093.2" font-size="25.6" text-anchor="start" fill="#000" font-family='"DejaVu Sans","Liberation Sans",sans-serif' font-weight="normal" >3.0</text>
<path d="M1384.5 1046.8h4" stroke="#000" stroke-width="1"/>
<text x="1391.5" y="1056.5" font-size="25.6" text-anchor="start" fill="#000" font-family='"DejaVu Sans","Liberation Sans",sans-serif' font-weight="normal" >4.0</text>
<path d="M1384.5 1010.1h4" stroke="#000" stroke-width="1"/>
<text x="1391.5" y="1019.8" font-size="25.6" text-anchor="start" fill="#000" font-family='"DejaVu Sans","Liberation Sans",sans-serif' font-weight="normal" >5.0</text>
<text transform="translate(1465.4,1219.0) rotate(-90)" font-size="27" font-family='"DejaVu Sans","Liberation Sans",sans-serif'><tspan x="-2.1" font-size="25.5">(</tspan><tspan x="12.1" dy="-4.8" font-size="19">°</tspan><tspan x="27.1" dy="4.8">C</tspan><tspan x="44.7" font-size="25.5">)</tspan></text>
</svg></body></html>
